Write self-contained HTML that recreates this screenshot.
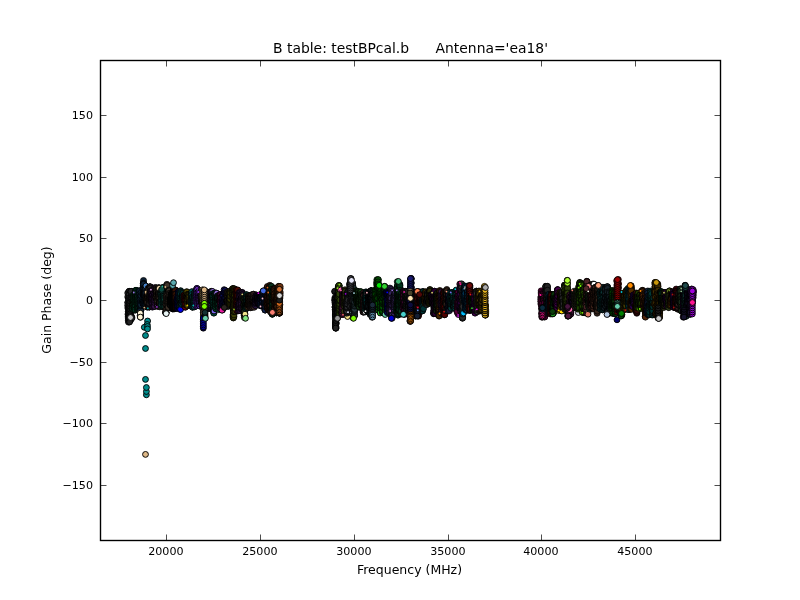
<!DOCTYPE html>
<html><head><meta charset="utf-8"><title>B table: testBPcal.b</title>
<style>
html,body{margin:0;padding:0;background:#fff;}
body{width:800px;height:600px;overflow:hidden;position:relative;font-family:"DejaVu Sans","Liberation Sans",sans-serif;color:#000;}
svg{position:absolute;left:0;top:0;display:block}
text{font-family:"DejaVu Sans","Liberation Sans",sans-serif;fill:#000}
.tk{font-size:11.1px}
.lb{font-size:12.5px}
.tt{font-size:13.9px;white-space:pre}
.m circle{stroke:#000;stroke-width:.95px}
.m .c circle{stroke-width:.7px}
.m .s circle{stroke:none}
</style></head><body>
<svg width="800" height="600" viewBox="0 0 800 600">
<rect x="0" y="0" width="800" height="600" fill="#fff"/>
<g class="m" id="markers">
<g class="c" fill="#262629"><circle cx="127.8" cy="293.0" r="3.05"/><circle cx="127.8" cy="296.9" r="3.05"/><circle cx="127.9" cy="302.7" r="3.05"/><circle cx="127.9" cy="302.4" r="3.05"/><circle cx="128.0" cy="306.0" r="3.05"/><circle cx="128.0" cy="305.3" r="3.05"/><circle cx="128.0" cy="307.5" r="3.05"/><circle cx="128.1" cy="308.6" r="3.05"/><circle cx="128.1" cy="304.7" r="3.05"/><circle cx="128.2" cy="314.2" r="3.05"/><circle cx="128.2" cy="314.8" r="3.05"/><circle cx="128.3" cy="316.6" r="3.05"/><circle cx="128.3" cy="311.6" r="3.05"/><circle cx="128.3" cy="313.2" r="3.05"/><circle cx="128.4" cy="317.5" r="3.05"/><circle cx="128.4" cy="320.6" r="3.05"/><circle cx="128.5" cy="322.1" r="3.05"/><circle cx="128.5" cy="318.6" r="3.05"/><circle cx="128.5" cy="318.6" r="3.05"/><circle cx="128.6" cy="313.2" r="3.05"/><circle cx="128.6" cy="314.4" r="3.05"/><circle cx="128.7" cy="312.9" r="3.05"/><circle cx="128.7" cy="307.9" r="3.05"/><circle cx="128.7" cy="313.5" r="3.05"/><circle cx="128.8" cy="308.2" r="3.05"/><circle cx="128.8" cy="308.4" r="3.05"/><circle cx="128.9" cy="301.1" r="3.05"/><circle cx="128.9" cy="299.0" r="3.05"/><circle cx="128.9" cy="298.5" r="3.05"/><circle cx="129.0" cy="297.4" r="3.05"/><circle cx="129.0" cy="298.0" r="3.05"/><circle cx="129.1" cy="295.0" r="3.05"/><circle cx="129.1" cy="291.4" r="3.05"/><circle cx="129.2" cy="291.4" r="3.05"/><circle cx="129.2" cy="292.2" r="3.05"/><circle cx="129.2" cy="299.3" r="3.05"/><circle cx="129.3" cy="294.8" r="3.05"/><circle cx="129.3" cy="299.7" r="3.05"/><circle cx="129.4" cy="302.0" r="3.05"/><circle cx="129.4" cy="297.9" r="3.05"/></g>
<g class="c" fill="#262629"><circle cx="130.2" cy="309.4" r="3.05"/><circle cx="130.2" cy="309.5" r="3.05"/><circle cx="130.2" cy="307.2" r="3.05"/><circle cx="130.3" cy="315.4" r="3.05"/><circle cx="130.3" cy="316.7" r="3.05"/><circle cx="130.4" cy="319.2" r="3.05"/><circle cx="130.4" cy="320.1" r="3.05"/><circle cx="130.4" cy="320.1" r="3.05"/><circle cx="130.5" cy="319.1" r="3.05"/><circle cx="130.5" cy="313.3" r="3.05"/><circle cx="130.6" cy="317.1" r="3.05"/><circle cx="130.6" cy="311.9" r="3.05"/><circle cx="130.6" cy="310.7" r="3.05"/><circle cx="130.7" cy="306.7" r="3.05"/><circle cx="130.7" cy="305.8" r="3.05"/><circle cx="130.8" cy="305.4" r="3.05"/><circle cx="130.8" cy="308.9" r="3.05"/><circle cx="130.9" cy="297.7" r="3.05"/><circle cx="130.9" cy="297.7" r="3.05"/><circle cx="130.9" cy="300.8" r="3.05"/><circle cx="131.0" cy="302.6" r="3.05"/><circle cx="131.0" cy="298.4" r="3.05"/><circle cx="131.1" cy="291.5" r="3.05"/><circle cx="131.1" cy="291.5" r="3.05"/><circle cx="131.1" cy="292.7" r="3.05"/><circle cx="131.2" cy="291.5" r="3.05"/><circle cx="131.2" cy="291.5" r="3.05"/><circle cx="131.3" cy="299.2" r="3.05"/><circle cx="131.3" cy="301.2" r="3.05"/><circle cx="131.3" cy="300.2" r="3.05"/><circle cx="131.4" cy="302.1" r="3.05"/><circle cx="131.4" cy="304.4" r="3.05"/><circle cx="131.5" cy="309.4" r="3.05"/><circle cx="131.5" cy="308.3" r="3.05"/><circle cx="131.5" cy="309.7" r="3.05"/><circle cx="131.6" cy="311.5" r="3.05"/><circle cx="131.6" cy="307.1" r="3.05"/><circle cx="131.7" cy="316.9" r="3.05"/><circle cx="131.7" cy="317.7" r="3.05"/><circle cx="131.8" cy="318.2" r="3.05"/></g>
<g fill="#242424"><circle cx="129.6" cy="303.0" r="2.92"/><circle cx="129.6" cy="304.6" r="2.92"/><circle cx="129.6" cy="306.2" r="2.92"/><circle cx="129.6" cy="307.8" r="2.92"/><circle cx="129.6" cy="309.3" r="2.92"/><circle cx="129.6" cy="310.9" r="2.92"/><circle cx="129.6" cy="312.5" r="2.92"/><circle cx="129.6" cy="314.1" r="2.92"/><circle cx="129.6" cy="315.7" r="2.92"/><circle cx="129.6" cy="317.2" r="2.92"/><circle cx="129.6" cy="318.8" r="2.92"/><circle cx="129.6" cy="320.4" r="2.92"/><circle cx="129.6" cy="322.0" r="2.92"/></g>
<g fill="#9370db"><circle cx="136.6" cy="293.0" r="2.92"/></g>
<g class="c" fill="#004625"><circle cx="132.5" cy="304.8" r="3.05"/><circle cx="132.6" cy="308.9" r="3.05"/><circle cx="132.6" cy="308.7" r="3.05"/><circle cx="132.6" cy="308.3" r="3.05"/><circle cx="132.7" cy="308.9" r="3.05"/><circle cx="132.7" cy="308.9" r="3.05"/><circle cx="132.8" cy="307.6" r="3.05"/><circle cx="132.8" cy="308.4" r="3.05"/><circle cx="132.8" cy="305.3" r="3.05"/><circle cx="132.9" cy="305.0" r="3.05"/><circle cx="132.9" cy="306.3" r="3.05"/><circle cx="133.0" cy="304.3" r="3.05"/><circle cx="133.0" cy="302.4" r="3.05"/><circle cx="133.0" cy="304.3" r="3.05"/><circle cx="133.1" cy="304.4" r="3.05"/><circle cx="133.1" cy="301.1" r="3.05"/><circle cx="133.2" cy="299.2" r="3.05"/><circle cx="133.2" cy="300.2" r="3.05"/><circle cx="133.2" cy="299.6" r="3.05"/><circle cx="133.3" cy="298.7" r="3.05"/><circle cx="133.3" cy="300.4" r="3.05"/><circle cx="133.4" cy="296.4" r="3.05"/><circle cx="133.4" cy="299.0" r="3.05"/><circle cx="133.5" cy="295.2" r="3.05"/><circle cx="133.5" cy="295.2" r="3.05"/><circle cx="133.5" cy="296.2" r="3.05"/><circle cx="133.6" cy="297.2" r="3.05"/><circle cx="133.6" cy="297.5" r="3.05"/><circle cx="133.7" cy="297.4" r="3.05"/><circle cx="133.7" cy="297.7" r="3.05"/><circle cx="133.7" cy="298.4" r="3.05"/><circle cx="133.8" cy="299.6" r="3.05"/><circle cx="133.8" cy="299.2" r="3.05"/><circle cx="133.9" cy="300.5" r="3.05"/><circle cx="133.9" cy="301.5" r="3.05"/><circle cx="133.9" cy="301.4" r="3.05"/><circle cx="134.0" cy="303.1" r="3.05"/><circle cx="134.0" cy="303.4" r="3.05"/><circle cx="134.1" cy="306.1" r="3.05"/><circle cx="134.1" cy="304.4" r="3.05"/></g>
<g class="c" fill="#004127"><circle cx="134.9" cy="303.3" r="3.05"/><circle cx="134.9" cy="305.6" r="3.05"/><circle cx="134.9" cy="309.3" r="3.05"/><circle cx="135.0" cy="301.6" r="3.05"/><circle cx="135.0" cy="305.3" r="3.05"/><circle cx="135.1" cy="308.9" r="3.05"/><circle cx="135.1" cy="309.9" r="3.05"/><circle cx="135.2" cy="309.9" r="3.05"/><circle cx="135.2" cy="307.9" r="3.05"/><circle cx="135.2" cy="309.1" r="3.05"/><circle cx="135.3" cy="307.5" r="3.05"/><circle cx="135.3" cy="305.1" r="3.05"/><circle cx="135.4" cy="309.9" r="3.05"/><circle cx="135.4" cy="305.0" r="3.05"/><circle cx="135.4" cy="302.3" r="3.05"/><circle cx="135.5" cy="302.3" r="3.05"/><circle cx="135.5" cy="301.2" r="3.05"/><circle cx="135.6" cy="300.6" r="3.05"/><circle cx="135.6" cy="294.5" r="3.05"/><circle cx="135.6" cy="298.0" r="3.05"/><circle cx="135.7" cy="300.0" r="3.05"/><circle cx="135.7" cy="294.9" r="3.05"/><circle cx="135.8" cy="296.2" r="3.05"/><circle cx="135.8" cy="297.3" r="3.05"/><circle cx="135.8" cy="296.2" r="3.05"/><circle cx="135.9" cy="296.5" r="3.05"/><circle cx="135.9" cy="290.4" r="3.05"/><circle cx="136.0" cy="291.2" r="3.05"/><circle cx="136.0" cy="290.4" r="3.05"/><circle cx="136.1" cy="291.9" r="3.05"/><circle cx="136.1" cy="293.7" r="3.05"/><circle cx="136.1" cy="290.4" r="3.05"/><circle cx="136.2" cy="295.5" r="3.05"/><circle cx="136.2" cy="291.5" r="3.05"/><circle cx="136.3" cy="296.5" r="3.05"/><circle cx="136.3" cy="293.1" r="3.05"/><circle cx="136.3" cy="297.3" r="3.05"/><circle cx="136.4" cy="300.2" r="3.05"/><circle cx="136.4" cy="298.4" r="3.05"/><circle cx="136.5" cy="300.0" r="3.05"/></g>
<g class="c" fill="#004127"><circle cx="137.2" cy="309.7" r="3.05"/><circle cx="137.3" cy="306.9" r="3.05"/><circle cx="137.3" cy="309.7" r="3.05"/><circle cx="137.3" cy="307.6" r="3.05"/><circle cx="137.4" cy="307.1" r="3.05"/><circle cx="137.4" cy="307.0" r="3.05"/><circle cx="137.5" cy="305.0" r="3.05"/><circle cx="137.5" cy="304.6" r="3.05"/><circle cx="137.5" cy="299.5" r="3.05"/><circle cx="137.6" cy="298.4" r="3.05"/><circle cx="137.6" cy="301.0" r="3.05"/><circle cx="137.7" cy="297.1" r="3.05"/><circle cx="137.7" cy="295.8" r="3.05"/><circle cx="137.8" cy="293.8" r="3.05"/><circle cx="137.8" cy="297.5" r="3.05"/><circle cx="137.8" cy="295.4" r="3.05"/><circle cx="137.9" cy="295.6" r="3.05"/><circle cx="137.9" cy="291.9" r="3.05"/><circle cx="138.0" cy="293.2" r="3.05"/><circle cx="138.0" cy="292.3" r="3.05"/><circle cx="138.0" cy="296.9" r="3.05"/><circle cx="138.1" cy="299.5" r="3.05"/><circle cx="138.1" cy="296.3" r="3.05"/><circle cx="138.2" cy="301.8" r="3.05"/><circle cx="138.2" cy="301.9" r="3.05"/><circle cx="138.2" cy="301.0" r="3.05"/><circle cx="138.3" cy="299.0" r="3.05"/><circle cx="138.3" cy="306.2" r="3.05"/><circle cx="138.4" cy="304.7" r="3.05"/><circle cx="138.4" cy="304.9" r="3.05"/><circle cx="138.5" cy="307.9" r="3.05"/><circle cx="138.5" cy="309.0" r="3.05"/><circle cx="138.5" cy="309.7" r="3.05"/><circle cx="138.6" cy="306.9" r="3.05"/><circle cx="138.6" cy="309.6" r="3.05"/><circle cx="138.7" cy="309.0" r="3.05"/><circle cx="138.7" cy="307.8" r="3.05"/><circle cx="138.7" cy="303.8" r="3.05"/><circle cx="138.8" cy="301.6" r="3.05"/><circle cx="138.8" cy="303.6" r="3.05"/></g>
<g class="c" fill="#0e2135"><circle cx="139.5" cy="294.5" r="3.05"/><circle cx="139.6" cy="290.6" r="3.05"/><circle cx="139.6" cy="293.5" r="3.05"/><circle cx="139.7" cy="292.2" r="3.05"/><circle cx="139.7" cy="291.1" r="3.05"/><circle cx="139.8" cy="294.2" r="3.05"/><circle cx="139.8" cy="297.8" r="3.05"/><circle cx="139.8" cy="297.2" r="3.05"/><circle cx="139.9" cy="302.0" r="3.05"/><circle cx="139.9" cy="299.7" r="3.05"/><circle cx="140.0" cy="304.0" r="3.05"/><circle cx="140.0" cy="306.6" r="3.05"/><circle cx="140.0" cy="308.4" r="3.05"/><circle cx="140.1" cy="303.7" r="3.05"/><circle cx="140.1" cy="309.3" r="3.05"/><circle cx="140.2" cy="303.4" r="3.05"/><circle cx="140.2" cy="306.9" r="3.05"/><circle cx="140.2" cy="306.0" r="3.05"/><circle cx="140.3" cy="315.4" r="3.05"/><circle cx="140.3" cy="310.7" r="3.05"/><circle cx="140.4" cy="315.4" r="3.05"/><circle cx="140.4" cy="316.3" r="3.05"/><circle cx="140.5" cy="316.1" r="3.05"/><circle cx="140.5" cy="313.1" r="3.05"/><circle cx="140.5" cy="313.9" r="3.05"/><circle cx="140.6" cy="317.2" r="3.05"/><circle cx="140.6" cy="310.6" r="3.05"/><circle cx="140.7" cy="310.5" r="3.05"/><circle cx="140.7" cy="310.3" r="3.05"/><circle cx="140.7" cy="305.7" r="3.05"/><circle cx="140.8" cy="301.4" r="3.05"/><circle cx="140.8" cy="301.9" r="3.05"/><circle cx="140.9" cy="304.8" r="3.05"/><circle cx="140.9" cy="296.2" r="3.05"/><circle cx="140.9" cy="297.5" r="3.05"/><circle cx="141.0" cy="300.4" r="3.05"/><circle cx="141.0" cy="298.4" r="3.05"/><circle cx="141.1" cy="294.9" r="3.05"/><circle cx="141.1" cy="295.6" r="3.05"/><circle cx="141.2" cy="292.5" r="3.05"/></g>
<g class="c" fill="#0e2135"><circle cx="142.8" cy="300.3" r="3.05"/><circle cx="142.8" cy="302.2" r="3.05"/><circle cx="142.9" cy="301.2" r="3.05"/><circle cx="142.9" cy="303.1" r="3.05"/><circle cx="143.0" cy="298.8" r="3.05"/><circle cx="143.0" cy="301.1" r="3.05"/><circle cx="143.0" cy="292.7" r="3.05"/><circle cx="143.1" cy="297.8" r="3.05"/><circle cx="143.1" cy="293.8" r="3.05"/><circle cx="143.2" cy="289.0" r="3.05"/><circle cx="143.2" cy="294.0" r="3.05"/><circle cx="143.3" cy="289.9" r="3.05"/><circle cx="143.3" cy="283.5" r="3.05"/><circle cx="143.3" cy="285.3" r="3.05"/><circle cx="143.4" cy="286.6" r="3.05"/><circle cx="143.4" cy="283.1" r="3.05"/><circle cx="143.5" cy="284.6" r="3.05"/><circle cx="143.5" cy="280.5" r="3.05"/><circle cx="143.5" cy="283.2" r="3.05"/><circle cx="143.6" cy="283.9" r="3.05"/><circle cx="143.6" cy="288.0" r="3.05"/><circle cx="143.7" cy="288.0" r="3.05"/><circle cx="143.7" cy="289.0" r="3.05"/><circle cx="143.7" cy="284.3" r="3.05"/><circle cx="143.8" cy="293.3" r="3.05"/><circle cx="143.8" cy="296.0" r="3.05"/><circle cx="143.9" cy="293.6" r="3.05"/><circle cx="143.9" cy="294.7" r="3.05"/><circle cx="143.9" cy="302.3" r="3.05"/><circle cx="144.0" cy="294.7" r="3.05"/><circle cx="144.0" cy="301.8" r="3.05"/><circle cx="144.1" cy="305.3" r="3.05"/><circle cx="144.1" cy="301.6" r="3.05"/><circle cx="144.2" cy="305.3" r="3.05"/><circle cx="144.2" cy="305.3" r="3.05"/><circle cx="144.2" cy="301.7" r="3.05"/><circle cx="144.3" cy="301.8" r="3.05"/><circle cx="144.3" cy="301.1" r="3.05"/><circle cx="144.4" cy="295.0" r="3.05"/><circle cx="144.4" cy="295.4" r="3.05"/></g>
<g fill="#deb887"><circle cx="146.0" cy="306.5" r="2.92"/></g>
<g class="c" fill="#0e2135"><circle cx="144.3" cy="305.3" r="3.05"/><circle cx="144.3" cy="304.9" r="3.05"/><circle cx="144.4" cy="304.1" r="3.05"/><circle cx="144.4" cy="303.5" r="3.05"/><circle cx="144.4" cy="305.9" r="3.05"/><circle cx="144.5" cy="305.2" r="3.05"/><circle cx="144.5" cy="303.3" r="3.05"/><circle cx="144.6" cy="296.3" r="3.05"/><circle cx="144.6" cy="301.2" r="3.05"/><circle cx="144.7" cy="300.0" r="3.05"/><circle cx="144.7" cy="301.2" r="3.05"/><circle cx="144.7" cy="297.9" r="3.05"/><circle cx="144.8" cy="296.0" r="3.05"/><circle cx="144.8" cy="296.1" r="3.05"/><circle cx="144.9" cy="290.5" r="3.05"/><circle cx="144.9" cy="295.0" r="3.05"/><circle cx="144.9" cy="292.7" r="3.05"/><circle cx="145.0" cy="289.8" r="3.05"/><circle cx="145.0" cy="292.6" r="3.05"/><circle cx="145.1" cy="292.5" r="3.05"/><circle cx="145.1" cy="287.5" r="3.05"/><circle cx="145.1" cy="287.5" r="3.05"/><circle cx="145.2" cy="289.3" r="3.05"/><circle cx="145.2" cy="290.1" r="3.05"/><circle cx="145.3" cy="290.0" r="3.05"/><circle cx="145.3" cy="290.0" r="3.05"/><circle cx="145.4" cy="296.6" r="3.05"/><circle cx="145.4" cy="295.6" r="3.05"/><circle cx="145.4" cy="292.5" r="3.05"/><circle cx="145.5" cy="293.3" r="3.05"/><circle cx="145.5" cy="299.9" r="3.05"/><circle cx="145.6" cy="299.5" r="3.05"/><circle cx="145.6" cy="302.1" r="3.05"/><circle cx="145.6" cy="301.2" r="3.05"/><circle cx="145.7" cy="299.1" r="3.05"/><circle cx="145.7" cy="302.2" r="3.05"/><circle cx="145.8" cy="298.7" r="3.05"/><circle cx="145.8" cy="302.3" r="3.05"/><circle cx="145.8" cy="304.6" r="3.05"/><circle cx="145.9" cy="305.9" r="3.05"/></g>
<g fill="#4682c8"><circle cx="145.9" cy="285.9" r="2.92"/></g>
<g class="c" fill="#332821"><circle cx="146.6" cy="295.2" r="3.05"/><circle cx="146.7" cy="298.0" r="3.05"/><circle cx="146.7" cy="297.4" r="3.05"/><circle cx="146.8" cy="296.5" r="3.05"/><circle cx="146.8" cy="297.6" r="3.05"/><circle cx="146.8" cy="299.5" r="3.05"/><circle cx="146.9" cy="300.1" r="3.05"/><circle cx="146.9" cy="301.3" r="3.05"/><circle cx="147.0" cy="301.7" r="3.05"/><circle cx="147.0" cy="302.8" r="3.05"/><circle cx="147.1" cy="303.0" r="3.05"/><circle cx="147.1" cy="301.6" r="3.05"/><circle cx="147.1" cy="305.5" r="3.05"/><circle cx="147.2" cy="306.9" r="3.05"/><circle cx="147.2" cy="306.9" r="3.05"/><circle cx="147.3" cy="306.5" r="3.05"/><circle cx="147.3" cy="306.9" r="3.05"/><circle cx="147.3" cy="303.6" r="3.05"/><circle cx="147.4" cy="301.1" r="3.05"/><circle cx="147.4" cy="304.0" r="3.05"/><circle cx="147.5" cy="301.4" r="3.05"/><circle cx="147.5" cy="303.8" r="3.05"/><circle cx="147.5" cy="299.7" r="3.05"/><circle cx="147.6" cy="296.0" r="3.05"/><circle cx="147.6" cy="298.3" r="3.05"/><circle cx="147.7" cy="302.4" r="3.05"/><circle cx="147.7" cy="298.0" r="3.05"/><circle cx="147.7" cy="295.4" r="3.05"/><circle cx="147.8" cy="295.8" r="3.05"/><circle cx="147.8" cy="297.4" r="3.05"/><circle cx="147.9" cy="296.7" r="3.05"/><circle cx="147.9" cy="295.3" r="3.05"/><circle cx="148.0" cy="297.0" r="3.05"/><circle cx="148.0" cy="294.8" r="3.05"/><circle cx="148.0" cy="292.7" r="3.05"/><circle cx="148.1" cy="293.1" r="3.05"/><circle cx="148.1" cy="294.4" r="3.05"/><circle cx="148.2" cy="292.3" r="3.05"/><circle cx="148.2" cy="291.7" r="3.05"/><circle cx="148.2" cy="288.3" r="3.05"/></g>
<g fill="#deb887"><circle cx="147.6" cy="292.5" r="2.92"/></g>
<g fill="#00aaaa"><circle cx="149.5" cy="307.0" r="2.92"/></g>
<g class="c" fill="#251e21"><circle cx="149.0" cy="306.2" r="3.05"/><circle cx="149.0" cy="305.1" r="3.05"/><circle cx="149.1" cy="306.9" r="3.05"/><circle cx="149.1" cy="306.9" r="3.05"/><circle cx="149.2" cy="305.2" r="3.05"/><circle cx="149.2" cy="304.9" r="3.05"/><circle cx="149.2" cy="306.9" r="3.05"/><circle cx="149.3" cy="302.4" r="3.05"/><circle cx="149.3" cy="303.9" r="3.05"/><circle cx="149.4" cy="303.3" r="3.05"/><circle cx="149.4" cy="300.5" r="3.05"/><circle cx="149.4" cy="297.3" r="3.05"/><circle cx="149.5" cy="299.1" r="3.05"/><circle cx="149.5" cy="298.6" r="3.05"/><circle cx="149.6" cy="299.3" r="3.05"/><circle cx="149.6" cy="297.7" r="3.05"/><circle cx="149.7" cy="295.4" r="3.05"/><circle cx="149.7" cy="296.2" r="3.05"/><circle cx="149.7" cy="294.7" r="3.05"/><circle cx="149.8" cy="293.2" r="3.05"/><circle cx="149.8" cy="292.0" r="3.05"/><circle cx="149.9" cy="290.6" r="3.05"/><circle cx="149.9" cy="291.6" r="3.05"/><circle cx="149.9" cy="287.2" r="3.05"/><circle cx="150.0" cy="287.2" r="3.05"/><circle cx="150.0" cy="287.6" r="3.05"/><circle cx="150.1" cy="286.9" r="3.05"/><circle cx="150.1" cy="287.0" r="3.05"/><circle cx="150.1" cy="286.9" r="3.05"/><circle cx="150.2" cy="288.3" r="3.05"/><circle cx="150.2" cy="291.6" r="3.05"/><circle cx="150.3" cy="292.5" r="3.05"/><circle cx="150.3" cy="292.1" r="3.05"/><circle cx="150.3" cy="292.6" r="3.05"/><circle cx="150.4" cy="291.1" r="3.05"/><circle cx="150.4" cy="298.4" r="3.05"/><circle cx="150.5" cy="296.6" r="3.05"/><circle cx="150.5" cy="298.7" r="3.05"/><circle cx="150.6" cy="295.6" r="3.05"/><circle cx="150.6" cy="297.8" r="3.05"/></g>
<g fill="#dda0dd"><circle cx="152.6" cy="290.5" r="2.92"/></g>
<g class="c" fill="#351546"><circle cx="151.3" cy="297.3" r="3.05"/><circle cx="151.4" cy="292.6" r="3.05"/><circle cx="151.4" cy="291.6" r="3.05"/><circle cx="151.5" cy="292.0" r="3.05"/><circle cx="151.5" cy="291.9" r="3.05"/><circle cx="151.6" cy="291.0" r="3.05"/><circle cx="151.6" cy="291.2" r="3.05"/><circle cx="151.6" cy="292.0" r="3.05"/><circle cx="151.7" cy="293.5" r="3.05"/><circle cx="151.7" cy="294.4" r="3.05"/><circle cx="151.8" cy="296.6" r="3.05"/><circle cx="151.8" cy="296.9" r="3.05"/><circle cx="151.8" cy="293.7" r="3.05"/><circle cx="151.9" cy="295.9" r="3.05"/><circle cx="151.9" cy="295.8" r="3.05"/><circle cx="152.0" cy="296.6" r="3.05"/><circle cx="152.0" cy="299.1" r="3.05"/><circle cx="152.0" cy="300.1" r="3.05"/><circle cx="152.1" cy="301.7" r="3.05"/><circle cx="152.1" cy="299.2" r="3.05"/><circle cx="152.2" cy="300.6" r="3.05"/><circle cx="152.2" cy="303.5" r="3.05"/><circle cx="152.3" cy="304.0" r="3.05"/><circle cx="152.3" cy="304.7" r="3.05"/><circle cx="152.3" cy="305.9" r="3.05"/><circle cx="152.4" cy="305.7" r="3.05"/><circle cx="152.4" cy="307.1" r="3.05"/><circle cx="152.5" cy="306.2" r="3.05"/><circle cx="152.5" cy="304.6" r="3.05"/><circle cx="152.5" cy="302.8" r="3.05"/><circle cx="152.6" cy="302.8" r="3.05"/><circle cx="152.6" cy="297.8" r="3.05"/><circle cx="152.7" cy="299.8" r="3.05"/><circle cx="152.7" cy="300.6" r="3.05"/><circle cx="152.7" cy="297.2" r="3.05"/><circle cx="152.8" cy="299.1" r="3.05"/><circle cx="152.8" cy="298.2" r="3.05"/><circle cx="152.9" cy="294.9" r="3.05"/><circle cx="152.9" cy="295.8" r="3.05"/><circle cx="152.9" cy="294.9" r="3.05"/></g>
<g class="c" fill="#351546"><circle cx="153.7" cy="289.1" r="3.05"/><circle cx="153.7" cy="290.4" r="3.05"/><circle cx="153.8" cy="290.6" r="3.05"/><circle cx="153.8" cy="289.7" r="3.05"/><circle cx="153.9" cy="289.5" r="3.05"/><circle cx="153.9" cy="292.4" r="3.05"/><circle cx="154.0" cy="292.8" r="3.05"/><circle cx="154.0" cy="293.1" r="3.05"/><circle cx="154.0" cy="296.0" r="3.05"/><circle cx="154.1" cy="296.3" r="3.05"/><circle cx="154.1" cy="298.5" r="3.05"/><circle cx="154.2" cy="300.3" r="3.05"/><circle cx="154.2" cy="299.6" r="3.05"/><circle cx="154.2" cy="305.8" r="3.05"/><circle cx="154.3" cy="301.8" r="3.05"/><circle cx="154.3" cy="305.5" r="3.05"/><circle cx="154.4" cy="304.7" r="3.05"/><circle cx="154.4" cy="306.4" r="3.05"/><circle cx="154.4" cy="301.8" r="3.05"/><circle cx="154.5" cy="303.9" r="3.05"/><circle cx="154.5" cy="304.7" r="3.05"/><circle cx="154.6" cy="304.4" r="3.05"/><circle cx="154.6" cy="306.4" r="3.05"/><circle cx="154.6" cy="301.8" r="3.05"/><circle cx="154.7" cy="302.5" r="3.05"/><circle cx="154.7" cy="300.5" r="3.05"/><circle cx="154.8" cy="299.9" r="3.05"/><circle cx="154.8" cy="298.0" r="3.05"/><circle cx="154.9" cy="295.7" r="3.05"/><circle cx="154.9" cy="295.9" r="3.05"/><circle cx="154.9" cy="291.9" r="3.05"/><circle cx="155.0" cy="295.1" r="3.05"/><circle cx="155.0" cy="290.0" r="3.05"/><circle cx="155.1" cy="291.3" r="3.05"/><circle cx="155.1" cy="293.8" r="3.05"/><circle cx="155.1" cy="288.4" r="3.05"/><circle cx="155.2" cy="287.5" r="3.05"/><circle cx="155.2" cy="290.5" r="3.05"/><circle cx="155.3" cy="289.3" r="3.05"/><circle cx="155.3" cy="288.8" r="3.05"/></g>
<g class="c" fill="#382e25"><circle cx="156.1" cy="298.4" r="3.05"/><circle cx="156.1" cy="296.9" r="3.05"/><circle cx="156.1" cy="294.9" r="3.05"/><circle cx="156.2" cy="297.6" r="3.05"/><circle cx="156.2" cy="293.0" r="3.05"/><circle cx="156.3" cy="294.8" r="3.05"/><circle cx="156.3" cy="292.0" r="3.05"/><circle cx="156.3" cy="290.9" r="3.05"/><circle cx="156.4" cy="292.8" r="3.05"/><circle cx="156.4" cy="293.2" r="3.05"/><circle cx="156.5" cy="290.0" r="3.05"/><circle cx="156.5" cy="288.1" r="3.05"/><circle cx="156.6" cy="290.1" r="3.05"/><circle cx="156.6" cy="288.0" r="3.05"/><circle cx="156.6" cy="289.3" r="3.05"/><circle cx="156.7" cy="292.2" r="3.05"/><circle cx="156.7" cy="292.2" r="3.05"/><circle cx="156.8" cy="289.9" r="3.05"/><circle cx="156.8" cy="295.7" r="3.05"/><circle cx="156.8" cy="292.2" r="3.05"/><circle cx="156.9" cy="294.4" r="3.05"/><circle cx="156.9" cy="292.5" r="3.05"/><circle cx="157.0" cy="294.3" r="3.05"/><circle cx="157.0" cy="291.9" r="3.05"/><circle cx="157.0" cy="299.0" r="3.05"/><circle cx="157.1" cy="298.9" r="3.05"/><circle cx="157.1" cy="294.9" r="3.05"/><circle cx="157.2" cy="295.1" r="3.05"/><circle cx="157.2" cy="295.6" r="3.05"/><circle cx="157.2" cy="301.4" r="3.05"/><circle cx="157.3" cy="299.1" r="3.05"/><circle cx="157.3" cy="300.6" r="3.05"/><circle cx="157.4" cy="300.8" r="3.05"/><circle cx="157.4" cy="301.9" r="3.05"/><circle cx="157.5" cy="300.8" r="3.05"/><circle cx="157.5" cy="303.5" r="3.05"/><circle cx="157.5" cy="301.6" r="3.05"/><circle cx="157.6" cy="304.8" r="3.05"/><circle cx="157.6" cy="306.1" r="3.05"/><circle cx="157.7" cy="306.2" r="3.05"/></g>
<g fill="#9932cc"><circle cx="158.0" cy="305.5" r="2.92"/></g>
<g class="c" fill="#382e25"><circle cx="158.4" cy="299.2" r="3.05"/><circle cx="158.5" cy="296.6" r="3.05"/><circle cx="158.5" cy="295.1" r="3.05"/><circle cx="158.5" cy="293.8" r="3.05"/><circle cx="158.6" cy="292.4" r="3.05"/><circle cx="158.6" cy="292.7" r="3.05"/><circle cx="158.7" cy="293.0" r="3.05"/><circle cx="158.7" cy="292.5" r="3.05"/><circle cx="158.7" cy="291.7" r="3.05"/><circle cx="158.8" cy="293.7" r="3.05"/><circle cx="158.8" cy="287.9" r="3.05"/><circle cx="158.9" cy="288.0" r="3.05"/><circle cx="158.9" cy="293.9" r="3.05"/><circle cx="158.9" cy="287.9" r="3.05"/><circle cx="159.0" cy="289.4" r="3.05"/><circle cx="159.0" cy="291.6" r="3.05"/><circle cx="159.1" cy="292.5" r="3.05"/><circle cx="159.1" cy="293.8" r="3.05"/><circle cx="159.2" cy="293.5" r="3.05"/><circle cx="159.2" cy="295.5" r="3.05"/><circle cx="159.2" cy="295.8" r="3.05"/><circle cx="159.3" cy="298.1" r="3.05"/><circle cx="159.3" cy="293.9" r="3.05"/><circle cx="159.4" cy="296.7" r="3.05"/><circle cx="159.4" cy="299.3" r="3.05"/><circle cx="159.4" cy="298.2" r="3.05"/><circle cx="159.5" cy="299.1" r="3.05"/><circle cx="159.5" cy="303.1" r="3.05"/><circle cx="159.6" cy="301.6" r="3.05"/><circle cx="159.6" cy="304.9" r="3.05"/><circle cx="159.6" cy="306.0" r="3.05"/><circle cx="159.7" cy="306.0" r="3.05"/><circle cx="159.7" cy="306.8" r="3.05"/><circle cx="159.8" cy="306.1" r="3.05"/><circle cx="159.8" cy="302.8" r="3.05"/><circle cx="159.9" cy="304.5" r="3.05"/><circle cx="159.9" cy="304.5" r="3.05"/><circle cx="159.9" cy="301.8" r="3.05"/><circle cx="160.0" cy="301.7" r="3.05"/><circle cx="160.0" cy="302.4" r="3.05"/></g>
<g class="c" fill="#0b4f43"><circle cx="160.8" cy="289.8" r="3.05"/><circle cx="160.8" cy="292.6" r="3.05"/><circle cx="160.9" cy="291.5" r="3.05"/><circle cx="160.9" cy="293.7" r="3.05"/><circle cx="160.9" cy="292.0" r="3.05"/><circle cx="161.0" cy="294.3" r="3.05"/><circle cx="161.0" cy="295.4" r="3.05"/><circle cx="161.1" cy="293.4" r="3.05"/><circle cx="161.1" cy="300.3" r="3.05"/><circle cx="161.1" cy="300.4" r="3.05"/><circle cx="161.2" cy="296.8" r="3.05"/><circle cx="161.2" cy="302.4" r="3.05"/><circle cx="161.3" cy="302.0" r="3.05"/><circle cx="161.3" cy="304.1" r="3.05"/><circle cx="161.3" cy="305.1" r="3.05"/><circle cx="161.4" cy="302.9" r="3.05"/><circle cx="161.4" cy="304.5" r="3.05"/><circle cx="161.5" cy="305.8" r="3.05"/><circle cx="161.5" cy="301.6" r="3.05"/><circle cx="161.5" cy="299.6" r="3.05"/><circle cx="161.6" cy="297.9" r="3.05"/><circle cx="161.6" cy="297.0" r="3.05"/><circle cx="161.7" cy="298.7" r="3.05"/><circle cx="161.7" cy="300.0" r="3.05"/><circle cx="161.8" cy="296.6" r="3.05"/><circle cx="161.8" cy="295.1" r="3.05"/><circle cx="161.8" cy="297.6" r="3.05"/><circle cx="161.9" cy="291.5" r="3.05"/><circle cx="161.9" cy="290.1" r="3.05"/><circle cx="162.0" cy="291.1" r="3.05"/><circle cx="162.0" cy="290.0" r="3.05"/><circle cx="162.0" cy="287.9" r="3.05"/><circle cx="162.1" cy="287.9" r="3.05"/><circle cx="162.1" cy="290.7" r="3.05"/><circle cx="162.2" cy="291.7" r="3.05"/><circle cx="162.2" cy="290.1" r="3.05"/><circle cx="162.2" cy="293.2" r="3.05"/><circle cx="162.3" cy="293.7" r="3.05"/><circle cx="162.3" cy="296.6" r="3.05"/><circle cx="162.4" cy="296.7" r="3.05"/></g>
<g fill="#20b090"><circle cx="164.0" cy="287.0" r="2.92"/></g>
<g class="c" fill="#0b4f43"><circle cx="163.1" cy="306.6" r="3.05"/><circle cx="163.2" cy="306.4" r="3.05"/><circle cx="163.2" cy="306.5" r="3.05"/><circle cx="163.2" cy="306.6" r="3.05"/><circle cx="163.3" cy="302.1" r="3.05"/><circle cx="163.3" cy="301.5" r="3.05"/><circle cx="163.4" cy="300.8" r="3.05"/><circle cx="163.4" cy="296.5" r="3.05"/><circle cx="163.5" cy="298.1" r="3.05"/><circle cx="163.5" cy="295.7" r="3.05"/><circle cx="163.5" cy="296.4" r="3.05"/><circle cx="163.6" cy="292.5" r="3.05"/><circle cx="163.6" cy="289.7" r="3.05"/><circle cx="163.7" cy="292.3" r="3.05"/><circle cx="163.7" cy="291.5" r="3.05"/><circle cx="163.7" cy="288.9" r="3.05"/><circle cx="163.8" cy="290.4" r="3.05"/><circle cx="163.8" cy="288.1" r="3.05"/><circle cx="163.9" cy="288.6" r="3.05"/><circle cx="163.9" cy="291.8" r="3.05"/><circle cx="163.9" cy="289.2" r="3.05"/><circle cx="164.0" cy="292.0" r="3.05"/><circle cx="164.0" cy="294.4" r="3.05"/><circle cx="164.1" cy="297.2" r="3.05"/><circle cx="164.1" cy="296.5" r="3.05"/><circle cx="164.2" cy="298.5" r="3.05"/><circle cx="164.2" cy="297.9" r="3.05"/><circle cx="164.2" cy="300.9" r="3.05"/><circle cx="164.3" cy="304.6" r="3.05"/><circle cx="164.3" cy="301.4" r="3.05"/><circle cx="164.4" cy="306.6" r="3.05"/><circle cx="164.4" cy="303.8" r="3.05"/><circle cx="164.4" cy="306.2" r="3.05"/><circle cx="164.5" cy="306.1" r="3.05"/><circle cx="164.5" cy="306.5" r="3.05"/><circle cx="164.6" cy="301.1" r="3.05"/><circle cx="164.6" cy="298.4" r="3.05"/><circle cx="164.6" cy="302.2" r="3.05"/><circle cx="164.7" cy="301.4" r="3.05"/><circle cx="164.7" cy="299.9" r="3.05"/></g>
<g fill="#deb887"><circle cx="166.6" cy="287.6" r="2.92"/></g>
<g class="c" fill="#3e332a"><circle cx="165.7" cy="312.7" r="3.05"/><circle cx="165.7" cy="312.5" r="3.05"/><circle cx="165.8" cy="305.4" r="3.05"/><circle cx="165.8" cy="309.0" r="3.05"/><circle cx="165.9" cy="301.5" r="3.05"/><circle cx="165.9" cy="312.7" r="3.05"/><circle cx="165.9" cy="310.9" r="3.05"/><circle cx="166.0" cy="312.7" r="3.05"/><circle cx="166.0" cy="312.7" r="3.05"/><circle cx="166.1" cy="308.5" r="3.05"/><circle cx="166.1" cy="306.7" r="3.05"/><circle cx="166.2" cy="304.8" r="3.05"/><circle cx="166.2" cy="302.7" r="3.05"/><circle cx="166.2" cy="302.2" r="3.05"/><circle cx="166.3" cy="304.6" r="3.05"/><circle cx="166.3" cy="301.8" r="3.05"/><circle cx="166.4" cy="300.7" r="3.05"/><circle cx="166.4" cy="298.9" r="3.05"/><circle cx="166.4" cy="300.9" r="3.05"/><circle cx="166.5" cy="298.5" r="3.05"/><circle cx="166.5" cy="295.6" r="3.05"/><circle cx="166.6" cy="296.8" r="3.05"/><circle cx="166.6" cy="293.3" r="3.05"/><circle cx="166.6" cy="289.3" r="3.05"/><circle cx="166.7" cy="295.6" r="3.05"/><circle cx="166.7" cy="291.6" r="3.05"/><circle cx="166.8" cy="286.5" r="3.05"/><circle cx="166.8" cy="291.1" r="3.05"/><circle cx="166.8" cy="287.9" r="3.05"/><circle cx="166.9" cy="284.4" r="3.05"/><circle cx="166.9" cy="289.2" r="3.05"/><circle cx="167.0" cy="286.2" r="3.05"/><circle cx="167.0" cy="289.0" r="3.05"/><circle cx="167.1" cy="288.1" r="3.05"/><circle cx="167.1" cy="288.3" r="3.05"/><circle cx="167.1" cy="285.5" r="3.05"/><circle cx="167.2" cy="293.7" r="3.05"/><circle cx="167.2" cy="292.2" r="3.05"/><circle cx="167.3" cy="292.4" r="3.05"/><circle cx="167.3" cy="295.4" r="3.05"/></g>
<g class="c" fill="#3e332a"><circle cx="167.8" cy="299.1" r="3.05"/><circle cx="167.9" cy="303.0" r="3.05"/><circle cx="167.9" cy="300.8" r="3.05"/><circle cx="168.0" cy="302.1" r="3.05"/><circle cx="168.0" cy="305.9" r="3.05"/><circle cx="168.0" cy="303.4" r="3.05"/><circle cx="168.1" cy="306.1" r="3.05"/><circle cx="168.1" cy="307.8" r="3.05"/><circle cx="168.2" cy="306.6" r="3.05"/><circle cx="168.2" cy="307.8" r="3.05"/><circle cx="168.2" cy="306.1" r="3.05"/><circle cx="168.3" cy="306.9" r="3.05"/><circle cx="168.3" cy="305.5" r="3.05"/><circle cx="168.4" cy="305.0" r="3.05"/><circle cx="168.4" cy="306.0" r="3.05"/><circle cx="168.5" cy="307.3" r="3.05"/><circle cx="168.5" cy="301.1" r="3.05"/><circle cx="168.5" cy="300.4" r="3.05"/><circle cx="168.6" cy="301.4" r="3.05"/><circle cx="168.6" cy="297.9" r="3.05"/><circle cx="168.7" cy="299.8" r="3.05"/><circle cx="168.7" cy="299.0" r="3.05"/><circle cx="168.7" cy="296.7" r="3.05"/><circle cx="168.8" cy="297.3" r="3.05"/><circle cx="168.8" cy="292.8" r="3.05"/><circle cx="168.9" cy="296.0" r="3.05"/><circle cx="168.9" cy="291.1" r="3.05"/><circle cx="168.9" cy="291.7" r="3.05"/><circle cx="169.0" cy="291.1" r="3.05"/><circle cx="169.0" cy="290.1" r="3.05"/><circle cx="169.1" cy="291.9" r="3.05"/><circle cx="169.1" cy="290.9" r="3.05"/><circle cx="169.1" cy="290.9" r="3.05"/><circle cx="169.2" cy="293.4" r="3.05"/><circle cx="169.2" cy="296.1" r="3.05"/><circle cx="169.3" cy="294.1" r="3.05"/><circle cx="169.3" cy="295.6" r="3.05"/><circle cx="169.4" cy="298.0" r="3.05"/><circle cx="169.4" cy="297.1" r="3.05"/><circle cx="169.4" cy="295.2" r="3.05"/></g>
<g class="c" fill="#090909"><circle cx="170.2" cy="303.3" r="3.05"/><circle cx="170.2" cy="304.8" r="3.05"/><circle cx="170.3" cy="303.5" r="3.05"/><circle cx="170.3" cy="304.3" r="3.05"/><circle cx="170.4" cy="305.5" r="3.05"/><circle cx="170.4" cy="302.1" r="3.05"/><circle cx="170.4" cy="301.7" r="3.05"/><circle cx="170.5" cy="302.3" r="3.05"/><circle cx="170.5" cy="299.8" r="3.05"/><circle cx="170.6" cy="301.2" r="3.05"/><circle cx="170.6" cy="300.5" r="3.05"/><circle cx="170.6" cy="301.0" r="3.05"/><circle cx="170.7" cy="299.3" r="3.05"/><circle cx="170.7" cy="298.7" r="3.05"/><circle cx="170.8" cy="298.8" r="3.05"/><circle cx="170.8" cy="298.7" r="3.05"/><circle cx="170.8" cy="297.6" r="3.05"/><circle cx="170.9" cy="297.8" r="3.05"/><circle cx="170.9" cy="298.2" r="3.05"/><circle cx="171.0" cy="298.2" r="3.05"/><circle cx="171.0" cy="298.3" r="3.05"/><circle cx="171.1" cy="295.2" r="3.05"/><circle cx="171.1" cy="295.1" r="3.05"/><circle cx="171.1" cy="294.5" r="3.05"/><circle cx="171.2" cy="296.7" r="3.05"/><circle cx="171.2" cy="294.5" r="3.05"/><circle cx="171.3" cy="295.2" r="3.05"/><circle cx="171.3" cy="296.3" r="3.05"/><circle cx="171.3" cy="294.7" r="3.05"/><circle cx="171.4" cy="297.1" r="3.05"/><circle cx="171.4" cy="297.0" r="3.05"/><circle cx="171.5" cy="295.5" r="3.05"/><circle cx="171.5" cy="298.3" r="3.05"/><circle cx="171.5" cy="299.7" r="3.05"/><circle cx="171.6" cy="296.8" r="3.05"/><circle cx="171.6" cy="300.2" r="3.05"/><circle cx="171.7" cy="300.0" r="3.05"/><circle cx="171.7" cy="300.7" r="3.05"/><circle cx="171.7" cy="301.2" r="3.05"/><circle cx="171.8" cy="302.6" r="3.05"/></g>
<g class="c" fill="#040404"><circle cx="172.5" cy="306.7" r="3.05"/><circle cx="172.6" cy="308.8" r="3.05"/><circle cx="172.6" cy="308.8" r="3.05"/><circle cx="172.7" cy="306.9" r="3.05"/><circle cx="172.7" cy="303.9" r="3.05"/><circle cx="172.8" cy="303.4" r="3.05"/><circle cx="172.8" cy="304.1" r="3.05"/><circle cx="172.8" cy="304.3" r="3.05"/><circle cx="172.9" cy="302.2" r="3.05"/><circle cx="172.9" cy="301.2" r="3.05"/><circle cx="173.0" cy="299.0" r="3.05"/><circle cx="173.0" cy="300.4" r="3.05"/><circle cx="173.0" cy="296.1" r="3.05"/><circle cx="173.1" cy="294.6" r="3.05"/><circle cx="173.1" cy="296.1" r="3.05"/><circle cx="173.2" cy="293.5" r="3.05"/><circle cx="173.2" cy="291.7" r="3.05"/><circle cx="173.2" cy="290.4" r="3.05"/><circle cx="173.3" cy="290.5" r="3.05"/><circle cx="173.3" cy="293.3" r="3.05"/><circle cx="173.4" cy="293.9" r="3.05"/><circle cx="173.4" cy="292.2" r="3.05"/><circle cx="173.4" cy="296.4" r="3.05"/><circle cx="173.5" cy="297.1" r="3.05"/><circle cx="173.5" cy="296.1" r="3.05"/><circle cx="173.6" cy="300.5" r="3.05"/><circle cx="173.6" cy="299.7" r="3.05"/><circle cx="173.7" cy="300.8" r="3.05"/><circle cx="173.7" cy="304.0" r="3.05"/><circle cx="173.7" cy="306.1" r="3.05"/><circle cx="173.8" cy="303.6" r="3.05"/><circle cx="173.8" cy="306.8" r="3.05"/><circle cx="173.9" cy="305.5" r="3.05"/><circle cx="173.9" cy="308.8" r="3.05"/><circle cx="173.9" cy="307.2" r="3.05"/><circle cx="174.0" cy="308.8" r="3.05"/><circle cx="174.0" cy="304.6" r="3.05"/><circle cx="174.1" cy="306.2" r="3.05"/><circle cx="174.1" cy="307.6" r="3.05"/><circle cx="174.1" cy="297.7" r="3.05"/></g>
<g class="c" fill="#331204"><circle cx="174.9" cy="294.5" r="3.05"/><circle cx="174.9" cy="290.0" r="3.05"/><circle cx="175.0" cy="293.7" r="3.05"/><circle cx="175.0" cy="290.0" r="3.05"/><circle cx="175.1" cy="292.9" r="3.05"/><circle cx="175.1" cy="290.0" r="3.05"/><circle cx="175.1" cy="290.9" r="3.05"/><circle cx="175.2" cy="293.6" r="3.05"/><circle cx="175.2" cy="292.3" r="3.05"/><circle cx="175.3" cy="290.2" r="3.05"/><circle cx="175.3" cy="290.4" r="3.05"/><circle cx="175.4" cy="296.3" r="3.05"/><circle cx="175.4" cy="296.2" r="3.05"/><circle cx="175.4" cy="294.1" r="3.05"/><circle cx="175.5" cy="297.8" r="3.05"/><circle cx="175.5" cy="297.8" r="3.05"/><circle cx="175.6" cy="298.8" r="3.05"/><circle cx="175.6" cy="294.2" r="3.05"/><circle cx="175.6" cy="298.5" r="3.05"/><circle cx="175.7" cy="301.4" r="3.05"/><circle cx="175.7" cy="301.8" r="3.05"/><circle cx="175.8" cy="302.8" r="3.05"/><circle cx="175.8" cy="297.4" r="3.05"/><circle cx="175.8" cy="302.9" r="3.05"/><circle cx="175.9" cy="304.1" r="3.05"/><circle cx="175.9" cy="308.1" r="3.05"/><circle cx="176.0" cy="302.9" r="3.05"/><circle cx="176.0" cy="304.8" r="3.05"/><circle cx="176.0" cy="306.1" r="3.05"/><circle cx="176.1" cy="308.1" r="3.05"/><circle cx="176.1" cy="306.7" r="3.05"/><circle cx="176.2" cy="308.1" r="3.05"/><circle cx="176.2" cy="306.0" r="3.05"/><circle cx="176.3" cy="307.2" r="3.05"/><circle cx="176.3" cy="305.1" r="3.05"/><circle cx="176.3" cy="305.6" r="3.05"/><circle cx="176.4" cy="303.4" r="3.05"/><circle cx="176.4" cy="301.0" r="3.05"/><circle cx="176.5" cy="305.2" r="3.05"/><circle cx="176.5" cy="303.1" r="3.05"/></g>
<g class="c" fill="#00004f"><circle cx="177.3" cy="301.7" r="3.05"/><circle cx="177.3" cy="300.2" r="3.05"/><circle cx="177.3" cy="297.9" r="3.05"/><circle cx="177.4" cy="304.2" r="3.05"/><circle cx="177.4" cy="303.4" r="3.05"/><circle cx="177.5" cy="303.6" r="3.05"/><circle cx="177.5" cy="303.8" r="3.05"/><circle cx="177.5" cy="305.4" r="3.05"/><circle cx="177.6" cy="304.9" r="3.05"/><circle cx="177.6" cy="304.6" r="3.05"/><circle cx="177.7" cy="305.8" r="3.05"/><circle cx="177.7" cy="306.8" r="3.05"/><circle cx="177.7" cy="307.4" r="3.05"/><circle cx="177.8" cy="305.9" r="3.05"/><circle cx="177.8" cy="308.5" r="3.05"/><circle cx="177.9" cy="304.2" r="3.05"/><circle cx="177.9" cy="306.8" r="3.05"/><circle cx="178.0" cy="303.3" r="3.05"/><circle cx="178.0" cy="304.9" r="3.05"/><circle cx="178.0" cy="305.9" r="3.05"/><circle cx="178.1" cy="303.3" r="3.05"/><circle cx="178.1" cy="301.0" r="3.05"/><circle cx="178.2" cy="301.6" r="3.05"/><circle cx="178.2" cy="301.1" r="3.05"/><circle cx="178.2" cy="297.2" r="3.05"/><circle cx="178.3" cy="298.4" r="3.05"/><circle cx="178.3" cy="299.0" r="3.05"/><circle cx="178.4" cy="297.2" r="3.05"/><circle cx="178.4" cy="297.4" r="3.05"/><circle cx="178.4" cy="297.8" r="3.05"/><circle cx="178.5" cy="297.2" r="3.05"/><circle cx="178.5" cy="296.7" r="3.05"/><circle cx="178.6" cy="295.5" r="3.05"/><circle cx="178.6" cy="293.3" r="3.05"/><circle cx="178.6" cy="293.1" r="3.05"/><circle cx="178.7" cy="291.9" r="3.05"/><circle cx="178.7" cy="291.8" r="3.05"/><circle cx="178.8" cy="292.2" r="3.05"/><circle cx="178.8" cy="291.8" r="3.05"/><circle cx="178.9" cy="293.4" r="3.05"/></g>
<g class="c" fill="#004848"><circle cx="179.6" cy="295.7" r="3.05"/><circle cx="179.7" cy="300.8" r="3.05"/><circle cx="179.7" cy="293.3" r="3.05"/><circle cx="179.7" cy="299.0" r="3.05"/><circle cx="179.8" cy="297.2" r="3.05"/><circle cx="179.8" cy="303.6" r="3.05"/><circle cx="179.9" cy="307.9" r="3.05"/><circle cx="179.9" cy="299.6" r="3.05"/><circle cx="179.9" cy="305.6" r="3.05"/><circle cx="180.0" cy="307.6" r="3.05"/><circle cx="180.0" cy="307.3" r="3.05"/><circle cx="180.1" cy="309.2" r="3.05"/><circle cx="180.1" cy="304.0" r="3.05"/><circle cx="180.1" cy="308.5" r="3.05"/><circle cx="180.2" cy="306.4" r="3.05"/><circle cx="180.2" cy="304.6" r="3.05"/><circle cx="180.3" cy="302.3" r="3.05"/><circle cx="180.3" cy="303.3" r="3.05"/><circle cx="180.3" cy="300.0" r="3.05"/><circle cx="180.4" cy="300.1" r="3.05"/><circle cx="180.4" cy="297.6" r="3.05"/><circle cx="180.5" cy="293.1" r="3.05"/><circle cx="180.5" cy="296.0" r="3.05"/><circle cx="180.6" cy="295.3" r="3.05"/><circle cx="180.6" cy="295.1" r="3.05"/><circle cx="180.6" cy="290.7" r="3.05"/><circle cx="180.7" cy="291.2" r="3.05"/><circle cx="180.7" cy="292.5" r="3.05"/><circle cx="180.8" cy="292.8" r="3.05"/><circle cx="180.8" cy="296.1" r="3.05"/><circle cx="180.8" cy="298.7" r="3.05"/><circle cx="180.9" cy="294.5" r="3.05"/><circle cx="180.9" cy="293.8" r="3.05"/><circle cx="181.0" cy="300.2" r="3.05"/><circle cx="181.0" cy="302.6" r="3.05"/><circle cx="181.0" cy="302.7" r="3.05"/><circle cx="181.1" cy="303.7" r="3.05"/><circle cx="181.1" cy="302.3" r="3.05"/><circle cx="181.2" cy="303.3" r="3.05"/><circle cx="181.2" cy="307.5" r="3.05"/></g>
<g fill="#0000e6"><circle cx="180.5" cy="309.5" r="2.92"/></g>
<g class="c" fill="#004848"><circle cx="182.0" cy="301.0" r="3.05"/><circle cx="182.0" cy="302.9" r="3.05"/><circle cx="182.0" cy="302.5" r="3.05"/><circle cx="182.1" cy="304.4" r="3.05"/><circle cx="182.1" cy="304.1" r="3.05"/><circle cx="182.2" cy="302.4" r="3.05"/><circle cx="182.2" cy="304.4" r="3.05"/><circle cx="182.3" cy="301.7" r="3.05"/><circle cx="182.3" cy="302.0" r="3.05"/><circle cx="182.3" cy="301.1" r="3.05"/><circle cx="182.4" cy="300.2" r="3.05"/><circle cx="182.4" cy="300.3" r="3.05"/><circle cx="182.5" cy="298.6" r="3.05"/><circle cx="182.5" cy="296.7" r="3.05"/><circle cx="182.5" cy="295.7" r="3.05"/><circle cx="182.6" cy="296.1" r="3.05"/><circle cx="182.6" cy="296.0" r="3.05"/><circle cx="182.7" cy="296.2" r="3.05"/><circle cx="182.7" cy="295.7" r="3.05"/><circle cx="182.7" cy="295.6" r="3.05"/><circle cx="182.8" cy="294.5" r="3.05"/><circle cx="182.8" cy="293.4" r="3.05"/><circle cx="182.9" cy="293.4" r="3.05"/><circle cx="182.9" cy="293.4" r="3.05"/><circle cx="182.9" cy="294.8" r="3.05"/><circle cx="183.0" cy="296.1" r="3.05"/><circle cx="183.0" cy="296.8" r="3.05"/><circle cx="183.1" cy="296.7" r="3.05"/><circle cx="183.1" cy="297.2" r="3.05"/><circle cx="183.2" cy="299.0" r="3.05"/><circle cx="183.2" cy="298.7" r="3.05"/><circle cx="183.2" cy="300.1" r="3.05"/><circle cx="183.3" cy="300.5" r="3.05"/><circle cx="183.3" cy="300.7" r="3.05"/><circle cx="183.4" cy="302.5" r="3.05"/><circle cx="183.4" cy="301.1" r="3.05"/><circle cx="183.4" cy="301.9" r="3.05"/><circle cx="183.5" cy="302.1" r="3.05"/><circle cx="183.5" cy="302.7" r="3.05"/><circle cx="183.6" cy="304.4" r="3.05"/></g>
<g class="c" fill="#5d0707"><circle cx="184.3" cy="301.0" r="3.05"/><circle cx="184.4" cy="298.8" r="3.05"/><circle cx="184.4" cy="299.3" r="3.05"/><circle cx="184.4" cy="299.7" r="3.05"/><circle cx="184.5" cy="297.4" r="3.05"/><circle cx="184.5" cy="295.5" r="3.05"/><circle cx="184.6" cy="295.3" r="3.05"/><circle cx="184.6" cy="295.0" r="3.05"/><circle cx="184.6" cy="295.0" r="3.05"/><circle cx="184.7" cy="298.4" r="3.05"/><circle cx="184.7" cy="296.6" r="3.05"/><circle cx="184.8" cy="298.2" r="3.05"/><circle cx="184.8" cy="301.5" r="3.05"/><circle cx="184.9" cy="301.1" r="3.05"/><circle cx="184.9" cy="300.8" r="3.05"/><circle cx="184.9" cy="300.4" r="3.05"/><circle cx="185.0" cy="302.4" r="3.05"/><circle cx="185.0" cy="304.6" r="3.05"/><circle cx="185.1" cy="304.2" r="3.05"/><circle cx="185.1" cy="305.7" r="3.05"/><circle cx="185.1" cy="305.1" r="3.05"/><circle cx="185.2" cy="306.3" r="3.05"/><circle cx="185.2" cy="306.2" r="3.05"/><circle cx="185.3" cy="307.1" r="3.05"/><circle cx="185.3" cy="307.1" r="3.05"/><circle cx="185.3" cy="303.7" r="3.05"/><circle cx="185.4" cy="304.5" r="3.05"/><circle cx="185.4" cy="304.2" r="3.05"/><circle cx="185.5" cy="302.4" r="3.05"/><circle cx="185.5" cy="302.0" r="3.05"/><circle cx="185.6" cy="302.5" r="3.05"/><circle cx="185.6" cy="303.2" r="3.05"/><circle cx="185.6" cy="300.8" r="3.05"/><circle cx="185.7" cy="299.7" r="3.05"/><circle cx="185.7" cy="296.7" r="3.05"/><circle cx="185.8" cy="300.1" r="3.05"/><circle cx="185.8" cy="297.1" r="3.05"/><circle cx="185.8" cy="296.2" r="3.05"/><circle cx="185.9" cy="295.0" r="3.05"/><circle cx="185.9" cy="295.2" r="3.05"/></g>
<g fill="#e6c800"><circle cx="187.8" cy="305.5" r="2.92"/></g>
<g class="c" fill="#4f4600"><circle cx="186.7" cy="291.7" r="3.05"/><circle cx="186.7" cy="295.4" r="3.05"/><circle cx="186.8" cy="293.1" r="3.05"/><circle cx="186.8" cy="292.1" r="3.05"/><circle cx="186.8" cy="295.0" r="3.05"/><circle cx="186.9" cy="294.8" r="3.05"/><circle cx="186.9" cy="295.1" r="3.05"/><circle cx="187.0" cy="296.6" r="3.05"/><circle cx="187.0" cy="298.1" r="3.05"/><circle cx="187.0" cy="296.7" r="3.05"/><circle cx="187.1" cy="298.8" r="3.05"/><circle cx="187.1" cy="301.5" r="3.05"/><circle cx="187.2" cy="301.1" r="3.05"/><circle cx="187.2" cy="300.6" r="3.05"/><circle cx="187.2" cy="301.6" r="3.05"/><circle cx="187.3" cy="301.9" r="3.05"/><circle cx="187.3" cy="302.6" r="3.05"/><circle cx="187.4" cy="304.3" r="3.05"/><circle cx="187.4" cy="303.8" r="3.05"/><circle cx="187.5" cy="301.2" r="3.05"/><circle cx="187.5" cy="305.1" r="3.05"/><circle cx="187.5" cy="303.9" r="3.05"/><circle cx="187.6" cy="305.4" r="3.05"/><circle cx="187.6" cy="303.1" r="3.05"/><circle cx="187.7" cy="303.5" r="3.05"/><circle cx="187.7" cy="305.5" r="3.05"/><circle cx="187.7" cy="300.6" r="3.05"/><circle cx="187.8" cy="299.9" r="3.05"/><circle cx="187.8" cy="298.9" r="3.05"/><circle cx="187.9" cy="296.9" r="3.05"/><circle cx="187.9" cy="297.0" r="3.05"/><circle cx="187.9" cy="299.5" r="3.05"/><circle cx="188.0" cy="297.5" r="3.05"/><circle cx="188.0" cy="295.1" r="3.05"/><circle cx="188.1" cy="295.1" r="3.05"/><circle cx="188.1" cy="297.3" r="3.05"/><circle cx="188.2" cy="294.8" r="3.05"/><circle cx="188.2" cy="294.7" r="3.05"/><circle cx="188.2" cy="295.1" r="3.05"/><circle cx="188.3" cy="295.9" r="3.05"/></g>
<g class="c" fill="#4f4600"><circle cx="189.0" cy="296.5" r="3.05"/><circle cx="189.1" cy="296.9" r="3.05"/><circle cx="189.1" cy="296.3" r="3.05"/><circle cx="189.2" cy="295.6" r="3.05"/><circle cx="189.2" cy="295.4" r="3.05"/><circle cx="189.2" cy="295.4" r="3.05"/><circle cx="189.3" cy="295.9" r="3.05"/><circle cx="189.3" cy="295.4" r="3.05"/><circle cx="189.4" cy="298.6" r="3.05"/><circle cx="189.4" cy="298.3" r="3.05"/><circle cx="189.4" cy="296.9" r="3.05"/><circle cx="189.5" cy="300.0" r="3.05"/><circle cx="189.5" cy="299.9" r="3.05"/><circle cx="189.6" cy="297.5" r="3.05"/><circle cx="189.6" cy="301.7" r="3.05"/><circle cx="189.6" cy="301.1" r="3.05"/><circle cx="189.7" cy="302.8" r="3.05"/><circle cx="189.7" cy="299.9" r="3.05"/><circle cx="189.8" cy="302.1" r="3.05"/><circle cx="189.8" cy="302.4" r="3.05"/><circle cx="189.9" cy="302.6" r="3.05"/><circle cx="189.9" cy="303.0" r="3.05"/><circle cx="189.9" cy="304.3" r="3.05"/><circle cx="190.0" cy="302.1" r="3.05"/><circle cx="190.0" cy="302.8" r="3.05"/><circle cx="190.1" cy="303.1" r="3.05"/><circle cx="190.1" cy="304.3" r="3.05"/><circle cx="190.1" cy="304.7" r="3.05"/><circle cx="190.2" cy="305.6" r="3.05"/><circle cx="190.2" cy="305.2" r="3.05"/><circle cx="190.3" cy="304.5" r="3.05"/><circle cx="190.3" cy="303.4" r="3.05"/><circle cx="190.3" cy="303.2" r="3.05"/><circle cx="190.4" cy="304.2" r="3.05"/><circle cx="190.4" cy="303.6" r="3.05"/><circle cx="190.5" cy="302.5" r="3.05"/><circle cx="190.5" cy="301.7" r="3.05"/><circle cx="190.5" cy="303.1" r="3.05"/><circle cx="190.6" cy="300.5" r="3.05"/><circle cx="190.6" cy="301.4" r="3.05"/></g>
<g class="c" fill="#004f4f"><circle cx="191.4" cy="305.0" r="3.05"/><circle cx="191.4" cy="302.8" r="3.05"/><circle cx="191.5" cy="299.1" r="3.05"/><circle cx="191.5" cy="301.6" r="3.05"/><circle cx="191.5" cy="298.2" r="3.05"/><circle cx="191.6" cy="300.6" r="3.05"/><circle cx="191.6" cy="296.6" r="3.05"/><circle cx="191.7" cy="296.5" r="3.05"/><circle cx="191.7" cy="296.2" r="3.05"/><circle cx="191.8" cy="294.3" r="3.05"/><circle cx="191.8" cy="294.2" r="3.05"/><circle cx="191.8" cy="292.0" r="3.05"/><circle cx="191.9" cy="292.9" r="3.05"/><circle cx="191.9" cy="292.5" r="3.05"/><circle cx="192.0" cy="293.7" r="3.05"/><circle cx="192.0" cy="291.7" r="3.05"/><circle cx="192.0" cy="297.1" r="3.05"/><circle cx="192.1" cy="296.3" r="3.05"/><circle cx="192.1" cy="294.5" r="3.05"/><circle cx="192.2" cy="298.4" r="3.05"/><circle cx="192.2" cy="299.9" r="3.05"/><circle cx="192.2" cy="301.8" r="3.05"/><circle cx="192.3" cy="299.4" r="3.05"/><circle cx="192.3" cy="304.5" r="3.05"/><circle cx="192.4" cy="302.8" r="3.05"/><circle cx="192.4" cy="307.1" r="3.05"/><circle cx="192.5" cy="304.7" r="3.05"/><circle cx="192.5" cy="307.0" r="3.05"/><circle cx="192.5" cy="306.3" r="3.05"/><circle cx="192.6" cy="304.6" r="3.05"/><circle cx="192.6" cy="307.1" r="3.05"/><circle cx="192.7" cy="305.8" r="3.05"/><circle cx="192.7" cy="305.8" r="3.05"/><circle cx="192.7" cy="303.8" r="3.05"/><circle cx="192.8" cy="300.7" r="3.05"/><circle cx="192.8" cy="298.0" r="3.05"/><circle cx="192.9" cy="298.6" r="3.05"/><circle cx="192.9" cy="297.6" r="3.05"/><circle cx="192.9" cy="296.4" r="3.05"/><circle cx="193.0" cy="297.6" r="3.05"/></g>
<g class="c" fill="#004f4f"><circle cx="193.7" cy="301.2" r="3.05"/><circle cx="193.8" cy="299.4" r="3.05"/><circle cx="193.8" cy="298.8" r="3.05"/><circle cx="193.9" cy="303.8" r="3.05"/><circle cx="193.9" cy="302.5" r="3.05"/><circle cx="193.9" cy="304.6" r="3.05"/><circle cx="194.0" cy="301.2" r="3.05"/><circle cx="194.0" cy="303.8" r="3.05"/><circle cx="194.1" cy="305.0" r="3.05"/><circle cx="194.1" cy="303.5" r="3.05"/><circle cx="194.2" cy="305.5" r="3.05"/><circle cx="194.2" cy="306.7" r="3.05"/><circle cx="194.2" cy="306.7" r="3.05"/><circle cx="194.3" cy="306.7" r="3.05"/><circle cx="194.3" cy="303.3" r="3.05"/><circle cx="194.4" cy="301.8" r="3.05"/><circle cx="194.4" cy="304.0" r="3.05"/><circle cx="194.4" cy="304.0" r="3.05"/><circle cx="194.5" cy="302.2" r="3.05"/><circle cx="194.5" cy="299.4" r="3.05"/><circle cx="194.6" cy="301.8" r="3.05"/><circle cx="194.6" cy="301.2" r="3.05"/><circle cx="194.6" cy="300.2" r="3.05"/><circle cx="194.7" cy="298.0" r="3.05"/><circle cx="194.7" cy="298.5" r="3.05"/><circle cx="194.8" cy="298.6" r="3.05"/><circle cx="194.8" cy="295.9" r="3.05"/><circle cx="194.8" cy="293.4" r="3.05"/><circle cx="194.9" cy="295.9" r="3.05"/><circle cx="194.9" cy="295.5" r="3.05"/><circle cx="195.0" cy="294.2" r="3.05"/><circle cx="195.0" cy="294.8" r="3.05"/><circle cx="195.1" cy="292.0" r="3.05"/><circle cx="195.1" cy="292.1" r="3.05"/><circle cx="195.1" cy="292.0" r="3.05"/><circle cx="195.2" cy="294.0" r="3.05"/><circle cx="195.2" cy="296.1" r="3.05"/><circle cx="195.3" cy="294.1" r="3.05"/><circle cx="195.3" cy="298.1" r="3.05"/><circle cx="195.3" cy="298.0" r="3.05"/></g>
<g fill="#8a2be2"><circle cx="197.2" cy="288.8" r="2.92"/></g>
<g class="c" fill="#5d23b0"><circle cx="196.1" cy="304.7" r="3.05"/><circle cx="196.1" cy="305.5" r="3.05"/><circle cx="196.2" cy="305.9" r="3.05"/><circle cx="196.2" cy="305.9" r="3.05"/><circle cx="196.3" cy="304.8" r="3.05"/><circle cx="196.3" cy="302.7" r="3.05"/><circle cx="196.3" cy="302.3" r="3.05"/><circle cx="196.4" cy="298.5" r="3.05"/><circle cx="196.4" cy="301.8" r="3.05"/><circle cx="196.5" cy="298.2" r="3.05"/><circle cx="196.5" cy="296.0" r="3.05"/><circle cx="196.5" cy="295.6" r="3.05"/><circle cx="196.6" cy="294.5" r="3.05"/><circle cx="196.6" cy="296.3" r="3.05"/><circle cx="196.7" cy="295.7" r="3.05"/><circle cx="196.7" cy="290.5" r="3.05"/><circle cx="196.8" cy="293.4" r="3.05"/><circle cx="196.8" cy="292.3" r="3.05"/><circle cx="196.8" cy="288.7" r="3.05"/><circle cx="196.9" cy="288.6" r="3.05"/><circle cx="196.9" cy="288.6" r="3.05"/><circle cx="197.0" cy="289.4" r="3.05"/><circle cx="197.0" cy="292.2" r="3.05"/><circle cx="197.0" cy="292.0" r="3.05"/><circle cx="197.1" cy="290.1" r="3.05"/><circle cx="197.1" cy="295.0" r="3.05"/><circle cx="197.2" cy="293.0" r="3.05"/><circle cx="197.2" cy="298.2" r="3.05"/><circle cx="197.2" cy="295.6" r="3.05"/><circle cx="197.3" cy="297.5" r="3.05"/><circle cx="197.3" cy="298.3" r="3.05"/><circle cx="197.4" cy="299.8" r="3.05"/><circle cx="197.4" cy="304.0" r="3.05"/><circle cx="197.4" cy="304.3" r="3.05"/><circle cx="197.5" cy="304.9" r="3.05"/><circle cx="197.5" cy="305.4" r="3.05"/><circle cx="197.6" cy="303.2" r="3.05"/><circle cx="197.6" cy="304.0" r="3.05"/><circle cx="197.7" cy="302.9" r="3.05"/><circle cx="197.7" cy="301.2" r="3.05"/></g>
<g class="c" fill="#5d23b0"><circle cx="198.4" cy="300.2" r="3.05"/><circle cx="198.5" cy="300.9" r="3.05"/><circle cx="198.5" cy="298.5" r="3.05"/><circle cx="198.6" cy="295.2" r="3.05"/><circle cx="198.6" cy="298.9" r="3.05"/><circle cx="198.7" cy="299.9" r="3.05"/><circle cx="198.7" cy="297.8" r="3.05"/><circle cx="198.7" cy="298.1" r="3.05"/><circle cx="198.8" cy="298.3" r="3.05"/><circle cx="198.8" cy="297.1" r="3.05"/><circle cx="198.9" cy="294.1" r="3.05"/><circle cx="198.9" cy="295.7" r="3.05"/><circle cx="198.9" cy="294.6" r="3.05"/><circle cx="199.0" cy="290.9" r="3.05"/><circle cx="199.0" cy="291.5" r="3.05"/><circle cx="199.1" cy="290.9" r="3.05"/><circle cx="199.1" cy="290.9" r="3.05"/><circle cx="199.1" cy="292.5" r="3.05"/><circle cx="199.2" cy="290.9" r="3.05"/><circle cx="199.2" cy="290.9" r="3.05"/><circle cx="199.3" cy="295.6" r="3.05"/><circle cx="199.3" cy="294.8" r="3.05"/><circle cx="199.4" cy="297.2" r="3.05"/><circle cx="199.4" cy="293.6" r="3.05"/><circle cx="199.4" cy="297.9" r="3.05"/><circle cx="199.5" cy="300.0" r="3.05"/><circle cx="199.5" cy="300.6" r="3.05"/><circle cx="199.6" cy="297.9" r="3.05"/><circle cx="199.6" cy="299.3" r="3.05"/><circle cx="199.6" cy="299.3" r="3.05"/><circle cx="199.7" cy="301.7" r="3.05"/><circle cx="199.7" cy="302.4" r="3.05"/><circle cx="199.8" cy="301.7" r="3.05"/><circle cx="199.8" cy="300.1" r="3.05"/><circle cx="199.8" cy="304.0" r="3.05"/><circle cx="199.9" cy="302.8" r="3.05"/><circle cx="199.9" cy="305.1" r="3.05"/><circle cx="200.0" cy="305.2" r="3.05"/><circle cx="200.0" cy="306.0" r="3.05"/><circle cx="200.0" cy="306.0" r="3.05"/></g>
<g class="c" fill="#383127"><circle cx="200.8" cy="300.6" r="3.05"/><circle cx="200.8" cy="298.0" r="3.05"/><circle cx="200.9" cy="294.4" r="3.05"/><circle cx="200.9" cy="293.8" r="3.05"/><circle cx="201.0" cy="295.6" r="3.05"/><circle cx="201.0" cy="295.1" r="3.05"/><circle cx="201.1" cy="297.9" r="3.05"/><circle cx="201.1" cy="291.8" r="3.05"/><circle cx="201.1" cy="294.3" r="3.05"/><circle cx="201.2" cy="293.0" r="3.05"/><circle cx="201.2" cy="290.8" r="3.05"/><circle cx="201.3" cy="290.8" r="3.05"/><circle cx="201.3" cy="291.9" r="3.05"/><circle cx="201.3" cy="291.6" r="3.05"/><circle cx="201.4" cy="292.8" r="3.05"/><circle cx="201.4" cy="294.4" r="3.05"/><circle cx="201.5" cy="293.1" r="3.05"/><circle cx="201.5" cy="295.8" r="3.05"/><circle cx="201.5" cy="294.7" r="3.05"/><circle cx="201.6" cy="295.5" r="3.05"/><circle cx="201.6" cy="297.9" r="3.05"/><circle cx="201.7" cy="296.8" r="3.05"/><circle cx="201.7" cy="298.8" r="3.05"/><circle cx="201.7" cy="301.5" r="3.05"/><circle cx="201.8" cy="299.7" r="3.05"/><circle cx="201.8" cy="300.1" r="3.05"/><circle cx="201.9" cy="302.2" r="3.05"/><circle cx="201.9" cy="301.1" r="3.05"/><circle cx="202.0" cy="304.1" r="3.05"/><circle cx="202.0" cy="301.0" r="3.05"/><circle cx="202.0" cy="304.7" r="3.05"/><circle cx="202.1" cy="303.5" r="3.05"/><circle cx="202.1" cy="303.7" r="3.05"/><circle cx="202.2" cy="306.6" r="3.05"/><circle cx="202.2" cy="305.0" r="3.05"/><circle cx="202.2" cy="306.6" r="3.05"/><circle cx="202.3" cy="306.5" r="3.05"/><circle cx="202.3" cy="306.6" r="3.05"/><circle cx="202.4" cy="302.6" r="3.05"/><circle cx="202.4" cy="305.4" r="3.05"/></g>
<g class="c" fill="#a98d63"><circle cx="202.5" cy="296.6" r="3.05"/><circle cx="202.5" cy="290.3" r="3.05"/><circle cx="202.6" cy="289.9" r="3.05"/><circle cx="202.6" cy="291.7" r="3.05"/><circle cx="202.7" cy="292.4" r="3.05"/><circle cx="202.7" cy="293.1" r="3.05"/><circle cx="202.7" cy="298.4" r="3.05"/><circle cx="202.8" cy="293.8" r="3.05"/><circle cx="202.8" cy="297.1" r="3.05"/><circle cx="202.9" cy="300.9" r="3.05"/><circle cx="202.9" cy="295.2" r="3.05"/><circle cx="203.0" cy="301.9" r="3.05"/><circle cx="203.0" cy="305.2" r="3.05"/><circle cx="203.0" cy="297.4" r="3.05"/><circle cx="203.1" cy="299.2" r="3.05"/><circle cx="203.1" cy="300.5" r="3.05"/><circle cx="203.2" cy="299.3" r="3.05"/><circle cx="203.2" cy="306.7" r="3.05"/><circle cx="203.2" cy="301.4" r="3.05"/><circle cx="203.3" cy="309.0" r="3.05"/><circle cx="203.3" cy="312.7" r="3.05"/><circle cx="203.4" cy="305.3" r="3.05"/><circle cx="203.4" cy="310.0" r="3.05"/><circle cx="203.4" cy="306.6" r="3.05"/><circle cx="203.5" cy="315.2" r="3.05"/><circle cx="203.5" cy="312.0" r="3.05"/><circle cx="203.6" cy="314.4" r="3.05"/><circle cx="203.6" cy="316.4" r="3.05"/><circle cx="203.6" cy="317.6" r="3.05"/><circle cx="203.7" cy="315.9" r="3.05"/><circle cx="203.7" cy="315.8" r="3.05"/><circle cx="203.8" cy="313.2" r="3.05"/><circle cx="203.8" cy="313.9" r="3.05"/><circle cx="203.9" cy="309.3" r="3.05"/><circle cx="203.9" cy="311.6" r="3.05"/><circle cx="203.9" cy="305.0" r="3.05"/><circle cx="204.0" cy="307.9" r="3.05"/><circle cx="204.0" cy="313.5" r="3.05"/><circle cx="204.1" cy="307.4" r="3.05"/><circle cx="204.1" cy="302.6" r="3.05"/></g>
<g class="c" fill="#15152a"><circle cx="205.5" cy="292.0" r="3.05"/><circle cx="205.6" cy="293.9" r="3.05"/><circle cx="205.6" cy="294.6" r="3.05"/><circle cx="205.6" cy="299.3" r="3.05"/><circle cx="205.7" cy="298.6" r="3.05"/><circle cx="205.7" cy="297.8" r="3.05"/><circle cx="205.8" cy="297.0" r="3.05"/><circle cx="205.8" cy="299.2" r="3.05"/><circle cx="205.8" cy="306.0" r="3.05"/><circle cx="205.9" cy="301.5" r="3.05"/><circle cx="205.9" cy="304.1" r="3.05"/><circle cx="206.0" cy="305.5" r="3.05"/><circle cx="206.0" cy="306.0" r="3.05"/><circle cx="206.0" cy="306.7" r="3.05"/><circle cx="206.1" cy="304.0" r="3.05"/><circle cx="206.1" cy="303.5" r="3.05"/><circle cx="206.2" cy="307.1" r="3.05"/><circle cx="206.2" cy="302.0" r="3.05"/><circle cx="206.3" cy="303.4" r="3.05"/><circle cx="206.3" cy="298.6" r="3.05"/><circle cx="206.3" cy="299.7" r="3.05"/><circle cx="206.4" cy="299.5" r="3.05"/><circle cx="206.4" cy="299.7" r="3.05"/><circle cx="206.5" cy="295.5" r="3.05"/><circle cx="206.5" cy="297.1" r="3.05"/><circle cx="206.5" cy="295.8" r="3.05"/><circle cx="206.6" cy="293.1" r="3.05"/><circle cx="206.6" cy="293.9" r="3.05"/><circle cx="206.7" cy="292.0" r="3.05"/><circle cx="206.7" cy="292.0" r="3.05"/><circle cx="206.7" cy="293.7" r="3.05"/><circle cx="206.8" cy="292.0" r="3.05"/><circle cx="206.8" cy="295.6" r="3.05"/><circle cx="206.9" cy="295.2" r="3.05"/><circle cx="206.9" cy="295.5" r="3.05"/><circle cx="207.0" cy="298.1" r="3.05"/><circle cx="207.0" cy="300.9" r="3.05"/><circle cx="207.0" cy="300.1" r="3.05"/><circle cx="207.1" cy="303.6" r="3.05"/><circle cx="207.1" cy="301.0" r="3.05"/></g>
<g class="c" fill="#15152a"><circle cx="207.9" cy="308.4" r="3.05"/><circle cx="207.9" cy="306.7" r="3.05"/><circle cx="208.0" cy="306.4" r="3.05"/><circle cx="208.0" cy="304.5" r="3.05"/><circle cx="208.0" cy="305.3" r="3.05"/><circle cx="208.1" cy="301.7" r="3.05"/><circle cx="208.1" cy="300.3" r="3.05"/><circle cx="208.2" cy="298.6" r="3.05"/><circle cx="208.2" cy="301.6" r="3.05"/><circle cx="208.2" cy="297.9" r="3.05"/><circle cx="208.3" cy="296.5" r="3.05"/><circle cx="208.3" cy="295.7" r="3.05"/><circle cx="208.4" cy="295.5" r="3.05"/><circle cx="208.4" cy="294.0" r="3.05"/><circle cx="208.4" cy="294.0" r="3.05"/><circle cx="208.5" cy="294.0" r="3.05"/><circle cx="208.5" cy="294.7" r="3.05"/><circle cx="208.6" cy="295.1" r="3.05"/><circle cx="208.6" cy="297.4" r="3.05"/><circle cx="208.6" cy="297.6" r="3.05"/><circle cx="208.7" cy="299.4" r="3.05"/><circle cx="208.7" cy="300.5" r="3.05"/><circle cx="208.8" cy="301.6" r="3.05"/><circle cx="208.8" cy="298.8" r="3.05"/><circle cx="208.9" cy="302.2" r="3.05"/><circle cx="208.9" cy="302.7" r="3.05"/><circle cx="208.9" cy="305.9" r="3.05"/><circle cx="209.0" cy="303.4" r="3.05"/><circle cx="209.0" cy="305.6" r="3.05"/><circle cx="209.1" cy="307.2" r="3.05"/><circle cx="209.1" cy="308.0" r="3.05"/><circle cx="209.1" cy="308.6" r="3.05"/><circle cx="209.2" cy="306.2" r="3.05"/><circle cx="209.2" cy="307.3" r="3.05"/><circle cx="209.3" cy="302.8" r="3.05"/><circle cx="209.3" cy="301.4" r="3.05"/><circle cx="209.3" cy="304.9" r="3.05"/><circle cx="209.4" cy="302.8" r="3.05"/><circle cx="209.4" cy="302.0" r="3.05"/><circle cx="209.5" cy="300.5" r="3.05"/></g>
<g class="c" fill="#251c46"><circle cx="210.2" cy="302.2" r="3.05"/><circle cx="210.3" cy="301.6" r="3.05"/><circle cx="210.3" cy="303.3" r="3.05"/><circle cx="210.3" cy="307.9" r="3.05"/><circle cx="210.4" cy="306.5" r="3.05"/><circle cx="210.4" cy="306.7" r="3.05"/><circle cx="210.5" cy="307.9" r="3.05"/><circle cx="210.5" cy="306.4" r="3.05"/><circle cx="210.6" cy="305.6" r="3.05"/><circle cx="210.6" cy="306.0" r="3.05"/><circle cx="210.6" cy="305.4" r="3.05"/><circle cx="210.7" cy="307.1" r="3.05"/><circle cx="210.7" cy="304.0" r="3.05"/><circle cx="210.8" cy="306.4" r="3.05"/><circle cx="210.8" cy="305.6" r="3.05"/><circle cx="210.8" cy="304.8" r="3.05"/><circle cx="210.9" cy="303.1" r="3.05"/><circle cx="210.9" cy="301.0" r="3.05"/><circle cx="211.0" cy="300.3" r="3.05"/><circle cx="211.0" cy="299.2" r="3.05"/><circle cx="211.0" cy="297.6" r="3.05"/><circle cx="211.1" cy="298.1" r="3.05"/><circle cx="211.1" cy="296.5" r="3.05"/><circle cx="211.2" cy="299.6" r="3.05"/><circle cx="211.2" cy="297.2" r="3.05"/><circle cx="211.3" cy="294.9" r="3.05"/><circle cx="211.3" cy="291.9" r="3.05"/><circle cx="211.3" cy="294.3" r="3.05"/><circle cx="211.4" cy="293.1" r="3.05"/><circle cx="211.4" cy="291.5" r="3.05"/><circle cx="211.5" cy="291.5" r="3.05"/><circle cx="211.5" cy="291.5" r="3.05"/><circle cx="211.5" cy="292.7" r="3.05"/><circle cx="211.6" cy="292.3" r="3.05"/><circle cx="211.6" cy="297.3" r="3.05"/><circle cx="211.7" cy="293.6" r="3.05"/><circle cx="211.7" cy="294.1" r="3.05"/><circle cx="211.7" cy="297.3" r="3.05"/><circle cx="211.8" cy="295.8" r="3.05"/><circle cx="211.8" cy="296.5" r="3.05"/></g>
<g fill="#9370db"><circle cx="212.5" cy="291.5" r="2.92"/></g>
<g class="c" fill="#004638"><circle cx="212.6" cy="298.5" r="3.05"/><circle cx="212.7" cy="298.4" r="3.05"/><circle cx="212.7" cy="295.9" r="3.05"/><circle cx="212.8" cy="298.6" r="3.05"/><circle cx="212.8" cy="293.9" r="3.05"/><circle cx="212.9" cy="296.2" r="3.05"/><circle cx="212.9" cy="296.4" r="3.05"/><circle cx="212.9" cy="297.1" r="3.05"/><circle cx="213.0" cy="293.9" r="3.05"/><circle cx="213.0" cy="298.1" r="3.05"/><circle cx="213.1" cy="295.5" r="3.05"/><circle cx="213.1" cy="296.2" r="3.05"/><circle cx="213.1" cy="296.0" r="3.05"/><circle cx="213.2" cy="301.5" r="3.05"/><circle cx="213.2" cy="303.3" r="3.05"/><circle cx="213.3" cy="299.8" r="3.05"/><circle cx="213.3" cy="300.3" r="3.05"/><circle cx="213.3" cy="302.0" r="3.05"/><circle cx="213.4" cy="308.2" r="3.05"/><circle cx="213.4" cy="306.2" r="3.05"/><circle cx="213.5" cy="304.0" r="3.05"/><circle cx="213.5" cy="302.5" r="3.05"/><circle cx="213.6" cy="305.4" r="3.05"/><circle cx="213.6" cy="309.8" r="3.05"/><circle cx="213.6" cy="311.9" r="3.05"/><circle cx="213.7" cy="308.7" r="3.05"/><circle cx="213.7" cy="308.7" r="3.05"/><circle cx="213.8" cy="309.9" r="3.05"/><circle cx="213.8" cy="308.1" r="3.05"/><circle cx="213.8" cy="313.0" r="3.05"/><circle cx="213.9" cy="310.6" r="3.05"/><circle cx="213.9" cy="313.0" r="3.05"/><circle cx="214.0" cy="307.8" r="3.05"/><circle cx="214.0" cy="307.8" r="3.05"/><circle cx="214.0" cy="309.9" r="3.05"/><circle cx="214.1" cy="307.1" r="3.05"/><circle cx="214.1" cy="309.2" r="3.05"/><circle cx="214.2" cy="306.9" r="3.05"/><circle cx="214.2" cy="303.9" r="3.05"/><circle cx="214.2" cy="306.5" r="3.05"/></g>
<g fill="#7b68ee"><circle cx="214.0" cy="311.0" r="2.92"/></g>
<g class="c" fill="#094631"><circle cx="214.9" cy="294.3" r="3.05"/><circle cx="215.0" cy="295.2" r="3.05"/><circle cx="215.0" cy="294.9" r="3.05"/><circle cx="215.1" cy="296.1" r="3.05"/><circle cx="215.1" cy="293.2" r="3.05"/><circle cx="215.1" cy="293.2" r="3.05"/><circle cx="215.2" cy="293.2" r="3.05"/><circle cx="215.2" cy="295.4" r="3.05"/><circle cx="215.3" cy="297.2" r="3.05"/><circle cx="215.3" cy="295.0" r="3.05"/><circle cx="215.3" cy="297.7" r="3.05"/><circle cx="215.4" cy="300.3" r="3.05"/><circle cx="215.4" cy="302.9" r="3.05"/><circle cx="215.5" cy="302.4" r="3.05"/><circle cx="215.5" cy="301.9" r="3.05"/><circle cx="215.6" cy="301.5" r="3.05"/><circle cx="215.6" cy="302.8" r="3.05"/><circle cx="215.6" cy="304.2" r="3.05"/><circle cx="215.7" cy="306.4" r="3.05"/><circle cx="215.7" cy="307.0" r="3.05"/><circle cx="215.8" cy="308.6" r="3.05"/><circle cx="215.8" cy="308.6" r="3.05"/><circle cx="215.8" cy="305.7" r="3.05"/><circle cx="215.9" cy="308.6" r="3.05"/><circle cx="215.9" cy="306.9" r="3.05"/><circle cx="216.0" cy="304.7" r="3.05"/><circle cx="216.0" cy="302.4" r="3.05"/><circle cx="216.0" cy="299.7" r="3.05"/><circle cx="216.1" cy="300.1" r="3.05"/><circle cx="216.1" cy="302.1" r="3.05"/><circle cx="216.2" cy="298.5" r="3.05"/><circle cx="216.2" cy="296.8" r="3.05"/><circle cx="216.2" cy="298.2" r="3.05"/><circle cx="216.3" cy="297.3" r="3.05"/><circle cx="216.3" cy="296.9" r="3.05"/><circle cx="216.4" cy="296.0" r="3.05"/><circle cx="216.4" cy="296.3" r="3.05"/><circle cx="216.5" cy="293.2" r="3.05"/><circle cx="216.5" cy="295.7" r="3.05"/><circle cx="216.5" cy="293.6" r="3.05"/></g>
<g fill="#9370db"><circle cx="216.7" cy="293.2" r="2.92"/></g>
<g class="c" fill="#094631"><circle cx="217.3" cy="306.3" r="3.05"/><circle cx="217.3" cy="305.5" r="3.05"/><circle cx="217.4" cy="304.0" r="3.05"/><circle cx="217.4" cy="303.2" r="3.05"/><circle cx="217.5" cy="302.9" r="3.05"/><circle cx="217.5" cy="302.8" r="3.05"/><circle cx="217.5" cy="302.4" r="3.05"/><circle cx="217.6" cy="306.0" r="3.05"/><circle cx="217.6" cy="302.2" r="3.05"/><circle cx="217.7" cy="301.8" r="3.05"/><circle cx="217.7" cy="299.0" r="3.05"/><circle cx="217.7" cy="298.6" r="3.05"/><circle cx="217.8" cy="298.6" r="3.05"/><circle cx="217.8" cy="298.7" r="3.05"/><circle cx="217.9" cy="296.4" r="3.05"/><circle cx="217.9" cy="299.5" r="3.05"/><circle cx="217.9" cy="295.9" r="3.05"/><circle cx="218.0" cy="297.6" r="3.05"/><circle cx="218.0" cy="295.7" r="3.05"/><circle cx="218.1" cy="296.4" r="3.05"/><circle cx="218.1" cy="297.4" r="3.05"/><circle cx="218.2" cy="297.9" r="3.05"/><circle cx="218.2" cy="299.0" r="3.05"/><circle cx="218.2" cy="299.2" r="3.05"/><circle cx="218.3" cy="299.6" r="3.05"/><circle cx="218.3" cy="297.3" r="3.05"/><circle cx="218.4" cy="299.5" r="3.05"/><circle cx="218.4" cy="297.8" r="3.05"/><circle cx="218.4" cy="302.5" r="3.05"/><circle cx="218.5" cy="302.7" r="3.05"/><circle cx="218.5" cy="302.5" r="3.05"/><circle cx="218.6" cy="302.2" r="3.05"/><circle cx="218.6" cy="303.1" r="3.05"/><circle cx="218.6" cy="307.1" r="3.05"/><circle cx="218.7" cy="307.5" r="3.05"/><circle cx="218.7" cy="305.6" r="3.05"/><circle cx="218.8" cy="309.6" r="3.05"/><circle cx="218.8" cy="304.6" r="3.05"/><circle cx="218.8" cy="304.7" r="3.05"/><circle cx="218.9" cy="307.3" r="3.05"/></g>
<g class="c" fill="#4f093f"><circle cx="219.6" cy="294.7" r="3.05"/><circle cx="219.7" cy="295.5" r="3.05"/><circle cx="219.7" cy="296.0" r="3.05"/><circle cx="219.8" cy="298.3" r="3.05"/><circle cx="219.8" cy="300.4" r="3.05"/><circle cx="219.9" cy="297.1" r="3.05"/><circle cx="219.9" cy="300.0" r="3.05"/><circle cx="219.9" cy="300.3" r="3.05"/><circle cx="220.0" cy="302.1" r="3.05"/><circle cx="220.0" cy="300.4" r="3.05"/><circle cx="220.1" cy="301.0" r="3.05"/><circle cx="220.1" cy="301.1" r="3.05"/><circle cx="220.1" cy="306.1" r="3.05"/><circle cx="220.2" cy="306.6" r="3.05"/><circle cx="220.2" cy="307.3" r="3.05"/><circle cx="220.3" cy="304.8" r="3.05"/><circle cx="220.3" cy="308.6" r="3.05"/><circle cx="220.3" cy="306.1" r="3.05"/><circle cx="220.4" cy="304.2" r="3.05"/><circle cx="220.4" cy="304.0" r="3.05"/><circle cx="220.5" cy="305.4" r="3.05"/><circle cx="220.5" cy="304.2" r="3.05"/><circle cx="220.5" cy="302.5" r="3.05"/><circle cx="220.6" cy="302.3" r="3.05"/><circle cx="220.6" cy="299.8" r="3.05"/><circle cx="220.7" cy="299.8" r="3.05"/><circle cx="220.7" cy="298.8" r="3.05"/><circle cx="220.8" cy="298.6" r="3.05"/><circle cx="220.8" cy="296.8" r="3.05"/><circle cx="220.8" cy="295.8" r="3.05"/><circle cx="220.9" cy="294.9" r="3.05"/><circle cx="220.9" cy="294.4" r="3.05"/><circle cx="221.0" cy="298.8" r="3.05"/><circle cx="221.0" cy="297.3" r="3.05"/><circle cx="221.0" cy="298.1" r="3.05"/><circle cx="221.1" cy="301.7" r="3.05"/><circle cx="221.1" cy="301.3" r="3.05"/><circle cx="221.2" cy="298.1" r="3.05"/><circle cx="221.2" cy="302.2" r="3.05"/><circle cx="221.2" cy="303.3" r="3.05"/></g>
<g class="c" fill="#15156a"><circle cx="222.0" cy="307.0" r="3.05"/><circle cx="222.0" cy="306.5" r="3.05"/><circle cx="222.1" cy="304.9" r="3.05"/><circle cx="222.1" cy="306.7" r="3.05"/><circle cx="222.2" cy="307.5" r="3.05"/><circle cx="222.2" cy="309.0" r="3.05"/><circle cx="222.2" cy="309.9" r="3.05"/><circle cx="222.3" cy="308.9" r="3.05"/><circle cx="222.3" cy="306.6" r="3.05"/><circle cx="222.4" cy="309.6" r="3.05"/><circle cx="222.4" cy="309.4" r="3.05"/><circle cx="222.5" cy="305.9" r="3.05"/><circle cx="222.5" cy="306.9" r="3.05"/><circle cx="222.5" cy="305.2" r="3.05"/><circle cx="222.6" cy="304.7" r="3.05"/><circle cx="222.6" cy="303.7" r="3.05"/><circle cx="222.7" cy="300.9" r="3.05"/><circle cx="222.7" cy="302.2" r="3.05"/><circle cx="222.7" cy="302.1" r="3.05"/><circle cx="222.8" cy="298.3" r="3.05"/><circle cx="222.8" cy="302.0" r="3.05"/><circle cx="222.9" cy="301.4" r="3.05"/><circle cx="222.9" cy="300.2" r="3.05"/><circle cx="222.9" cy="299.6" r="3.05"/><circle cx="223.0" cy="296.9" r="3.05"/><circle cx="223.0" cy="294.4" r="3.05"/><circle cx="223.1" cy="294.3" r="3.05"/><circle cx="223.1" cy="294.3" r="3.05"/><circle cx="223.1" cy="296.2" r="3.05"/><circle cx="223.2" cy="296.8" r="3.05"/><circle cx="223.2" cy="298.7" r="3.05"/><circle cx="223.3" cy="295.3" r="3.05"/><circle cx="223.3" cy="302.9" r="3.05"/><circle cx="223.4" cy="303.6" r="3.05"/><circle cx="223.4" cy="300.8" r="3.05"/><circle cx="223.4" cy="302.7" r="3.05"/><circle cx="223.5" cy="303.2" r="3.05"/><circle cx="223.5" cy="303.7" r="3.05"/><circle cx="223.6" cy="303.7" r="3.05"/><circle cx="223.6" cy="304.7" r="3.05"/></g>
<g fill="#1e1e96"><circle cx="224.1" cy="289.7" r="2.92"/></g>
<g class="c" fill="#15156a"><circle cx="224.4" cy="300.6" r="3.05"/><circle cx="224.4" cy="301.5" r="3.05"/><circle cx="224.4" cy="303.2" r="3.05"/><circle cx="224.5" cy="301.7" r="3.05"/><circle cx="224.5" cy="304.7" r="3.05"/><circle cx="224.6" cy="305.2" r="3.05"/><circle cx="224.6" cy="305.2" r="3.05"/><circle cx="224.6" cy="303.0" r="3.05"/><circle cx="224.7" cy="302.0" r="3.05"/><circle cx="224.7" cy="301.5" r="3.05"/><circle cx="224.8" cy="302.0" r="3.05"/><circle cx="224.8" cy="302.3" r="3.05"/><circle cx="224.8" cy="298.9" r="3.05"/><circle cx="224.9" cy="297.3" r="3.05"/><circle cx="224.9" cy="297.9" r="3.05"/><circle cx="225.0" cy="296.8" r="3.05"/><circle cx="225.0" cy="294.3" r="3.05"/><circle cx="225.1" cy="293.6" r="3.05"/><circle cx="225.1" cy="293.7" r="3.05"/><circle cx="225.1" cy="293.9" r="3.05"/><circle cx="225.2" cy="290.7" r="3.05"/><circle cx="225.2" cy="290.7" r="3.05"/><circle cx="225.3" cy="291.8" r="3.05"/><circle cx="225.3" cy="290.7" r="3.05"/><circle cx="225.3" cy="293.0" r="3.05"/><circle cx="225.4" cy="294.3" r="3.05"/><circle cx="225.4" cy="294.5" r="3.05"/><circle cx="225.5" cy="294.1" r="3.05"/><circle cx="225.5" cy="296.3" r="3.05"/><circle cx="225.5" cy="296.8" r="3.05"/><circle cx="225.6" cy="298.7" r="3.05"/><circle cx="225.6" cy="297.9" r="3.05"/><circle cx="225.7" cy="301.5" r="3.05"/><circle cx="225.7" cy="298.4" r="3.05"/><circle cx="225.7" cy="301.5" r="3.05"/><circle cx="225.8" cy="302.6" r="3.05"/><circle cx="225.8" cy="304.9" r="3.05"/><circle cx="225.9" cy="303.5" r="3.05"/><circle cx="225.9" cy="305.2" r="3.05"/><circle cx="226.0" cy="303.3" r="3.05"/></g>
<g fill="#1e1e96"><circle cx="226.5" cy="292.2" r="2.92"/></g>
<g class="c" fill="#332a23"><circle cx="226.7" cy="306.2" r="3.05"/><circle cx="226.8" cy="304.7" r="3.05"/><circle cx="226.8" cy="302.3" r="3.05"/><circle cx="226.8" cy="300.0" r="3.05"/><circle cx="226.9" cy="301.5" r="3.05"/><circle cx="226.9" cy="301.8" r="3.05"/><circle cx="227.0" cy="301.0" r="3.05"/><circle cx="227.0" cy="300.0" r="3.05"/><circle cx="227.0" cy="295.5" r="3.05"/><circle cx="227.1" cy="296.4" r="3.05"/><circle cx="227.1" cy="298.7" r="3.05"/><circle cx="227.2" cy="294.2" r="3.05"/><circle cx="227.2" cy="296.9" r="3.05"/><circle cx="227.2" cy="297.3" r="3.05"/><circle cx="227.3" cy="295.0" r="3.05"/><circle cx="227.3" cy="294.8" r="3.05"/><circle cx="227.4" cy="292.1" r="3.05"/><circle cx="227.4" cy="292.1" r="3.05"/><circle cx="227.4" cy="293.0" r="3.05"/><circle cx="227.5" cy="293.5" r="3.05"/><circle cx="227.5" cy="294.4" r="3.05"/><circle cx="227.6" cy="296.2" r="3.05"/><circle cx="227.6" cy="295.7" r="3.05"/><circle cx="227.7" cy="296.9" r="3.05"/><circle cx="227.7" cy="297.9" r="3.05"/><circle cx="227.7" cy="298.0" r="3.05"/><circle cx="227.8" cy="301.3" r="3.05"/><circle cx="227.8" cy="300.0" r="3.05"/><circle cx="227.9" cy="300.2" r="3.05"/><circle cx="227.9" cy="300.5" r="3.05"/><circle cx="227.9" cy="300.6" r="3.05"/><circle cx="228.0" cy="304.1" r="3.05"/><circle cx="228.0" cy="303.1" r="3.05"/><circle cx="228.1" cy="302.1" r="3.05"/><circle cx="228.1" cy="303.5" r="3.05"/><circle cx="228.1" cy="304.8" r="3.05"/><circle cx="228.2" cy="305.1" r="3.05"/><circle cx="228.2" cy="306.4" r="3.05"/><circle cx="228.3" cy="304.0" r="3.05"/><circle cx="228.3" cy="305.7" r="3.05"/></g>
<g class="c" fill="#353500"><circle cx="229.1" cy="294.8" r="3.05"/><circle cx="229.1" cy="293.1" r="3.05"/><circle cx="229.1" cy="294.6" r="3.05"/><circle cx="229.2" cy="297.8" r="3.05"/><circle cx="229.2" cy="298.9" r="3.05"/><circle cx="229.3" cy="298.1" r="3.05"/><circle cx="229.3" cy="298.0" r="3.05"/><circle cx="229.4" cy="301.0" r="3.05"/><circle cx="229.4" cy="297.3" r="3.05"/><circle cx="229.4" cy="299.8" r="3.05"/><circle cx="229.5" cy="302.4" r="3.05"/><circle cx="229.5" cy="303.1" r="3.05"/><circle cx="229.6" cy="301.5" r="3.05"/><circle cx="229.6" cy="301.0" r="3.05"/><circle cx="229.6" cy="304.6" r="3.05"/><circle cx="229.7" cy="304.5" r="3.05"/><circle cx="229.7" cy="302.4" r="3.05"/><circle cx="229.8" cy="303.0" r="3.05"/><circle cx="229.8" cy="303.5" r="3.05"/><circle cx="229.8" cy="298.1" r="3.05"/><circle cx="229.9" cy="302.4" r="3.05"/><circle cx="229.9" cy="301.2" r="3.05"/><circle cx="230.0" cy="296.7" r="3.05"/><circle cx="230.0" cy="299.9" r="3.05"/><circle cx="230.0" cy="295.8" r="3.05"/><circle cx="230.1" cy="299.1" r="3.05"/><circle cx="230.1" cy="297.4" r="3.05"/><circle cx="230.2" cy="299.2" r="3.05"/><circle cx="230.2" cy="294.6" r="3.05"/><circle cx="230.3" cy="294.8" r="3.05"/><circle cx="230.3" cy="295.5" r="3.05"/><circle cx="230.3" cy="292.5" r="3.05"/><circle cx="230.4" cy="291.8" r="3.05"/><circle cx="230.4" cy="291.5" r="3.05"/><circle cx="230.5" cy="291.3" r="3.05"/><circle cx="230.5" cy="291.0" r="3.05"/><circle cx="230.5" cy="292.6" r="3.05"/><circle cx="230.6" cy="293.4" r="3.05"/><circle cx="230.6" cy="293.4" r="3.05"/><circle cx="230.7" cy="296.3" r="3.05"/></g>
<g class="c" fill="#353500"><circle cx="232.5" cy="294.6" r="3.05"/><circle cx="232.5" cy="294.3" r="3.05"/><circle cx="232.6" cy="291.5" r="3.05"/><circle cx="232.6" cy="288.8" r="3.05"/><circle cx="232.7" cy="288.8" r="3.05"/><circle cx="232.7" cy="290.0" r="3.05"/><circle cx="232.7" cy="290.7" r="3.05"/><circle cx="232.8" cy="288.8" r="3.05"/><circle cx="232.8" cy="294.6" r="3.05"/><circle cx="232.9" cy="296.5" r="3.05"/><circle cx="232.9" cy="298.4" r="3.05"/><circle cx="233.0" cy="298.6" r="3.05"/><circle cx="233.0" cy="303.1" r="3.05"/><circle cx="233.0" cy="307.5" r="3.05"/><circle cx="233.1" cy="306.3" r="3.05"/><circle cx="233.1" cy="307.4" r="3.05"/><circle cx="233.2" cy="314.6" r="3.05"/><circle cx="233.2" cy="315.2" r="3.05"/><circle cx="233.2" cy="316.9" r="3.05"/><circle cx="233.3" cy="317.9" r="3.05"/><circle cx="233.3" cy="316.8" r="3.05"/><circle cx="233.4" cy="315.9" r="3.05"/><circle cx="233.4" cy="317.7" r="3.05"/><circle cx="233.4" cy="311.1" r="3.05"/><circle cx="233.5" cy="310.6" r="3.05"/><circle cx="233.5" cy="310.2" r="3.05"/><circle cx="233.6" cy="308.4" r="3.05"/><circle cx="233.6" cy="304.8" r="3.05"/><circle cx="233.6" cy="306.7" r="3.05"/><circle cx="233.7" cy="301.5" r="3.05"/><circle cx="233.7" cy="302.3" r="3.05"/><circle cx="233.8" cy="301.6" r="3.05"/><circle cx="233.8" cy="298.6" r="3.05"/><circle cx="233.9" cy="297.0" r="3.05"/><circle cx="233.9" cy="289.7" r="3.05"/><circle cx="233.9" cy="288.8" r="3.05"/><circle cx="234.0" cy="288.8" r="3.05"/><circle cx="234.0" cy="291.2" r="3.05"/><circle cx="234.1" cy="296.0" r="3.05"/><circle cx="234.1" cy="289.9" r="3.05"/></g>
<g fill="#8cb41e"><circle cx="234.0" cy="311.0" r="2.92"/></g>
<g class="c" fill="#3e4107"><circle cx="233.8" cy="313.9" r="3.05"/><circle cx="233.8" cy="312.0" r="3.05"/><circle cx="233.9" cy="316.6" r="3.05"/><circle cx="233.9" cy="314.8" r="3.05"/><circle cx="233.9" cy="311.3" r="3.05"/><circle cx="234.0" cy="311.2" r="3.05"/><circle cx="234.0" cy="307.1" r="3.05"/><circle cx="234.1" cy="304.4" r="3.05"/><circle cx="234.1" cy="305.1" r="3.05"/><circle cx="234.1" cy="303.2" r="3.05"/><circle cx="234.2" cy="311.6" r="3.05"/><circle cx="234.2" cy="301.2" r="3.05"/><circle cx="234.3" cy="305.8" r="3.05"/><circle cx="234.3" cy="300.7" r="3.05"/><circle cx="234.3" cy="299.7" r="3.05"/><circle cx="234.4" cy="299.7" r="3.05"/><circle cx="234.4" cy="294.3" r="3.05"/><circle cx="234.5" cy="297.7" r="3.05"/><circle cx="234.5" cy="295.0" r="3.05"/><circle cx="234.6" cy="289.4" r="3.05"/><circle cx="234.6" cy="293.2" r="3.05"/><circle cx="234.6" cy="291.9" r="3.05"/><circle cx="234.7" cy="290.8" r="3.05"/><circle cx="234.7" cy="295.1" r="3.05"/><circle cx="234.8" cy="290.9" r="3.05"/><circle cx="234.8" cy="294.7" r="3.05"/><circle cx="234.8" cy="296.5" r="3.05"/><circle cx="234.9" cy="293.3" r="3.05"/><circle cx="234.9" cy="300.2" r="3.05"/><circle cx="235.0" cy="294.2" r="3.05"/><circle cx="235.0" cy="295.8" r="3.05"/><circle cx="235.0" cy="302.0" r="3.05"/><circle cx="235.1" cy="298.8" r="3.05"/><circle cx="235.1" cy="302.7" r="3.05"/><circle cx="235.2" cy="299.7" r="3.05"/><circle cx="235.2" cy="305.6" r="3.05"/><circle cx="235.3" cy="303.6" r="3.05"/><circle cx="235.3" cy="308.8" r="3.05"/><circle cx="235.3" cy="304.9" r="3.05"/><circle cx="235.4" cy="311.5" r="3.05"/></g>
<g class="c" fill="#4f0b00"><circle cx="236.1" cy="291.5" r="3.05"/><circle cx="236.2" cy="290.1" r="3.05"/><circle cx="236.2" cy="290.1" r="3.05"/><circle cx="236.3" cy="292.7" r="3.05"/><circle cx="236.3" cy="290.1" r="3.05"/><circle cx="236.3" cy="292.4" r="3.05"/><circle cx="236.4" cy="293.8" r="3.05"/><circle cx="236.4" cy="293.9" r="3.05"/><circle cx="236.5" cy="297.8" r="3.05"/><circle cx="236.5" cy="297.9" r="3.05"/><circle cx="236.5" cy="297.6" r="3.05"/><circle cx="236.6" cy="298.4" r="3.05"/><circle cx="236.6" cy="303.1" r="3.05"/><circle cx="236.7" cy="301.2" r="3.05"/><circle cx="236.7" cy="304.8" r="3.05"/><circle cx="236.7" cy="305.6" r="3.05"/><circle cx="236.8" cy="301.9" r="3.05"/><circle cx="236.8" cy="304.6" r="3.05"/><circle cx="236.9" cy="307.9" r="3.05"/><circle cx="236.9" cy="309.6" r="3.05"/><circle cx="237.0" cy="310.5" r="3.05"/><circle cx="237.0" cy="310.5" r="3.05"/><circle cx="237.0" cy="310.5" r="3.05"/><circle cx="237.1" cy="307.0" r="3.05"/><circle cx="237.1" cy="306.3" r="3.05"/><circle cx="237.2" cy="307.2" r="3.05"/><circle cx="237.2" cy="303.7" r="3.05"/><circle cx="237.2" cy="305.7" r="3.05"/><circle cx="237.3" cy="299.2" r="3.05"/><circle cx="237.3" cy="302.7" r="3.05"/><circle cx="237.4" cy="299.9" r="3.05"/><circle cx="237.4" cy="295.2" r="3.05"/><circle cx="237.4" cy="300.1" r="3.05"/><circle cx="237.5" cy="297.7" r="3.05"/><circle cx="237.5" cy="296.1" r="3.05"/><circle cx="237.6" cy="292.7" r="3.05"/><circle cx="237.6" cy="292.9" r="3.05"/><circle cx="237.6" cy="295.9" r="3.05"/><circle cx="237.7" cy="290.1" r="3.05"/><circle cx="237.7" cy="290.1" r="3.05"/></g>
<g class="c" fill="#311541"><circle cx="238.5" cy="305.0" r="3.05"/><circle cx="238.5" cy="306.1" r="3.05"/><circle cx="238.6" cy="310.6" r="3.05"/><circle cx="238.6" cy="307.1" r="3.05"/><circle cx="238.6" cy="310.6" r="3.05"/><circle cx="238.7" cy="308.4" r="3.05"/><circle cx="238.7" cy="306.3" r="3.05"/><circle cx="238.8" cy="308.7" r="3.05"/><circle cx="238.8" cy="307.2" r="3.05"/><circle cx="238.9" cy="303.3" r="3.05"/><circle cx="238.9" cy="305.5" r="3.05"/><circle cx="238.9" cy="299.7" r="3.05"/><circle cx="239.0" cy="300.3" r="3.05"/><circle cx="239.0" cy="303.0" r="3.05"/><circle cx="239.1" cy="299.4" r="3.05"/><circle cx="239.1" cy="296.5" r="3.05"/><circle cx="239.1" cy="298.7" r="3.05"/><circle cx="239.2" cy="298.4" r="3.05"/><circle cx="239.2" cy="295.6" r="3.05"/><circle cx="239.3" cy="292.4" r="3.05"/><circle cx="239.3" cy="293.0" r="3.05"/><circle cx="239.3" cy="293.3" r="3.05"/><circle cx="239.4" cy="294.7" r="3.05"/><circle cx="239.4" cy="297.7" r="3.05"/><circle cx="239.5" cy="295.0" r="3.05"/><circle cx="239.5" cy="295.6" r="3.05"/><circle cx="239.6" cy="297.5" r="3.05"/><circle cx="239.6" cy="300.8" r="3.05"/><circle cx="239.6" cy="297.9" r="3.05"/><circle cx="239.7" cy="303.1" r="3.05"/><circle cx="239.7" cy="296.7" r="3.05"/><circle cx="239.8" cy="304.2" r="3.05"/><circle cx="239.8" cy="302.6" r="3.05"/><circle cx="239.8" cy="305.7" r="3.05"/><circle cx="239.9" cy="307.2" r="3.05"/><circle cx="239.9" cy="304.8" r="3.05"/><circle cx="240.0" cy="307.9" r="3.05"/><circle cx="240.0" cy="309.5" r="3.05"/><circle cx="240.0" cy="310.6" r="3.05"/><circle cx="240.1" cy="308.3" r="3.05"/></g>
<g fill="#d2c878"><circle cx="243.0" cy="295.0" r="2.92"/></g>
<g class="c" fill="#311541"><circle cx="240.8" cy="292.4" r="3.05"/><circle cx="240.9" cy="296.3" r="3.05"/><circle cx="240.9" cy="294.8" r="3.05"/><circle cx="241.0" cy="299.0" r="3.05"/><circle cx="241.0" cy="299.0" r="3.05"/><circle cx="241.0" cy="298.6" r="3.05"/><circle cx="241.1" cy="300.7" r="3.05"/><circle cx="241.1" cy="298.6" r="3.05"/><circle cx="241.2" cy="300.8" r="3.05"/><circle cx="241.2" cy="301.3" r="3.05"/><circle cx="241.3" cy="301.1" r="3.05"/><circle cx="241.3" cy="304.2" r="3.05"/><circle cx="241.3" cy="304.9" r="3.05"/><circle cx="241.4" cy="309.1" r="3.05"/><circle cx="241.4" cy="301.4" r="3.05"/><circle cx="241.5" cy="306.8" r="3.05"/><circle cx="241.5" cy="307.4" r="3.05"/><circle cx="241.5" cy="307.6" r="3.05"/><circle cx="241.6" cy="308.1" r="3.05"/><circle cx="241.6" cy="307.2" r="3.05"/><circle cx="241.7" cy="305.6" r="3.05"/><circle cx="241.7" cy="303.8" r="3.05"/><circle cx="241.7" cy="304.5" r="3.05"/><circle cx="241.8" cy="303.3" r="3.05"/><circle cx="241.8" cy="298.7" r="3.05"/><circle cx="241.9" cy="300.4" r="3.05"/><circle cx="241.9" cy="297.6" r="3.05"/><circle cx="241.9" cy="297.0" r="3.05"/><circle cx="242.0" cy="298.3" r="3.05"/><circle cx="242.0" cy="297.2" r="3.05"/><circle cx="242.1" cy="296.3" r="3.05"/><circle cx="242.1" cy="293.7" r="3.05"/><circle cx="242.2" cy="293.9" r="3.05"/><circle cx="242.2" cy="292.4" r="3.05"/><circle cx="242.2" cy="293.1" r="3.05"/><circle cx="242.3" cy="294.5" r="3.05"/><circle cx="242.3" cy="297.3" r="3.05"/><circle cx="242.4" cy="297.4" r="3.05"/><circle cx="242.4" cy="294.9" r="3.05"/><circle cx="242.4" cy="296.4" r="3.05"/></g>
<g class="c" fill="#27331e"><circle cx="243.6" cy="298.8" r="3.05"/><circle cx="243.6" cy="296.5" r="3.05"/><circle cx="243.7" cy="298.2" r="3.05"/><circle cx="243.7" cy="298.3" r="3.05"/><circle cx="243.8" cy="300.0" r="3.05"/><circle cx="243.8" cy="304.3" r="3.05"/><circle cx="243.8" cy="300.0" r="3.05"/><circle cx="243.9" cy="301.1" r="3.05"/><circle cx="243.9" cy="308.2" r="3.05"/><circle cx="244.0" cy="305.9" r="3.05"/><circle cx="244.0" cy="304.7" r="3.05"/><circle cx="244.1" cy="303.2" r="3.05"/><circle cx="244.1" cy="305.5" r="3.05"/><circle cx="244.1" cy="304.7" r="3.05"/><circle cx="244.2" cy="311.2" r="3.05"/><circle cx="244.2" cy="312.3" r="3.05"/><circle cx="244.3" cy="315.4" r="3.05"/><circle cx="244.3" cy="314.2" r="3.05"/><circle cx="244.3" cy="314.2" r="3.05"/><circle cx="244.4" cy="315.2" r="3.05"/><circle cx="244.4" cy="317.6" r="3.05"/><circle cx="244.5" cy="312.4" r="3.05"/><circle cx="244.5" cy="315.3" r="3.05"/><circle cx="244.5" cy="313.8" r="3.05"/><circle cx="244.6" cy="313.9" r="3.05"/><circle cx="244.6" cy="310.6" r="3.05"/><circle cx="244.7" cy="311.3" r="3.05"/><circle cx="244.7" cy="310.8" r="3.05"/><circle cx="244.7" cy="307.7" r="3.05"/><circle cx="244.8" cy="305.8" r="3.05"/><circle cx="244.8" cy="305.3" r="3.05"/><circle cx="244.9" cy="302.4" r="3.05"/><circle cx="244.9" cy="302.9" r="3.05"/><circle cx="245.0" cy="301.5" r="3.05"/><circle cx="245.0" cy="301.5" r="3.05"/><circle cx="245.0" cy="302.7" r="3.05"/><circle cx="245.1" cy="301.5" r="3.05"/><circle cx="245.1" cy="296.6" r="3.05"/><circle cx="245.2" cy="297.9" r="3.05"/><circle cx="245.2" cy="298.4" r="3.05"/></g>
<g class="c" fill="#0b3831"><circle cx="245.5" cy="305.5" r="3.05"/><circle cx="245.6" cy="306.9" r="3.05"/><circle cx="245.6" cy="306.8" r="3.05"/><circle cx="245.7" cy="307.3" r="3.05"/><circle cx="245.7" cy="307.9" r="3.05"/><circle cx="245.8" cy="307.7" r="3.05"/><circle cx="245.8" cy="305.9" r="3.05"/><circle cx="245.8" cy="308.8" r="3.05"/><circle cx="245.9" cy="307.1" r="3.05"/><circle cx="245.9" cy="305.2" r="3.05"/><circle cx="246.0" cy="303.8" r="3.05"/><circle cx="246.0" cy="306.2" r="3.05"/><circle cx="246.0" cy="301.0" r="3.05"/><circle cx="246.1" cy="305.2" r="3.05"/><circle cx="246.1" cy="302.9" r="3.05"/><circle cx="246.2" cy="304.5" r="3.05"/><circle cx="246.2" cy="299.3" r="3.05"/><circle cx="246.2" cy="299.5" r="3.05"/><circle cx="246.3" cy="298.0" r="3.05"/><circle cx="246.3" cy="298.2" r="3.05"/><circle cx="246.4" cy="296.8" r="3.05"/><circle cx="246.4" cy="295.3" r="3.05"/><circle cx="246.5" cy="297.0" r="3.05"/><circle cx="246.5" cy="294.7" r="3.05"/><circle cx="246.5" cy="294.8" r="3.05"/><circle cx="246.6" cy="297.1" r="3.05"/><circle cx="246.6" cy="296.3" r="3.05"/><circle cx="246.7" cy="297.3" r="3.05"/><circle cx="246.7" cy="299.2" r="3.05"/><circle cx="246.7" cy="299.0" r="3.05"/><circle cx="246.8" cy="298.6" r="3.05"/><circle cx="246.8" cy="301.0" r="3.05"/><circle cx="246.9" cy="301.6" r="3.05"/><circle cx="246.9" cy="305.1" r="3.05"/><circle cx="246.9" cy="302.0" r="3.05"/><circle cx="247.0" cy="305.7" r="3.05"/><circle cx="247.0" cy="304.0" r="3.05"/><circle cx="247.1" cy="305.4" r="3.05"/><circle cx="247.1" cy="306.3" r="3.05"/><circle cx="247.1" cy="307.9" r="3.05"/></g>
<g class="c" fill="#332015"><circle cx="247.9" cy="305.1" r="3.05"/><circle cx="247.9" cy="307.3" r="3.05"/><circle cx="248.0" cy="304.9" r="3.05"/><circle cx="248.0" cy="304.9" r="3.05"/><circle cx="248.1" cy="303.8" r="3.05"/><circle cx="248.1" cy="304.4" r="3.05"/><circle cx="248.2" cy="304.4" r="3.05"/><circle cx="248.2" cy="304.0" r="3.05"/><circle cx="248.2" cy="302.1" r="3.05"/><circle cx="248.3" cy="302.9" r="3.05"/><circle cx="248.3" cy="303.0" r="3.05"/><circle cx="248.4" cy="299.9" r="3.05"/><circle cx="248.4" cy="302.1" r="3.05"/><circle cx="248.4" cy="298.6" r="3.05"/><circle cx="248.5" cy="300.2" r="3.05"/><circle cx="248.5" cy="299.8" r="3.05"/><circle cx="248.6" cy="300.3" r="3.05"/><circle cx="248.6" cy="298.5" r="3.05"/><circle cx="248.6" cy="297.2" r="3.05"/><circle cx="248.7" cy="296.4" r="3.05"/><circle cx="248.7" cy="296.3" r="3.05"/><circle cx="248.8" cy="297.2" r="3.05"/><circle cx="248.8" cy="296.5" r="3.05"/><circle cx="248.8" cy="296.4" r="3.05"/><circle cx="248.9" cy="298.2" r="3.05"/><circle cx="248.9" cy="297.3" r="3.05"/><circle cx="249.0" cy="298.1" r="3.05"/><circle cx="249.0" cy="298.5" r="3.05"/><circle cx="249.1" cy="301.3" r="3.05"/><circle cx="249.1" cy="301.5" r="3.05"/><circle cx="249.1" cy="300.2" r="3.05"/><circle cx="249.2" cy="299.1" r="3.05"/><circle cx="249.2" cy="301.6" r="3.05"/><circle cx="249.3" cy="301.8" r="3.05"/><circle cx="249.3" cy="302.6" r="3.05"/><circle cx="249.3" cy="303.3" r="3.05"/><circle cx="249.4" cy="302.8" r="3.05"/><circle cx="249.4" cy="304.6" r="3.05"/><circle cx="249.5" cy="304.9" r="3.05"/><circle cx="249.5" cy="304.7" r="3.05"/></g>
<g class="c" fill="#3e2a27"><circle cx="250.3" cy="300.8" r="3.05"/><circle cx="250.3" cy="300.4" r="3.05"/><circle cx="250.3" cy="303.6" r="3.05"/><circle cx="250.4" cy="303.6" r="3.05"/><circle cx="250.4" cy="304.4" r="3.05"/><circle cx="250.5" cy="306.2" r="3.05"/><circle cx="250.5" cy="304.0" r="3.05"/><circle cx="250.5" cy="306.5" r="3.05"/><circle cx="250.6" cy="307.6" r="3.05"/><circle cx="250.6" cy="307.6" r="3.05"/><circle cx="250.7" cy="305.0" r="3.05"/><circle cx="250.7" cy="306.5" r="3.05"/><circle cx="250.8" cy="305.2" r="3.05"/><circle cx="250.8" cy="305.9" r="3.05"/><circle cx="250.8" cy="304.9" r="3.05"/><circle cx="250.9" cy="303.4" r="3.05"/><circle cx="250.9" cy="304.7" r="3.05"/><circle cx="251.0" cy="301.2" r="3.05"/><circle cx="251.0" cy="299.9" r="3.05"/><circle cx="251.0" cy="299.3" r="3.05"/><circle cx="251.1" cy="297.8" r="3.05"/><circle cx="251.1" cy="298.2" r="3.05"/><circle cx="251.2" cy="295.1" r="3.05"/><circle cx="251.2" cy="296.6" r="3.05"/><circle cx="251.2" cy="296.6" r="3.05"/><circle cx="251.3" cy="296.5" r="3.05"/><circle cx="251.3" cy="295.0" r="3.05"/><circle cx="251.4" cy="297.9" r="3.05"/><circle cx="251.4" cy="296.1" r="3.05"/><circle cx="251.4" cy="297.5" r="3.05"/><circle cx="251.5" cy="296.0" r="3.05"/><circle cx="251.5" cy="298.2" r="3.05"/><circle cx="251.6" cy="298.9" r="3.05"/><circle cx="251.6" cy="302.4" r="3.05"/><circle cx="251.7" cy="302.0" r="3.05"/><circle cx="251.7" cy="300.7" r="3.05"/><circle cx="251.7" cy="303.5" r="3.05"/><circle cx="251.8" cy="304.2" r="3.05"/><circle cx="251.8" cy="304.0" r="3.05"/><circle cx="251.9" cy="305.1" r="3.05"/></g>
<g class="c" fill="#3e2a27"><circle cx="252.6" cy="307.2" r="3.05"/><circle cx="252.7" cy="305.0" r="3.05"/><circle cx="252.7" cy="303.8" r="3.05"/><circle cx="252.7" cy="303.9" r="3.05"/><circle cx="252.8" cy="304.7" r="3.05"/><circle cx="252.8" cy="303.4" r="3.05"/><circle cx="252.9" cy="301.7" r="3.05"/><circle cx="252.9" cy="302.3" r="3.05"/><circle cx="252.9" cy="300.9" r="3.05"/><circle cx="253.0" cy="301.3" r="3.05"/><circle cx="253.0" cy="299.5" r="3.05"/><circle cx="253.1" cy="297.6" r="3.05"/><circle cx="253.1" cy="298.9" r="3.05"/><circle cx="253.1" cy="299.2" r="3.05"/><circle cx="253.2" cy="296.2" r="3.05"/><circle cx="253.2" cy="296.9" r="3.05"/><circle cx="253.3" cy="297.6" r="3.05"/><circle cx="253.3" cy="295.4" r="3.05"/><circle cx="253.4" cy="294.4" r="3.05"/><circle cx="253.4" cy="297.2" r="3.05"/><circle cx="253.4" cy="295.4" r="3.05"/><circle cx="253.5" cy="296.2" r="3.05"/><circle cx="253.5" cy="294.2" r="3.05"/><circle cx="253.6" cy="298.2" r="3.05"/><circle cx="253.6" cy="294.6" r="3.05"/><circle cx="253.6" cy="296.6" r="3.05"/><circle cx="253.7" cy="298.8" r="3.05"/><circle cx="253.7" cy="300.2" r="3.05"/><circle cx="253.8" cy="297.9" r="3.05"/><circle cx="253.8" cy="298.8" r="3.05"/><circle cx="253.8" cy="300.5" r="3.05"/><circle cx="253.9" cy="298.4" r="3.05"/><circle cx="253.9" cy="302.3" r="3.05"/><circle cx="254.0" cy="302.7" r="3.05"/><circle cx="254.0" cy="302.1" r="3.05"/><circle cx="254.1" cy="303.9" r="3.05"/><circle cx="254.1" cy="304.8" r="3.05"/><circle cx="254.1" cy="304.8" r="3.05"/><circle cx="254.2" cy="305.7" r="3.05"/><circle cx="254.2" cy="307.2" r="3.05"/></g>
<g class="c" fill="#2a153f"><circle cx="255.0" cy="298.8" r="3.05"/><circle cx="255.0" cy="299.3" r="3.05"/><circle cx="255.1" cy="299.7" r="3.05"/><circle cx="255.1" cy="301.9" r="3.05"/><circle cx="255.1" cy="300.6" r="3.05"/><circle cx="255.2" cy="302.6" r="3.05"/><circle cx="255.2" cy="302.5" r="3.05"/><circle cx="255.3" cy="303.5" r="3.05"/><circle cx="255.3" cy="302.5" r="3.05"/><circle cx="255.3" cy="304.2" r="3.05"/><circle cx="255.4" cy="304.5" r="3.05"/><circle cx="255.4" cy="303.6" r="3.05"/><circle cx="255.5" cy="305.0" r="3.05"/><circle cx="255.5" cy="305.1" r="3.05"/><circle cx="255.5" cy="305.4" r="3.05"/><circle cx="255.6" cy="305.6" r="3.05"/><circle cx="255.6" cy="303.7" r="3.05"/><circle cx="255.7" cy="302.2" r="3.05"/><circle cx="255.7" cy="301.6" r="3.05"/><circle cx="255.7" cy="302.4" r="3.05"/><circle cx="255.8" cy="301.7" r="3.05"/><circle cx="255.8" cy="301.8" r="3.05"/><circle cx="255.9" cy="301.9" r="3.05"/><circle cx="255.9" cy="302.6" r="3.05"/><circle cx="256.0" cy="300.6" r="3.05"/><circle cx="256.0" cy="300.2" r="3.05"/><circle cx="256.0" cy="298.5" r="3.05"/><circle cx="256.1" cy="299.3" r="3.05"/><circle cx="256.1" cy="299.6" r="3.05"/><circle cx="256.2" cy="299.1" r="3.05"/><circle cx="256.2" cy="295.2" r="3.05"/><circle cx="256.2" cy="297.6" r="3.05"/><circle cx="256.3" cy="297.8" r="3.05"/><circle cx="256.3" cy="296.5" r="3.05"/><circle cx="256.4" cy="295.1" r="3.05"/><circle cx="256.4" cy="295.2" r="3.05"/><circle cx="256.4" cy="296.6" r="3.05"/><circle cx="256.5" cy="297.0" r="3.05"/><circle cx="256.5" cy="296.2" r="3.05"/><circle cx="256.6" cy="296.7" r="3.05"/></g>
<g class="c" fill="#251238"><circle cx="257.3" cy="302.8" r="3.05"/><circle cx="257.4" cy="301.8" r="3.05"/><circle cx="257.4" cy="299.8" r="3.05"/><circle cx="257.4" cy="302.0" r="3.05"/><circle cx="257.5" cy="299.0" r="3.05"/><circle cx="257.5" cy="298.7" r="3.05"/><circle cx="257.6" cy="299.2" r="3.05"/><circle cx="257.6" cy="299.1" r="3.05"/><circle cx="257.7" cy="298.9" r="3.05"/><circle cx="257.7" cy="297.6" r="3.05"/><circle cx="257.7" cy="297.3" r="3.05"/><circle cx="257.8" cy="296.9" r="3.05"/><circle cx="257.8" cy="296.2" r="3.05"/><circle cx="257.9" cy="296.0" r="3.05"/><circle cx="257.9" cy="296.8" r="3.05"/><circle cx="257.9" cy="296.7" r="3.05"/><circle cx="258.0" cy="297.1" r="3.05"/><circle cx="258.0" cy="296.9" r="3.05"/><circle cx="258.1" cy="298.0" r="3.05"/><circle cx="258.1" cy="298.2" r="3.05"/><circle cx="258.1" cy="298.6" r="3.05"/><circle cx="258.2" cy="299.9" r="3.05"/><circle cx="258.2" cy="298.2" r="3.05"/><circle cx="258.3" cy="300.1" r="3.05"/><circle cx="258.3" cy="299.5" r="3.05"/><circle cx="258.4" cy="300.5" r="3.05"/><circle cx="258.4" cy="302.3" r="3.05"/><circle cx="258.4" cy="300.8" r="3.05"/><circle cx="258.5" cy="301.9" r="3.05"/><circle cx="258.5" cy="302.0" r="3.05"/><circle cx="258.6" cy="303.5" r="3.05"/><circle cx="258.6" cy="302.5" r="3.05"/><circle cx="258.6" cy="302.4" r="3.05"/><circle cx="258.7" cy="303.7" r="3.05"/><circle cx="258.7" cy="302.6" r="3.05"/><circle cx="258.8" cy="302.2" r="3.05"/><circle cx="258.8" cy="302.8" r="3.05"/><circle cx="258.8" cy="300.9" r="3.05"/><circle cx="258.9" cy="300.9" r="3.05"/><circle cx="258.9" cy="300.9" r="3.05"/></g>
<g fill="#ffc0cb"><circle cx="260.8" cy="305.8" r="2.92"/></g>
<g class="c" fill="#0e1c41"><circle cx="259.7" cy="298.8" r="3.05"/><circle cx="259.7" cy="295.0" r="3.05"/><circle cx="259.8" cy="296.9" r="3.05"/><circle cx="259.8" cy="295.0" r="3.05"/><circle cx="259.8" cy="296.0" r="3.05"/><circle cx="259.9" cy="296.2" r="3.05"/><circle cx="259.9" cy="296.6" r="3.05"/><circle cx="260.0" cy="296.6" r="3.05"/><circle cx="260.0" cy="298.2" r="3.05"/><circle cx="260.0" cy="300.6" r="3.05"/><circle cx="260.1" cy="301.2" r="3.05"/><circle cx="260.1" cy="300.4" r="3.05"/><circle cx="260.2" cy="300.9" r="3.05"/><circle cx="260.2" cy="301.4" r="3.05"/><circle cx="260.3" cy="301.6" r="3.05"/><circle cx="260.3" cy="305.4" r="3.05"/><circle cx="260.3" cy="304.9" r="3.05"/><circle cx="260.4" cy="305.0" r="3.05"/><circle cx="260.4" cy="305.1" r="3.05"/><circle cx="260.5" cy="303.8" r="3.05"/><circle cx="260.5" cy="305.6" r="3.05"/><circle cx="260.5" cy="304.3" r="3.05"/><circle cx="260.6" cy="301.8" r="3.05"/><circle cx="260.6" cy="303.1" r="3.05"/><circle cx="260.7" cy="300.2" r="3.05"/><circle cx="260.7" cy="301.3" r="3.05"/><circle cx="260.7" cy="299.0" r="3.05"/><circle cx="260.8" cy="298.8" r="3.05"/><circle cx="260.8" cy="299.1" r="3.05"/><circle cx="260.9" cy="298.3" r="3.05"/><circle cx="260.9" cy="298.2" r="3.05"/><circle cx="261.0" cy="295.6" r="3.05"/><circle cx="261.0" cy="297.4" r="3.05"/><circle cx="261.0" cy="296.4" r="3.05"/><circle cx="261.1" cy="295.5" r="3.05"/><circle cx="261.1" cy="296.7" r="3.05"/><circle cx="261.2" cy="296.2" r="3.05"/><circle cx="261.2" cy="297.5" r="3.05"/><circle cx="261.2" cy="297.0" r="3.05"/><circle cx="261.3" cy="299.2" r="3.05"/></g>
<g fill="#ffc0cb"><circle cx="263.3" cy="299.0" r="2.92"/></g>
<g class="c" fill="#102554"><circle cx="262.0" cy="295.3" r="3.05"/><circle cx="262.1" cy="293.8" r="3.05"/><circle cx="262.1" cy="295.3" r="3.05"/><circle cx="262.2" cy="293.2" r="3.05"/><circle cx="262.2" cy="297.6" r="3.05"/><circle cx="262.2" cy="295.2" r="3.05"/><circle cx="262.3" cy="297.4" r="3.05"/><circle cx="262.3" cy="298.9" r="3.05"/><circle cx="262.4" cy="299.0" r="3.05"/><circle cx="262.4" cy="302.7" r="3.05"/><circle cx="262.4" cy="301.1" r="3.05"/><circle cx="262.5" cy="304.1" r="3.05"/><circle cx="262.5" cy="304.4" r="3.05"/><circle cx="262.6" cy="302.9" r="3.05"/><circle cx="262.6" cy="304.9" r="3.05"/><circle cx="262.7" cy="305.3" r="3.05"/><circle cx="262.7" cy="304.3" r="3.05"/><circle cx="262.7" cy="304.1" r="3.05"/><circle cx="262.8" cy="302.4" r="3.05"/><circle cx="262.8" cy="302.5" r="3.05"/><circle cx="262.9" cy="301.1" r="3.05"/><circle cx="262.9" cy="301.0" r="3.05"/><circle cx="262.9" cy="301.4" r="3.05"/><circle cx="263.0" cy="301.2" r="3.05"/><circle cx="263.0" cy="298.7" r="3.05"/><circle cx="263.1" cy="298.0" r="3.05"/><circle cx="263.1" cy="298.1" r="3.05"/><circle cx="263.1" cy="295.8" r="3.05"/><circle cx="263.2" cy="294.0" r="3.05"/><circle cx="263.2" cy="296.1" r="3.05"/><circle cx="263.3" cy="292.6" r="3.05"/><circle cx="263.3" cy="294.3" r="3.05"/><circle cx="263.3" cy="291.2" r="3.05"/><circle cx="263.4" cy="294.0" r="3.05"/><circle cx="263.4" cy="291.2" r="3.05"/><circle cx="263.5" cy="293.6" r="3.05"/><circle cx="263.5" cy="295.2" r="3.05"/><circle cx="263.6" cy="292.7" r="3.05"/><circle cx="263.6" cy="296.8" r="3.05"/><circle cx="263.6" cy="294.4" r="3.05"/></g>
<g class="c" fill="#102554"><circle cx="264.4" cy="295.9" r="3.05"/><circle cx="264.4" cy="294.7" r="3.05"/><circle cx="264.5" cy="294.4" r="3.05"/><circle cx="264.5" cy="295.1" r="3.05"/><circle cx="264.6" cy="294.4" r="3.05"/><circle cx="264.6" cy="296.6" r="3.05"/><circle cx="264.6" cy="301.0" r="3.05"/><circle cx="264.7" cy="301.5" r="3.05"/><circle cx="264.7" cy="299.6" r="3.05"/><circle cx="264.8" cy="300.0" r="3.05"/><circle cx="264.8" cy="302.6" r="3.05"/><circle cx="264.8" cy="304.5" r="3.05"/><circle cx="264.9" cy="304.9" r="3.05"/><circle cx="264.9" cy="303.0" r="3.05"/><circle cx="265.0" cy="305.9" r="3.05"/><circle cx="265.0" cy="306.8" r="3.05"/><circle cx="265.0" cy="309.6" r="3.05"/><circle cx="265.1" cy="309.9" r="3.05"/><circle cx="265.1" cy="309.9" r="3.05"/><circle cx="265.2" cy="309.9" r="3.05"/><circle cx="265.2" cy="308.1" r="3.05"/><circle cx="265.3" cy="309.9" r="3.05"/><circle cx="265.3" cy="306.2" r="3.05"/><circle cx="265.3" cy="306.5" r="3.05"/><circle cx="265.4" cy="306.3" r="3.05"/><circle cx="265.4" cy="302.7" r="3.05"/><circle cx="265.5" cy="302.1" r="3.05"/><circle cx="265.5" cy="299.6" r="3.05"/><circle cx="265.5" cy="301.5" r="3.05"/><circle cx="265.6" cy="300.3" r="3.05"/><circle cx="265.6" cy="299.0" r="3.05"/><circle cx="265.7" cy="299.3" r="3.05"/><circle cx="265.7" cy="294.5" r="3.05"/><circle cx="265.7" cy="296.7" r="3.05"/><circle cx="265.8" cy="295.9" r="3.05"/><circle cx="265.8" cy="294.5" r="3.05"/><circle cx="265.9" cy="296.1" r="3.05"/><circle cx="265.9" cy="298.4" r="3.05"/><circle cx="265.9" cy="296.0" r="3.05"/><circle cx="266.0" cy="296.2" r="3.05"/></g>
<g fill="#d2691e"><circle cx="269.0" cy="288.0" r="2.92"/><circle cx="269.0" cy="293.0" r="2.92"/></g>
<g class="c" fill="#3e1c0c"><circle cx="266.7" cy="306.5" r="3.05"/><circle cx="266.8" cy="304.1" r="3.05"/><circle cx="266.8" cy="302.7" r="3.05"/><circle cx="266.9" cy="305.0" r="3.05"/><circle cx="266.9" cy="298.1" r="3.05"/><circle cx="267.0" cy="296.9" r="3.05"/><circle cx="267.0" cy="296.9" r="3.05"/><circle cx="267.0" cy="296.3" r="3.05"/><circle cx="267.1" cy="289.9" r="3.05"/><circle cx="267.1" cy="292.0" r="3.05"/><circle cx="267.2" cy="288.3" r="3.05"/><circle cx="267.2" cy="289.9" r="3.05"/><circle cx="267.2" cy="290.1" r="3.05"/><circle cx="267.3" cy="287.6" r="3.05"/><circle cx="267.3" cy="288.7" r="3.05"/><circle cx="267.4" cy="290.8" r="3.05"/><circle cx="267.4" cy="286.5" r="3.05"/><circle cx="267.4" cy="295.1" r="3.05"/><circle cx="267.5" cy="296.1" r="3.05"/><circle cx="267.5" cy="296.6" r="3.05"/><circle cx="267.6" cy="296.9" r="3.05"/><circle cx="267.6" cy="297.6" r="3.05"/><circle cx="267.6" cy="300.3" r="3.05"/><circle cx="267.7" cy="304.9" r="3.05"/><circle cx="267.7" cy="303.4" r="3.05"/><circle cx="267.8" cy="308.1" r="3.05"/><circle cx="267.8" cy="300.8" r="3.05"/><circle cx="267.9" cy="307.0" r="3.05"/><circle cx="267.9" cy="309.8" r="3.05"/><circle cx="267.9" cy="308.5" r="3.05"/><circle cx="268.0" cy="303.4" r="3.05"/><circle cx="268.0" cy="304.2" r="3.05"/><circle cx="268.1" cy="307.0" r="3.05"/><circle cx="268.1" cy="299.8" r="3.05"/><circle cx="268.1" cy="299.0" r="3.05"/><circle cx="268.2" cy="297.3" r="3.05"/><circle cx="268.2" cy="297.1" r="3.05"/><circle cx="268.3" cy="298.3" r="3.05"/><circle cx="268.3" cy="296.7" r="3.05"/><circle cx="268.3" cy="289.4" r="3.05"/></g>
<g class="c" fill="#33190b"><circle cx="269.1" cy="310.0" r="3.05"/><circle cx="269.1" cy="308.3" r="3.05"/><circle cx="269.2" cy="306.5" r="3.05"/><circle cx="269.2" cy="304.2" r="3.05"/><circle cx="269.3" cy="304.4" r="3.05"/><circle cx="269.3" cy="305.9" r="3.05"/><circle cx="269.3" cy="303.0" r="3.05"/><circle cx="269.4" cy="297.0" r="3.05"/><circle cx="269.4" cy="306.0" r="3.05"/><circle cx="269.5" cy="294.8" r="3.05"/><circle cx="269.5" cy="296.0" r="3.05"/><circle cx="269.6" cy="294.2" r="3.05"/><circle cx="269.6" cy="294.5" r="3.05"/><circle cx="269.6" cy="290.2" r="3.05"/><circle cx="269.7" cy="290.6" r="3.05"/><circle cx="269.7" cy="293.2" r="3.05"/><circle cx="269.8" cy="286.5" r="3.05"/><circle cx="269.8" cy="285.4" r="3.05"/><circle cx="269.8" cy="288.5" r="3.05"/><circle cx="269.9" cy="287.2" r="3.05"/><circle cx="269.9" cy="289.9" r="3.05"/><circle cx="270.0" cy="292.9" r="3.05"/><circle cx="270.0" cy="294.8" r="3.05"/><circle cx="270.0" cy="294.8" r="3.05"/><circle cx="270.1" cy="299.3" r="3.05"/><circle cx="270.1" cy="298.2" r="3.05"/><circle cx="270.2" cy="297.0" r="3.05"/><circle cx="270.2" cy="304.1" r="3.05"/><circle cx="270.2" cy="302.5" r="3.05"/><circle cx="270.3" cy="308.1" r="3.05"/><circle cx="270.3" cy="304.9" r="3.05"/><circle cx="270.4" cy="309.7" r="3.05"/><circle cx="270.4" cy="310.6" r="3.05"/><circle cx="270.5" cy="304.5" r="3.05"/><circle cx="270.5" cy="307.3" r="3.05"/><circle cx="270.5" cy="306.6" r="3.05"/><circle cx="270.6" cy="312.0" r="3.05"/><circle cx="270.6" cy="301.5" r="3.05"/><circle cx="270.7" cy="307.1" r="3.05"/><circle cx="270.7" cy="306.0" r="3.05"/></g>
<g class="c" fill="#0b331c"><circle cx="271.5" cy="286.3" r="3.05"/><circle cx="271.5" cy="290.7" r="3.05"/><circle cx="271.5" cy="289.6" r="3.05"/><circle cx="271.6" cy="289.5" r="3.05"/><circle cx="271.6" cy="291.2" r="3.05"/><circle cx="271.7" cy="295.0" r="3.05"/><circle cx="271.7" cy="290.8" r="3.05"/><circle cx="271.7" cy="293.1" r="3.05"/><circle cx="271.8" cy="296.7" r="3.05"/><circle cx="271.8" cy="297.5" r="3.05"/><circle cx="271.9" cy="299.6" r="3.05"/><circle cx="271.9" cy="294.5" r="3.05"/><circle cx="271.9" cy="301.9" r="3.05"/><circle cx="272.0" cy="303.4" r="3.05"/><circle cx="272.0" cy="307.5" r="3.05"/><circle cx="272.1" cy="301.4" r="3.05"/><circle cx="272.1" cy="307.1" r="3.05"/><circle cx="272.2" cy="310.5" r="3.05"/><circle cx="272.2" cy="311.8" r="3.05"/><circle cx="272.2" cy="314.1" r="3.05"/><circle cx="272.3" cy="314.1" r="3.05"/><circle cx="272.3" cy="311.1" r="3.05"/><circle cx="272.4" cy="314.1" r="3.05"/><circle cx="272.4" cy="310.5" r="3.05"/><circle cx="272.4" cy="308.0" r="3.05"/><circle cx="272.5" cy="312.9" r="3.05"/><circle cx="272.5" cy="305.9" r="3.05"/><circle cx="272.6" cy="304.0" r="3.05"/><circle cx="272.6" cy="303.9" r="3.05"/><circle cx="272.6" cy="301.5" r="3.05"/><circle cx="272.7" cy="305.2" r="3.05"/><circle cx="272.7" cy="302.2" r="3.05"/><circle cx="272.8" cy="303.7" r="3.05"/><circle cx="272.8" cy="299.8" r="3.05"/><circle cx="272.8" cy="295.8" r="3.05"/><circle cx="272.9" cy="298.9" r="3.05"/><circle cx="272.9" cy="293.1" r="3.05"/><circle cx="273.0" cy="292.4" r="3.05"/><circle cx="273.0" cy="291.9" r="3.05"/><circle cx="273.1" cy="291.1" r="3.05"/></g>
<g class="c" fill="#41200e"><circle cx="273.8" cy="301.1" r="3.05"/><circle cx="273.9" cy="301.2" r="3.05"/><circle cx="273.9" cy="299.7" r="3.05"/><circle cx="273.9" cy="298.8" r="3.05"/><circle cx="274.0" cy="296.5" r="3.05"/><circle cx="274.0" cy="294.1" r="3.05"/><circle cx="274.1" cy="294.7" r="3.05"/><circle cx="274.1" cy="290.2" r="3.05"/><circle cx="274.1" cy="288.7" r="3.05"/><circle cx="274.2" cy="289.1" r="3.05"/><circle cx="274.2" cy="288.7" r="3.05"/><circle cx="274.3" cy="289.0" r="3.05"/><circle cx="274.3" cy="289.8" r="3.05"/><circle cx="274.3" cy="291.5" r="3.05"/><circle cx="274.4" cy="294.0" r="3.05"/><circle cx="274.4" cy="293.6" r="3.05"/><circle cx="274.5" cy="295.7" r="3.05"/><circle cx="274.5" cy="294.1" r="3.05"/><circle cx="274.5" cy="299.6" r="3.05"/><circle cx="274.6" cy="298.6" r="3.05"/><circle cx="274.6" cy="302.8" r="3.05"/><circle cx="274.7" cy="296.8" r="3.05"/><circle cx="274.7" cy="302.7" r="3.05"/><circle cx="274.8" cy="306.4" r="3.05"/><circle cx="274.8" cy="301.6" r="3.05"/><circle cx="274.8" cy="307.6" r="3.05"/><circle cx="274.9" cy="310.0" r="3.05"/><circle cx="274.9" cy="312.1" r="3.05"/><circle cx="275.0" cy="308.5" r="3.05"/><circle cx="275.0" cy="311.1" r="3.05"/><circle cx="275.0" cy="309.6" r="3.05"/><circle cx="275.1" cy="305.8" r="3.05"/><circle cx="275.1" cy="308.3" r="3.05"/><circle cx="275.2" cy="305.2" r="3.05"/><circle cx="275.2" cy="304.1" r="3.05"/><circle cx="275.2" cy="301.7" r="3.05"/><circle cx="275.3" cy="302.7" r="3.05"/><circle cx="275.3" cy="300.3" r="3.05"/><circle cx="275.4" cy="301.4" r="3.05"/><circle cx="275.4" cy="298.5" r="3.05"/></g>
<g class="c" fill="#41200e"><circle cx="276.2" cy="296.1" r="3.05"/><circle cx="276.2" cy="292.0" r="3.05"/><circle cx="276.2" cy="299.0" r="3.05"/><circle cx="276.3" cy="300.2" r="3.05"/><circle cx="276.3" cy="301.1" r="3.05"/><circle cx="276.4" cy="300.0" r="3.05"/><circle cx="276.4" cy="305.9" r="3.05"/><circle cx="276.5" cy="303.7" r="3.05"/><circle cx="276.5" cy="303.6" r="3.05"/><circle cx="276.5" cy="304.4" r="3.05"/><circle cx="276.6" cy="308.1" r="3.05"/><circle cx="276.6" cy="305.6" r="3.05"/><circle cx="276.7" cy="306.9" r="3.05"/><circle cx="276.7" cy="312.7" r="3.05"/><circle cx="276.7" cy="312.7" r="3.05"/><circle cx="276.8" cy="312.7" r="3.05"/><circle cx="276.8" cy="312.7" r="3.05"/><circle cx="276.9" cy="312.1" r="3.05"/><circle cx="276.9" cy="305.5" r="3.05"/><circle cx="276.9" cy="311.4" r="3.05"/><circle cx="277.0" cy="310.5" r="3.05"/><circle cx="277.0" cy="307.6" r="3.05"/><circle cx="277.1" cy="300.6" r="3.05"/><circle cx="277.1" cy="307.3" r="3.05"/><circle cx="277.1" cy="306.5" r="3.05"/><circle cx="277.2" cy="300.9" r="3.05"/><circle cx="277.2" cy="301.4" r="3.05"/><circle cx="277.3" cy="301.9" r="3.05"/><circle cx="277.3" cy="298.7" r="3.05"/><circle cx="277.4" cy="300.5" r="3.05"/><circle cx="277.4" cy="297.0" r="3.05"/><circle cx="277.4" cy="297.4" r="3.05"/><circle cx="277.5" cy="294.8" r="3.05"/><circle cx="277.5" cy="287.6" r="3.05"/><circle cx="277.6" cy="290.1" r="3.05"/><circle cx="277.6" cy="299.1" r="3.05"/><circle cx="277.6" cy="291.0" r="3.05"/><circle cx="277.7" cy="292.5" r="3.05"/><circle cx="277.7" cy="291.0" r="3.05"/><circle cx="277.8" cy="292.3" r="3.05"/></g>
<g class="c" fill="#6b3312"><circle cx="278.5" cy="295.4" r="3.05"/><circle cx="278.6" cy="296.6" r="3.05"/><circle cx="278.6" cy="287.2" r="3.05"/><circle cx="278.6" cy="291.7" r="3.05"/><circle cx="278.7" cy="291.7" r="3.05"/><circle cx="278.7" cy="291.4" r="3.05"/><circle cx="278.8" cy="286.5" r="3.05"/><circle cx="278.8" cy="286.5" r="3.05"/><circle cx="278.8" cy="286.5" r="3.05"/><circle cx="278.9" cy="288.7" r="3.05"/><circle cx="278.9" cy="294.3" r="3.05"/><circle cx="279.0" cy="299.8" r="3.05"/><circle cx="279.0" cy="293.1" r="3.05"/><circle cx="279.1" cy="301.2" r="3.05"/><circle cx="279.1" cy="300.3" r="3.05"/><circle cx="279.1" cy="299.6" r="3.05"/><circle cx="279.2" cy="308.0" r="3.05"/><circle cx="279.2" cy="297.5" r="3.05"/><circle cx="279.3" cy="305.4" r="3.05"/><circle cx="279.3" cy="307.7" r="3.05"/><circle cx="279.3" cy="313.0" r="3.05"/><circle cx="279.4" cy="313.0" r="3.05"/><circle cx="279.4" cy="313.0" r="3.05"/><circle cx="279.5" cy="312.9" r="3.05"/><circle cx="279.5" cy="313.0" r="3.05"/><circle cx="279.5" cy="312.9" r="3.05"/><circle cx="279.6" cy="309.1" r="3.05"/><circle cx="279.6" cy="307.1" r="3.05"/><circle cx="279.7" cy="304.2" r="3.05"/><circle cx="279.7" cy="302.0" r="3.05"/><circle cx="279.8" cy="298.3" r="3.05"/><circle cx="279.8" cy="304.9" r="3.05"/><circle cx="279.8" cy="297.1" r="3.05"/><circle cx="279.9" cy="291.4" r="3.05"/><circle cx="279.9" cy="295.8" r="3.05"/><circle cx="280.0" cy="293.5" r="3.05"/><circle cx="280.0" cy="292.4" r="3.05"/><circle cx="280.0" cy="295.1" r="3.05"/><circle cx="280.1" cy="288.5" r="3.05"/><circle cx="280.1" cy="286.5" r="3.05"/></g>
<g fill="#c8c8c8"><circle cx="130.5" cy="317.5" r="2.92"/></g>
<g fill="#fff5d7"><circle cx="140.3" cy="313.2" r="2.92"/><circle cx="140.3" cy="317.1" r="2.92"/></g>
<g fill="#008b8b"><circle cx="147.6" cy="321.0" r="2.92"/></g>
<g fill="#008b8b"><circle cx="147.2" cy="324.5" r="2.92"/></g>
<g fill="#008b8b"><circle cx="144.3" cy="327.3" r="2.92"/></g>
<g fill="#008b8b"><circle cx="147.5" cy="326.5" r="2.92"/><circle cx="147.5" cy="328.9" r="2.92"/></g>
<g fill="#008b8b"><circle cx="145.5" cy="335.5" r="2.92"/></g>
<g fill="#008b8b"><circle cx="145.5" cy="348.5" r="2.92"/></g>
<g fill="#008b8b"><circle cx="145.5" cy="379.4" r="2.92"/></g>
<g fill="#008b8b"><circle cx="146.4" cy="394.8" r="2.92"/><circle cx="146.4" cy="391.5" r="2.92"/><circle cx="146.4" cy="387.5" r="2.92"/></g>
<g fill="#deb887"><circle cx="145.5" cy="454.4" r="2.92"/></g>
<g fill="#f5deb3"><circle cx="159.3" cy="288.3" r="2.92"/></g>
<g fill="#0c4a40"><circle cx="161.6" cy="290.8" r="2.92"/><circle cx="161.6" cy="289.4" r="2.92"/></g>
<g fill="#5aaaaf"><circle cx="172.6" cy="285.5" r="2.92"/></g>
<g fill="#5aaaaf"><circle cx="173.5" cy="282.7" r="2.92"/></g>
<g fill="#e8f4f4"><circle cx="166.2" cy="313.6" r="2.92"/></g>
<g fill="#deb887"><circle cx="204.3" cy="309.0" r="2.92"/><circle cx="204.3" cy="307.1" r="2.92"/><circle cx="204.3" cy="305.2" r="2.92"/><circle cx="204.3" cy="303.3" r="2.92"/><circle cx="204.3" cy="301.4" r="2.92"/><circle cx="204.3" cy="299.4" r="2.92"/><circle cx="204.3" cy="297.5" r="2.92"/><circle cx="204.3" cy="295.6" r="2.92"/><circle cx="204.3" cy="293.7" r="2.92"/><circle cx="204.3" cy="291.8" r="2.92"/><circle cx="204.3" cy="289.9" r="2.92"/></g>
<g fill="#7cfc00"><circle cx="204.4" cy="303.3" r="2.92"/><circle cx="204.4" cy="306.4" r="2.92"/></g>
<g fill="#000046"><circle cx="203.3" cy="328.2" r="2.92"/></g>
<g fill="#0000cd"><circle cx="203.3" cy="326.6" r="2.92"/><circle cx="203.3" cy="324.9" r="2.92"/><circle cx="203.3" cy="323.2" r="2.92"/><circle cx="203.3" cy="321.4" r="2.92"/><circle cx="203.3" cy="319.7" r="2.92"/><circle cx="203.3" cy="318.0" r="2.92"/></g>
<g fill="#143232"><circle cx="205.0" cy="318.0" r="2.92"/><circle cx="205.0" cy="316.6" r="2.92"/><circle cx="205.0" cy="315.2" r="2.92"/><circle cx="205.0" cy="313.9" r="2.92"/><circle cx="205.0" cy="312.5" r="2.92"/></g>
<g fill="#66cdaa"><circle cx="205.4" cy="318.3" r="2.92"/></g>
<g fill="#e61ea0"><circle cx="222.0" cy="310.2" r="2.92"/></g>
<g fill="#2a241e"><circle cx="224.3" cy="307.5" r="2.92"/></g>
<g fill="#f0e68c"><circle cx="245.0" cy="314.2" r="2.92"/></g>
<g fill="#80e680"><circle cx="245.5" cy="318.3" r="2.92"/></g>
<g fill="#4169e1"><circle cx="263.3" cy="290.8" r="2.92"/></g>
<g fill="#fa8072"><circle cx="272.4" cy="312.4" r="2.92"/></g>
<g fill="#46200a"><circle cx="279.3" cy="313.0" r="2.92"/></g>
<g fill="#d2691e"><circle cx="279.3" cy="311.5" r="2.92"/><circle cx="279.3" cy="309.9" r="2.92"/><circle cx="279.3" cy="308.3" r="2.92"/><circle cx="279.3" cy="306.7" r="2.92"/><circle cx="279.3" cy="305.1" r="2.92"/><circle cx="279.3" cy="303.5" r="2.92"/></g>
<g fill="#1e1e1e"><circle cx="279.5" cy="300.2" r="2.92"/></g>
<g fill="#d3d3d3"><circle cx="279.5" cy="295.6" r="2.92"/></g>
<g fill="#cd6e32"><circle cx="279.4" cy="289.3" r="2.92"/></g>
<g class="s"><circle cx="133.8" cy="292.5" r=".9" fill="#9370db"/><circle cx="145.7" cy="291.8" r=".9" fill="#deb887"/><circle cx="150.9" cy="289.7" r=".9" fill="#dda0dd"/><circle cx="162.3" cy="286.5" r=".9" fill="#20b090"/><circle cx="165.3" cy="287.0" r=".9" fill="#deb887"/><circle cx="144.3" cy="307.6" r=".9" fill="#deb887"/><circle cx="147.8" cy="308.3" r=".9" fill="#00aaaa"/><circle cx="156.9" cy="306.9" r=".9" fill="#9932cc"/><circle cx="187.3" cy="305.5" r=".9" fill="#e6c800"/><circle cx="193.3" cy="305.5" r=".9" fill="#00b4b4"/><circle cx="242.3" cy="294.3" r=".9" fill="#d2c878"/><circle cx="258.4" cy="293.2" r=".9" fill="#e000e0"/><circle cx="262.5" cy="298.5" r=".9" fill="#ffc0cb"/><circle cx="260.5" cy="306.5" r=".9" fill="#ffc0cb"/><circle cx="267.5" cy="287.6" r=".9" fill="#d2691e"/><circle cx="268.2" cy="292.5" r=".9" fill="#d2691e"/><circle cx="234.0" cy="309.4" r=".9" fill="#8cb41e"/><circle cx="197.0" cy="287.8" r=".9" fill="#8a2be2"/><circle cx="198.3" cy="292.0" r=".9" fill="#8a2be2"/></g>
<g class="c" fill="#171717"><circle cx="334.8" cy="291.8" r="3.05"/><circle cx="334.8" cy="291.2" r="3.05"/><circle cx="334.9" cy="300.3" r="3.05"/><circle cx="334.9" cy="297.9" r="3.05"/><circle cx="335.0" cy="299.2" r="3.05"/><circle cx="335.0" cy="300.3" r="3.05"/><circle cx="335.0" cy="302.1" r="3.05"/><circle cx="335.1" cy="303.0" r="3.05"/><circle cx="335.1" cy="307.1" r="3.05"/><circle cx="335.2" cy="307.1" r="3.05"/><circle cx="335.2" cy="309.7" r="3.05"/><circle cx="335.3" cy="304.5" r="3.05"/><circle cx="335.3" cy="307.8" r="3.05"/><circle cx="335.3" cy="306.6" r="3.05"/><circle cx="335.4" cy="314.1" r="3.05"/><circle cx="335.4" cy="315.1" r="3.05"/><circle cx="335.5" cy="311.9" r="3.05"/><circle cx="335.5" cy="317.1" r="3.05"/><circle cx="335.5" cy="325.9" r="3.05"/><circle cx="335.6" cy="322.3" r="3.05"/><circle cx="335.6" cy="315.3" r="3.05"/><circle cx="335.7" cy="320.4" r="3.05"/><circle cx="335.7" cy="324.5" r="3.05"/><circle cx="335.7" cy="323.5" r="3.05"/><circle cx="335.8" cy="326.5" r="3.05"/><circle cx="335.8" cy="328.1" r="3.05"/><circle cx="335.9" cy="328.1" r="3.05"/><circle cx="335.9" cy="322.9" r="3.05"/><circle cx="335.9" cy="327.9" r="3.05"/><circle cx="336.0" cy="323.6" r="3.05"/><circle cx="336.0" cy="322.9" r="3.05"/><circle cx="336.1" cy="319.0" r="3.05"/><circle cx="336.1" cy="314.6" r="3.05"/><circle cx="336.2" cy="313.7" r="3.05"/><circle cx="336.2" cy="315.4" r="3.05"/><circle cx="336.2" cy="311.4" r="3.05"/><circle cx="336.3" cy="304.1" r="3.05"/><circle cx="336.3" cy="316.5" r="3.05"/><circle cx="336.4" cy="306.8" r="3.05"/><circle cx="336.4" cy="306.9" r="3.05"/></g>
<g fill="#232323"><circle cx="335.7" cy="305.0" r="2.92"/><circle cx="335.7" cy="306.6" r="2.92"/><circle cx="335.7" cy="308.3" r="2.92"/><circle cx="335.7" cy="309.9" r="2.92"/><circle cx="335.7" cy="311.6" r="2.92"/><circle cx="335.7" cy="313.2" r="2.92"/><circle cx="335.7" cy="314.9" r="2.92"/><circle cx="335.7" cy="316.5" r="2.92"/><circle cx="335.7" cy="318.1" r="2.92"/><circle cx="335.7" cy="319.8" r="2.92"/><circle cx="335.7" cy="321.4" r="2.92"/><circle cx="335.7" cy="323.1" r="2.92"/><circle cx="335.7" cy="324.7" r="2.92"/><circle cx="335.7" cy="326.4" r="2.92"/><circle cx="335.7" cy="328.0" r="2.92"/></g>
<g class="c" fill="#171717"><circle cx="337.2" cy="299.5" r="3.05"/><circle cx="337.2" cy="297.3" r="3.05"/><circle cx="337.2" cy="298.5" r="3.05"/><circle cx="337.3" cy="294.6" r="3.05"/><circle cx="337.3" cy="297.2" r="3.05"/><circle cx="337.4" cy="303.1" r="3.05"/><circle cx="337.4" cy="309.0" r="3.05"/><circle cx="337.4" cy="304.7" r="3.05"/><circle cx="337.5" cy="309.5" r="3.05"/><circle cx="337.5" cy="309.9" r="3.05"/><circle cx="337.6" cy="312.4" r="3.05"/><circle cx="337.6" cy="315.5" r="3.05"/><circle cx="337.6" cy="309.5" r="3.05"/><circle cx="337.7" cy="316.4" r="3.05"/><circle cx="337.7" cy="317.6" r="3.05"/><circle cx="337.8" cy="315.5" r="3.05"/><circle cx="337.8" cy="312.3" r="3.05"/><circle cx="337.9" cy="311.0" r="3.05"/><circle cx="337.9" cy="308.7" r="3.05"/><circle cx="337.9" cy="306.9" r="3.05"/><circle cx="338.0" cy="316.3" r="3.05"/><circle cx="338.0" cy="312.3" r="3.05"/><circle cx="338.1" cy="305.6" r="3.05"/><circle cx="338.1" cy="306.3" r="3.05"/><circle cx="338.1" cy="299.5" r="3.05"/><circle cx="338.2" cy="292.5" r="3.05"/><circle cx="338.2" cy="293.9" r="3.05"/><circle cx="338.3" cy="298.3" r="3.05"/><circle cx="338.3" cy="300.6" r="3.05"/><circle cx="338.3" cy="294.6" r="3.05"/><circle cx="338.4" cy="290.2" r="3.05"/><circle cx="338.4" cy="290.9" r="3.05"/><circle cx="338.5" cy="287.1" r="3.05"/><circle cx="338.5" cy="286.6" r="3.05"/><circle cx="338.5" cy="286.6" r="3.05"/><circle cx="338.6" cy="286.6" r="3.05"/><circle cx="338.6" cy="286.8" r="3.05"/><circle cx="338.7" cy="288.2" r="3.05"/><circle cx="338.7" cy="289.6" r="3.05"/><circle cx="338.8" cy="294.6" r="3.05"/></g>
<g fill="#8cdc14"><circle cx="339.3" cy="285.7" r="2.92"/></g>
<g class="c" fill="#2e4609"><circle cx="338.4" cy="305.7" r="3.05"/><circle cx="338.4" cy="297.0" r="3.05"/><circle cx="338.5" cy="298.3" r="3.05"/><circle cx="338.5" cy="297.5" r="3.05"/><circle cx="338.6" cy="297.3" r="3.05"/><circle cx="338.6" cy="297.4" r="3.05"/><circle cx="338.6" cy="291.2" r="3.05"/><circle cx="338.7" cy="287.7" r="3.05"/><circle cx="338.7" cy="289.2" r="3.05"/><circle cx="338.8" cy="289.1" r="3.05"/><circle cx="338.8" cy="285.6" r="3.05"/><circle cx="338.9" cy="288.5" r="3.05"/><circle cx="338.9" cy="292.2" r="3.05"/><circle cx="338.9" cy="285.6" r="3.05"/><circle cx="339.0" cy="291.5" r="3.05"/><circle cx="339.0" cy="294.9" r="3.05"/><circle cx="339.1" cy="288.1" r="3.05"/><circle cx="339.1" cy="295.6" r="3.05"/><circle cx="339.1" cy="295.9" r="3.05"/><circle cx="339.2" cy="294.0" r="3.05"/><circle cx="339.2" cy="303.2" r="3.05"/><circle cx="339.3" cy="301.6" r="3.05"/><circle cx="339.3" cy="301.2" r="3.05"/><circle cx="339.3" cy="305.3" r="3.05"/><circle cx="339.4" cy="307.3" r="3.05"/><circle cx="339.4" cy="309.2" r="3.05"/><circle cx="339.5" cy="310.2" r="3.05"/><circle cx="339.5" cy="311.2" r="3.05"/><circle cx="339.5" cy="308.2" r="3.05"/><circle cx="339.6" cy="311.8" r="3.05"/><circle cx="339.6" cy="314.6" r="3.05"/><circle cx="339.7" cy="305.3" r="3.05"/><circle cx="339.7" cy="314.6" r="3.05"/><circle cx="339.8" cy="309.1" r="3.05"/><circle cx="339.8" cy="305.7" r="3.05"/><circle cx="339.8" cy="302.0" r="3.05"/><circle cx="339.9" cy="306.4" r="3.05"/><circle cx="339.9" cy="304.2" r="3.05"/><circle cx="340.0" cy="301.0" r="3.05"/><circle cx="340.0" cy="300.0" r="3.05"/></g>
<g fill="#ff69b4"><circle cx="340.7" cy="290.0" r="2.92"/></g>
<g fill="#f06464"><circle cx="343.5" cy="314.5" r="2.92"/></g>
<g class="c" fill="#461235"><circle cx="341.9" cy="306.9" r="3.05"/><circle cx="341.9" cy="308.6" r="3.05"/><circle cx="341.9" cy="310.4" r="3.05"/><circle cx="342.0" cy="313.5" r="3.05"/><circle cx="342.0" cy="313.1" r="3.05"/><circle cx="342.1" cy="313.4" r="3.05"/><circle cx="342.1" cy="314.6" r="3.05"/><circle cx="342.2" cy="312.3" r="3.05"/><circle cx="342.2" cy="312.2" r="3.05"/><circle cx="342.2" cy="313.4" r="3.05"/><circle cx="342.3" cy="311.2" r="3.05"/><circle cx="342.3" cy="308.7" r="3.05"/><circle cx="342.4" cy="305.4" r="3.05"/><circle cx="342.4" cy="303.8" r="3.05"/><circle cx="342.4" cy="306.9" r="3.05"/><circle cx="342.5" cy="307.3" r="3.05"/><circle cx="342.5" cy="304.7" r="3.05"/><circle cx="342.6" cy="299.6" r="3.05"/><circle cx="342.6" cy="301.1" r="3.05"/><circle cx="342.6" cy="301.0" r="3.05"/><circle cx="342.7" cy="297.3" r="3.05"/><circle cx="342.7" cy="299.0" r="3.05"/><circle cx="342.8" cy="296.6" r="3.05"/><circle cx="342.8" cy="294.1" r="3.05"/><circle cx="342.8" cy="292.0" r="3.05"/><circle cx="342.9" cy="295.5" r="3.05"/><circle cx="342.9" cy="293.4" r="3.05"/><circle cx="343.0" cy="291.4" r="3.05"/><circle cx="343.0" cy="291.4" r="3.05"/><circle cx="343.1" cy="295.7" r="3.05"/><circle cx="343.1" cy="296.2" r="3.05"/><circle cx="343.1" cy="295.3" r="3.05"/><circle cx="343.2" cy="300.7" r="3.05"/><circle cx="343.2" cy="297.6" r="3.05"/><circle cx="343.3" cy="297.0" r="3.05"/><circle cx="343.3" cy="303.0" r="3.05"/><circle cx="343.3" cy="301.2" r="3.05"/><circle cx="343.4" cy="303.6" r="3.05"/><circle cx="343.4" cy="304.0" r="3.05"/><circle cx="343.5" cy="302.8" r="3.05"/></g>
<g fill="#9400d3"><circle cx="346.8" cy="294.5" r="2.92"/></g>
<g class="c" fill="#353512"><circle cx="344.2" cy="311.4" r="3.05"/><circle cx="344.3" cy="304.2" r="3.05"/><circle cx="344.3" cy="306.2" r="3.05"/><circle cx="344.3" cy="306.0" r="3.05"/><circle cx="344.4" cy="302.1" r="3.05"/><circle cx="344.4" cy="298.7" r="3.05"/><circle cx="344.5" cy="303.0" r="3.05"/><circle cx="344.5" cy="299.1" r="3.05"/><circle cx="344.5" cy="301.5" r="3.05"/><circle cx="344.6" cy="295.7" r="3.05"/><circle cx="344.6" cy="298.6" r="3.05"/><circle cx="344.7" cy="296.4" r="3.05"/><circle cx="344.7" cy="294.1" r="3.05"/><circle cx="344.8" cy="295.9" r="3.05"/><circle cx="344.8" cy="295.9" r="3.05"/><circle cx="344.8" cy="293.5" r="3.05"/><circle cx="344.9" cy="291.4" r="3.05"/><circle cx="344.9" cy="293.4" r="3.05"/><circle cx="345.0" cy="289.8" r="3.05"/><circle cx="345.0" cy="292.4" r="3.05"/><circle cx="345.0" cy="291.5" r="3.05"/><circle cx="345.1" cy="293.5" r="3.05"/><circle cx="345.1" cy="292.7" r="3.05"/><circle cx="345.2" cy="292.4" r="3.05"/><circle cx="345.2" cy="293.1" r="3.05"/><circle cx="345.2" cy="293.4" r="3.05"/><circle cx="345.3" cy="291.4" r="3.05"/><circle cx="345.3" cy="298.1" r="3.05"/><circle cx="345.4" cy="297.0" r="3.05"/><circle cx="345.4" cy="296.1" r="3.05"/><circle cx="345.5" cy="295.2" r="3.05"/><circle cx="345.5" cy="301.5" r="3.05"/><circle cx="345.5" cy="300.4" r="3.05"/><circle cx="345.6" cy="297.6" r="3.05"/><circle cx="345.6" cy="302.4" r="3.05"/><circle cx="345.7" cy="305.8" r="3.05"/><circle cx="345.7" cy="302.6" r="3.05"/><circle cx="345.7" cy="304.3" r="3.05"/><circle cx="345.8" cy="303.5" r="3.05"/><circle cx="345.8" cy="303.9" r="3.05"/></g>
<g fill="#e6e6fa"><circle cx="348.0" cy="312.5" r="2.92"/></g>
<g fill="#f0dc82"><circle cx="347.6" cy="316.5" r="2.92"/></g>
<g class="c" fill="#2a2a2e"><circle cx="346.6" cy="302.3" r="3.05"/><circle cx="346.6" cy="305.5" r="3.05"/><circle cx="346.7" cy="306.7" r="3.05"/><circle cx="346.7" cy="303.8" r="3.05"/><circle cx="346.7" cy="304.7" r="3.05"/><circle cx="346.8" cy="307.7" r="3.05"/><circle cx="346.8" cy="310.6" r="3.05"/><circle cx="346.9" cy="310.4" r="3.05"/><circle cx="346.9" cy="313.1" r="3.05"/><circle cx="346.9" cy="309.0" r="3.05"/><circle cx="347.0" cy="313.1" r="3.05"/><circle cx="347.0" cy="311.1" r="3.05"/><circle cx="347.1" cy="311.6" r="3.05"/><circle cx="347.1" cy="311.1" r="3.05"/><circle cx="347.1" cy="307.4" r="3.05"/><circle cx="347.2" cy="308.0" r="3.05"/><circle cx="347.2" cy="305.1" r="3.05"/><circle cx="347.3" cy="307.0" r="3.05"/><circle cx="347.3" cy="303.7" r="3.05"/><circle cx="347.4" cy="303.5" r="3.05"/><circle cx="347.4" cy="304.0" r="3.05"/><circle cx="347.4" cy="301.2" r="3.05"/><circle cx="347.5" cy="303.9" r="3.05"/><circle cx="347.5" cy="299.3" r="3.05"/><circle cx="347.6" cy="301.3" r="3.05"/><circle cx="347.6" cy="299.2" r="3.05"/><circle cx="347.6" cy="295.5" r="3.05"/><circle cx="347.7" cy="296.2" r="3.05"/><circle cx="347.7" cy="293.9" r="3.05"/><circle cx="347.8" cy="293.9" r="3.05"/><circle cx="347.8" cy="293.1" r="3.05"/><circle cx="347.8" cy="296.5" r="3.05"/><circle cx="347.9" cy="291.8" r="3.05"/><circle cx="347.9" cy="296.1" r="3.05"/><circle cx="348.0" cy="294.7" r="3.05"/><circle cx="348.0" cy="292.1" r="3.05"/><circle cx="348.1" cy="291.8" r="3.05"/><circle cx="348.1" cy="298.2" r="3.05"/><circle cx="348.1" cy="293.6" r="3.05"/><circle cx="348.2" cy="300.2" r="3.05"/></g>
<g class="c" fill="#313135"><circle cx="349.7" cy="284.6" r="3.05"/><circle cx="349.7" cy="283.7" r="3.05"/><circle cx="349.8" cy="286.3" r="3.05"/><circle cx="349.8" cy="293.3" r="3.05"/><circle cx="349.9" cy="289.7" r="3.05"/><circle cx="349.9" cy="294.9" r="3.05"/><circle cx="349.9" cy="292.1" r="3.05"/><circle cx="350.0" cy="295.6" r="3.05"/><circle cx="350.0" cy="295.5" r="3.05"/><circle cx="350.1" cy="301.4" r="3.05"/><circle cx="350.1" cy="306.3" r="3.05"/><circle cx="350.2" cy="307.1" r="3.05"/><circle cx="350.2" cy="306.6" r="3.05"/><circle cx="350.2" cy="311.6" r="3.05"/><circle cx="350.3" cy="309.7" r="3.05"/><circle cx="350.3" cy="310.0" r="3.05"/><circle cx="350.4" cy="307.6" r="3.05"/><circle cx="350.4" cy="306.4" r="3.05"/><circle cx="350.4" cy="294.6" r="3.05"/><circle cx="350.5" cy="296.3" r="3.05"/><circle cx="350.5" cy="300.9" r="3.05"/><circle cx="350.6" cy="296.0" r="3.05"/><circle cx="350.6" cy="301.4" r="3.05"/><circle cx="350.6" cy="291.4" r="3.05"/><circle cx="350.7" cy="288.4" r="3.05"/><circle cx="350.7" cy="292.8" r="3.05"/><circle cx="350.8" cy="287.8" r="3.05"/><circle cx="350.8" cy="290.0" r="3.05"/><circle cx="350.8" cy="283.5" r="3.05"/><circle cx="350.9" cy="279.1" r="3.05"/><circle cx="350.9" cy="281.8" r="3.05"/><circle cx="351.0" cy="278.6" r="3.05"/><circle cx="351.0" cy="282.2" r="3.05"/><circle cx="351.1" cy="284.0" r="3.05"/><circle cx="351.1" cy="287.1" r="3.05"/><circle cx="351.1" cy="292.4" r="3.05"/><circle cx="351.2" cy="290.4" r="3.05"/><circle cx="351.2" cy="295.0" r="3.05"/><circle cx="351.3" cy="294.5" r="3.05"/><circle cx="351.3" cy="301.0" r="3.05"/></g>
<g class="c" fill="#313135"><circle cx="351.8" cy="308.8" r="3.05"/><circle cx="351.8" cy="310.7" r="3.05"/><circle cx="351.9" cy="307.9" r="3.05"/><circle cx="351.9" cy="305.1" r="3.05"/><circle cx="352.0" cy="300.8" r="3.05"/><circle cx="352.0" cy="295.9" r="3.05"/><circle cx="352.0" cy="297.1" r="3.05"/><circle cx="352.1" cy="294.6" r="3.05"/><circle cx="352.1" cy="295.3" r="3.05"/><circle cx="352.2" cy="291.1" r="3.05"/><circle cx="352.2" cy="301.3" r="3.05"/><circle cx="352.3" cy="283.9" r="3.05"/><circle cx="352.3" cy="291.5" r="3.05"/><circle cx="352.3" cy="284.3" r="3.05"/><circle cx="352.4" cy="283.3" r="3.05"/><circle cx="352.4" cy="286.9" r="3.05"/><circle cx="352.5" cy="285.5" r="3.05"/><circle cx="352.5" cy="283.1" r="3.05"/><circle cx="352.5" cy="290.3" r="3.05"/><circle cx="352.6" cy="290.0" r="3.05"/><circle cx="352.6" cy="285.4" r="3.05"/><circle cx="352.7" cy="294.7" r="3.05"/><circle cx="352.7" cy="292.2" r="3.05"/><circle cx="352.7" cy="295.0" r="3.05"/><circle cx="352.8" cy="300.8" r="3.05"/><circle cx="352.8" cy="301.9" r="3.05"/><circle cx="352.9" cy="301.6" r="3.05"/><circle cx="352.9" cy="311.6" r="3.05"/><circle cx="352.9" cy="307.4" r="3.05"/><circle cx="353.0" cy="305.7" r="3.05"/><circle cx="353.0" cy="310.2" r="3.05"/><circle cx="353.1" cy="310.7" r="3.05"/><circle cx="353.1" cy="305.5" r="3.05"/><circle cx="353.2" cy="309.3" r="3.05"/><circle cx="353.2" cy="311.6" r="3.05"/><circle cx="353.2" cy="317.9" r="3.05"/><circle cx="353.3" cy="315.5" r="3.05"/><circle cx="353.3" cy="313.5" r="3.05"/><circle cx="353.4" cy="310.8" r="3.05"/><circle cx="353.4" cy="314.3" r="3.05"/></g>
<g fill="#afeeee"><circle cx="353.0" cy="312.5" r="2.92"/></g>
<g fill="#add8e6"><circle cx="355.0" cy="294.0" r="2.92"/></g>
<g class="c" fill="#25383c"><circle cx="353.6" cy="291.1" r="3.05"/><circle cx="353.7" cy="293.0" r="3.05"/><circle cx="353.7" cy="288.5" r="3.05"/><circle cx="353.8" cy="294.5" r="3.05"/><circle cx="353.8" cy="294.8" r="3.05"/><circle cx="353.8" cy="296.8" r="3.05"/><circle cx="353.9" cy="303.0" r="3.05"/><circle cx="353.9" cy="301.7" r="3.05"/><circle cx="354.0" cy="305.5" r="3.05"/><circle cx="354.0" cy="305.8" r="3.05"/><circle cx="354.1" cy="307.2" r="3.05"/><circle cx="354.1" cy="308.7" r="3.05"/><circle cx="354.1" cy="305.8" r="3.05"/><circle cx="354.2" cy="310.7" r="3.05"/><circle cx="354.2" cy="309.1" r="3.05"/><circle cx="354.3" cy="309.8" r="3.05"/><circle cx="354.3" cy="315.4" r="3.05"/><circle cx="354.3" cy="315.4" r="3.05"/><circle cx="354.4" cy="312.4" r="3.05"/><circle cx="354.4" cy="315.4" r="3.05"/><circle cx="354.5" cy="315.4" r="3.05"/><circle cx="354.5" cy="309.9" r="3.05"/><circle cx="354.5" cy="311.6" r="3.05"/><circle cx="354.6" cy="310.5" r="3.05"/><circle cx="354.6" cy="309.3" r="3.05"/><circle cx="354.7" cy="306.1" r="3.05"/><circle cx="354.7" cy="302.4" r="3.05"/><circle cx="354.7" cy="304.6" r="3.05"/><circle cx="354.8" cy="305.5" r="3.05"/><circle cx="354.8" cy="304.0" r="3.05"/><circle cx="354.9" cy="302.4" r="3.05"/><circle cx="354.9" cy="302.3" r="3.05"/><circle cx="355.0" cy="295.6" r="3.05"/><circle cx="355.0" cy="296.8" r="3.05"/><circle cx="355.0" cy="296.6" r="3.05"/><circle cx="355.1" cy="297.0" r="3.05"/><circle cx="355.1" cy="293.5" r="3.05"/><circle cx="355.2" cy="293.2" r="3.05"/><circle cx="355.2" cy="291.0" r="3.05"/><circle cx="355.2" cy="294.8" r="3.05"/></g>
<g class="c" fill="#123512"><circle cx="356.0" cy="296.3" r="3.05"/><circle cx="356.0" cy="293.9" r="3.05"/><circle cx="356.1" cy="294.1" r="3.05"/><circle cx="356.1" cy="294.6" r="3.05"/><circle cx="356.2" cy="295.8" r="3.05"/><circle cx="356.2" cy="293.5" r="3.05"/><circle cx="356.2" cy="293.1" r="3.05"/><circle cx="356.3" cy="292.9" r="3.05"/><circle cx="356.3" cy="291.2" r="3.05"/><circle cx="356.4" cy="290.9" r="3.05"/><circle cx="356.4" cy="292.1" r="3.05"/><circle cx="356.4" cy="293.4" r="3.05"/><circle cx="356.5" cy="293.3" r="3.05"/><circle cx="356.5" cy="293.5" r="3.05"/><circle cx="356.6" cy="294.5" r="3.05"/><circle cx="356.6" cy="293.8" r="3.05"/><circle cx="356.7" cy="295.1" r="3.05"/><circle cx="356.7" cy="296.9" r="3.05"/><circle cx="356.7" cy="297.3" r="3.05"/><circle cx="356.8" cy="298.4" r="3.05"/><circle cx="356.8" cy="300.8" r="3.05"/><circle cx="356.9" cy="300.1" r="3.05"/><circle cx="356.9" cy="300.4" r="3.05"/><circle cx="356.9" cy="299.6" r="3.05"/><circle cx="357.0" cy="300.4" r="3.05"/><circle cx="357.0" cy="303.0" r="3.05"/><circle cx="357.1" cy="302.1" r="3.05"/><circle cx="357.1" cy="303.9" r="3.05"/><circle cx="357.1" cy="302.0" r="3.05"/><circle cx="357.2" cy="302.8" r="3.05"/><circle cx="357.2" cy="301.9" r="3.05"/><circle cx="357.3" cy="302.6" r="3.05"/><circle cx="357.3" cy="300.1" r="3.05"/><circle cx="357.3" cy="299.5" r="3.05"/><circle cx="357.4" cy="299.6" r="3.05"/><circle cx="357.4" cy="298.7" r="3.05"/><circle cx="357.5" cy="300.0" r="3.05"/><circle cx="357.5" cy="296.9" r="3.05"/><circle cx="357.6" cy="295.9" r="3.05"/><circle cx="357.6" cy="295.5" r="3.05"/></g>
<g class="c" fill="#123512"><circle cx="358.4" cy="295.2" r="3.05"/><circle cx="358.4" cy="291.8" r="3.05"/><circle cx="358.4" cy="291.8" r="3.05"/><circle cx="358.5" cy="293.5" r="3.05"/><circle cx="358.5" cy="294.6" r="3.05"/><circle cx="358.6" cy="291.8" r="3.05"/><circle cx="358.6" cy="295.4" r="3.05"/><circle cx="358.6" cy="294.0" r="3.05"/><circle cx="358.7" cy="297.6" r="3.05"/><circle cx="358.7" cy="299.7" r="3.05"/><circle cx="358.8" cy="299.9" r="3.05"/><circle cx="358.8" cy="296.9" r="3.05"/><circle cx="358.8" cy="301.9" r="3.05"/><circle cx="358.9" cy="301.9" r="3.05"/><circle cx="358.9" cy="300.8" r="3.05"/><circle cx="359.0" cy="302.8" r="3.05"/><circle cx="359.0" cy="305.0" r="3.05"/><circle cx="359.0" cy="303.0" r="3.05"/><circle cx="359.1" cy="304.2" r="3.05"/><circle cx="359.1" cy="304.1" r="3.05"/><circle cx="359.2" cy="307.1" r="3.05"/><circle cx="359.2" cy="303.2" r="3.05"/><circle cx="359.3" cy="307.1" r="3.05"/><circle cx="359.3" cy="304.9" r="3.05"/><circle cx="359.3" cy="306.9" r="3.05"/><circle cx="359.4" cy="302.4" r="3.05"/><circle cx="359.4" cy="302.7" r="3.05"/><circle cx="359.5" cy="302.5" r="3.05"/><circle cx="359.5" cy="303.9" r="3.05"/><circle cx="359.5" cy="299.5" r="3.05"/><circle cx="359.6" cy="302.1" r="3.05"/><circle cx="359.6" cy="299.5" r="3.05"/><circle cx="359.7" cy="301.5" r="3.05"/><circle cx="359.7" cy="298.5" r="3.05"/><circle cx="359.7" cy="299.0" r="3.05"/><circle cx="359.8" cy="297.3" r="3.05"/><circle cx="359.8" cy="299.4" r="3.05"/><circle cx="359.9" cy="295.5" r="3.05"/><circle cx="359.9" cy="295.3" r="3.05"/><circle cx="360.0" cy="297.5" r="3.05"/></g>
<g class="c" fill="#174117"><circle cx="360.7" cy="295.7" r="3.05"/><circle cx="360.7" cy="292.9" r="3.05"/><circle cx="360.8" cy="291.9" r="3.05"/><circle cx="360.8" cy="291.9" r="3.05"/><circle cx="360.9" cy="293.9" r="3.05"/><circle cx="360.9" cy="293.7" r="3.05"/><circle cx="361.0" cy="291.9" r="3.05"/><circle cx="361.0" cy="297.3" r="3.05"/><circle cx="361.0" cy="294.4" r="3.05"/><circle cx="361.1" cy="295.7" r="3.05"/><circle cx="361.1" cy="297.4" r="3.05"/><circle cx="361.2" cy="296.2" r="3.05"/><circle cx="361.2" cy="296.3" r="3.05"/><circle cx="361.2" cy="298.3" r="3.05"/><circle cx="361.3" cy="301.9" r="3.05"/><circle cx="361.3" cy="302.4" r="3.05"/><circle cx="361.4" cy="299.5" r="3.05"/><circle cx="361.4" cy="304.3" r="3.05"/><circle cx="361.4" cy="303.4" r="3.05"/><circle cx="361.5" cy="304.9" r="3.05"/><circle cx="361.5" cy="305.0" r="3.05"/><circle cx="361.6" cy="307.0" r="3.05"/><circle cx="361.6" cy="305.1" r="3.05"/><circle cx="361.6" cy="305.4" r="3.05"/><circle cx="361.7" cy="304.9" r="3.05"/><circle cx="361.7" cy="304.6" r="3.05"/><circle cx="361.8" cy="305.2" r="3.05"/><circle cx="361.8" cy="301.8" r="3.05"/><circle cx="361.9" cy="305.0" r="3.05"/><circle cx="361.9" cy="301.0" r="3.05"/><circle cx="361.9" cy="300.3" r="3.05"/><circle cx="362.0" cy="301.4" r="3.05"/><circle cx="362.0" cy="300.2" r="3.05"/><circle cx="362.1" cy="298.3" r="3.05"/><circle cx="362.1" cy="296.4" r="3.05"/><circle cx="362.1" cy="295.7" r="3.05"/><circle cx="362.2" cy="294.1" r="3.05"/><circle cx="362.2" cy="297.3" r="3.05"/><circle cx="362.3" cy="296.4" r="3.05"/><circle cx="362.3" cy="296.8" r="3.05"/></g>
<g class="c" fill="#3f2525"><circle cx="363.1" cy="307.4" r="3.05"/><circle cx="363.1" cy="312.0" r="3.05"/><circle cx="363.1" cy="306.1" r="3.05"/><circle cx="363.2" cy="307.9" r="3.05"/><circle cx="363.2" cy="310.0" r="3.05"/><circle cx="363.3" cy="312.0" r="3.05"/><circle cx="363.3" cy="311.9" r="3.05"/><circle cx="363.3" cy="307.9" r="3.05"/><circle cx="363.4" cy="308.5" r="3.05"/><circle cx="363.4" cy="305.9" r="3.05"/><circle cx="363.5" cy="305.3" r="3.05"/><circle cx="363.5" cy="302.5" r="3.05"/><circle cx="363.6" cy="302.2" r="3.05"/><circle cx="363.6" cy="300.9" r="3.05"/><circle cx="363.6" cy="301.8" r="3.05"/><circle cx="363.7" cy="302.6" r="3.05"/><circle cx="363.7" cy="292.8" r="3.05"/><circle cx="363.8" cy="296.9" r="3.05"/><circle cx="363.8" cy="294.7" r="3.05"/><circle cx="363.8" cy="295.2" r="3.05"/><circle cx="363.9" cy="295.4" r="3.05"/><circle cx="363.9" cy="296.2" r="3.05"/><circle cx="364.0" cy="297.5" r="3.05"/><circle cx="364.0" cy="295.5" r="3.05"/><circle cx="364.0" cy="295.3" r="3.05"/><circle cx="364.1" cy="302.8" r="3.05"/><circle cx="364.1" cy="303.2" r="3.05"/><circle cx="364.2" cy="300.5" r="3.05"/><circle cx="364.2" cy="305.9" r="3.05"/><circle cx="364.2" cy="306.0" r="3.05"/><circle cx="364.3" cy="301.5" r="3.05"/><circle cx="364.3" cy="308.9" r="3.05"/><circle cx="364.4" cy="306.7" r="3.05"/><circle cx="364.4" cy="312.0" r="3.05"/><circle cx="364.5" cy="309.8" r="3.05"/><circle cx="364.5" cy="310.3" r="3.05"/><circle cx="364.5" cy="307.6" r="3.05"/><circle cx="364.6" cy="308.8" r="3.05"/><circle cx="364.6" cy="309.8" r="3.05"/><circle cx="364.7" cy="305.4" r="3.05"/></g>
<g fill="#f5f5f5"><circle cx="365.2" cy="311.8" r="2.92"/></g>
<g class="c" fill="#003131"><circle cx="365.4" cy="309.3" r="3.05"/><circle cx="365.5" cy="303.6" r="3.05"/><circle cx="365.5" cy="306.2" r="3.05"/><circle cx="365.5" cy="306.5" r="3.05"/><circle cx="365.6" cy="301.5" r="3.05"/><circle cx="365.6" cy="302.3" r="3.05"/><circle cx="365.7" cy="300.8" r="3.05"/><circle cx="365.7" cy="299.8" r="3.05"/><circle cx="365.7" cy="300.1" r="3.05"/><circle cx="365.8" cy="301.8" r="3.05"/><circle cx="365.8" cy="296.2" r="3.05"/><circle cx="365.9" cy="297.7" r="3.05"/><circle cx="365.9" cy="297.1" r="3.05"/><circle cx="365.9" cy="293.8" r="3.05"/><circle cx="366.0" cy="293.0" r="3.05"/><circle cx="366.0" cy="291.9" r="3.05"/><circle cx="366.1" cy="294.4" r="3.05"/><circle cx="366.1" cy="292.7" r="3.05"/><circle cx="366.2" cy="293.5" r="3.05"/><circle cx="366.2" cy="295.7" r="3.05"/><circle cx="366.2" cy="295.2" r="3.05"/><circle cx="366.3" cy="295.9" r="3.05"/><circle cx="366.3" cy="298.1" r="3.05"/><circle cx="366.4" cy="302.1" r="3.05"/><circle cx="366.4" cy="300.3" r="3.05"/><circle cx="366.4" cy="302.5" r="3.05"/><circle cx="366.5" cy="300.2" r="3.05"/><circle cx="366.5" cy="300.4" r="3.05"/><circle cx="366.6" cy="307.7" r="3.05"/><circle cx="366.6" cy="305.0" r="3.05"/><circle cx="366.6" cy="304.1" r="3.05"/><circle cx="366.7" cy="307.5" r="3.05"/><circle cx="366.7" cy="309.3" r="3.05"/><circle cx="366.8" cy="306.1" r="3.05"/><circle cx="366.8" cy="306.5" r="3.05"/><circle cx="366.9" cy="307.4" r="3.05"/><circle cx="366.9" cy="304.4" r="3.05"/><circle cx="366.9" cy="306.3" r="3.05"/><circle cx="367.0" cy="305.5" r="3.05"/><circle cx="367.0" cy="303.7" r="3.05"/></g>
<g fill="#ffb6c1"><circle cx="367.5" cy="293.5" r="2.92"/></g>
<g class="c" fill="#0e1519"><circle cx="367.8" cy="306.3" r="3.05"/><circle cx="367.8" cy="311.9" r="3.05"/><circle cx="367.9" cy="308.2" r="3.05"/><circle cx="367.9" cy="310.8" r="3.05"/><circle cx="367.9" cy="311.9" r="3.05"/><circle cx="368.0" cy="311.9" r="3.05"/><circle cx="368.0" cy="310.6" r="3.05"/><circle cx="368.1" cy="309.2" r="3.05"/><circle cx="368.1" cy="311.1" r="3.05"/><circle cx="368.1" cy="309.5" r="3.05"/><circle cx="368.2" cy="308.4" r="3.05"/><circle cx="368.2" cy="305.0" r="3.05"/><circle cx="368.3" cy="306.8" r="3.05"/><circle cx="368.3" cy="306.2" r="3.05"/><circle cx="368.3" cy="303.5" r="3.05"/><circle cx="368.4" cy="304.1" r="3.05"/><circle cx="368.4" cy="306.0" r="3.05"/><circle cx="368.5" cy="297.6" r="3.05"/><circle cx="368.5" cy="301.3" r="3.05"/><circle cx="368.5" cy="297.1" r="3.05"/><circle cx="368.6" cy="295.9" r="3.05"/><circle cx="368.6" cy="297.1" r="3.05"/><circle cx="368.7" cy="297.6" r="3.05"/><circle cx="368.7" cy="295.8" r="3.05"/><circle cx="368.8" cy="292.7" r="3.05"/><circle cx="368.8" cy="292.7" r="3.05"/><circle cx="368.8" cy="292.7" r="3.05"/><circle cx="368.9" cy="293.3" r="3.05"/><circle cx="368.9" cy="292.7" r="3.05"/><circle cx="369.0" cy="292.7" r="3.05"/><circle cx="369.0" cy="299.3" r="3.05"/><circle cx="369.0" cy="295.3" r="3.05"/><circle cx="369.1" cy="297.5" r="3.05"/><circle cx="369.1" cy="297.7" r="3.05"/><circle cx="369.2" cy="298.5" r="3.05"/><circle cx="369.2" cy="300.6" r="3.05"/><circle cx="369.2" cy="300.8" r="3.05"/><circle cx="369.3" cy="303.5" r="3.05"/><circle cx="369.3" cy="301.0" r="3.05"/><circle cx="369.4" cy="301.3" r="3.05"/></g>
<g class="c" fill="#0e1519"><circle cx="370.1" cy="314.4" r="3.05"/><circle cx="370.2" cy="307.6" r="3.05"/><circle cx="370.2" cy="306.6" r="3.05"/><circle cx="370.2" cy="311.5" r="3.05"/><circle cx="370.3" cy="309.8" r="3.05"/><circle cx="370.3" cy="308.6" r="3.05"/><circle cx="370.4" cy="302.6" r="3.05"/><circle cx="370.4" cy="300.6" r="3.05"/><circle cx="370.5" cy="302.1" r="3.05"/><circle cx="370.5" cy="300.9" r="3.05"/><circle cx="370.5" cy="303.0" r="3.05"/><circle cx="370.6" cy="299.3" r="3.05"/><circle cx="370.6" cy="304.3" r="3.05"/><circle cx="370.7" cy="298.3" r="3.05"/><circle cx="370.7" cy="297.5" r="3.05"/><circle cx="370.7" cy="299.8" r="3.05"/><circle cx="370.8" cy="297.7" r="3.05"/><circle cx="370.8" cy="293.9" r="3.05"/><circle cx="370.9" cy="296.9" r="3.05"/><circle cx="370.9" cy="298.4" r="3.05"/><circle cx="370.9" cy="290.9" r="3.05"/><circle cx="371.0" cy="291.6" r="3.05"/><circle cx="371.0" cy="290.9" r="3.05"/><circle cx="371.1" cy="290.9" r="3.05"/><circle cx="371.1" cy="293.9" r="3.05"/><circle cx="371.2" cy="295.0" r="3.05"/><circle cx="371.2" cy="296.6" r="3.05"/><circle cx="371.2" cy="296.3" r="3.05"/><circle cx="371.3" cy="291.7" r="3.05"/><circle cx="371.3" cy="297.2" r="3.05"/><circle cx="371.4" cy="296.7" r="3.05"/><circle cx="371.4" cy="296.4" r="3.05"/><circle cx="371.4" cy="297.6" r="3.05"/><circle cx="371.5" cy="302.8" r="3.05"/><circle cx="371.5" cy="301.3" r="3.05"/><circle cx="371.6" cy="307.4" r="3.05"/><circle cx="371.6" cy="304.9" r="3.05"/><circle cx="371.6" cy="300.5" r="3.05"/><circle cx="371.7" cy="307.8" r="3.05"/><circle cx="371.7" cy="309.6" r="3.05"/></g>
<g class="c" fill="#12171c"><circle cx="371.3" cy="296.0" r="3.05"/><circle cx="371.4" cy="290.9" r="3.05"/><circle cx="371.4" cy="290.9" r="3.05"/><circle cx="371.5" cy="290.9" r="3.05"/><circle cx="371.5" cy="295.1" r="3.05"/><circle cx="371.6" cy="297.0" r="3.05"/><circle cx="371.6" cy="294.6" r="3.05"/><circle cx="371.6" cy="293.9" r="3.05"/><circle cx="371.7" cy="298.8" r="3.05"/><circle cx="371.7" cy="301.6" r="3.05"/><circle cx="371.8" cy="298.5" r="3.05"/><circle cx="371.8" cy="301.1" r="3.05"/><circle cx="371.8" cy="305.5" r="3.05"/><circle cx="371.9" cy="309.2" r="3.05"/><circle cx="371.9" cy="309.3" r="3.05"/><circle cx="372.0" cy="311.9" r="3.05"/><circle cx="372.0" cy="309.2" r="3.05"/><circle cx="372.0" cy="307.7" r="3.05"/><circle cx="372.1" cy="317.2" r="3.05"/><circle cx="372.1" cy="314.6" r="3.05"/><circle cx="372.2" cy="314.9" r="3.05"/><circle cx="372.2" cy="312.6" r="3.05"/><circle cx="372.3" cy="313.1" r="3.05"/><circle cx="372.3" cy="308.2" r="3.05"/><circle cx="372.3" cy="312.3" r="3.05"/><circle cx="372.4" cy="307.0" r="3.05"/><circle cx="372.4" cy="306.6" r="3.05"/><circle cx="372.5" cy="305.1" r="3.05"/><circle cx="372.5" cy="304.5" r="3.05"/><circle cx="372.5" cy="301.2" r="3.05"/><circle cx="372.6" cy="294.0" r="3.05"/><circle cx="372.6" cy="295.2" r="3.05"/><circle cx="372.7" cy="299.9" r="3.05"/><circle cx="372.7" cy="294.7" r="3.05"/><circle cx="372.7" cy="293.2" r="3.05"/><circle cx="372.8" cy="292.9" r="3.05"/><circle cx="372.8" cy="291.7" r="3.05"/><circle cx="372.9" cy="293.3" r="3.05"/><circle cx="372.9" cy="295.1" r="3.05"/><circle cx="372.9" cy="301.4" r="3.05"/></g>
<g class="c" fill="#004f00"><circle cx="374.8" cy="307.3" r="3.05"/><circle cx="374.9" cy="305.5" r="3.05"/><circle cx="374.9" cy="305.9" r="3.05"/><circle cx="375.0" cy="303.1" r="3.05"/><circle cx="375.0" cy="301.1" r="3.05"/><circle cx="375.0" cy="300.8" r="3.05"/><circle cx="375.1" cy="297.5" r="3.05"/><circle cx="375.1" cy="296.3" r="3.05"/><circle cx="375.2" cy="295.8" r="3.05"/><circle cx="375.2" cy="295.3" r="3.05"/><circle cx="375.2" cy="292.8" r="3.05"/><circle cx="375.3" cy="293.9" r="3.05"/><circle cx="375.3" cy="293.5" r="3.05"/><circle cx="375.4" cy="295.4" r="3.05"/><circle cx="375.4" cy="294.0" r="3.05"/><circle cx="375.5" cy="289.6" r="3.05"/><circle cx="375.5" cy="292.1" r="3.05"/><circle cx="375.5" cy="291.2" r="3.05"/><circle cx="375.6" cy="293.4" r="3.05"/><circle cx="375.6" cy="293.7" r="3.05"/><circle cx="375.7" cy="293.9" r="3.05"/><circle cx="375.7" cy="296.1" r="3.05"/><circle cx="375.7" cy="294.5" r="3.05"/><circle cx="375.8" cy="298.9" r="3.05"/><circle cx="375.8" cy="298.7" r="3.05"/><circle cx="375.9" cy="298.4" r="3.05"/><circle cx="375.9" cy="300.8" r="3.05"/><circle cx="375.9" cy="303.4" r="3.05"/><circle cx="376.0" cy="302.4" r="3.05"/><circle cx="376.0" cy="305.5" r="3.05"/><circle cx="376.1" cy="306.7" r="3.05"/><circle cx="376.1" cy="307.3" r="3.05"/><circle cx="376.1" cy="304.8" r="3.05"/><circle cx="376.2" cy="305.4" r="3.05"/><circle cx="376.2" cy="305.4" r="3.05"/><circle cx="376.3" cy="306.0" r="3.05"/><circle cx="376.3" cy="302.8" r="3.05"/><circle cx="376.4" cy="302.6" r="3.05"/><circle cx="376.4" cy="297.6" r="3.05"/><circle cx="376.4" cy="298.1" r="3.05"/></g>
<g class="c" fill="#004f00"><circle cx="376.8" cy="283.7" r="3.05"/><circle cx="376.9" cy="279.7" r="3.05"/><circle cx="376.9" cy="282.5" r="3.05"/><circle cx="377.0" cy="281.6" r="3.05"/><circle cx="377.0" cy="288.7" r="3.05"/><circle cx="377.1" cy="285.2" r="3.05"/><circle cx="377.1" cy="285.9" r="3.05"/><circle cx="377.1" cy="284.5" r="3.05"/><circle cx="377.2" cy="290.4" r="3.05"/><circle cx="377.2" cy="295.4" r="3.05"/><circle cx="377.3" cy="296.8" r="3.05"/><circle cx="377.3" cy="300.2" r="3.05"/><circle cx="377.3" cy="301.1" r="3.05"/><circle cx="377.4" cy="300.3" r="3.05"/><circle cx="377.4" cy="304.2" r="3.05"/><circle cx="377.5" cy="304.9" r="3.05"/><circle cx="377.5" cy="302.4" r="3.05"/><circle cx="377.5" cy="309.9" r="3.05"/><circle cx="377.6" cy="309.9" r="3.05"/><circle cx="377.6" cy="304.4" r="3.05"/><circle cx="377.7" cy="306.7" r="3.05"/><circle cx="377.7" cy="304.4" r="3.05"/><circle cx="377.8" cy="304.6" r="3.05"/><circle cx="377.8" cy="304.0" r="3.05"/><circle cx="377.8" cy="288.6" r="3.05"/><circle cx="377.9" cy="297.4" r="3.05"/><circle cx="377.9" cy="298.3" r="3.05"/><circle cx="378.0" cy="288.9" r="3.05"/><circle cx="378.0" cy="284.2" r="3.05"/><circle cx="378.0" cy="288.7" r="3.05"/><circle cx="378.1" cy="286.9" r="3.05"/><circle cx="378.1" cy="284.9" r="3.05"/><circle cx="378.2" cy="279.7" r="3.05"/><circle cx="378.2" cy="279.7" r="3.05"/><circle cx="378.2" cy="282.0" r="3.05"/><circle cx="378.3" cy="285.6" r="3.05"/><circle cx="378.3" cy="291.9" r="3.05"/><circle cx="378.4" cy="288.2" r="3.05"/><circle cx="378.4" cy="287.5" r="3.05"/><circle cx="378.4" cy="284.2" r="3.05"/></g>
<g class="c" fill="#005800"><circle cx="379.5" cy="295.0" r="3.05"/><circle cx="379.6" cy="294.1" r="3.05"/><circle cx="379.6" cy="292.9" r="3.05"/><circle cx="379.7" cy="291.9" r="3.05"/><circle cx="379.7" cy="292.7" r="3.05"/><circle cx="379.8" cy="288.4" r="3.05"/><circle cx="379.8" cy="289.7" r="3.05"/><circle cx="379.8" cy="292.7" r="3.05"/><circle cx="379.9" cy="288.8" r="3.05"/><circle cx="379.9" cy="292.8" r="3.05"/><circle cx="380.0" cy="294.9" r="3.05"/><circle cx="380.0" cy="298.1" r="3.05"/><circle cx="380.0" cy="295.7" r="3.05"/><circle cx="380.1" cy="300.5" r="3.05"/><circle cx="380.1" cy="300.9" r="3.05"/><circle cx="380.2" cy="298.2" r="3.05"/><circle cx="380.2" cy="299.5" r="3.05"/><circle cx="380.2" cy="301.0" r="3.05"/><circle cx="380.3" cy="305.6" r="3.05"/><circle cx="380.3" cy="307.1" r="3.05"/><circle cx="380.4" cy="309.5" r="3.05"/><circle cx="380.4" cy="309.9" r="3.05"/><circle cx="380.4" cy="308.0" r="3.05"/><circle cx="380.5" cy="309.9" r="3.05"/><circle cx="380.5" cy="308.3" r="3.05"/><circle cx="380.6" cy="306.3" r="3.05"/><circle cx="380.6" cy="304.9" r="3.05"/><circle cx="380.7" cy="299.9" r="3.05"/><circle cx="380.7" cy="302.1" r="3.05"/><circle cx="380.7" cy="297.8" r="3.05"/><circle cx="380.8" cy="296.1" r="3.05"/><circle cx="380.8" cy="296.6" r="3.05"/><circle cx="380.9" cy="296.3" r="3.05"/><circle cx="380.9" cy="294.6" r="3.05"/><circle cx="380.9" cy="292.7" r="3.05"/><circle cx="381.0" cy="289.9" r="3.05"/><circle cx="381.0" cy="291.1" r="3.05"/><circle cx="381.1" cy="288.4" r="3.05"/><circle cx="381.1" cy="288.4" r="3.05"/><circle cx="381.1" cy="290.2" r="3.05"/></g>
<g fill="#1eb41e"><circle cx="380.2" cy="313.0" r="2.92"/></g>
<g class="c" fill="#005800"><circle cx="381.9" cy="289.6" r="3.05"/><circle cx="381.9" cy="293.8" r="3.05"/><circle cx="382.0" cy="301.5" r="3.05"/><circle cx="382.0" cy="296.2" r="3.05"/><circle cx="382.1" cy="299.5" r="3.05"/><circle cx="382.1" cy="299.5" r="3.05"/><circle cx="382.1" cy="295.6" r="3.05"/><circle cx="382.2" cy="298.5" r="3.05"/><circle cx="382.2" cy="299.5" r="3.05"/><circle cx="382.3" cy="304.6" r="3.05"/><circle cx="382.3" cy="305.2" r="3.05"/><circle cx="382.4" cy="310.4" r="3.05"/><circle cx="382.4" cy="306.9" r="3.05"/><circle cx="382.4" cy="309.5" r="3.05"/><circle cx="382.5" cy="310.3" r="3.05"/><circle cx="382.5" cy="311.7" r="3.05"/><circle cx="382.6" cy="312.4" r="3.05"/><circle cx="382.6" cy="311.5" r="3.05"/><circle cx="382.6" cy="312.4" r="3.05"/><circle cx="382.7" cy="311.3" r="3.05"/><circle cx="382.7" cy="305.6" r="3.05"/><circle cx="382.8" cy="307.3" r="3.05"/><circle cx="382.8" cy="303.5" r="3.05"/><circle cx="382.8" cy="303.4" r="3.05"/><circle cx="382.9" cy="302.2" r="3.05"/><circle cx="382.9" cy="300.6" r="3.05"/><circle cx="383.0" cy="298.2" r="3.05"/><circle cx="383.0" cy="301.6" r="3.05"/><circle cx="383.0" cy="296.1" r="3.05"/><circle cx="383.1" cy="297.0" r="3.05"/><circle cx="383.1" cy="298.0" r="3.05"/><circle cx="383.2" cy="294.3" r="3.05"/><circle cx="383.2" cy="293.9" r="3.05"/><circle cx="383.3" cy="293.5" r="3.05"/><circle cx="383.3" cy="291.8" r="3.05"/><circle cx="383.3" cy="294.6" r="3.05"/><circle cx="383.4" cy="289.1" r="3.05"/><circle cx="383.4" cy="297.7" r="3.05"/><circle cx="383.5" cy="294.5" r="3.05"/><circle cx="383.5" cy="291.7" r="3.05"/></g>
<g class="c" fill="#094109"><circle cx="384.3" cy="295.4" r="3.05"/><circle cx="384.3" cy="296.4" r="3.05"/><circle cx="384.3" cy="294.5" r="3.05"/><circle cx="384.4" cy="290.5" r="3.05"/><circle cx="384.4" cy="290.6" r="3.05"/><circle cx="384.5" cy="289.5" r="3.05"/><circle cx="384.5" cy="288.4" r="3.05"/><circle cx="384.5" cy="286.8" r="3.05"/><circle cx="384.6" cy="286.9" r="3.05"/><circle cx="384.6" cy="291.3" r="3.05"/><circle cx="384.7" cy="286.4" r="3.05"/><circle cx="384.7" cy="290.6" r="3.05"/><circle cx="384.7" cy="293.7" r="3.05"/><circle cx="384.8" cy="293.8" r="3.05"/><circle cx="384.8" cy="294.8" r="3.05"/><circle cx="384.9" cy="296.6" r="3.05"/><circle cx="384.9" cy="299.8" r="3.05"/><circle cx="385.0" cy="304.0" r="3.05"/><circle cx="385.0" cy="301.7" r="3.05"/><circle cx="385.0" cy="302.9" r="3.05"/><circle cx="385.1" cy="306.1" r="3.05"/><circle cx="385.1" cy="305.9" r="3.05"/><circle cx="385.2" cy="302.9" r="3.05"/><circle cx="385.2" cy="310.2" r="3.05"/><circle cx="385.2" cy="310.0" r="3.05"/><circle cx="385.3" cy="310.9" r="3.05"/><circle cx="385.3" cy="313.0" r="3.05"/><circle cx="385.4" cy="310.7" r="3.05"/><circle cx="385.4" cy="307.6" r="3.05"/><circle cx="385.4" cy="301.9" r="3.05"/><circle cx="385.5" cy="301.6" r="3.05"/><circle cx="385.5" cy="304.8" r="3.05"/><circle cx="385.6" cy="302.9" r="3.05"/><circle cx="385.6" cy="302.9" r="3.05"/><circle cx="385.6" cy="300.9" r="3.05"/><circle cx="385.7" cy="297.6" r="3.05"/><circle cx="385.7" cy="294.0" r="3.05"/><circle cx="385.8" cy="293.0" r="3.05"/><circle cx="385.8" cy="294.1" r="3.05"/><circle cx="385.9" cy="289.9" r="3.05"/></g>
<g fill="#66cdaa"><circle cx="385.2" cy="314.5" r="2.92"/></g>
<g fill="#0000ff"><circle cx="388.5" cy="293.0" r="2.92"/></g>
<g class="c" fill="#00005d"><circle cx="386.6" cy="292.9" r="3.05"/><circle cx="386.7" cy="295.4" r="3.05"/><circle cx="386.7" cy="293.5" r="3.05"/><circle cx="386.7" cy="290.7" r="3.05"/><circle cx="386.8" cy="289.5" r="3.05"/><circle cx="386.8" cy="289.5" r="3.05"/><circle cx="386.9" cy="292.9" r="3.05"/><circle cx="386.9" cy="294.7" r="3.05"/><circle cx="386.9" cy="298.8" r="3.05"/><circle cx="387.0" cy="292.0" r="3.05"/><circle cx="387.0" cy="298.1" r="3.05"/><circle cx="387.1" cy="298.2" r="3.05"/><circle cx="387.1" cy="301.7" r="3.05"/><circle cx="387.1" cy="300.1" r="3.05"/><circle cx="387.2" cy="304.4" r="3.05"/><circle cx="387.2" cy="306.2" r="3.05"/><circle cx="387.3" cy="307.1" r="3.05"/><circle cx="387.3" cy="310.5" r="3.05"/><circle cx="387.3" cy="308.2" r="3.05"/><circle cx="387.4" cy="312.5" r="3.05"/><circle cx="387.4" cy="309.9" r="3.05"/><circle cx="387.5" cy="312.5" r="3.05"/><circle cx="387.5" cy="304.2" r="3.05"/><circle cx="387.6" cy="309.1" r="3.05"/><circle cx="387.6" cy="305.7" r="3.05"/><circle cx="387.6" cy="306.1" r="3.05"/><circle cx="387.7" cy="307.0" r="3.05"/><circle cx="387.7" cy="304.8" r="3.05"/><circle cx="387.8" cy="301.9" r="3.05"/><circle cx="387.8" cy="304.1" r="3.05"/><circle cx="387.8" cy="295.3" r="3.05"/><circle cx="387.9" cy="295.4" r="3.05"/><circle cx="387.9" cy="299.2" r="3.05"/><circle cx="388.0" cy="295.0" r="3.05"/><circle cx="388.0" cy="289.5" r="3.05"/><circle cx="388.0" cy="292.1" r="3.05"/><circle cx="388.1" cy="289.5" r="3.05"/><circle cx="388.1" cy="294.1" r="3.05"/><circle cx="388.2" cy="294.8" r="3.05"/><circle cx="388.2" cy="292.4" r="3.05"/></g>
<g fill="#da70d6"><circle cx="389.5" cy="311.0" r="2.92"/></g>
<g class="c" fill="#271c46"><circle cx="389.0" cy="292.5" r="3.05"/><circle cx="389.0" cy="296.9" r="3.05"/><circle cx="389.0" cy="293.6" r="3.05"/><circle cx="389.1" cy="299.4" r="3.05"/><circle cx="389.1" cy="297.9" r="3.05"/><circle cx="389.2" cy="307.0" r="3.05"/><circle cx="389.2" cy="303.3" r="3.05"/><circle cx="389.3" cy="301.3" r="3.05"/><circle cx="389.3" cy="310.3" r="3.05"/><circle cx="389.3" cy="311.3" r="3.05"/><circle cx="389.4" cy="310.8" r="3.05"/><circle cx="389.4" cy="312.6" r="3.05"/><circle cx="389.5" cy="311.7" r="3.05"/><circle cx="389.5" cy="308.4" r="3.05"/><circle cx="389.5" cy="305.1" r="3.05"/><circle cx="389.6" cy="297.8" r="3.05"/><circle cx="389.6" cy="304.6" r="3.05"/><circle cx="389.7" cy="304.2" r="3.05"/><circle cx="389.7" cy="298.8" r="3.05"/><circle cx="389.7" cy="295.1" r="3.05"/><circle cx="389.8" cy="296.9" r="3.05"/><circle cx="389.8" cy="291.3" r="3.05"/><circle cx="389.9" cy="293.8" r="3.05"/><circle cx="389.9" cy="294.1" r="3.05"/><circle cx="389.9" cy="294.3" r="3.05"/><circle cx="390.0" cy="289.6" r="3.05"/><circle cx="390.0" cy="288.1" r="3.05"/><circle cx="390.1" cy="292.3" r="3.05"/><circle cx="390.1" cy="295.5" r="3.05"/><circle cx="390.2" cy="292.9" r="3.05"/><circle cx="390.2" cy="292.3" r="3.05"/><circle cx="390.2" cy="294.9" r="3.05"/><circle cx="390.3" cy="295.4" r="3.05"/><circle cx="390.3" cy="297.9" r="3.05"/><circle cx="390.4" cy="301.4" r="3.05"/><circle cx="390.4" cy="304.1" r="3.05"/><circle cx="390.4" cy="305.3" r="3.05"/><circle cx="390.5" cy="306.7" r="3.05"/><circle cx="390.5" cy="307.3" r="3.05"/><circle cx="390.6" cy="310.8" r="3.05"/></g>
<g fill="#9370db"><circle cx="393.2" cy="291.0" r="2.92"/></g>
<g class="c" fill="#352558"><circle cx="390.6" cy="305.1" r="3.05"/><circle cx="390.6" cy="302.2" r="3.05"/><circle cx="390.7" cy="301.5" r="3.05"/><circle cx="390.7" cy="298.0" r="3.05"/><circle cx="390.8" cy="300.4" r="3.05"/><circle cx="390.8" cy="295.2" r="3.05"/><circle cx="390.8" cy="292.2" r="3.05"/><circle cx="390.9" cy="293.5" r="3.05"/><circle cx="390.9" cy="291.1" r="3.05"/><circle cx="391.0" cy="293.5" r="3.05"/><circle cx="391.0" cy="289.8" r="3.05"/><circle cx="391.1" cy="291.5" r="3.05"/><circle cx="391.1" cy="291.8" r="3.05"/><circle cx="391.1" cy="294.7" r="3.05"/><circle cx="391.2" cy="293.3" r="3.05"/><circle cx="391.2" cy="299.5" r="3.05"/><circle cx="391.3" cy="293.6" r="3.05"/><circle cx="391.3" cy="297.9" r="3.05"/><circle cx="391.3" cy="298.3" r="3.05"/><circle cx="391.4" cy="303.5" r="3.05"/><circle cx="391.4" cy="303.1" r="3.05"/><circle cx="391.5" cy="305.7" r="3.05"/><circle cx="391.5" cy="304.7" r="3.05"/><circle cx="391.5" cy="304.9" r="3.05"/><circle cx="391.6" cy="305.0" r="3.05"/><circle cx="391.6" cy="308.6" r="3.05"/><circle cx="391.7" cy="309.3" r="3.05"/><circle cx="391.7" cy="313.0" r="3.05"/><circle cx="391.7" cy="314.5" r="3.05"/><circle cx="391.8" cy="317.6" r="3.05"/><circle cx="391.8" cy="315.8" r="3.05"/><circle cx="391.9" cy="315.3" r="3.05"/><circle cx="391.9" cy="314.8" r="3.05"/><circle cx="392.0" cy="316.7" r="3.05"/><circle cx="392.0" cy="316.2" r="3.05"/><circle cx="392.0" cy="318.3" r="3.05"/><circle cx="392.1" cy="313.1" r="3.05"/><circle cx="392.1" cy="316.3" r="3.05"/><circle cx="392.2" cy="315.3" r="3.05"/><circle cx="392.2" cy="305.6" r="3.05"/></g>
<g class="c" fill="#352558"><circle cx="393.7" cy="298.6" r="3.05"/><circle cx="393.7" cy="296.8" r="3.05"/><circle cx="393.8" cy="302.0" r="3.05"/><circle cx="393.8" cy="298.7" r="3.05"/><circle cx="393.8" cy="302.6" r="3.05"/><circle cx="393.9" cy="301.7" r="3.05"/><circle cx="393.9" cy="301.2" r="3.05"/><circle cx="394.0" cy="304.6" r="3.05"/><circle cx="394.0" cy="306.8" r="3.05"/><circle cx="394.0" cy="304.8" r="3.05"/><circle cx="394.1" cy="309.1" r="3.05"/><circle cx="394.1" cy="307.3" r="3.05"/><circle cx="394.2" cy="308.1" r="3.05"/><circle cx="394.2" cy="311.8" r="3.05"/><circle cx="394.2" cy="313.3" r="3.05"/><circle cx="394.3" cy="310.6" r="3.05"/><circle cx="394.3" cy="307.9" r="3.05"/><circle cx="394.4" cy="310.4" r="3.05"/><circle cx="394.4" cy="309.7" r="3.05"/><circle cx="394.5" cy="306.9" r="3.05"/><circle cx="394.5" cy="307.1" r="3.05"/><circle cx="394.5" cy="302.0" r="3.05"/><circle cx="394.6" cy="305.2" r="3.05"/><circle cx="394.6" cy="304.0" r="3.05"/><circle cx="394.7" cy="302.5" r="3.05"/><circle cx="394.7" cy="299.2" r="3.05"/><circle cx="394.7" cy="299.6" r="3.05"/><circle cx="394.8" cy="298.5" r="3.05"/><circle cx="394.8" cy="299.4" r="3.05"/><circle cx="394.9" cy="296.4" r="3.05"/><circle cx="394.9" cy="295.1" r="3.05"/><circle cx="394.9" cy="291.7" r="3.05"/><circle cx="395.0" cy="294.1" r="3.05"/><circle cx="395.0" cy="293.6" r="3.05"/><circle cx="395.1" cy="290.4" r="3.05"/><circle cx="395.1" cy="293.8" r="3.05"/><circle cx="395.2" cy="294.3" r="3.05"/><circle cx="395.2" cy="294.7" r="3.05"/><circle cx="395.2" cy="293.1" r="3.05"/><circle cx="395.3" cy="301.3" r="3.05"/></g>
<g fill="#9370db"><circle cx="397.8" cy="291.0" r="2.92"/></g>
<g class="c" fill="#00311a"><circle cx="396.7" cy="307.2" r="3.05"/><circle cx="396.7" cy="311.3" r="3.05"/><circle cx="396.8" cy="311.1" r="3.05"/><circle cx="396.8" cy="308.4" r="3.05"/><circle cx="396.9" cy="303.0" r="3.05"/><circle cx="396.9" cy="304.8" r="3.05"/><circle cx="396.9" cy="301.7" r="3.05"/><circle cx="397.0" cy="301.5" r="3.05"/><circle cx="397.0" cy="294.4" r="3.05"/><circle cx="397.1" cy="293.8" r="3.05"/><circle cx="397.1" cy="290.4" r="3.05"/><circle cx="397.2" cy="286.8" r="3.05"/><circle cx="397.2" cy="288.3" r="3.05"/><circle cx="397.2" cy="286.6" r="3.05"/><circle cx="397.3" cy="287.8" r="3.05"/><circle cx="397.3" cy="281.8" r="3.05"/><circle cx="397.4" cy="286.1" r="3.05"/><circle cx="397.4" cy="290.8" r="3.05"/><circle cx="397.4" cy="288.8" r="3.05"/><circle cx="397.5" cy="291.5" r="3.05"/><circle cx="397.5" cy="293.9" r="3.05"/><circle cx="397.6" cy="293.3" r="3.05"/><circle cx="397.6" cy="294.5" r="3.05"/><circle cx="397.6" cy="303.6" r="3.05"/><circle cx="397.7" cy="302.7" r="3.05"/><circle cx="397.7" cy="304.0" r="3.05"/><circle cx="397.8" cy="302.3" r="3.05"/><circle cx="397.8" cy="309.0" r="3.05"/><circle cx="397.8" cy="314.6" r="3.05"/><circle cx="397.9" cy="309.1" r="3.05"/><circle cx="397.9" cy="312.0" r="3.05"/><circle cx="398.0" cy="315.0" r="3.05"/><circle cx="398.0" cy="315.0" r="3.05"/><circle cx="398.1" cy="313.6" r="3.05"/><circle cx="398.1" cy="304.5" r="3.05"/><circle cx="398.1" cy="306.1" r="3.05"/><circle cx="398.2" cy="299.5" r="3.05"/><circle cx="398.2" cy="301.5" r="3.05"/><circle cx="398.3" cy="296.4" r="3.05"/><circle cx="398.3" cy="296.1" r="3.05"/></g>
<g class="c" fill="#00311a"><circle cx="398.4" cy="291.9" r="3.05"/><circle cx="398.4" cy="295.9" r="3.05"/><circle cx="398.5" cy="300.2" r="3.05"/><circle cx="398.5" cy="291.1" r="3.05"/><circle cx="398.5" cy="295.1" r="3.05"/><circle cx="398.6" cy="296.5" r="3.05"/><circle cx="398.6" cy="304.2" r="3.05"/><circle cx="398.7" cy="310.2" r="3.05"/><circle cx="398.7" cy="305.2" r="3.05"/><circle cx="398.8" cy="306.4" r="3.05"/><circle cx="398.8" cy="310.9" r="3.05"/><circle cx="398.8" cy="301.9" r="3.05"/><circle cx="398.9" cy="310.1" r="3.05"/><circle cx="398.9" cy="303.0" r="3.05"/><circle cx="399.0" cy="313.8" r="3.05"/><circle cx="399.0" cy="311.0" r="3.05"/><circle cx="399.0" cy="309.6" r="3.05"/><circle cx="399.1" cy="310.5" r="3.05"/><circle cx="399.1" cy="306.3" r="3.05"/><circle cx="399.2" cy="309.8" r="3.05"/><circle cx="399.2" cy="305.0" r="3.05"/><circle cx="399.2" cy="304.6" r="3.05"/><circle cx="399.3" cy="309.5" r="3.05"/><circle cx="399.3" cy="299.2" r="3.05"/><circle cx="399.4" cy="301.7" r="3.05"/><circle cx="399.4" cy="295.1" r="3.05"/><circle cx="399.5" cy="299.7" r="3.05"/><circle cx="399.5" cy="297.4" r="3.05"/><circle cx="399.5" cy="293.4" r="3.05"/><circle cx="399.6" cy="294.4" r="3.05"/><circle cx="399.6" cy="294.7" r="3.05"/><circle cx="399.7" cy="292.6" r="3.05"/><circle cx="399.7" cy="287.1" r="3.05"/><circle cx="399.7" cy="285.4" r="3.05"/><circle cx="399.8" cy="287.9" r="3.05"/><circle cx="399.8" cy="284.3" r="3.05"/><circle cx="399.9" cy="285.9" r="3.05"/><circle cx="399.9" cy="290.5" r="3.05"/><circle cx="399.9" cy="292.3" r="3.05"/><circle cx="400.0" cy="297.5" r="3.05"/></g>
<g class="c" fill="#094123"><circle cx="400.7" cy="296.4" r="3.05"/><circle cx="400.8" cy="296.9" r="3.05"/><circle cx="400.8" cy="299.3" r="3.05"/><circle cx="400.9" cy="297.5" r="3.05"/><circle cx="400.9" cy="299.6" r="3.05"/><circle cx="400.9" cy="298.4" r="3.05"/><circle cx="401.0" cy="305.7" r="3.05"/><circle cx="401.0" cy="302.5" r="3.05"/><circle cx="401.1" cy="302.5" r="3.05"/><circle cx="401.1" cy="308.9" r="3.05"/><circle cx="401.2" cy="308.2" r="3.05"/><circle cx="401.2" cy="311.9" r="3.05"/><circle cx="401.2" cy="310.5" r="3.05"/><circle cx="401.3" cy="313.8" r="3.05"/><circle cx="401.3" cy="313.8" r="3.05"/><circle cx="401.4" cy="312.8" r="3.05"/><circle cx="401.4" cy="311.4" r="3.05"/><circle cx="401.4" cy="309.4" r="3.05"/><circle cx="401.5" cy="310.2" r="3.05"/><circle cx="401.5" cy="311.3" r="3.05"/><circle cx="401.6" cy="305.0" r="3.05"/><circle cx="401.6" cy="302.3" r="3.05"/><circle cx="401.6" cy="304.5" r="3.05"/><circle cx="401.7" cy="304.1" r="3.05"/><circle cx="401.7" cy="297.6" r="3.05"/><circle cx="401.8" cy="297.9" r="3.05"/><circle cx="401.8" cy="296.0" r="3.05"/><circle cx="401.8" cy="297.8" r="3.05"/><circle cx="401.9" cy="296.4" r="3.05"/><circle cx="401.9" cy="293.1" r="3.05"/><circle cx="402.0" cy="293.1" r="3.05"/><circle cx="402.0" cy="296.2" r="3.05"/><circle cx="402.1" cy="293.1" r="3.05"/><circle cx="402.1" cy="298.7" r="3.05"/><circle cx="402.1" cy="298.4" r="3.05"/><circle cx="402.2" cy="304.0" r="3.05"/><circle cx="402.2" cy="303.4" r="3.05"/><circle cx="402.3" cy="301.5" r="3.05"/><circle cx="402.3" cy="303.4" r="3.05"/><circle cx="402.3" cy="304.7" r="3.05"/></g>
<g class="c" fill="#410931"><circle cx="403.1" cy="304.5" r="3.05"/><circle cx="403.1" cy="308.3" r="3.05"/><circle cx="403.2" cy="305.4" r="3.05"/><circle cx="403.2" cy="300.7" r="3.05"/><circle cx="403.3" cy="299.5" r="3.05"/><circle cx="403.3" cy="298.1" r="3.05"/><circle cx="403.3" cy="295.2" r="3.05"/><circle cx="403.4" cy="300.2" r="3.05"/><circle cx="403.4" cy="296.6" r="3.05"/><circle cx="403.5" cy="293.6" r="3.05"/><circle cx="403.5" cy="291.4" r="3.05"/><circle cx="403.5" cy="291.9" r="3.05"/><circle cx="403.6" cy="291.4" r="3.05"/><circle cx="403.6" cy="296.4" r="3.05"/><circle cx="403.7" cy="292.7" r="3.05"/><circle cx="403.7" cy="295.2" r="3.05"/><circle cx="403.8" cy="298.5" r="3.05"/><circle cx="403.8" cy="298.9" r="3.05"/><circle cx="403.8" cy="298.2" r="3.05"/><circle cx="403.9" cy="294.9" r="3.05"/><circle cx="403.9" cy="304.2" r="3.05"/><circle cx="404.0" cy="303.6" r="3.05"/><circle cx="404.0" cy="302.5" r="3.05"/><circle cx="404.0" cy="304.5" r="3.05"/><circle cx="404.1" cy="303.7" r="3.05"/><circle cx="404.1" cy="305.1" r="3.05"/><circle cx="404.2" cy="305.0" r="3.05"/><circle cx="404.2" cy="310.7" r="3.05"/><circle cx="404.2" cy="311.9" r="3.05"/><circle cx="404.3" cy="312.4" r="3.05"/><circle cx="404.3" cy="314.3" r="3.05"/><circle cx="404.4" cy="314.3" r="3.05"/><circle cx="404.4" cy="313.2" r="3.05"/><circle cx="404.4" cy="309.8" r="3.05"/><circle cx="404.5" cy="311.9" r="3.05"/><circle cx="404.5" cy="312.0" r="3.05"/><circle cx="404.6" cy="309.5" r="3.05"/><circle cx="404.6" cy="309.7" r="3.05"/><circle cx="404.7" cy="304.6" r="3.05"/><circle cx="404.7" cy="302.2" r="3.05"/></g>
<g fill="#e61ea0"><circle cx="405.0" cy="293.0" r="2.92"/></g>
<g class="c" fill="#252523"><circle cx="405.5" cy="291.6" r="3.05"/><circle cx="405.5" cy="292.1" r="3.05"/><circle cx="405.5" cy="291.4" r="3.05"/><circle cx="405.6" cy="299.4" r="3.05"/><circle cx="405.6" cy="296.9" r="3.05"/><circle cx="405.7" cy="293.6" r="3.05"/><circle cx="405.7" cy="296.8" r="3.05"/><circle cx="405.7" cy="297.5" r="3.05"/><circle cx="405.8" cy="299.4" r="3.05"/><circle cx="405.8" cy="296.7" r="3.05"/><circle cx="405.9" cy="304.3" r="3.05"/><circle cx="405.9" cy="307.6" r="3.05"/><circle cx="405.9" cy="304.8" r="3.05"/><circle cx="406.0" cy="307.9" r="3.05"/><circle cx="406.0" cy="308.7" r="3.05"/><circle cx="406.1" cy="306.0" r="3.05"/><circle cx="406.1" cy="312.2" r="3.05"/><circle cx="406.1" cy="307.3" r="3.05"/><circle cx="406.2" cy="310.7" r="3.05"/><circle cx="406.2" cy="311.2" r="3.05"/><circle cx="406.3" cy="312.5" r="3.05"/><circle cx="406.3" cy="310.0" r="3.05"/><circle cx="406.4" cy="308.4" r="3.05"/><circle cx="406.4" cy="305.9" r="3.05"/><circle cx="406.4" cy="306.7" r="3.05"/><circle cx="406.5" cy="305.5" r="3.05"/><circle cx="406.5" cy="305.8" r="3.05"/><circle cx="406.6" cy="306.1" r="3.05"/><circle cx="406.6" cy="303.6" r="3.05"/><circle cx="406.6" cy="301.0" r="3.05"/><circle cx="406.7" cy="299.6" r="3.05"/><circle cx="406.7" cy="302.1" r="3.05"/><circle cx="406.8" cy="298.1" r="3.05"/><circle cx="406.8" cy="296.6" r="3.05"/><circle cx="406.8" cy="299.2" r="3.05"/><circle cx="406.9" cy="297.6" r="3.05"/><circle cx="406.9" cy="294.5" r="3.05"/><circle cx="407.0" cy="292.0" r="3.05"/><circle cx="407.0" cy="291.4" r="3.05"/><circle cx="407.1" cy="295.0" r="3.05"/></g>
<g class="c" fill="#252523"><circle cx="407.8" cy="296.2" r="3.05"/><circle cx="407.8" cy="297.3" r="3.05"/><circle cx="407.9" cy="292.2" r="3.05"/><circle cx="407.9" cy="295.9" r="3.05"/><circle cx="408.0" cy="298.7" r="3.05"/><circle cx="408.0" cy="303.5" r="3.05"/><circle cx="408.1" cy="300.4" r="3.05"/><circle cx="408.1" cy="299.6" r="3.05"/><circle cx="408.1" cy="301.0" r="3.05"/><circle cx="408.2" cy="303.2" r="3.05"/><circle cx="408.2" cy="306.4" r="3.05"/><circle cx="408.3" cy="303.7" r="3.05"/><circle cx="408.3" cy="306.8" r="3.05"/><circle cx="408.3" cy="306.8" r="3.05"/><circle cx="408.4" cy="306.6" r="3.05"/><circle cx="408.4" cy="306.2" r="3.05"/><circle cx="408.5" cy="308.6" r="3.05"/><circle cx="408.5" cy="308.3" r="3.05"/><circle cx="408.5" cy="311.7" r="3.05"/><circle cx="408.6" cy="307.9" r="3.05"/><circle cx="408.6" cy="312.9" r="3.05"/><circle cx="408.7" cy="312.9" r="3.05"/><circle cx="408.7" cy="312.9" r="3.05"/><circle cx="408.7" cy="312.9" r="3.05"/><circle cx="408.8" cy="311.5" r="3.05"/><circle cx="408.8" cy="306.0" r="3.05"/><circle cx="408.9" cy="308.7" r="3.05"/><circle cx="408.9" cy="308.7" r="3.05"/><circle cx="409.0" cy="305.6" r="3.05"/><circle cx="409.0" cy="303.8" r="3.05"/><circle cx="409.0" cy="306.2" r="3.05"/><circle cx="409.1" cy="305.5" r="3.05"/><circle cx="409.1" cy="302.8" r="3.05"/><circle cx="409.2" cy="302.3" r="3.05"/><circle cx="409.2" cy="301.0" r="3.05"/><circle cx="409.2" cy="300.0" r="3.05"/><circle cx="409.3" cy="300.2" r="3.05"/><circle cx="409.3" cy="301.7" r="3.05"/><circle cx="409.4" cy="295.4" r="3.05"/><circle cx="409.4" cy="297.2" r="3.05"/></g>
<g fill="#0c0c3c"><circle cx="410.5" cy="302.0" r="2.92"/><circle cx="410.5" cy="304.0" r="2.92"/><circle cx="410.5" cy="306.0" r="2.92"/><circle cx="410.5" cy="308.0" r="2.92"/><circle cx="410.5" cy="310.0" r="2.92"/><circle cx="410.5" cy="312.0" r="2.92"/></g>
<g class="c" fill="#13135d"><circle cx="409.7" cy="299.3" r="3.05"/><circle cx="409.8" cy="300.3" r="3.05"/><circle cx="409.8" cy="300.3" r="3.05"/><circle cx="409.9" cy="303.1" r="3.05"/><circle cx="409.9" cy="312.1" r="3.05"/><circle cx="410.0" cy="316.5" r="3.05"/><circle cx="410.0" cy="313.2" r="3.05"/><circle cx="410.0" cy="314.0" r="3.05"/><circle cx="410.1" cy="320.4" r="3.05"/><circle cx="410.1" cy="321.3" r="3.05"/><circle cx="410.2" cy="321.1" r="3.05"/><circle cx="410.2" cy="310.2" r="3.05"/><circle cx="410.2" cy="314.0" r="3.05"/><circle cx="410.3" cy="303.8" r="3.05"/><circle cx="410.3" cy="313.5" r="3.05"/><circle cx="410.4" cy="307.0" r="3.05"/><circle cx="410.4" cy="305.9" r="3.05"/><circle cx="410.4" cy="313.0" r="3.05"/><circle cx="410.5" cy="310.3" r="3.05"/><circle cx="410.5" cy="304.9" r="3.05"/><circle cx="410.6" cy="302.1" r="3.05"/><circle cx="410.6" cy="299.8" r="3.05"/><circle cx="410.7" cy="294.7" r="3.05"/><circle cx="410.7" cy="295.1" r="3.05"/><circle cx="410.7" cy="301.3" r="3.05"/><circle cx="410.8" cy="287.8" r="3.05"/><circle cx="410.8" cy="286.8" r="3.05"/><circle cx="410.9" cy="288.3" r="3.05"/><circle cx="410.9" cy="289.4" r="3.05"/><circle cx="410.9" cy="287.3" r="3.05"/><circle cx="411.0" cy="278.6" r="3.05"/><circle cx="411.0" cy="279.5" r="3.05"/><circle cx="411.1" cy="278.6" r="3.05"/><circle cx="411.1" cy="278.6" r="3.05"/><circle cx="411.1" cy="283.2" r="3.05"/><circle cx="411.2" cy="282.8" r="3.05"/><circle cx="411.2" cy="290.6" r="3.05"/><circle cx="411.3" cy="290.4" r="3.05"/><circle cx="411.3" cy="287.3" r="3.05"/><circle cx="411.3" cy="292.8" r="3.05"/></g>
<g class="c" fill="#12192a"><circle cx="412.5" cy="301.0" r="3.05"/><circle cx="412.6" cy="303.2" r="3.05"/><circle cx="412.6" cy="304.8" r="3.05"/><circle cx="412.6" cy="296.4" r="3.05"/><circle cx="412.7" cy="296.6" r="3.05"/><circle cx="412.7" cy="295.3" r="3.05"/><circle cx="412.8" cy="292.3" r="3.05"/><circle cx="412.8" cy="294.3" r="3.05"/><circle cx="412.8" cy="292.4" r="3.05"/><circle cx="412.9" cy="294.4" r="3.05"/><circle cx="412.9" cy="300.1" r="3.05"/><circle cx="413.0" cy="295.9" r="3.05"/><circle cx="413.0" cy="299.6" r="3.05"/><circle cx="413.0" cy="301.0" r="3.05"/><circle cx="413.1" cy="299.1" r="3.05"/><circle cx="413.1" cy="300.5" r="3.05"/><circle cx="413.2" cy="306.6" r="3.05"/><circle cx="413.2" cy="306.1" r="3.05"/><circle cx="413.3" cy="306.1" r="3.05"/><circle cx="413.3" cy="304.7" r="3.05"/><circle cx="413.3" cy="310.5" r="3.05"/><circle cx="413.4" cy="311.0" r="3.05"/><circle cx="413.4" cy="315.1" r="3.05"/><circle cx="413.5" cy="315.1" r="3.05"/><circle cx="413.5" cy="315.1" r="3.05"/><circle cx="413.5" cy="315.1" r="3.05"/><circle cx="413.6" cy="313.8" r="3.05"/><circle cx="413.6" cy="311.1" r="3.05"/><circle cx="413.7" cy="311.6" r="3.05"/><circle cx="413.7" cy="310.2" r="3.05"/><circle cx="413.7" cy="309.7" r="3.05"/><circle cx="413.8" cy="309.4" r="3.05"/><circle cx="413.8" cy="306.3" r="3.05"/><circle cx="413.9" cy="303.1" r="3.05"/><circle cx="413.9" cy="304.7" r="3.05"/><circle cx="414.0" cy="305.1" r="3.05"/><circle cx="414.0" cy="298.4" r="3.05"/><circle cx="414.0" cy="299.9" r="3.05"/><circle cx="414.1" cy="298.8" r="3.05"/><circle cx="414.1" cy="297.5" r="3.05"/></g>
<g class="c" fill="#12192a"><circle cx="414.9" cy="292.5" r="3.05"/><circle cx="414.9" cy="296.5" r="3.05"/><circle cx="415.0" cy="292.5" r="3.05"/><circle cx="415.0" cy="292.5" r="3.05"/><circle cx="415.0" cy="292.5" r="3.05"/><circle cx="415.1" cy="296.3" r="3.05"/><circle cx="415.1" cy="296.8" r="3.05"/><circle cx="415.2" cy="297.2" r="3.05"/><circle cx="415.2" cy="302.0" r="3.05"/><circle cx="415.2" cy="306.9" r="3.05"/><circle cx="415.3" cy="306.3" r="3.05"/><circle cx="415.3" cy="307.1" r="3.05"/><circle cx="415.4" cy="304.9" r="3.05"/><circle cx="415.4" cy="308.9" r="3.05"/><circle cx="415.4" cy="308.8" r="3.05"/><circle cx="415.5" cy="313.0" r="3.05"/><circle cx="415.5" cy="313.1" r="3.05"/><circle cx="415.6" cy="313.2" r="3.05"/><circle cx="415.6" cy="315.9" r="3.05"/><circle cx="415.6" cy="313.8" r="3.05"/><circle cx="415.7" cy="315.8" r="3.05"/><circle cx="415.7" cy="315.9" r="3.05"/><circle cx="415.8" cy="310.2" r="3.05"/><circle cx="415.8" cy="310.8" r="3.05"/><circle cx="415.9" cy="304.3" r="3.05"/><circle cx="415.9" cy="308.7" r="3.05"/><circle cx="415.9" cy="307.1" r="3.05"/><circle cx="416.0" cy="301.3" r="3.05"/><circle cx="416.0" cy="306.1" r="3.05"/><circle cx="416.1" cy="300.9" r="3.05"/><circle cx="416.1" cy="295.2" r="3.05"/><circle cx="416.1" cy="294.6" r="3.05"/><circle cx="416.2" cy="298.2" r="3.05"/><circle cx="416.2" cy="294.1" r="3.05"/><circle cx="416.3" cy="295.7" r="3.05"/><circle cx="416.3" cy="292.5" r="3.05"/><circle cx="416.3" cy="294.6" r="3.05"/><circle cx="416.4" cy="298.5" r="3.05"/><circle cx="416.4" cy="296.3" r="3.05"/><circle cx="416.5" cy="300.8" r="3.05"/></g>
<g fill="#dc143c"><circle cx="418.5" cy="307.0" r="2.92"/><circle cx="418.5" cy="310.5" r="2.92"/></g>
<g fill="#6495ed"><circle cx="418.5" cy="310.5" r="2.92"/></g>
<g class="c" fill="#580909"><circle cx="417.2" cy="293.1" r="3.05"/><circle cx="417.3" cy="296.8" r="3.05"/><circle cx="417.3" cy="296.9" r="3.05"/><circle cx="417.3" cy="291.6" r="3.05"/><circle cx="417.4" cy="291.8" r="3.05"/><circle cx="417.4" cy="298.1" r="3.05"/><circle cx="417.5" cy="296.2" r="3.05"/><circle cx="417.5" cy="291.6" r="3.05"/><circle cx="417.6" cy="295.4" r="3.05"/><circle cx="417.6" cy="293.0" r="3.05"/><circle cx="417.6" cy="298.9" r="3.05"/><circle cx="417.7" cy="297.5" r="3.05"/><circle cx="417.7" cy="299.0" r="3.05"/><circle cx="417.8" cy="299.4" r="3.05"/><circle cx="417.8" cy="303.2" r="3.05"/><circle cx="417.8" cy="302.5" r="3.05"/><circle cx="417.9" cy="302.6" r="3.05"/><circle cx="417.9" cy="305.3" r="3.05"/><circle cx="418.0" cy="307.9" r="3.05"/><circle cx="418.0" cy="306.0" r="3.05"/><circle cx="418.0" cy="311.7" r="3.05"/><circle cx="418.1" cy="306.2" r="3.05"/><circle cx="418.1" cy="312.2" r="3.05"/><circle cx="418.2" cy="311.4" r="3.05"/><circle cx="418.2" cy="316.0" r="3.05"/><circle cx="418.3" cy="313.0" r="3.05"/><circle cx="418.3" cy="314.1" r="3.05"/><circle cx="418.3" cy="312.1" r="3.05"/><circle cx="418.4" cy="316.0" r="3.05"/><circle cx="418.4" cy="314.5" r="3.05"/><circle cx="418.5" cy="309.4" r="3.05"/><circle cx="418.5" cy="310.1" r="3.05"/><circle cx="418.5" cy="307.5" r="3.05"/><circle cx="418.6" cy="312.3" r="3.05"/><circle cx="418.6" cy="308.6" r="3.05"/><circle cx="418.7" cy="301.7" r="3.05"/><circle cx="418.7" cy="305.9" r="3.05"/><circle cx="418.7" cy="306.5" r="3.05"/><circle cx="418.8" cy="303.2" r="3.05"/><circle cx="418.8" cy="303.2" r="3.05"/></g>
<g class="c" fill="#460707"><circle cx="419.6" cy="294.4" r="3.05"/><circle cx="419.6" cy="293.9" r="3.05"/><circle cx="419.7" cy="294.1" r="3.05"/><circle cx="419.7" cy="297.1" r="3.05"/><circle cx="419.7" cy="298.9" r="3.05"/><circle cx="419.8" cy="291.9" r="3.05"/><circle cx="419.8" cy="298.0" r="3.05"/><circle cx="419.9" cy="302.1" r="3.05"/><circle cx="419.9" cy="302.1" r="3.05"/><circle cx="419.9" cy="299.9" r="3.05"/><circle cx="420.0" cy="304.4" r="3.05"/><circle cx="420.0" cy="300.9" r="3.05"/><circle cx="420.1" cy="302.0" r="3.05"/><circle cx="420.1" cy="307.7" r="3.05"/><circle cx="420.2" cy="304.2" r="3.05"/><circle cx="420.2" cy="305.3" r="3.05"/><circle cx="420.2" cy="303.5" r="3.05"/><circle cx="420.3" cy="305.4" r="3.05"/><circle cx="420.3" cy="305.8" r="3.05"/><circle cx="420.4" cy="308.5" r="3.05"/><circle cx="420.4" cy="306.1" r="3.05"/><circle cx="420.4" cy="310.5" r="3.05"/><circle cx="420.5" cy="309.4" r="3.05"/><circle cx="420.5" cy="308.2" r="3.05"/><circle cx="420.6" cy="307.4" r="3.05"/><circle cx="420.6" cy="309.1" r="3.05"/><circle cx="420.6" cy="309.8" r="3.05"/><circle cx="420.7" cy="305.5" r="3.05"/><circle cx="420.7" cy="308.4" r="3.05"/><circle cx="420.8" cy="307.7" r="3.05"/><circle cx="420.8" cy="306.4" r="3.05"/><circle cx="420.9" cy="303.8" r="3.05"/><circle cx="420.9" cy="299.8" r="3.05"/><circle cx="420.9" cy="303.0" r="3.05"/><circle cx="421.0" cy="300.3" r="3.05"/><circle cx="421.0" cy="300.6" r="3.05"/><circle cx="421.1" cy="296.1" r="3.05"/><circle cx="421.1" cy="298.2" r="3.05"/><circle cx="421.1" cy="298.4" r="3.05"/><circle cx="421.2" cy="295.5" r="3.05"/></g>
<g class="c" fill="#003333"><circle cx="421.9" cy="304.5" r="3.05"/><circle cx="422.0" cy="297.2" r="3.05"/><circle cx="422.0" cy="300.7" r="3.05"/><circle cx="422.1" cy="304.3" r="3.05"/><circle cx="422.1" cy="303.6" r="3.05"/><circle cx="422.1" cy="301.6" r="3.05"/><circle cx="422.2" cy="307.5" r="3.05"/><circle cx="422.2" cy="309.8" r="3.05"/><circle cx="422.3" cy="307.9" r="3.05"/><circle cx="422.3" cy="310.8" r="3.05"/><circle cx="422.3" cy="310.8" r="3.05"/><circle cx="422.4" cy="310.8" r="3.05"/><circle cx="422.4" cy="304.7" r="3.05"/><circle cx="422.5" cy="306.4" r="3.05"/><circle cx="422.5" cy="308.2" r="3.05"/><circle cx="422.6" cy="307.8" r="3.05"/><circle cx="422.6" cy="305.3" r="3.05"/><circle cx="422.6" cy="301.7" r="3.05"/><circle cx="422.7" cy="300.9" r="3.05"/><circle cx="422.7" cy="298.2" r="3.05"/><circle cx="422.8" cy="300.2" r="3.05"/><circle cx="422.8" cy="295.7" r="3.05"/><circle cx="422.8" cy="296.1" r="3.05"/><circle cx="422.9" cy="291.7" r="3.05"/><circle cx="422.9" cy="291.7" r="3.05"/><circle cx="423.0" cy="295.7" r="3.05"/><circle cx="423.0" cy="292.3" r="3.05"/><circle cx="423.0" cy="293.8" r="3.05"/><circle cx="423.1" cy="291.7" r="3.05"/><circle cx="423.1" cy="295.6" r="3.05"/><circle cx="423.2" cy="300.7" r="3.05"/><circle cx="423.2" cy="295.2" r="3.05"/><circle cx="423.2" cy="294.8" r="3.05"/><circle cx="423.3" cy="300.1" r="3.05"/><circle cx="423.3" cy="300.5" r="3.05"/><circle cx="423.4" cy="302.3" r="3.05"/><circle cx="423.4" cy="301.5" r="3.05"/><circle cx="423.5" cy="302.5" r="3.05"/><circle cx="423.5" cy="303.9" r="3.05"/><circle cx="423.5" cy="308.6" r="3.05"/></g>
<g class="c" fill="#4f3500"><circle cx="424.3" cy="295.0" r="3.05"/><circle cx="424.3" cy="294.5" r="3.05"/><circle cx="424.4" cy="294.7" r="3.05"/><circle cx="424.4" cy="293.8" r="3.05"/><circle cx="424.5" cy="296.4" r="3.05"/><circle cx="424.5" cy="297.8" r="3.05"/><circle cx="424.5" cy="296.8" r="3.05"/><circle cx="424.6" cy="298.0" r="3.05"/><circle cx="424.6" cy="296.7" r="3.05"/><circle cx="424.7" cy="297.8" r="3.05"/><circle cx="424.7" cy="300.3" r="3.05"/><circle cx="424.7" cy="301.9" r="3.05"/><circle cx="424.8" cy="300.7" r="3.05"/><circle cx="424.8" cy="299.8" r="3.05"/><circle cx="424.9" cy="301.8" r="3.05"/><circle cx="424.9" cy="301.1" r="3.05"/><circle cx="424.9" cy="302.9" r="3.05"/><circle cx="425.0" cy="303.3" r="3.05"/><circle cx="425.0" cy="302.3" r="3.05"/><circle cx="425.1" cy="301.2" r="3.05"/><circle cx="425.1" cy="302.0" r="3.05"/><circle cx="425.2" cy="299.8" r="3.05"/><circle cx="425.2" cy="300.0" r="3.05"/><circle cx="425.2" cy="299.2" r="3.05"/><circle cx="425.3" cy="298.9" r="3.05"/><circle cx="425.3" cy="296.2" r="3.05"/><circle cx="425.4" cy="298.0" r="3.05"/><circle cx="425.4" cy="297.6" r="3.05"/><circle cx="425.4" cy="293.5" r="3.05"/><circle cx="425.5" cy="292.4" r="3.05"/><circle cx="425.5" cy="293.8" r="3.05"/><circle cx="425.6" cy="295.9" r="3.05"/><circle cx="425.6" cy="293.7" r="3.05"/><circle cx="425.6" cy="293.8" r="3.05"/><circle cx="425.7" cy="293.1" r="3.05"/><circle cx="425.7" cy="292.9" r="3.05"/><circle cx="425.8" cy="291.8" r="3.05"/><circle cx="425.8" cy="292.2" r="3.05"/><circle cx="425.8" cy="293.9" r="3.05"/><circle cx="425.9" cy="294.8" r="3.05"/></g>
<g class="c" fill="#2c2c2c"><circle cx="426.6" cy="304.4" r="3.05"/><circle cx="426.7" cy="301.5" r="3.05"/><circle cx="426.7" cy="304.5" r="3.05"/><circle cx="426.8" cy="300.6" r="3.05"/><circle cx="426.8" cy="303.2" r="3.05"/><circle cx="426.9" cy="301.7" r="3.05"/><circle cx="426.9" cy="302.0" r="3.05"/><circle cx="426.9" cy="300.8" r="3.05"/><circle cx="427.0" cy="300.5" r="3.05"/><circle cx="427.0" cy="300.6" r="3.05"/><circle cx="427.1" cy="300.3" r="3.05"/><circle cx="427.1" cy="298.4" r="3.05"/><circle cx="427.1" cy="295.9" r="3.05"/><circle cx="427.2" cy="297.4" r="3.05"/><circle cx="427.2" cy="298.4" r="3.05"/><circle cx="427.3" cy="296.3" r="3.05"/><circle cx="427.3" cy="297.3" r="3.05"/><circle cx="427.3" cy="295.8" r="3.05"/><circle cx="427.4" cy="294.7" r="3.05"/><circle cx="427.4" cy="296.6" r="3.05"/><circle cx="427.5" cy="296.7" r="3.05"/><circle cx="427.5" cy="294.1" r="3.05"/><circle cx="427.5" cy="293.7" r="3.05"/><circle cx="427.6" cy="294.3" r="3.05"/><circle cx="427.6" cy="292.8" r="3.05"/><circle cx="427.7" cy="292.8" r="3.05"/><circle cx="427.7" cy="295.2" r="3.05"/><circle cx="427.8" cy="295.4" r="3.05"/><circle cx="427.8" cy="294.3" r="3.05"/><circle cx="427.8" cy="294.5" r="3.05"/><circle cx="427.9" cy="296.3" r="3.05"/><circle cx="427.9" cy="294.8" r="3.05"/><circle cx="428.0" cy="296.4" r="3.05"/><circle cx="428.0" cy="297.2" r="3.05"/><circle cx="428.0" cy="295.1" r="3.05"/><circle cx="428.1" cy="299.2" r="3.05"/><circle cx="428.1" cy="299.9" r="3.05"/><circle cx="428.2" cy="300.7" r="3.05"/><circle cx="428.2" cy="298.3" r="3.05"/><circle cx="428.2" cy="299.0" r="3.05"/></g>
<g class="c" fill="#2e2e09"><circle cx="429.0" cy="300.9" r="3.05"/><circle cx="429.0" cy="302.0" r="3.05"/><circle cx="429.1" cy="303.3" r="3.05"/><circle cx="429.1" cy="301.4" r="3.05"/><circle cx="429.2" cy="303.3" r="3.05"/><circle cx="429.2" cy="302.5" r="3.05"/><circle cx="429.2" cy="299.9" r="3.05"/><circle cx="429.3" cy="301.0" r="3.05"/><circle cx="429.3" cy="298.1" r="3.05"/><circle cx="429.4" cy="301.5" r="3.05"/><circle cx="429.4" cy="297.6" r="3.05"/><circle cx="429.5" cy="299.2" r="3.05"/><circle cx="429.5" cy="298.9" r="3.05"/><circle cx="429.5" cy="295.5" r="3.05"/><circle cx="429.6" cy="294.4" r="3.05"/><circle cx="429.6" cy="295.1" r="3.05"/><circle cx="429.7" cy="292.7" r="3.05"/><circle cx="429.7" cy="294.6" r="3.05"/><circle cx="429.7" cy="292.9" r="3.05"/><circle cx="429.8" cy="290.9" r="3.05"/><circle cx="429.8" cy="290.3" r="3.05"/><circle cx="429.9" cy="291.4" r="3.05"/><circle cx="429.9" cy="289.6" r="3.05"/><circle cx="429.9" cy="292.5" r="3.05"/><circle cx="430.0" cy="289.9" r="3.05"/><circle cx="430.0" cy="291.4" r="3.05"/><circle cx="430.1" cy="291.2" r="3.05"/><circle cx="430.1" cy="295.4" r="3.05"/><circle cx="430.1" cy="295.0" r="3.05"/><circle cx="430.2" cy="296.4" r="3.05"/><circle cx="430.2" cy="296.3" r="3.05"/><circle cx="430.3" cy="296.3" r="3.05"/><circle cx="430.3" cy="299.2" r="3.05"/><circle cx="430.4" cy="298.5" r="3.05"/><circle cx="430.4" cy="299.0" r="3.05"/><circle cx="430.4" cy="299.9" r="3.05"/><circle cx="430.5" cy="300.8" r="3.05"/><circle cx="430.5" cy="301.0" r="3.05"/><circle cx="430.6" cy="301.1" r="3.05"/><circle cx="430.6" cy="299.9" r="3.05"/></g>
<g fill="#dcd26e"><circle cx="433.0" cy="293.0" r="2.92"/></g>
<g class="c" fill="#270031"><circle cx="431.4" cy="295.9" r="3.05"/><circle cx="431.4" cy="296.3" r="3.05"/><circle cx="431.4" cy="295.8" r="3.05"/><circle cx="431.5" cy="295.3" r="3.05"/><circle cx="431.5" cy="295.3" r="3.05"/><circle cx="431.6" cy="295.9" r="3.05"/><circle cx="431.6" cy="296.8" r="3.05"/><circle cx="431.6" cy="295.4" r="3.05"/><circle cx="431.7" cy="295.3" r="3.05"/><circle cx="431.7" cy="295.7" r="3.05"/><circle cx="431.8" cy="297.4" r="3.05"/><circle cx="431.8" cy="297.5" r="3.05"/><circle cx="431.8" cy="297.9" r="3.05"/><circle cx="431.9" cy="298.2" r="3.05"/><circle cx="431.9" cy="298.1" r="3.05"/><circle cx="432.0" cy="297.7" r="3.05"/><circle cx="432.0" cy="299.3" r="3.05"/><circle cx="432.1" cy="299.5" r="3.05"/><circle cx="432.1" cy="300.0" r="3.05"/><circle cx="432.1" cy="300.8" r="3.05"/><circle cx="432.2" cy="299.3" r="3.05"/><circle cx="432.2" cy="298.8" r="3.05"/><circle cx="432.3" cy="299.5" r="3.05"/><circle cx="432.3" cy="302.6" r="3.05"/><circle cx="432.3" cy="300.7" r="3.05"/><circle cx="432.4" cy="301.9" r="3.05"/><circle cx="432.4" cy="301.9" r="3.05"/><circle cx="432.5" cy="302.6" r="3.05"/><circle cx="432.5" cy="302.6" r="3.05"/><circle cx="432.5" cy="301.9" r="3.05"/><circle cx="432.6" cy="301.9" r="3.05"/><circle cx="432.6" cy="301.2" r="3.05"/><circle cx="432.7" cy="301.6" r="3.05"/><circle cx="432.7" cy="301.5" r="3.05"/><circle cx="432.7" cy="300.1" r="3.05"/><circle cx="432.8" cy="301.4" r="3.05"/><circle cx="432.8" cy="301.0" r="3.05"/><circle cx="432.9" cy="300.2" r="3.05"/><circle cx="432.9" cy="299.5" r="3.05"/><circle cx="433.0" cy="299.1" r="3.05"/></g>
<g class="c" fill="#270031"><circle cx="433.7" cy="313.6" r="3.05"/><circle cx="433.8" cy="310.6" r="3.05"/><circle cx="433.8" cy="312.2" r="3.05"/><circle cx="433.8" cy="313.6" r="3.05"/><circle cx="433.9" cy="313.6" r="3.05"/><circle cx="433.9" cy="308.1" r="3.05"/><circle cx="434.0" cy="310.9" r="3.05"/><circle cx="434.0" cy="305.8" r="3.05"/><circle cx="434.0" cy="306.9" r="3.05"/><circle cx="434.1" cy="305.9" r="3.05"/><circle cx="434.1" cy="301.1" r="3.05"/><circle cx="434.2" cy="304.7" r="3.05"/><circle cx="434.2" cy="305.2" r="3.05"/><circle cx="434.2" cy="300.1" r="3.05"/><circle cx="434.3" cy="299.3" r="3.05"/><circle cx="434.3" cy="294.9" r="3.05"/><circle cx="434.4" cy="300.3" r="3.05"/><circle cx="434.4" cy="295.2" r="3.05"/><circle cx="434.4" cy="291.4" r="3.05"/><circle cx="434.5" cy="294.4" r="3.05"/><circle cx="434.5" cy="291.4" r="3.05"/><circle cx="434.6" cy="291.4" r="3.05"/><circle cx="434.6" cy="291.4" r="3.05"/><circle cx="434.7" cy="298.0" r="3.05"/><circle cx="434.7" cy="301.1" r="3.05"/><circle cx="434.7" cy="296.0" r="3.05"/><circle cx="434.8" cy="297.2" r="3.05"/><circle cx="434.8" cy="298.6" r="3.05"/><circle cx="434.9" cy="299.8" r="3.05"/><circle cx="434.9" cy="303.5" r="3.05"/><circle cx="434.9" cy="306.7" r="3.05"/><circle cx="435.0" cy="302.5" r="3.05"/><circle cx="435.0" cy="306.9" r="3.05"/><circle cx="435.1" cy="303.1" r="3.05"/><circle cx="435.1" cy="311.7" r="3.05"/><circle cx="435.1" cy="309.4" r="3.05"/><circle cx="435.2" cy="309.2" r="3.05"/><circle cx="435.2" cy="313.6" r="3.05"/><circle cx="435.3" cy="313.0" r="3.05"/><circle cx="435.3" cy="313.6" r="3.05"/></g>
<g class="c" fill="#122512"><circle cx="436.1" cy="299.1" r="3.05"/><circle cx="436.1" cy="296.3" r="3.05"/><circle cx="436.1" cy="300.4" r="3.05"/><circle cx="436.2" cy="302.2" r="3.05"/><circle cx="436.2" cy="297.5" r="3.05"/><circle cx="436.3" cy="300.4" r="3.05"/><circle cx="436.3" cy="301.6" r="3.05"/><circle cx="436.4" cy="303.4" r="3.05"/><circle cx="436.4" cy="306.2" r="3.05"/><circle cx="436.4" cy="306.3" r="3.05"/><circle cx="436.5" cy="307.9" r="3.05"/><circle cx="436.5" cy="308.1" r="3.05"/><circle cx="436.6" cy="309.9" r="3.05"/><circle cx="436.6" cy="311.1" r="3.05"/><circle cx="436.6" cy="311.1" r="3.05"/><circle cx="436.7" cy="307.4" r="3.05"/><circle cx="436.7" cy="307.4" r="3.05"/><circle cx="436.8" cy="305.1" r="3.05"/><circle cx="436.8" cy="305.0" r="3.05"/><circle cx="436.8" cy="301.7" r="3.05"/><circle cx="436.9" cy="304.7" r="3.05"/><circle cx="436.9" cy="303.1" r="3.05"/><circle cx="437.0" cy="300.6" r="3.05"/><circle cx="437.0" cy="298.4" r="3.05"/><circle cx="437.0" cy="297.7" r="3.05"/><circle cx="437.1" cy="296.2" r="3.05"/><circle cx="437.1" cy="293.5" r="3.05"/><circle cx="437.2" cy="298.0" r="3.05"/><circle cx="437.2" cy="299.8" r="3.05"/><circle cx="437.3" cy="293.4" r="3.05"/><circle cx="437.3" cy="293.4" r="3.05"/><circle cx="437.3" cy="297.4" r="3.05"/><circle cx="437.4" cy="298.6" r="3.05"/><circle cx="437.4" cy="295.9" r="3.05"/><circle cx="437.5" cy="296.4" r="3.05"/><circle cx="437.5" cy="301.9" r="3.05"/><circle cx="437.5" cy="298.5" r="3.05"/><circle cx="437.6" cy="305.7" r="3.05"/><circle cx="437.6" cy="303.5" r="3.05"/><circle cx="437.7" cy="305.6" r="3.05"/></g>
<g fill="#ff8c00"><circle cx="440.3" cy="313.5" r="2.92"/></g>
<g class="c" fill="#412300"><circle cx="438.4" cy="296.4" r="3.05"/><circle cx="438.5" cy="294.5" r="3.05"/><circle cx="438.5" cy="296.1" r="3.05"/><circle cx="438.5" cy="296.3" r="3.05"/><circle cx="438.6" cy="297.5" r="3.05"/><circle cx="438.6" cy="298.7" r="3.05"/><circle cx="438.7" cy="302.1" r="3.05"/><circle cx="438.7" cy="308.2" r="3.05"/><circle cx="438.7" cy="307.8" r="3.05"/><circle cx="438.8" cy="307.1" r="3.05"/><circle cx="438.8" cy="312.2" r="3.05"/><circle cx="438.9" cy="312.0" r="3.05"/><circle cx="438.9" cy="311.4" r="3.05"/><circle cx="439.0" cy="311.9" r="3.05"/><circle cx="439.0" cy="311.0" r="3.05"/><circle cx="439.0" cy="316.0" r="3.05"/><circle cx="439.1" cy="314.5" r="3.05"/><circle cx="439.1" cy="309.7" r="3.05"/><circle cx="439.2" cy="309.0" r="3.05"/><circle cx="439.2" cy="315.8" r="3.05"/><circle cx="439.2" cy="309.9" r="3.05"/><circle cx="439.3" cy="309.2" r="3.05"/><circle cx="439.3" cy="307.0" r="3.05"/><circle cx="439.4" cy="303.8" r="3.05"/><circle cx="439.4" cy="304.7" r="3.05"/><circle cx="439.4" cy="304.8" r="3.05"/><circle cx="439.5" cy="299.8" r="3.05"/><circle cx="439.5" cy="300.4" r="3.05"/><circle cx="439.6" cy="300.2" r="3.05"/><circle cx="439.6" cy="294.9" r="3.05"/><circle cx="439.7" cy="295.1" r="3.05"/><circle cx="439.7" cy="291.3" r="3.05"/><circle cx="439.7" cy="293.3" r="3.05"/><circle cx="439.8" cy="290.5" r="3.05"/><circle cx="439.8" cy="295.1" r="3.05"/><circle cx="439.9" cy="291.7" r="3.05"/><circle cx="439.9" cy="299.4" r="3.05"/><circle cx="439.9" cy="295.8" r="3.05"/><circle cx="440.0" cy="295.9" r="3.05"/><circle cx="440.0" cy="297.2" r="3.05"/></g>
<g class="c" fill="#351746"><circle cx="440.8" cy="305.4" r="3.05"/><circle cx="440.8" cy="302.6" r="3.05"/><circle cx="440.9" cy="298.9" r="3.05"/><circle cx="440.9" cy="302.4" r="3.05"/><circle cx="440.9" cy="304.9" r="3.05"/><circle cx="441.0" cy="297.7" r="3.05"/><circle cx="441.0" cy="299.3" r="3.05"/><circle cx="441.1" cy="299.0" r="3.05"/><circle cx="441.1" cy="292.8" r="3.05"/><circle cx="441.1" cy="292.9" r="3.05"/><circle cx="441.2" cy="292.9" r="3.05"/><circle cx="441.2" cy="293.6" r="3.05"/><circle cx="441.3" cy="291.8" r="3.05"/><circle cx="441.3" cy="295.7" r="3.05"/><circle cx="441.3" cy="296.3" r="3.05"/><circle cx="441.4" cy="299.9" r="3.05"/><circle cx="441.4" cy="295.7" r="3.05"/><circle cx="441.5" cy="299.3" r="3.05"/><circle cx="441.5" cy="300.7" r="3.05"/><circle cx="441.6" cy="302.4" r="3.05"/><circle cx="441.6" cy="306.0" r="3.05"/><circle cx="441.6" cy="304.4" r="3.05"/><circle cx="441.7" cy="313.0" r="3.05"/><circle cx="441.7" cy="306.9" r="3.05"/><circle cx="441.8" cy="311.5" r="3.05"/><circle cx="441.8" cy="313.2" r="3.05"/><circle cx="441.8" cy="313.3" r="3.05"/><circle cx="441.9" cy="312.5" r="3.05"/><circle cx="441.9" cy="309.9" r="3.05"/><circle cx="442.0" cy="309.8" r="3.05"/><circle cx="442.0" cy="310.5" r="3.05"/><circle cx="442.0" cy="308.0" r="3.05"/><circle cx="442.1" cy="307.6" r="3.05"/><circle cx="442.1" cy="306.3" r="3.05"/><circle cx="442.2" cy="301.8" r="3.05"/><circle cx="442.2" cy="300.4" r="3.05"/><circle cx="442.3" cy="304.2" r="3.05"/><circle cx="442.3" cy="298.7" r="3.05"/><circle cx="442.3" cy="295.0" r="3.05"/><circle cx="442.4" cy="301.2" r="3.05"/></g>
<g fill="#dc1414"><circle cx="444.8" cy="312.0" r="2.92"/></g>
<g class="c" fill="#4f0000"><circle cx="443.1" cy="307.8" r="3.05"/><circle cx="443.2" cy="306.9" r="3.05"/><circle cx="443.2" cy="313.3" r="3.05"/><circle cx="443.3" cy="306.8" r="3.05"/><circle cx="443.3" cy="311.5" r="3.05"/><circle cx="443.3" cy="304.7" r="3.05"/><circle cx="443.4" cy="303.4" r="3.05"/><circle cx="443.4" cy="300.8" r="3.05"/><circle cx="443.5" cy="300.6" r="3.05"/><circle cx="443.5" cy="298.9" r="3.05"/><circle cx="443.5" cy="298.9" r="3.05"/><circle cx="443.6" cy="299.6" r="3.05"/><circle cx="443.6" cy="293.9" r="3.05"/><circle cx="443.7" cy="293.6" r="3.05"/><circle cx="443.7" cy="292.1" r="3.05"/><circle cx="443.7" cy="296.8" r="3.05"/><circle cx="443.8" cy="292.2" r="3.05"/><circle cx="443.8" cy="292.9" r="3.05"/><circle cx="443.9" cy="293.9" r="3.05"/><circle cx="443.9" cy="297.4" r="3.05"/><circle cx="444.0" cy="296.9" r="3.05"/><circle cx="444.0" cy="299.2" r="3.05"/><circle cx="444.0" cy="298.0" r="3.05"/><circle cx="444.1" cy="299.2" r="3.05"/><circle cx="444.1" cy="300.4" r="3.05"/><circle cx="444.2" cy="297.5" r="3.05"/><circle cx="444.2" cy="305.2" r="3.05"/><circle cx="444.2" cy="300.3" r="3.05"/><circle cx="444.3" cy="302.7" r="3.05"/><circle cx="444.3" cy="307.5" r="3.05"/><circle cx="444.4" cy="307.3" r="3.05"/><circle cx="444.4" cy="310.1" r="3.05"/><circle cx="444.4" cy="313.2" r="3.05"/><circle cx="444.5" cy="314.6" r="3.05"/><circle cx="444.5" cy="314.6" r="3.05"/><circle cx="444.6" cy="312.1" r="3.05"/><circle cx="444.6" cy="314.6" r="3.05"/><circle cx="444.6" cy="312.4" r="3.05"/><circle cx="444.7" cy="313.1" r="3.05"/><circle cx="444.7" cy="314.5" r="3.05"/></g>
<g fill="#ffa07a"><circle cx="447.0" cy="292.0" r="2.92"/></g>
<g class="c" fill="#35251c"><circle cx="445.5" cy="293.0" r="3.05"/><circle cx="445.5" cy="292.2" r="3.05"/><circle cx="445.6" cy="291.2" r="3.05"/><circle cx="445.6" cy="293.8" r="3.05"/><circle cx="445.6" cy="291.9" r="3.05"/><circle cx="445.7" cy="297.5" r="3.05"/><circle cx="445.7" cy="302.9" r="3.05"/><circle cx="445.8" cy="295.9" r="3.05"/><circle cx="445.8" cy="302.0" r="3.05"/><circle cx="445.9" cy="300.3" r="3.05"/><circle cx="445.9" cy="301.0" r="3.05"/><circle cx="445.9" cy="302.0" r="3.05"/><circle cx="446.0" cy="303.9" r="3.05"/><circle cx="446.0" cy="303.0" r="3.05"/><circle cx="446.1" cy="304.0" r="3.05"/><circle cx="446.1" cy="310.5" r="3.05"/><circle cx="446.1" cy="309.4" r="3.05"/><circle cx="446.2" cy="310.5" r="3.05"/><circle cx="446.2" cy="309.5" r="3.05"/><circle cx="446.3" cy="308.6" r="3.05"/><circle cx="446.3" cy="303.1" r="3.05"/><circle cx="446.3" cy="303.0" r="3.05"/><circle cx="446.4" cy="305.0" r="3.05"/><circle cx="446.4" cy="304.5" r="3.05"/><circle cx="446.5" cy="298.7" r="3.05"/><circle cx="446.5" cy="298.6" r="3.05"/><circle cx="446.6" cy="296.2" r="3.05"/><circle cx="446.6" cy="298.6" r="3.05"/><circle cx="446.6" cy="296.6" r="3.05"/><circle cx="446.7" cy="294.7" r="3.05"/><circle cx="446.7" cy="291.9" r="3.05"/><circle cx="446.8" cy="292.7" r="3.05"/><circle cx="446.8" cy="290.8" r="3.05"/><circle cx="446.8" cy="289.5" r="3.05"/><circle cx="446.9" cy="291.6" r="3.05"/><circle cx="446.9" cy="290.8" r="3.05"/><circle cx="447.0" cy="295.5" r="3.05"/><circle cx="447.0" cy="296.1" r="3.05"/><circle cx="447.0" cy="294.6" r="3.05"/><circle cx="447.1" cy="298.6" r="3.05"/></g>
<g class="c" fill="#191935"><circle cx="447.8" cy="309.4" r="3.05"/><circle cx="447.9" cy="310.8" r="3.05"/><circle cx="447.9" cy="307.7" r="3.05"/><circle cx="448.0" cy="308.2" r="3.05"/><circle cx="448.0" cy="307.6" r="3.05"/><circle cx="448.0" cy="307.5" r="3.05"/><circle cx="448.1" cy="306.0" r="3.05"/><circle cx="448.1" cy="306.4" r="3.05"/><circle cx="448.2" cy="304.7" r="3.05"/><circle cx="448.2" cy="301.0" r="3.05"/><circle cx="448.3" cy="302.2" r="3.05"/><circle cx="448.3" cy="296.4" r="3.05"/><circle cx="448.3" cy="299.3" r="3.05"/><circle cx="448.4" cy="298.8" r="3.05"/><circle cx="448.4" cy="298.8" r="3.05"/><circle cx="448.5" cy="296.3" r="3.05"/><circle cx="448.5" cy="297.5" r="3.05"/><circle cx="448.5" cy="297.4" r="3.05"/><circle cx="448.6" cy="292.8" r="3.05"/><circle cx="448.6" cy="292.8" r="3.05"/><circle cx="448.7" cy="293.8" r="3.05"/><circle cx="448.7" cy="295.2" r="3.05"/><circle cx="448.7" cy="295.5" r="3.05"/><circle cx="448.8" cy="297.6" r="3.05"/><circle cx="448.8" cy="294.9" r="3.05"/><circle cx="448.9" cy="299.4" r="3.05"/><circle cx="448.9" cy="301.0" r="3.05"/><circle cx="448.9" cy="301.8" r="3.05"/><circle cx="449.0" cy="301.5" r="3.05"/><circle cx="449.0" cy="301.2" r="3.05"/><circle cx="449.1" cy="303.3" r="3.05"/><circle cx="449.1" cy="303.4" r="3.05"/><circle cx="449.2" cy="301.6" r="3.05"/><circle cx="449.2" cy="304.3" r="3.05"/><circle cx="449.2" cy="306.2" r="3.05"/><circle cx="449.3" cy="306.3" r="3.05"/><circle cx="449.3" cy="306.4" r="3.05"/><circle cx="449.4" cy="308.6" r="3.05"/><circle cx="449.4" cy="309.3" r="3.05"/><circle cx="449.4" cy="310.8" r="3.05"/></g>
<g fill="#7b68ee"><circle cx="451.5" cy="293.0" r="2.92"/></g>
<g class="c" fill="#004141"><circle cx="450.2" cy="293.5" r="3.05"/><circle cx="450.2" cy="292.7" r="3.05"/><circle cx="450.3" cy="296.2" r="3.05"/><circle cx="450.3" cy="298.5" r="3.05"/><circle cx="450.4" cy="297.6" r="3.05"/><circle cx="450.4" cy="297.9" r="3.05"/><circle cx="450.4" cy="297.6" r="3.05"/><circle cx="450.5" cy="301.6" r="3.05"/><circle cx="450.5" cy="300.1" r="3.05"/><circle cx="450.6" cy="302.0" r="3.05"/><circle cx="450.6" cy="304.0" r="3.05"/><circle cx="450.6" cy="303.8" r="3.05"/><circle cx="450.7" cy="307.1" r="3.05"/><circle cx="450.7" cy="304.1" r="3.05"/><circle cx="450.8" cy="306.5" r="3.05"/><circle cx="450.8" cy="306.8" r="3.05"/><circle cx="450.9" cy="305.4" r="3.05"/><circle cx="450.9" cy="307.1" r="3.05"/><circle cx="450.9" cy="306.9" r="3.05"/><circle cx="451.0" cy="306.4" r="3.05"/><circle cx="451.0" cy="307.8" r="3.05"/><circle cx="451.1" cy="305.5" r="3.05"/><circle cx="451.1" cy="308.2" r="3.05"/><circle cx="451.1" cy="304.1" r="3.05"/><circle cx="451.2" cy="303.8" r="3.05"/><circle cx="451.2" cy="304.1" r="3.05"/><circle cx="451.3" cy="302.4" r="3.05"/><circle cx="451.3" cy="302.6" r="3.05"/><circle cx="451.3" cy="300.9" r="3.05"/><circle cx="451.4" cy="299.0" r="3.05"/><circle cx="451.4" cy="296.8" r="3.05"/><circle cx="451.5" cy="297.8" r="3.05"/><circle cx="451.5" cy="301.5" r="3.05"/><circle cx="451.5" cy="299.1" r="3.05"/><circle cx="451.6" cy="298.0" r="3.05"/><circle cx="451.6" cy="296.4" r="3.05"/><circle cx="451.7" cy="296.2" r="3.05"/><circle cx="451.7" cy="296.2" r="3.05"/><circle cx="451.8" cy="292.9" r="3.05"/><circle cx="451.8" cy="293.1" r="3.05"/></g>
<g class="c" fill="#004141"><circle cx="452.6" cy="301.0" r="3.05"/><circle cx="452.6" cy="305.2" r="3.05"/><circle cx="452.6" cy="300.0" r="3.05"/><circle cx="452.7" cy="299.4" r="3.05"/><circle cx="452.7" cy="300.7" r="3.05"/><circle cx="452.8" cy="299.2" r="3.05"/><circle cx="452.8" cy="298.6" r="3.05"/><circle cx="452.8" cy="294.7" r="3.05"/><circle cx="452.9" cy="297.4" r="3.05"/><circle cx="452.9" cy="297.4" r="3.05"/><circle cx="453.0" cy="293.9" r="3.05"/><circle cx="453.0" cy="292.7" r="3.05"/><circle cx="453.0" cy="292.7" r="3.05"/><circle cx="453.1" cy="295.2" r="3.05"/><circle cx="453.1" cy="294.8" r="3.05"/><circle cx="453.2" cy="295.2" r="3.05"/><circle cx="453.2" cy="294.0" r="3.05"/><circle cx="453.2" cy="299.2" r="3.05"/><circle cx="453.3" cy="298.8" r="3.05"/><circle cx="453.3" cy="298.2" r="3.05"/><circle cx="453.4" cy="301.3" r="3.05"/><circle cx="453.4" cy="298.2" r="3.05"/><circle cx="453.5" cy="301.8" r="3.05"/><circle cx="453.5" cy="299.7" r="3.05"/><circle cx="453.5" cy="304.2" r="3.05"/><circle cx="453.6" cy="302.3" r="3.05"/><circle cx="453.6" cy="305.4" r="3.05"/><circle cx="453.7" cy="303.6" r="3.05"/><circle cx="453.7" cy="305.7" r="3.05"/><circle cx="453.7" cy="307.6" r="3.05"/><circle cx="453.8" cy="305.2" r="3.05"/><circle cx="453.8" cy="307.5" r="3.05"/><circle cx="453.9" cy="306.8" r="3.05"/><circle cx="453.9" cy="308.3" r="3.05"/><circle cx="453.9" cy="306.1" r="3.05"/><circle cx="454.0" cy="305.6" r="3.05"/><circle cx="454.0" cy="305.2" r="3.05"/><circle cx="454.1" cy="306.5" r="3.05"/><circle cx="454.1" cy="302.3" r="3.05"/><circle cx="454.2" cy="303.1" r="3.05"/></g>
<g fill="#00dce6"><circle cx="456.2" cy="290.0" r="2.92"/></g>
<g class="c" fill="#004646"><circle cx="454.9" cy="301.1" r="3.05"/><circle cx="454.9" cy="299.0" r="3.05"/><circle cx="455.0" cy="302.9" r="3.05"/><circle cx="455.0" cy="301.4" r="3.05"/><circle cx="455.1" cy="304.4" r="3.05"/><circle cx="455.1" cy="308.3" r="3.05"/><circle cx="455.2" cy="304.5" r="3.05"/><circle cx="455.2" cy="306.9" r="3.05"/><circle cx="455.2" cy="307.5" r="3.05"/><circle cx="455.3" cy="308.3" r="3.05"/><circle cx="455.3" cy="306.0" r="3.05"/><circle cx="455.4" cy="302.9" r="3.05"/><circle cx="455.4" cy="302.3" r="3.05"/><circle cx="455.4" cy="304.4" r="3.05"/><circle cx="455.5" cy="303.7" r="3.05"/><circle cx="455.5" cy="304.1" r="3.05"/><circle cx="455.6" cy="300.5" r="3.05"/><circle cx="455.6" cy="301.6" r="3.05"/><circle cx="455.6" cy="297.8" r="3.05"/><circle cx="455.7" cy="300.9" r="3.05"/><circle cx="455.7" cy="297.7" r="3.05"/><circle cx="455.8" cy="295.8" r="3.05"/><circle cx="455.8" cy="296.3" r="3.05"/><circle cx="455.8" cy="298.0" r="3.05"/><circle cx="455.9" cy="292.8" r="3.05"/><circle cx="455.9" cy="291.4" r="3.05"/><circle cx="456.0" cy="291.4" r="3.05"/><circle cx="456.0" cy="291.4" r="3.05"/><circle cx="456.1" cy="292.1" r="3.05"/><circle cx="456.1" cy="293.7" r="3.05"/><circle cx="456.1" cy="293.7" r="3.05"/><circle cx="456.2" cy="295.3" r="3.05"/><circle cx="456.2" cy="297.8" r="3.05"/><circle cx="456.3" cy="296.2" r="3.05"/><circle cx="456.3" cy="295.5" r="3.05"/><circle cx="456.3" cy="294.7" r="3.05"/><circle cx="456.4" cy="299.9" r="3.05"/><circle cx="456.4" cy="299.2" r="3.05"/><circle cx="456.5" cy="300.8" r="3.05"/><circle cx="456.5" cy="302.9" r="3.05"/></g>
<g fill="#c81edc"><circle cx="458.3" cy="314.5" r="2.92"/></g>
<g class="c" fill="#580038"><circle cx="457.3" cy="311.0" r="3.05"/><circle cx="457.3" cy="307.6" r="3.05"/><circle cx="457.3" cy="312.6" r="3.05"/><circle cx="457.4" cy="306.6" r="3.05"/><circle cx="457.4" cy="307.0" r="3.05"/><circle cx="457.5" cy="309.0" r="3.05"/><circle cx="457.5" cy="304.8" r="3.05"/><circle cx="457.5" cy="311.6" r="3.05"/><circle cx="457.6" cy="305.6" r="3.05"/><circle cx="457.6" cy="305.2" r="3.05"/><circle cx="457.7" cy="302.1" r="3.05"/><circle cx="457.7" cy="306.9" r="3.05"/><circle cx="457.8" cy="302.2" r="3.05"/><circle cx="457.8" cy="298.4" r="3.05"/><circle cx="457.8" cy="301.7" r="3.05"/><circle cx="457.9" cy="294.2" r="3.05"/><circle cx="457.9" cy="295.7" r="3.05"/><circle cx="458.0" cy="296.6" r="3.05"/><circle cx="458.0" cy="295.2" r="3.05"/><circle cx="458.0" cy="291.8" r="3.05"/><circle cx="458.1" cy="296.4" r="3.05"/><circle cx="458.1" cy="295.1" r="3.05"/><circle cx="458.2" cy="290.6" r="3.05"/><circle cx="458.2" cy="292.2" r="3.05"/><circle cx="458.2" cy="290.9" r="3.05"/><circle cx="458.3" cy="292.4" r="3.05"/><circle cx="458.3" cy="296.6" r="3.05"/><circle cx="458.4" cy="295.7" r="3.05"/><circle cx="458.4" cy="296.2" r="3.05"/><circle cx="458.4" cy="297.7" r="3.05"/><circle cx="458.5" cy="295.9" r="3.05"/><circle cx="458.5" cy="302.2" r="3.05"/><circle cx="458.6" cy="298.8" r="3.05"/><circle cx="458.6" cy="304.4" r="3.05"/><circle cx="458.7" cy="301.5" r="3.05"/><circle cx="458.7" cy="302.5" r="3.05"/><circle cx="458.7" cy="307.8" r="3.05"/><circle cx="458.8" cy="306.0" r="3.05"/><circle cx="458.8" cy="305.2" r="3.05"/><circle cx="458.9" cy="306.4" r="3.05"/></g>
<g fill="#ff1493"><circle cx="459.8" cy="284.0" r="2.92"/></g>
<g class="c" fill="#38004d"><circle cx="459.6" cy="307.8" r="3.05"/><circle cx="459.7" cy="307.3" r="3.05"/><circle cx="459.7" cy="303.4" r="3.05"/><circle cx="459.7" cy="307.1" r="3.05"/><circle cx="459.8" cy="299.6" r="3.05"/><circle cx="459.8" cy="298.7" r="3.05"/><circle cx="459.9" cy="300.5" r="3.05"/><circle cx="459.9" cy="299.0" r="3.05"/><circle cx="459.9" cy="295.1" r="3.05"/><circle cx="460.0" cy="297.3" r="3.05"/><circle cx="460.0" cy="289.4" r="3.05"/><circle cx="460.1" cy="296.2" r="3.05"/><circle cx="460.1" cy="296.2" r="3.05"/><circle cx="460.1" cy="294.0" r="3.05"/><circle cx="460.2" cy="287.6" r="3.05"/><circle cx="460.2" cy="291.1" r="3.05"/><circle cx="460.3" cy="285.1" r="3.05"/><circle cx="460.3" cy="290.9" r="3.05"/><circle cx="460.4" cy="288.3" r="3.05"/><circle cx="460.4" cy="290.8" r="3.05"/><circle cx="460.4" cy="293.2" r="3.05"/><circle cx="460.5" cy="288.6" r="3.05"/><circle cx="460.5" cy="294.2" r="3.05"/><circle cx="460.6" cy="301.0" r="3.05"/><circle cx="460.6" cy="289.9" r="3.05"/><circle cx="460.6" cy="300.3" r="3.05"/><circle cx="460.7" cy="303.3" r="3.05"/><circle cx="460.7" cy="303.1" r="3.05"/><circle cx="460.8" cy="304.3" r="3.05"/><circle cx="460.8" cy="309.0" r="3.05"/><circle cx="460.8" cy="307.6" r="3.05"/><circle cx="460.9" cy="303.1" r="3.05"/><circle cx="460.9" cy="307.2" r="3.05"/><circle cx="461.0" cy="310.4" r="3.05"/><circle cx="461.0" cy="312.2" r="3.05"/><circle cx="461.1" cy="309.0" r="3.05"/><circle cx="461.1" cy="308.4" r="3.05"/><circle cx="461.1" cy="311.7" r="3.05"/><circle cx="461.2" cy="297.8" r="3.05"/><circle cx="461.2" cy="307.3" r="3.05"/></g>
<g class="c" fill="#2c2c2c"><circle cx="461.6" cy="285.3" r="3.05"/><circle cx="461.6" cy="286.4" r="3.05"/><circle cx="461.6" cy="283.9" r="3.05"/><circle cx="461.7" cy="291.3" r="3.05"/><circle cx="461.7" cy="287.3" r="3.05"/><circle cx="461.8" cy="291.5" r="3.05"/><circle cx="461.8" cy="291.9" r="3.05"/><circle cx="461.8" cy="290.8" r="3.05"/><circle cx="461.9" cy="298.3" r="3.05"/><circle cx="461.9" cy="297.5" r="3.05"/><circle cx="462.0" cy="295.3" r="3.05"/><circle cx="462.0" cy="300.5" r="3.05"/><circle cx="462.0" cy="297.6" r="3.05"/><circle cx="462.1" cy="308.7" r="3.05"/><circle cx="462.1" cy="307.1" r="3.05"/><circle cx="462.2" cy="313.6" r="3.05"/><circle cx="462.2" cy="306.4" r="3.05"/><circle cx="462.2" cy="312.3" r="3.05"/><circle cx="462.3" cy="308.1" r="3.05"/><circle cx="462.3" cy="310.0" r="3.05"/><circle cx="462.4" cy="314.1" r="3.05"/><circle cx="462.4" cy="317.4" r="3.05"/><circle cx="462.5" cy="318.1" r="3.05"/><circle cx="462.5" cy="316.3" r="3.05"/><circle cx="462.5" cy="318.1" r="3.05"/><circle cx="462.6" cy="317.4" r="3.05"/><circle cx="462.6" cy="309.6" r="3.05"/><circle cx="462.7" cy="310.5" r="3.05"/><circle cx="462.7" cy="306.5" r="3.05"/><circle cx="462.7" cy="313.9" r="3.05"/><circle cx="462.8" cy="304.7" r="3.05"/><circle cx="462.8" cy="308.0" r="3.05"/><circle cx="462.9" cy="306.6" r="3.05"/><circle cx="462.9" cy="301.1" r="3.05"/><circle cx="462.9" cy="298.8" r="3.05"/><circle cx="463.0" cy="300.1" r="3.05"/><circle cx="463.0" cy="294.8" r="3.05"/><circle cx="463.1" cy="291.6" r="3.05"/><circle cx="463.1" cy="291.1" r="3.05"/><circle cx="463.2" cy="294.0" r="3.05"/></g>
<g fill="#00bfff"><circle cx="463.5" cy="313.0" r="2.92"/></g>
<g fill="#a0a0a0"><circle cx="464.2" cy="287.3" r="2.92"/></g>
<g class="c" fill="#00314f"><circle cx="464.3" cy="300.6" r="3.05"/><circle cx="464.4" cy="298.0" r="3.05"/><circle cx="464.4" cy="300.1" r="3.05"/><circle cx="464.4" cy="294.4" r="3.05"/><circle cx="464.5" cy="292.9" r="3.05"/><circle cx="464.5" cy="290.4" r="3.05"/><circle cx="464.6" cy="290.2" r="3.05"/><circle cx="464.6" cy="290.9" r="3.05"/><circle cx="464.7" cy="291.0" r="3.05"/><circle cx="464.7" cy="291.3" r="3.05"/><circle cx="464.7" cy="286.3" r="3.05"/><circle cx="464.8" cy="286.0" r="3.05"/><circle cx="464.8" cy="286.5" r="3.05"/><circle cx="464.9" cy="287.5" r="3.05"/><circle cx="464.9" cy="288.6" r="3.05"/><circle cx="464.9" cy="289.9" r="3.05"/><circle cx="465.0" cy="290.0" r="3.05"/><circle cx="465.0" cy="293.1" r="3.05"/><circle cx="465.1" cy="293.2" r="3.05"/><circle cx="465.1" cy="295.2" r="3.05"/><circle cx="465.1" cy="293.5" r="3.05"/><circle cx="465.2" cy="298.4" r="3.05"/><circle cx="465.2" cy="300.6" r="3.05"/><circle cx="465.3" cy="302.0" r="3.05"/><circle cx="465.3" cy="300.3" r="3.05"/><circle cx="465.4" cy="300.1" r="3.05"/><circle cx="465.4" cy="300.9" r="3.05"/><circle cx="465.4" cy="302.4" r="3.05"/><circle cx="465.5" cy="304.8" r="3.05"/><circle cx="465.5" cy="306.8" r="3.05"/><circle cx="465.6" cy="304.5" r="3.05"/><circle cx="465.6" cy="310.3" r="3.05"/><circle cx="465.6" cy="305.7" r="3.05"/><circle cx="465.7" cy="306.5" r="3.05"/><circle cx="465.7" cy="305.3" r="3.05"/><circle cx="465.8" cy="307.8" r="3.05"/><circle cx="465.8" cy="309.1" r="3.05"/><circle cx="465.8" cy="302.6" r="3.05"/><circle cx="465.9" cy="301.6" r="3.05"/><circle cx="465.9" cy="300.1" r="3.05"/></g>
<g class="c" fill="#00314f"><circle cx="466.7" cy="298.5" r="3.05"/><circle cx="466.7" cy="301.2" r="3.05"/><circle cx="466.8" cy="300.5" r="3.05"/><circle cx="466.8" cy="304.5" r="3.05"/><circle cx="466.8" cy="302.0" r="3.05"/><circle cx="466.9" cy="310.1" r="3.05"/><circle cx="466.9" cy="307.9" r="3.05"/><circle cx="467.0" cy="304.6" r="3.05"/><circle cx="467.0" cy="310.1" r="3.05"/><circle cx="467.0" cy="307.4" r="3.05"/><circle cx="467.1" cy="304.3" r="3.05"/><circle cx="467.1" cy="306.7" r="3.05"/><circle cx="467.2" cy="303.0" r="3.05"/><circle cx="467.2" cy="304.6" r="3.05"/><circle cx="467.3" cy="300.1" r="3.05"/><circle cx="467.3" cy="302.1" r="3.05"/><circle cx="467.3" cy="298.9" r="3.05"/><circle cx="467.4" cy="298.0" r="3.05"/><circle cx="467.4" cy="296.1" r="3.05"/><circle cx="467.5" cy="293.4" r="3.05"/><circle cx="467.5" cy="292.0" r="3.05"/><circle cx="467.5" cy="292.5" r="3.05"/><circle cx="467.6" cy="291.7" r="3.05"/><circle cx="467.6" cy="287.6" r="3.05"/><circle cx="467.7" cy="292.5" r="3.05"/><circle cx="467.7" cy="290.3" r="3.05"/><circle cx="467.7" cy="286.0" r="3.05"/><circle cx="467.8" cy="291.7" r="3.05"/><circle cx="467.8" cy="290.3" r="3.05"/><circle cx="467.9" cy="292.5" r="3.05"/><circle cx="467.9" cy="291.5" r="3.05"/><circle cx="468.0" cy="298.7" r="3.05"/><circle cx="468.0" cy="294.2" r="3.05"/><circle cx="468.0" cy="297.4" r="3.05"/><circle cx="468.1" cy="297.3" r="3.05"/><circle cx="468.1" cy="305.1" r="3.05"/><circle cx="468.2" cy="304.9" r="3.05"/><circle cx="468.2" cy="300.2" r="3.05"/><circle cx="468.2" cy="303.7" r="3.05"/><circle cx="468.3" cy="307.0" r="3.05"/></g>
<g class="c" fill="#4f0b0b"><circle cx="469.0" cy="306.9" r="3.05"/><circle cx="469.1" cy="310.1" r="3.05"/><circle cx="469.1" cy="310.1" r="3.05"/><circle cx="469.2" cy="307.0" r="3.05"/><circle cx="469.2" cy="310.1" r="3.05"/><circle cx="469.2" cy="305.7" r="3.05"/><circle cx="469.3" cy="301.7" r="3.05"/><circle cx="469.3" cy="301.0" r="3.05"/><circle cx="469.4" cy="298.1" r="3.05"/><circle cx="469.4" cy="299.2" r="3.05"/><circle cx="469.4" cy="299.1" r="3.05"/><circle cx="469.5" cy="298.2" r="3.05"/><circle cx="469.5" cy="293.8" r="3.05"/><circle cx="469.6" cy="290.1" r="3.05"/><circle cx="469.6" cy="291.3" r="3.05"/><circle cx="469.7" cy="294.0" r="3.05"/><circle cx="469.7" cy="289.2" r="3.05"/><circle cx="469.7" cy="286.9" r="3.05"/><circle cx="469.8" cy="285.6" r="3.05"/><circle cx="469.8" cy="286.1" r="3.05"/><circle cx="469.9" cy="290.0" r="3.05"/><circle cx="469.9" cy="287.9" r="3.05"/><circle cx="469.9" cy="294.9" r="3.05"/><circle cx="470.0" cy="291.7" r="3.05"/><circle cx="470.0" cy="292.5" r="3.05"/><circle cx="470.1" cy="294.7" r="3.05"/><circle cx="470.1" cy="297.3" r="3.05"/><circle cx="470.1" cy="301.5" r="3.05"/><circle cx="470.2" cy="299.2" r="3.05"/><circle cx="470.2" cy="297.7" r="3.05"/><circle cx="470.3" cy="303.3" r="3.05"/><circle cx="470.3" cy="306.3" r="3.05"/><circle cx="470.3" cy="310.1" r="3.05"/><circle cx="470.4" cy="305.3" r="3.05"/><circle cx="470.4" cy="310.1" r="3.05"/><circle cx="470.5" cy="310.1" r="3.05"/><circle cx="470.5" cy="308.9" r="3.05"/><circle cx="470.6" cy="304.4" r="3.05"/><circle cx="470.6" cy="302.7" r="3.05"/><circle cx="470.6" cy="301.0" r="3.05"/></g>
<g fill="#32cd32"><circle cx="472.5" cy="308.5" r="2.92"/></g>
<g class="c" fill="#093309"><circle cx="471.4" cy="300.5" r="3.05"/><circle cx="471.4" cy="303.0" r="3.05"/><circle cx="471.5" cy="297.3" r="3.05"/><circle cx="471.5" cy="298.0" r="3.05"/><circle cx="471.6" cy="297.5" r="3.05"/><circle cx="471.6" cy="296.9" r="3.05"/><circle cx="471.6" cy="297.1" r="3.05"/><circle cx="471.7" cy="295.0" r="3.05"/><circle cx="471.7" cy="297.5" r="3.05"/><circle cx="471.8" cy="294.1" r="3.05"/><circle cx="471.8" cy="294.1" r="3.05"/><circle cx="471.8" cy="294.1" r="3.05"/><circle cx="471.9" cy="294.1" r="3.05"/><circle cx="471.9" cy="296.6" r="3.05"/><circle cx="472.0" cy="297.3" r="3.05"/><circle cx="472.0" cy="296.6" r="3.05"/><circle cx="472.0" cy="298.9" r="3.05"/><circle cx="472.1" cy="299.1" r="3.05"/><circle cx="472.1" cy="297.9" r="3.05"/><circle cx="472.2" cy="299.3" r="3.05"/><circle cx="472.2" cy="300.6" r="3.05"/><circle cx="472.3" cy="303.8" r="3.05"/><circle cx="472.3" cy="300.5" r="3.05"/><circle cx="472.3" cy="302.4" r="3.05"/><circle cx="472.4" cy="303.3" r="3.05"/><circle cx="472.4" cy="305.0" r="3.05"/><circle cx="472.5" cy="304.4" r="3.05"/><circle cx="472.5" cy="306.0" r="3.05"/><circle cx="472.5" cy="303.3" r="3.05"/><circle cx="472.6" cy="305.1" r="3.05"/><circle cx="472.6" cy="303.1" r="3.05"/><circle cx="472.7" cy="306.7" r="3.05"/><circle cx="472.7" cy="310.1" r="3.05"/><circle cx="472.7" cy="308.4" r="3.05"/><circle cx="472.8" cy="308.8" r="3.05"/><circle cx="472.8" cy="309.7" r="3.05"/><circle cx="472.9" cy="310.1" r="3.05"/><circle cx="472.9" cy="307.7" r="3.05"/><circle cx="472.9" cy="308.0" r="3.05"/><circle cx="473.0" cy="308.2" r="3.05"/></g>
<g class="c" fill="#3f004d"><circle cx="473.7" cy="305.1" r="3.05"/><circle cx="473.8" cy="304.1" r="3.05"/><circle cx="473.8" cy="306.3" r="3.05"/><circle cx="473.9" cy="306.2" r="3.05"/><circle cx="473.9" cy="303.5" r="3.05"/><circle cx="474.0" cy="300.8" r="3.05"/><circle cx="474.0" cy="299.0" r="3.05"/><circle cx="474.0" cy="295.8" r="3.05"/><circle cx="474.1" cy="296.8" r="3.05"/><circle cx="474.1" cy="299.9" r="3.05"/><circle cx="474.2" cy="298.0" r="3.05"/><circle cx="474.2" cy="295.0" r="3.05"/><circle cx="474.2" cy="292.9" r="3.05"/><circle cx="474.3" cy="292.4" r="3.05"/><circle cx="474.3" cy="294.5" r="3.05"/><circle cx="474.4" cy="294.8" r="3.05"/><circle cx="474.4" cy="296.8" r="3.05"/><circle cx="474.4" cy="295.5" r="3.05"/><circle cx="474.5" cy="298.2" r="3.05"/><circle cx="474.5" cy="298.6" r="3.05"/><circle cx="474.6" cy="302.6" r="3.05"/><circle cx="474.6" cy="299.0" r="3.05"/><circle cx="474.6" cy="305.3" r="3.05"/><circle cx="474.7" cy="303.6" r="3.05"/><circle cx="474.7" cy="303.9" r="3.05"/><circle cx="474.8" cy="306.0" r="3.05"/><circle cx="474.8" cy="307.4" r="3.05"/><circle cx="474.9" cy="307.8" r="3.05"/><circle cx="474.9" cy="310.2" r="3.05"/><circle cx="474.9" cy="309.3" r="3.05"/><circle cx="475.0" cy="308.2" r="3.05"/><circle cx="475.0" cy="313.0" r="3.05"/><circle cx="475.1" cy="312.0" r="3.05"/><circle cx="475.1" cy="313.0" r="3.05"/><circle cx="475.1" cy="310.6" r="3.05"/><circle cx="475.2" cy="304.6" r="3.05"/><circle cx="475.2" cy="310.1" r="3.05"/><circle cx="475.3" cy="305.0" r="3.05"/><circle cx="475.3" cy="306.4" r="3.05"/><circle cx="475.3" cy="308.7" r="3.05"/></g>
<g fill="#ff00ff"><circle cx="477.2" cy="309.5" r="2.92"/></g>
<g class="c" fill="#353535"><circle cx="476.1" cy="301.8" r="3.05"/><circle cx="476.1" cy="297.6" r="3.05"/><circle cx="476.2" cy="299.5" r="3.05"/><circle cx="476.2" cy="299.4" r="3.05"/><circle cx="476.3" cy="298.1" r="3.05"/><circle cx="476.3" cy="294.1" r="3.05"/><circle cx="476.3" cy="293.0" r="3.05"/><circle cx="476.4" cy="291.2" r="3.05"/><circle cx="476.4" cy="291.2" r="3.05"/><circle cx="476.5" cy="292.0" r="3.05"/><circle cx="476.5" cy="292.2" r="3.05"/><circle cx="476.6" cy="295.8" r="3.05"/><circle cx="476.6" cy="294.7" r="3.05"/><circle cx="476.6" cy="294.6" r="3.05"/><circle cx="476.7" cy="293.4" r="3.05"/><circle cx="476.7" cy="300.4" r="3.05"/><circle cx="476.8" cy="298.7" r="3.05"/><circle cx="476.8" cy="299.3" r="3.05"/><circle cx="476.8" cy="298.4" r="3.05"/><circle cx="476.9" cy="299.4" r="3.05"/><circle cx="476.9" cy="303.7" r="3.05"/><circle cx="477.0" cy="301.6" r="3.05"/><circle cx="477.0" cy="305.7" r="3.05"/><circle cx="477.0" cy="306.8" r="3.05"/><circle cx="477.1" cy="305.9" r="3.05"/><circle cx="477.1" cy="304.5" r="3.05"/><circle cx="477.2" cy="309.5" r="3.05"/><circle cx="477.2" cy="311.6" r="3.05"/><circle cx="477.2" cy="309.1" r="3.05"/><circle cx="477.3" cy="308.9" r="3.05"/><circle cx="477.3" cy="311.6" r="3.05"/><circle cx="477.4" cy="309.6" r="3.05"/><circle cx="477.4" cy="307.0" r="3.05"/><circle cx="477.5" cy="309.7" r="3.05"/><circle cx="477.5" cy="305.7" r="3.05"/><circle cx="477.5" cy="306.1" r="3.05"/><circle cx="477.6" cy="303.3" r="3.05"/><circle cx="477.6" cy="301.6" r="3.05"/><circle cx="477.7" cy="302.5" r="3.05"/><circle cx="477.7" cy="299.3" r="3.05"/></g>
<g class="c" fill="#463500"><circle cx="478.5" cy="305.9" r="3.05"/><circle cx="478.5" cy="302.8" r="3.05"/><circle cx="478.5" cy="303.2" r="3.05"/><circle cx="478.6" cy="299.8" r="3.05"/><circle cx="478.6" cy="297.6" r="3.05"/><circle cx="478.7" cy="298.6" r="3.05"/><circle cx="478.7" cy="295.0" r="3.05"/><circle cx="478.7" cy="297.4" r="3.05"/><circle cx="478.8" cy="294.3" r="3.05"/><circle cx="478.8" cy="294.9" r="3.05"/><circle cx="478.9" cy="291.9" r="3.05"/><circle cx="478.9" cy="292.5" r="3.05"/><circle cx="478.9" cy="293.8" r="3.05"/><circle cx="479.0" cy="291.2" r="3.05"/><circle cx="479.0" cy="291.2" r="3.05"/><circle cx="479.1" cy="293.5" r="3.05"/><circle cx="479.1" cy="295.4" r="3.05"/><circle cx="479.2" cy="294.2" r="3.05"/><circle cx="479.2" cy="293.1" r="3.05"/><circle cx="479.2" cy="293.3" r="3.05"/><circle cx="479.3" cy="294.4" r="3.05"/><circle cx="479.3" cy="299.9" r="3.05"/><circle cx="479.4" cy="298.5" r="3.05"/><circle cx="479.4" cy="300.4" r="3.05"/><circle cx="479.4" cy="302.4" r="3.05"/><circle cx="479.5" cy="301.7" r="3.05"/><circle cx="479.5" cy="302.8" r="3.05"/><circle cx="479.6" cy="301.8" r="3.05"/><circle cx="479.6" cy="300.5" r="3.05"/><circle cx="479.6" cy="305.6" r="3.05"/><circle cx="479.7" cy="305.0" r="3.05"/><circle cx="479.7" cy="307.1" r="3.05"/><circle cx="479.8" cy="304.8" r="3.05"/><circle cx="479.8" cy="307.4" r="3.05"/><circle cx="479.8" cy="310.8" r="3.05"/><circle cx="479.9" cy="307.7" r="3.05"/><circle cx="479.9" cy="310.3" r="3.05"/><circle cx="480.0" cy="310.8" r="3.05"/><circle cx="480.0" cy="309.4" r="3.05"/><circle cx="480.1" cy="309.3" r="3.05"/></g>
<g class="c" fill="#413100"><circle cx="480.8" cy="297.2" r="3.05"/><circle cx="480.9" cy="297.6" r="3.05"/><circle cx="480.9" cy="297.5" r="3.05"/><circle cx="480.9" cy="298.0" r="3.05"/><circle cx="481.0" cy="302.5" r="3.05"/><circle cx="481.0" cy="302.5" r="3.05"/><circle cx="481.1" cy="302.1" r="3.05"/><circle cx="481.1" cy="304.2" r="3.05"/><circle cx="481.1" cy="305.3" r="3.05"/><circle cx="481.2" cy="305.9" r="3.05"/><circle cx="481.2" cy="306.0" r="3.05"/><circle cx="481.3" cy="307.0" r="3.05"/><circle cx="481.3" cy="308.6" r="3.05"/><circle cx="481.3" cy="309.8" r="3.05"/><circle cx="481.4" cy="310.8" r="3.05"/><circle cx="481.4" cy="309.8" r="3.05"/><circle cx="481.5" cy="309.6" r="3.05"/><circle cx="481.5" cy="309.5" r="3.05"/><circle cx="481.5" cy="306.2" r="3.05"/><circle cx="481.6" cy="306.7" r="3.05"/><circle cx="481.6" cy="307.0" r="3.05"/><circle cx="481.7" cy="305.0" r="3.05"/><circle cx="481.7" cy="303.3" r="3.05"/><circle cx="481.8" cy="302.7" r="3.05"/><circle cx="481.8" cy="301.0" r="3.05"/><circle cx="481.8" cy="302.4" r="3.05"/><circle cx="481.9" cy="299.2" r="3.05"/><circle cx="481.9" cy="296.0" r="3.05"/><circle cx="482.0" cy="295.8" r="3.05"/><circle cx="482.0" cy="297.3" r="3.05"/><circle cx="482.0" cy="296.2" r="3.05"/><circle cx="482.1" cy="294.0" r="3.05"/><circle cx="482.1" cy="293.8" r="3.05"/><circle cx="482.2" cy="294.5" r="3.05"/><circle cx="482.2" cy="294.4" r="3.05"/><circle cx="482.2" cy="295.6" r="3.05"/><circle cx="482.3" cy="297.7" r="3.05"/><circle cx="482.3" cy="297.4" r="3.05"/><circle cx="482.4" cy="300.2" r="3.05"/><circle cx="482.4" cy="299.5" r="3.05"/></g>
<g class="c" fill="#b08815"><circle cx="484.1" cy="296.5" r="3.05"/><circle cx="484.1" cy="294.5" r="3.05"/><circle cx="484.2" cy="295.5" r="3.05"/><circle cx="484.2" cy="296.8" r="3.05"/><circle cx="484.3" cy="295.4" r="3.05"/><circle cx="484.3" cy="287.4" r="3.05"/><circle cx="484.3" cy="290.6" r="3.05"/><circle cx="484.4" cy="287.5" r="3.05"/><circle cx="484.4" cy="290.5" r="3.05"/><circle cx="484.5" cy="289.0" r="3.05"/><circle cx="484.5" cy="286.4" r="3.05"/><circle cx="484.6" cy="293.9" r="3.05"/><circle cx="484.6" cy="288.3" r="3.05"/><circle cx="484.6" cy="297.1" r="3.05"/><circle cx="484.7" cy="291.0" r="3.05"/><circle cx="484.7" cy="292.3" r="3.05"/><circle cx="484.8" cy="299.0" r="3.05"/><circle cx="484.8" cy="293.4" r="3.05"/><circle cx="484.8" cy="294.8" r="3.05"/><circle cx="484.9" cy="301.4" r="3.05"/><circle cx="484.9" cy="298.3" r="3.05"/><circle cx="485.0" cy="300.9" r="3.05"/><circle cx="485.0" cy="297.3" r="3.05"/><circle cx="485.0" cy="306.9" r="3.05"/><circle cx="485.1" cy="305.8" r="3.05"/><circle cx="485.1" cy="305.3" r="3.05"/><circle cx="485.2" cy="307.4" r="3.05"/><circle cx="485.2" cy="305.2" r="3.05"/><circle cx="485.2" cy="306.5" r="3.05"/><circle cx="485.3" cy="304.5" r="3.05"/><circle cx="485.3" cy="311.2" r="3.05"/><circle cx="485.4" cy="314.7" r="3.05"/><circle cx="485.4" cy="314.8" r="3.05"/><circle cx="485.5" cy="315.0" r="3.05"/><circle cx="485.5" cy="315.0" r="3.05"/><circle cx="485.5" cy="311.5" r="3.05"/><circle cx="485.6" cy="309.4" r="3.05"/><circle cx="485.6" cy="313.5" r="3.05"/><circle cx="485.7" cy="311.0" r="3.05"/><circle cx="485.7" cy="312.1" r="3.05"/></g>
<g fill="#969696"><circle cx="337.5" cy="318.3" r="2.92"/></g>
<g fill="#46464c"><circle cx="350.5" cy="290.0" r="2.92"/><circle cx="350.5" cy="288.1" r="2.92"/><circle cx="350.5" cy="286.2" r="2.92"/><circle cx="350.5" cy="284.3" r="2.92"/><circle cx="350.5" cy="282.4" r="2.92"/><circle cx="350.5" cy="280.5" r="2.92"/><circle cx="350.5" cy="278.6" r="2.92"/></g>
<g fill="#e6e6fa"><circle cx="351.5" cy="280.4" r="2.92"/></g>
<g fill="#00e600"><circle cx="379.2" cy="285.4" r="2.92"/></g>
<g fill="#32cd32"><circle cx="384.5" cy="286.4" r="2.92"/></g>
<g fill="#3cb371"><circle cx="398.4" cy="281.4" r="2.92"/></g>
<g fill="#191970"><circle cx="410.5" cy="290.0" r="2.92"/><circle cx="410.5" cy="288.1" r="2.92"/><circle cx="410.5" cy="286.2" r="2.92"/><circle cx="410.5" cy="284.3" r="2.92"/><circle cx="410.5" cy="282.4" r="2.92"/><circle cx="410.5" cy="280.5" r="2.92"/><circle cx="410.5" cy="278.6" r="2.92"/></g>
<g fill="#d2b48c"><circle cx="410.1" cy="291.5" r="2.92"/></g>
<g fill="#46402a"><circle cx="410.1" cy="293.0" r="2.92"/></g>
<g fill="#ffe4b5"><circle cx="410.4" cy="298.3" r="2.92"/></g>
<g fill="#8c4605"><circle cx="410.6" cy="321.3" r="2.92"/></g>
<g fill="#e6780a"><circle cx="410.6" cy="320.2" r="2.92"/><circle cx="410.6" cy="318.7" r="2.92"/><circle cx="410.6" cy="317.2" r="2.92"/><circle cx="410.6" cy="315.7" r="2.92"/><circle cx="410.6" cy="314.2" r="2.92"/></g>
<g fill="#5a2d00"><circle cx="410.6" cy="312.4" r="2.92"/><circle cx="410.6" cy="310.8" r="2.92"/></g>
<g fill="#0c0c3c"><circle cx="410.5" cy="309.0" r="2.92"/><circle cx="410.5" cy="307.0" r="2.92"/><circle cx="410.5" cy="305.0" r="2.92"/></g>
<g fill="#141e32"><circle cx="417.3" cy="311.5" r="2.92"/><circle cx="417.3" cy="313.0" r="2.92"/><circle cx="417.3" cy="314.5" r="2.92"/><circle cx="417.3" cy="316.0" r="2.92"/></g>
<g fill="#ff7f50"><circle cx="417.4" cy="291.6" r="2.92"/></g>
<g fill="#500808"><circle cx="419.6" cy="294.5" r="2.92"/></g>
<g fill="#0000cd"><circle cx="391.4" cy="318.3" r="2.92"/></g>
<g fill="#48d1cc"><circle cx="403.4" cy="314.3" r="2.92"/></g>
<g fill="#7cfc00"><circle cx="353.5" cy="318.3" r="2.92"/></g>
<g fill="#16242e"><circle cx="372.5" cy="317.0" r="2.92"/></g>
<g fill="#87cefa"><circle cx="372.5" cy="316.6" r="2.92"/><circle cx="372.5" cy="315.0" r="2.92"/><circle cx="372.5" cy="313.4" r="2.92"/><circle cx="372.5" cy="311.8" r="2.92"/></g>
<g fill="#1a2a38"><circle cx="372.5" cy="310.2" r="2.92"/><circle cx="372.5" cy="308.5" r="2.92"/><circle cx="372.5" cy="306.7" r="2.92"/><circle cx="372.5" cy="305.0" r="2.92"/></g>
<g fill="#6a0a0a"><circle cx="469.6" cy="291.0" r="2.92"/><circle cx="469.6" cy="289.2" r="2.92"/><circle cx="469.6" cy="287.4" r="2.92"/><circle cx="469.6" cy="285.6" r="2.92"/></g>
<circle cx="485.0" cy="315.0" r="2.92" fill="#e6b41e"/><circle cx="485.0" cy="313.0" r="2.92" fill="#e6b41e"/><circle cx="485.0" cy="310.9" r="2.92" fill="#8a6a10"/><circle cx="485.0" cy="308.9" r="2.92" fill="#e6b41e"/><circle cx="485.0" cy="306.8" r="2.92" fill="#e6b41e"/><circle cx="485.0" cy="304.8" r="2.92" fill="#e6b41e"/><circle cx="485.0" cy="302.8" r="2.92" fill="#6a5008"/><circle cx="485.0" cy="300.7" r="2.92" fill="#e6b41e"/><circle cx="485.0" cy="298.7" r="2.92" fill="#e6b41e"/><circle cx="485.0" cy="296.6" r="2.92" fill="#8a6a10"/><circle cx="485.0" cy="294.6" r="2.92" fill="#e6b41e"/><circle cx="485.0" cy="292.5" r="2.92" fill="#e6b41e"/><circle cx="485.0" cy="290.5" r="2.92" fill="#e6b41e"/>
<g fill="#aaaaaa"><circle cx="485.4" cy="287.5" r="2.92"/></g>
<g class="s"><circle cx="339.3" cy="284.7" r=".9" fill="#8cdc14"/><circle cx="337.5" cy="288.2" r=".9" fill="#8cdc14"/><circle cx="345.6" cy="293.8" r=".9" fill="#9400d3"/><circle cx="354.0" cy="293.1" r=".9" fill="#add8e6"/><circle cx="366.9" cy="292.7" r=".9" fill="#ffb6c1"/><circle cx="387.3" cy="292.4" r=".9" fill="#0000ff"/><circle cx="392.2" cy="290.3" r=".9" fill="#9370db"/><circle cx="396.8" cy="290.3" r=".9" fill="#9370db"/><circle cx="404.1" cy="292.0" r=".9" fill="#e61ea0"/><circle cx="417.8" cy="307.5" r=".9" fill="#dc143c"/><circle cx="417.8" cy="310.3" r=".9" fill="#6495ed"/><circle cx="432.1" cy="292.7" r=".9" fill="#dcd26e"/><circle cx="390.1" cy="311.0" r=".9" fill="#da70d6"/><circle cx="343.0" cy="314.7" r=".9" fill="#f06464"/><circle cx="348.0" cy="312.2" r=".9" fill="#e6e6fa"/><circle cx="347.3" cy="317.5" r=".9" fill="#f0dc82"/><circle cx="365.5" cy="311.2" r=".9" fill="#f5f5f5"/><circle cx="446.5" cy="291.6" r=".9" fill="#ffa07a"/><circle cx="450.7" cy="292.4" r=".9" fill="#7b68ee"/><circle cx="455.3" cy="289.2" r=".9" fill="#00dce6"/><circle cx="439.5" cy="313.5" r=".9" fill="#ff8c00"/><circle cx="444.1" cy="311.7" r=".9" fill="#dc1414"/><circle cx="458.1" cy="314.9" r=".9" fill="#c81edc"/><circle cx="463.7" cy="313.5" r=".9" fill="#00bfff"/><circle cx="472.0" cy="308.2" r=".9" fill="#32cd32"/><circle cx="476.8" cy="309.3" r=".9" fill="#ff00ff"/><circle cx="479.5" cy="291.4" r=".9" fill="#e6b41e"/><circle cx="470.4" cy="294.5" r=".9" fill="#dc1414"/><circle cx="340.9" cy="290.3" r=".9" fill="#ff69b4"/><circle cx="340.3" cy="288.9" r=".9" fill="#ff69b4"/><circle cx="459.9" cy="282.6" r=".9" fill="#ff1493"/><circle cx="460.5" cy="284.2" r=".9" fill="#ff1493"/><circle cx="464.9" cy="287.1" r=".9" fill="#a0a0a0"/><circle cx="464.5" cy="288.5" r=".9" fill="#a0a0a0"/><circle cx="417.2" cy="290.0" r=".9" fill="#ff7f50"/><circle cx="418.4" cy="290.6" r=".9" fill="#ff7f50"/></g>
<g class="c" fill="#6a0041"><circle cx="540.9" cy="303.9" r="3.05"/><circle cx="540.9" cy="301.4" r="3.05"/><circle cx="541.0" cy="299.3" r="3.05"/><circle cx="541.0" cy="297.1" r="3.05"/><circle cx="541.1" cy="297.1" r="3.05"/><circle cx="541.1" cy="299.3" r="3.05"/><circle cx="541.1" cy="301.3" r="3.05"/><circle cx="541.2" cy="298.3" r="3.05"/><circle cx="541.2" cy="290.9" r="3.05"/><circle cx="541.3" cy="293.9" r="3.05"/><circle cx="541.3" cy="292.4" r="3.05"/><circle cx="541.4" cy="295.1" r="3.05"/><circle cx="541.4" cy="293.9" r="3.05"/><circle cx="541.4" cy="296.9" r="3.05"/><circle cx="541.5" cy="294.5" r="3.05"/><circle cx="541.5" cy="304.7" r="3.05"/><circle cx="541.6" cy="299.8" r="3.05"/><circle cx="541.6" cy="304.7" r="3.05"/><circle cx="541.6" cy="303.3" r="3.05"/><circle cx="541.7" cy="306.9" r="3.05"/><circle cx="541.7" cy="304.8" r="3.05"/><circle cx="541.8" cy="308.3" r="3.05"/><circle cx="541.8" cy="313.1" r="3.05"/><circle cx="541.8" cy="313.8" r="3.05"/><circle cx="541.9" cy="309.0" r="3.05"/><circle cx="541.9" cy="317.1" r="3.05"/><circle cx="542.0" cy="313.6" r="3.05"/><circle cx="542.0" cy="316.5" r="3.05"/><circle cx="542.0" cy="315.6" r="3.05"/><circle cx="542.1" cy="311.1" r="3.05"/><circle cx="542.1" cy="310.5" r="3.05"/><circle cx="542.2" cy="309.1" r="3.05"/><circle cx="542.2" cy="309.2" r="3.05"/><circle cx="542.3" cy="309.0" r="3.05"/><circle cx="542.3" cy="308.6" r="3.05"/><circle cx="542.3" cy="304.5" r="3.05"/><circle cx="542.4" cy="307.1" r="3.05"/><circle cx="542.4" cy="298.2" r="3.05"/><circle cx="542.5" cy="303.5" r="3.05"/><circle cx="542.5" cy="296.9" r="3.05"/></g>
<g class="c" fill="#46002a"><circle cx="543.3" cy="299.4" r="3.05"/><circle cx="543.3" cy="298.1" r="3.05"/><circle cx="543.3" cy="297.3" r="3.05"/><circle cx="543.4" cy="298.0" r="3.05"/><circle cx="543.4" cy="294.9" r="3.05"/><circle cx="543.5" cy="294.3" r="3.05"/><circle cx="543.5" cy="293.9" r="3.05"/><circle cx="543.5" cy="295.6" r="3.05"/><circle cx="543.6" cy="295.4" r="3.05"/><circle cx="543.6" cy="292.3" r="3.05"/><circle cx="543.7" cy="293.6" r="3.05"/><circle cx="543.7" cy="296.1" r="3.05"/><circle cx="543.7" cy="299.0" r="3.05"/><circle cx="543.8" cy="300.3" r="3.05"/><circle cx="543.8" cy="298.4" r="3.05"/><circle cx="543.9" cy="305.0" r="3.05"/><circle cx="543.9" cy="300.4" r="3.05"/><circle cx="544.0" cy="305.1" r="3.05"/><circle cx="544.0" cy="306.1" r="3.05"/><circle cx="544.0" cy="307.5" r="3.05"/><circle cx="544.1" cy="305.1" r="3.05"/><circle cx="544.1" cy="306.9" r="3.05"/><circle cx="544.2" cy="303.0" r="3.05"/><circle cx="544.2" cy="303.2" r="3.05"/><circle cx="544.2" cy="307.0" r="3.05"/><circle cx="544.3" cy="311.1" r="3.05"/><circle cx="544.3" cy="312.9" r="3.05"/><circle cx="544.4" cy="311.0" r="3.05"/><circle cx="544.4" cy="314.7" r="3.05"/><circle cx="544.4" cy="314.6" r="3.05"/><circle cx="544.5" cy="316.9" r="3.05"/><circle cx="544.5" cy="311.3" r="3.05"/><circle cx="544.6" cy="314.2" r="3.05"/><circle cx="544.6" cy="314.5" r="3.05"/><circle cx="544.6" cy="313.5" r="3.05"/><circle cx="544.7" cy="316.9" r="3.05"/><circle cx="544.7" cy="311.8" r="3.05"/><circle cx="544.8" cy="311.0" r="3.05"/><circle cx="544.8" cy="311.2" r="3.05"/><circle cx="544.9" cy="313.2" r="3.05"/></g>
<g class="c" fill="#232323"><circle cx="545.8" cy="287.7" r="3.05"/><circle cx="545.8" cy="286.4" r="3.05"/><circle cx="545.9" cy="291.3" r="3.05"/><circle cx="545.9" cy="286.4" r="3.05"/><circle cx="546.0" cy="286.4" r="3.05"/><circle cx="546.0" cy="291.6" r="3.05"/><circle cx="546.0" cy="292.3" r="3.05"/><circle cx="546.1" cy="291.3" r="3.05"/><circle cx="546.1" cy="298.1" r="3.05"/><circle cx="546.2" cy="299.2" r="3.05"/><circle cx="546.2" cy="299.1" r="3.05"/><circle cx="546.3" cy="298.1" r="3.05"/><circle cx="546.3" cy="299.2" r="3.05"/><circle cx="546.3" cy="297.9" r="3.05"/><circle cx="546.4" cy="305.7" r="3.05"/><circle cx="546.4" cy="307.3" r="3.05"/><circle cx="546.5" cy="305.4" r="3.05"/><circle cx="546.5" cy="309.5" r="3.05"/><circle cx="546.5" cy="313.3" r="3.05"/><circle cx="546.6" cy="309.7" r="3.05"/><circle cx="546.6" cy="308.0" r="3.05"/><circle cx="546.7" cy="312.5" r="3.05"/><circle cx="546.7" cy="308.2" r="3.05"/><circle cx="546.7" cy="306.5" r="3.05"/><circle cx="546.8" cy="307.8" r="3.05"/><circle cx="546.8" cy="304.3" r="3.05"/><circle cx="546.9" cy="305.7" r="3.05"/><circle cx="546.9" cy="302.8" r="3.05"/><circle cx="546.9" cy="303.0" r="3.05"/><circle cx="547.0" cy="298.7" r="3.05"/><circle cx="547.0" cy="291.1" r="3.05"/><circle cx="547.1" cy="298.7" r="3.05"/><circle cx="547.1" cy="289.1" r="3.05"/><circle cx="547.2" cy="294.8" r="3.05"/><circle cx="547.2" cy="291.2" r="3.05"/><circle cx="547.2" cy="286.4" r="3.05"/><circle cx="547.3" cy="287.5" r="3.05"/><circle cx="547.3" cy="289.3" r="3.05"/><circle cx="547.4" cy="286.4" r="3.05"/><circle cx="547.4" cy="290.3" r="3.05"/></g>
<g class="c" fill="#002a41"><circle cx="548.0" cy="301.6" r="3.05"/><circle cx="548.0" cy="303.2" r="3.05"/><circle cx="548.0" cy="304.6" r="3.05"/><circle cx="548.1" cy="305.7" r="3.05"/><circle cx="548.1" cy="303.5" r="3.05"/><circle cx="548.2" cy="309.3" r="3.05"/><circle cx="548.2" cy="307.4" r="3.05"/><circle cx="548.3" cy="305.7" r="3.05"/><circle cx="548.3" cy="312.5" r="3.05"/><circle cx="548.3" cy="310.4" r="3.05"/><circle cx="548.4" cy="311.0" r="3.05"/><circle cx="548.4" cy="309.9" r="3.05"/><circle cx="548.5" cy="307.7" r="3.05"/><circle cx="548.5" cy="308.5" r="3.05"/><circle cx="548.5" cy="305.9" r="3.05"/><circle cx="548.6" cy="304.7" r="3.05"/><circle cx="548.6" cy="302.3" r="3.05"/><circle cx="548.7" cy="302.3" r="3.05"/><circle cx="548.7" cy="299.7" r="3.05"/><circle cx="548.7" cy="300.4" r="3.05"/><circle cx="548.8" cy="301.5" r="3.05"/><circle cx="548.8" cy="299.7" r="3.05"/><circle cx="548.9" cy="297.5" r="3.05"/><circle cx="548.9" cy="294.4" r="3.05"/><circle cx="548.9" cy="296.3" r="3.05"/><circle cx="549.0" cy="297.3" r="3.05"/><circle cx="549.0" cy="300.5" r="3.05"/><circle cx="549.1" cy="294.4" r="3.05"/><circle cx="549.1" cy="299.3" r="3.05"/><circle cx="549.2" cy="299.9" r="3.05"/><circle cx="549.2" cy="303.6" r="3.05"/><circle cx="549.2" cy="301.0" r="3.05"/><circle cx="549.3" cy="303.4" r="3.05"/><circle cx="549.3" cy="309.3" r="3.05"/><circle cx="549.4" cy="308.3" r="3.05"/><circle cx="549.4" cy="304.3" r="3.05"/><circle cx="549.4" cy="308.9" r="3.05"/><circle cx="549.5" cy="312.5" r="3.05"/><circle cx="549.5" cy="310.2" r="3.05"/><circle cx="549.6" cy="312.5" r="3.05"/></g>
<g class="c" fill="#3e0000"><circle cx="550.3" cy="313.9" r="3.05"/><circle cx="550.4" cy="310.2" r="3.05"/><circle cx="550.4" cy="312.5" r="3.05"/><circle cx="550.4" cy="308.1" r="3.05"/><circle cx="550.5" cy="309.0" r="3.05"/><circle cx="550.5" cy="307.5" r="3.05"/><circle cx="550.6" cy="304.2" r="3.05"/><circle cx="550.6" cy="306.3" r="3.05"/><circle cx="550.6" cy="304.0" r="3.05"/><circle cx="550.7" cy="298.8" r="3.05"/><circle cx="550.7" cy="301.3" r="3.05"/><circle cx="550.8" cy="300.4" r="3.05"/><circle cx="550.8" cy="299.4" r="3.05"/><circle cx="550.9" cy="298.3" r="3.05"/><circle cx="550.9" cy="297.8" r="3.05"/><circle cx="550.9" cy="294.4" r="3.05"/><circle cx="551.0" cy="299.0" r="3.05"/><circle cx="551.0" cy="296.5" r="3.05"/><circle cx="551.1" cy="295.9" r="3.05"/><circle cx="551.1" cy="294.4" r="3.05"/><circle cx="551.1" cy="295.4" r="3.05"/><circle cx="551.2" cy="295.7" r="3.05"/><circle cx="551.2" cy="295.0" r="3.05"/><circle cx="551.3" cy="295.2" r="3.05"/><circle cx="551.3" cy="299.1" r="3.05"/><circle cx="551.3" cy="301.8" r="3.05"/><circle cx="551.4" cy="301.3" r="3.05"/><circle cx="551.4" cy="304.8" r="3.05"/><circle cx="551.5" cy="300.1" r="3.05"/><circle cx="551.5" cy="303.1" r="3.05"/><circle cx="551.6" cy="303.4" r="3.05"/><circle cx="551.6" cy="307.8" r="3.05"/><circle cx="551.6" cy="309.7" r="3.05"/><circle cx="551.7" cy="306.4" r="3.05"/><circle cx="551.7" cy="309.7" r="3.05"/><circle cx="551.8" cy="308.8" r="3.05"/><circle cx="551.8" cy="308.2" r="3.05"/><circle cx="551.8" cy="310.9" r="3.05"/><circle cx="551.9" cy="310.0" r="3.05"/><circle cx="551.9" cy="313.9" r="3.05"/></g>
<g class="c" fill="#093509"><circle cx="552.7" cy="306.6" r="3.05"/><circle cx="552.7" cy="300.8" r="3.05"/><circle cx="552.8" cy="306.1" r="3.05"/><circle cx="552.8" cy="308.5" r="3.05"/><circle cx="552.8" cy="310.4" r="3.05"/><circle cx="552.9" cy="306.2" r="3.05"/><circle cx="552.9" cy="310.3" r="3.05"/><circle cx="553.0" cy="310.2" r="3.05"/><circle cx="553.0" cy="310.0" r="3.05"/><circle cx="553.0" cy="310.5" r="3.05"/><circle cx="553.1" cy="312.7" r="3.05"/><circle cx="553.1" cy="313.0" r="3.05"/><circle cx="553.2" cy="313.0" r="3.05"/><circle cx="553.2" cy="311.4" r="3.05"/><circle cx="553.2" cy="309.1" r="3.05"/><circle cx="553.3" cy="313.0" r="3.05"/><circle cx="553.3" cy="312.3" r="3.05"/><circle cx="553.4" cy="308.2" r="3.05"/><circle cx="553.4" cy="308.5" r="3.05"/><circle cx="553.5" cy="309.3" r="3.05"/><circle cx="553.5" cy="303.9" r="3.05"/><circle cx="553.5" cy="307.2" r="3.05"/><circle cx="553.6" cy="309.9" r="3.05"/><circle cx="553.6" cy="305.4" r="3.05"/><circle cx="553.7" cy="302.9" r="3.05"/><circle cx="553.7" cy="307.2" r="3.05"/><circle cx="553.7" cy="302.7" r="3.05"/><circle cx="553.8" cy="302.4" r="3.05"/><circle cx="553.8" cy="300.5" r="3.05"/><circle cx="553.9" cy="300.8" r="3.05"/><circle cx="553.9" cy="296.6" r="3.05"/><circle cx="553.9" cy="296.7" r="3.05"/><circle cx="554.0" cy="295.7" r="3.05"/><circle cx="554.0" cy="299.3" r="3.05"/><circle cx="554.1" cy="296.7" r="3.05"/><circle cx="554.1" cy="298.3" r="3.05"/><circle cx="554.2" cy="294.4" r="3.05"/><circle cx="554.2" cy="294.4" r="3.05"/><circle cx="554.2" cy="297.4" r="3.05"/><circle cx="554.3" cy="294.4" r="3.05"/></g>
<g class="c" fill="#093509"><circle cx="555.0" cy="300.5" r="3.05"/><circle cx="555.1" cy="301.0" r="3.05"/><circle cx="555.1" cy="299.4" r="3.05"/><circle cx="555.2" cy="298.9" r="3.05"/><circle cx="555.2" cy="297.8" r="3.05"/><circle cx="555.2" cy="299.9" r="3.05"/><circle cx="555.3" cy="299.4" r="3.05"/><circle cx="555.3" cy="298.0" r="3.05"/><circle cx="555.4" cy="297.8" r="3.05"/><circle cx="555.4" cy="299.6" r="3.05"/><circle cx="555.4" cy="299.8" r="3.05"/><circle cx="555.5" cy="299.9" r="3.05"/><circle cx="555.5" cy="299.0" r="3.05"/><circle cx="555.6" cy="300.9" r="3.05"/><circle cx="555.6" cy="300.6" r="3.05"/><circle cx="555.6" cy="302.4" r="3.05"/><circle cx="555.7" cy="302.7" r="3.05"/><circle cx="555.7" cy="303.0" r="3.05"/><circle cx="555.8" cy="302.5" r="3.05"/><circle cx="555.8" cy="305.1" r="3.05"/><circle cx="555.9" cy="304.7" r="3.05"/><circle cx="555.9" cy="305.7" r="3.05"/><circle cx="555.9" cy="305.7" r="3.05"/><circle cx="556.0" cy="306.0" r="3.05"/><circle cx="556.0" cy="306.1" r="3.05"/><circle cx="556.1" cy="305.0" r="3.05"/><circle cx="556.1" cy="304.8" r="3.05"/><circle cx="556.1" cy="306.1" r="3.05"/><circle cx="556.2" cy="308.2" r="3.05"/><circle cx="556.2" cy="308.6" r="3.05"/><circle cx="556.3" cy="308.6" r="3.05"/><circle cx="556.3" cy="308.4" r="3.05"/><circle cx="556.3" cy="308.6" r="3.05"/><circle cx="556.4" cy="306.9" r="3.05"/><circle cx="556.4" cy="305.1" r="3.05"/><circle cx="556.5" cy="304.8" r="3.05"/><circle cx="556.5" cy="305.7" r="3.05"/><circle cx="556.5" cy="306.3" r="3.05"/><circle cx="556.6" cy="305.8" r="3.05"/><circle cx="556.6" cy="304.4" r="3.05"/></g>
<g fill="#ffd700"><circle cx="559.0" cy="310.5" r="2.92"/></g>
<g class="c" fill="#46004f"><circle cx="556.5" cy="302.1" r="3.05"/><circle cx="556.5" cy="299.2" r="3.05"/><circle cx="556.6" cy="300.3" r="3.05"/><circle cx="556.6" cy="303.2" r="3.05"/><circle cx="556.7" cy="307.8" r="3.05"/><circle cx="556.7" cy="302.7" r="3.05"/><circle cx="556.7" cy="303.4" r="3.05"/><circle cx="556.8" cy="307.4" r="3.05"/><circle cx="556.8" cy="308.5" r="3.05"/><circle cx="556.9" cy="307.3" r="3.05"/><circle cx="556.9" cy="307.7" r="3.05"/><circle cx="557.0" cy="307.7" r="3.05"/><circle cx="557.0" cy="302.7" r="3.05"/><circle cx="557.0" cy="305.0" r="3.05"/><circle cx="557.1" cy="305.3" r="3.05"/><circle cx="557.1" cy="304.9" r="3.05"/><circle cx="557.2" cy="304.5" r="3.05"/><circle cx="557.2" cy="301.3" r="3.05"/><circle cx="557.2" cy="297.9" r="3.05"/><circle cx="557.3" cy="302.1" r="3.05"/><circle cx="557.3" cy="300.2" r="3.05"/><circle cx="557.4" cy="296.7" r="3.05"/><circle cx="557.4" cy="298.8" r="3.05"/><circle cx="557.4" cy="297.9" r="3.05"/><circle cx="557.5" cy="294.9" r="3.05"/><circle cx="557.5" cy="289.9" r="3.05"/><circle cx="557.6" cy="292.5" r="3.05"/><circle cx="557.6" cy="291.0" r="3.05"/><circle cx="557.6" cy="290.0" r="3.05"/><circle cx="557.7" cy="290.5" r="3.05"/><circle cx="557.7" cy="289.6" r="3.05"/><circle cx="557.8" cy="291.1" r="3.05"/><circle cx="557.8" cy="294.8" r="3.05"/><circle cx="557.9" cy="290.0" r="3.05"/><circle cx="557.9" cy="295.0" r="3.05"/><circle cx="557.9" cy="293.0" r="3.05"/><circle cx="558.0" cy="295.9" r="3.05"/><circle cx="558.0" cy="295.6" r="3.05"/><circle cx="558.1" cy="299.1" r="3.05"/><circle cx="558.1" cy="296.3" r="3.05"/></g>
<g class="c" fill="#3e2e00"><circle cx="559.7" cy="295.1" r="3.05"/><circle cx="559.8" cy="292.4" r="3.05"/><circle cx="559.8" cy="293.3" r="3.05"/><circle cx="559.9" cy="299.0" r="3.05"/><circle cx="559.9" cy="298.5" r="3.05"/><circle cx="559.9" cy="301.8" r="3.05"/><circle cx="560.0" cy="298.4" r="3.05"/><circle cx="560.0" cy="301.7" r="3.05"/><circle cx="560.1" cy="303.5" r="3.05"/><circle cx="560.1" cy="306.5" r="3.05"/><circle cx="560.2" cy="304.7" r="3.05"/><circle cx="560.2" cy="305.2" r="3.05"/><circle cx="560.2" cy="308.3" r="3.05"/><circle cx="560.3" cy="308.0" r="3.05"/><circle cx="560.3" cy="308.1" r="3.05"/><circle cx="560.4" cy="309.7" r="3.05"/><circle cx="560.4" cy="304.5" r="3.05"/><circle cx="560.4" cy="304.9" r="3.05"/><circle cx="560.5" cy="307.8" r="3.05"/><circle cx="560.5" cy="303.5" r="3.05"/><circle cx="560.6" cy="302.6" r="3.05"/><circle cx="560.6" cy="302.6" r="3.05"/><circle cx="560.6" cy="302.8" r="3.05"/><circle cx="560.7" cy="300.6" r="3.05"/><circle cx="560.7" cy="296.9" r="3.05"/><circle cx="560.8" cy="296.5" r="3.05"/><circle cx="560.8" cy="298.0" r="3.05"/><circle cx="560.8" cy="294.9" r="3.05"/><circle cx="560.9" cy="292.9" r="3.05"/><circle cx="560.9" cy="294.3" r="3.05"/><circle cx="561.0" cy="295.1" r="3.05"/><circle cx="561.0" cy="297.9" r="3.05"/><circle cx="561.1" cy="293.6" r="3.05"/><circle cx="561.1" cy="295.4" r="3.05"/><circle cx="561.1" cy="296.6" r="3.05"/><circle cx="561.2" cy="299.5" r="3.05"/><circle cx="561.2" cy="299.2" r="3.05"/><circle cx="561.3" cy="303.0" r="3.05"/><circle cx="561.3" cy="297.8" r="3.05"/><circle cx="561.3" cy="305.1" r="3.05"/></g>
<g fill="#ffd700"><circle cx="561.8" cy="311.0" r="2.92"/></g>
<g class="c" fill="#333333"><circle cx="562.1" cy="299.1" r="3.05"/><circle cx="562.1" cy="299.6" r="3.05"/><circle cx="562.2" cy="297.2" r="3.05"/><circle cx="562.2" cy="297.5" r="3.05"/><circle cx="562.3" cy="294.6" r="3.05"/><circle cx="562.3" cy="293.6" r="3.05"/><circle cx="562.3" cy="294.3" r="3.05"/><circle cx="562.4" cy="294.6" r="3.05"/><circle cx="562.4" cy="293.4" r="3.05"/><circle cx="562.5" cy="292.4" r="3.05"/><circle cx="562.5" cy="292.4" r="3.05"/><circle cx="562.5" cy="292.4" r="3.05"/><circle cx="562.6" cy="297.3" r="3.05"/><circle cx="562.6" cy="296.1" r="3.05"/><circle cx="562.7" cy="295.1" r="3.05"/><circle cx="562.7" cy="299.0" r="3.05"/><circle cx="562.8" cy="298.8" r="3.05"/><circle cx="562.8" cy="298.0" r="3.05"/><circle cx="562.8" cy="298.5" r="3.05"/><circle cx="562.9" cy="302.1" r="3.05"/><circle cx="562.9" cy="301.6" r="3.05"/><circle cx="563.0" cy="304.5" r="3.05"/><circle cx="563.0" cy="303.2" r="3.05"/><circle cx="563.0" cy="302.5" r="3.05"/><circle cx="563.1" cy="303.3" r="3.05"/><circle cx="563.1" cy="303.9" r="3.05"/><circle cx="563.2" cy="306.2" r="3.05"/><circle cx="563.2" cy="307.0" r="3.05"/><circle cx="563.2" cy="308.3" r="3.05"/><circle cx="563.3" cy="308.8" r="3.05"/><circle cx="563.3" cy="306.9" r="3.05"/><circle cx="563.4" cy="307.5" r="3.05"/><circle cx="563.4" cy="305.5" r="3.05"/><circle cx="563.4" cy="307.0" r="3.05"/><circle cx="563.5" cy="303.4" r="3.05"/><circle cx="563.5" cy="303.7" r="3.05"/><circle cx="563.6" cy="302.5" r="3.05"/><circle cx="563.6" cy="302.1" r="3.05"/><circle cx="563.7" cy="301.9" r="3.05"/><circle cx="563.7" cy="303.9" r="3.05"/></g>
<g class="c" fill="#2c3e09"><circle cx="564.5" cy="291.5" r="3.05"/><circle cx="564.5" cy="293.6" r="3.05"/><circle cx="564.5" cy="290.3" r="3.05"/><circle cx="564.6" cy="291.8" r="3.05"/><circle cx="564.6" cy="285.2" r="3.05"/><circle cx="564.7" cy="286.7" r="3.05"/><circle cx="564.7" cy="285.1" r="3.05"/><circle cx="564.7" cy="285.5" r="3.05"/><circle cx="564.8" cy="289.6" r="3.05"/><circle cx="564.8" cy="286.0" r="3.05"/><circle cx="564.9" cy="291.6" r="3.05"/><circle cx="564.9" cy="286.9" r="3.05"/><circle cx="564.9" cy="293.2" r="3.05"/><circle cx="565.0" cy="287.5" r="3.05"/><circle cx="565.0" cy="290.3" r="3.05"/><circle cx="565.1" cy="295.4" r="3.05"/><circle cx="565.1" cy="294.0" r="3.05"/><circle cx="565.1" cy="295.5" r="3.05"/><circle cx="565.2" cy="296.2" r="3.05"/><circle cx="565.2" cy="297.6" r="3.05"/><circle cx="565.3" cy="297.9" r="3.05"/><circle cx="565.3" cy="297.1" r="3.05"/><circle cx="565.4" cy="299.7" r="3.05"/><circle cx="565.4" cy="301.5" r="3.05"/><circle cx="565.4" cy="300.4" r="3.05"/><circle cx="565.5" cy="304.4" r="3.05"/><circle cx="565.5" cy="307.6" r="3.05"/><circle cx="565.6" cy="301.8" r="3.05"/><circle cx="565.6" cy="305.2" r="3.05"/><circle cx="565.6" cy="306.8" r="3.05"/><circle cx="565.7" cy="306.9" r="3.05"/><circle cx="565.7" cy="306.0" r="3.05"/><circle cx="565.8" cy="303.2" r="3.05"/><circle cx="565.8" cy="303.7" r="3.05"/><circle cx="565.8" cy="302.8" r="3.05"/><circle cx="565.9" cy="301.6" r="3.05"/><circle cx="565.9" cy="304.1" r="3.05"/><circle cx="566.0" cy="300.0" r="3.05"/><circle cx="566.0" cy="295.5" r="3.05"/><circle cx="566.1" cy="294.3" r="3.05"/></g>
<g class="c" fill="#2c3e09"><circle cx="566.6" cy="311.1" r="3.05"/><circle cx="566.6" cy="306.8" r="3.05"/><circle cx="566.7" cy="302.9" r="3.05"/><circle cx="566.7" cy="302.1" r="3.05"/><circle cx="566.8" cy="304.4" r="3.05"/><circle cx="566.8" cy="302.2" r="3.05"/><circle cx="566.8" cy="299.5" r="3.05"/><circle cx="566.9" cy="295.1" r="3.05"/><circle cx="566.9" cy="289.1" r="3.05"/><circle cx="567.0" cy="294.6" r="3.05"/><circle cx="567.0" cy="295.1" r="3.05"/><circle cx="567.1" cy="292.5" r="3.05"/><circle cx="567.1" cy="290.1" r="3.05"/><circle cx="567.1" cy="285.2" r="3.05"/><circle cx="567.2" cy="283.6" r="3.05"/><circle cx="567.2" cy="280.4" r="3.05"/><circle cx="567.3" cy="286.6" r="3.05"/><circle cx="567.3" cy="283.3" r="3.05"/><circle cx="567.3" cy="293.4" r="3.05"/><circle cx="567.4" cy="290.7" r="3.05"/><circle cx="567.4" cy="288.8" r="3.05"/><circle cx="567.5" cy="291.8" r="3.05"/><circle cx="567.5" cy="288.2" r="3.05"/><circle cx="567.5" cy="293.1" r="3.05"/><circle cx="567.6" cy="296.5" r="3.05"/><circle cx="567.6" cy="307.9" r="3.05"/><circle cx="567.7" cy="298.6" r="3.05"/><circle cx="567.7" cy="306.4" r="3.05"/><circle cx="567.7" cy="305.4" r="3.05"/><circle cx="567.8" cy="306.0" r="3.05"/><circle cx="567.8" cy="311.1" r="3.05"/><circle cx="567.9" cy="304.0" r="3.05"/><circle cx="567.9" cy="316.0" r="3.05"/><circle cx="568.0" cy="316.0" r="3.05"/><circle cx="568.0" cy="316.0" r="3.05"/><circle cx="568.0" cy="313.3" r="3.05"/><circle cx="568.1" cy="312.1" r="3.05"/><circle cx="568.1" cy="312.0" r="3.05"/><circle cx="568.2" cy="306.1" r="3.05"/><circle cx="568.2" cy="306.3" r="3.05"/></g>
<g class="c" fill="#3e1235"><circle cx="569.2" cy="314.0" r="3.05"/><circle cx="569.2" cy="313.5" r="3.05"/><circle cx="569.2" cy="315.5" r="3.05"/><circle cx="569.3" cy="314.8" r="3.05"/><circle cx="569.3" cy="309.9" r="3.05"/><circle cx="569.4" cy="309.4" r="3.05"/><circle cx="569.4" cy="314.8" r="3.05"/><circle cx="569.4" cy="310.4" r="3.05"/><circle cx="569.5" cy="306.0" r="3.05"/><circle cx="569.5" cy="305.6" r="3.05"/><circle cx="569.6" cy="306.6" r="3.05"/><circle cx="569.6" cy="308.1" r="3.05"/><circle cx="569.7" cy="307.3" r="3.05"/><circle cx="569.7" cy="302.1" r="3.05"/><circle cx="569.7" cy="301.1" r="3.05"/><circle cx="569.8" cy="304.5" r="3.05"/><circle cx="569.8" cy="297.5" r="3.05"/><circle cx="569.9" cy="301.5" r="3.05"/><circle cx="569.9" cy="297.8" r="3.05"/><circle cx="569.9" cy="296.2" r="3.05"/><circle cx="570.0" cy="297.5" r="3.05"/><circle cx="570.0" cy="296.5" r="3.05"/><circle cx="570.1" cy="295.0" r="3.05"/><circle cx="570.1" cy="294.6" r="3.05"/><circle cx="570.1" cy="299.0" r="3.05"/><circle cx="570.2" cy="301.1" r="3.05"/><circle cx="570.2" cy="304.0" r="3.05"/><circle cx="570.3" cy="297.1" r="3.05"/><circle cx="570.3" cy="306.2" r="3.05"/><circle cx="570.3" cy="305.9" r="3.05"/><circle cx="570.4" cy="308.8" r="3.05"/><circle cx="570.4" cy="308.6" r="3.05"/><circle cx="570.5" cy="308.5" r="3.05"/><circle cx="570.5" cy="310.1" r="3.05"/><circle cx="570.6" cy="311.2" r="3.05"/><circle cx="570.6" cy="310.2" r="3.05"/><circle cx="570.6" cy="312.4" r="3.05"/><circle cx="570.7" cy="314.1" r="3.05"/><circle cx="570.7" cy="314.0" r="3.05"/><circle cx="570.8" cy="311.9" r="3.05"/></g>
<g class="c" fill="#230e35"><circle cx="571.5" cy="305.5" r="3.05"/><circle cx="571.6" cy="305.1" r="3.05"/><circle cx="571.6" cy="302.4" r="3.05"/><circle cx="571.6" cy="305.5" r="3.05"/><circle cx="571.7" cy="301.7" r="3.05"/><circle cx="571.7" cy="305.2" r="3.05"/><circle cx="571.8" cy="302.6" r="3.05"/><circle cx="571.8" cy="300.8" r="3.05"/><circle cx="571.8" cy="297.8" r="3.05"/><circle cx="571.9" cy="299.0" r="3.05"/><circle cx="571.9" cy="300.8" r="3.05"/><circle cx="572.0" cy="300.0" r="3.05"/><circle cx="572.0" cy="298.0" r="3.05"/><circle cx="572.0" cy="295.1" r="3.05"/><circle cx="572.1" cy="295.9" r="3.05"/><circle cx="572.1" cy="295.3" r="3.05"/><circle cx="572.2" cy="295.4" r="3.05"/><circle cx="572.2" cy="294.0" r="3.05"/><circle cx="572.3" cy="294.3" r="3.05"/><circle cx="572.3" cy="293.7" r="3.05"/><circle cx="572.3" cy="294.6" r="3.05"/><circle cx="572.4" cy="297.7" r="3.05"/><circle cx="572.4" cy="295.1" r="3.05"/><circle cx="572.5" cy="298.5" r="3.05"/><circle cx="572.5" cy="300.9" r="3.05"/><circle cx="572.5" cy="299.7" r="3.05"/><circle cx="572.6" cy="298.0" r="3.05"/><circle cx="572.6" cy="301.8" r="3.05"/><circle cx="572.7" cy="298.9" r="3.05"/><circle cx="572.7" cy="302.1" r="3.05"/><circle cx="572.7" cy="302.0" r="3.05"/><circle cx="572.8" cy="304.6" r="3.05"/><circle cx="572.8" cy="305.2" r="3.05"/><circle cx="572.9" cy="304.8" r="3.05"/><circle cx="572.9" cy="305.5" r="3.05"/><circle cx="573.0" cy="305.5" r="3.05"/><circle cx="573.0" cy="303.8" r="3.05"/><circle cx="573.0" cy="302.5" r="3.05"/><circle cx="573.1" cy="305.5" r="3.05"/><circle cx="573.1" cy="301.7" r="3.05"/></g>
<g class="c" fill="#333525"><circle cx="573.9" cy="299.9" r="3.05"/><circle cx="573.9" cy="299.0" r="3.05"/><circle cx="574.0" cy="299.8" r="3.05"/><circle cx="574.0" cy="296.5" r="3.05"/><circle cx="574.0" cy="293.8" r="3.05"/><circle cx="574.1" cy="293.7" r="3.05"/><circle cx="574.1" cy="294.3" r="3.05"/><circle cx="574.2" cy="293.8" r="3.05"/><circle cx="574.2" cy="293.6" r="3.05"/><circle cx="574.2" cy="291.2" r="3.05"/><circle cx="574.3" cy="292.7" r="3.05"/><circle cx="574.3" cy="293.0" r="3.05"/><circle cx="574.4" cy="296.4" r="3.05"/><circle cx="574.4" cy="294.6" r="3.05"/><circle cx="574.4" cy="295.9" r="3.05"/><circle cx="574.5" cy="297.5" r="3.05"/><circle cx="574.5" cy="299.5" r="3.05"/><circle cx="574.6" cy="297.1" r="3.05"/><circle cx="574.6" cy="298.7" r="3.05"/><circle cx="574.6" cy="300.0" r="3.05"/><circle cx="574.7" cy="298.0" r="3.05"/><circle cx="574.7" cy="304.4" r="3.05"/><circle cx="574.8" cy="305.0" r="3.05"/><circle cx="574.8" cy="304.3" r="3.05"/><circle cx="574.9" cy="307.6" r="3.05"/><circle cx="574.9" cy="307.6" r="3.05"/><circle cx="574.9" cy="307.6" r="3.05"/><circle cx="575.0" cy="307.6" r="3.05"/><circle cx="575.0" cy="307.6" r="3.05"/><circle cx="575.1" cy="303.0" r="3.05"/><circle cx="575.1" cy="306.7" r="3.05"/><circle cx="575.1" cy="303.9" r="3.05"/><circle cx="575.2" cy="300.4" r="3.05"/><circle cx="575.2" cy="301.5" r="3.05"/><circle cx="575.3" cy="301.6" r="3.05"/><circle cx="575.3" cy="301.0" r="3.05"/><circle cx="575.3" cy="298.8" r="3.05"/><circle cx="575.4" cy="296.7" r="3.05"/><circle cx="575.4" cy="297.8" r="3.05"/><circle cx="575.5" cy="294.4" r="3.05"/></g>
<g class="c" fill="#333525"><circle cx="576.2" cy="296.1" r="3.05"/><circle cx="576.3" cy="292.1" r="3.05"/><circle cx="576.3" cy="293.0" r="3.05"/><circle cx="576.3" cy="293.4" r="3.05"/><circle cx="576.4" cy="291.3" r="3.05"/><circle cx="576.4" cy="293.6" r="3.05"/><circle cx="576.5" cy="293.2" r="3.05"/><circle cx="576.5" cy="293.6" r="3.05"/><circle cx="576.6" cy="295.6" r="3.05"/><circle cx="576.6" cy="295.4" r="3.05"/><circle cx="576.6" cy="296.8" r="3.05"/><circle cx="576.7" cy="299.2" r="3.05"/><circle cx="576.7" cy="297.5" r="3.05"/><circle cx="576.8" cy="301.1" r="3.05"/><circle cx="576.8" cy="298.4" r="3.05"/><circle cx="576.8" cy="300.7" r="3.05"/><circle cx="576.9" cy="299.2" r="3.05"/><circle cx="576.9" cy="302.0" r="3.05"/><circle cx="577.0" cy="306.2" r="3.05"/><circle cx="577.0" cy="305.2" r="3.05"/><circle cx="577.0" cy="307.5" r="3.05"/><circle cx="577.1" cy="304.1" r="3.05"/><circle cx="577.1" cy="305.7" r="3.05"/><circle cx="577.2" cy="307.6" r="3.05"/><circle cx="577.2" cy="307.5" r="3.05"/><circle cx="577.3" cy="306.6" r="3.05"/><circle cx="577.3" cy="301.8" r="3.05"/><circle cx="577.3" cy="304.3" r="3.05"/><circle cx="577.4" cy="302.5" r="3.05"/><circle cx="577.4" cy="301.9" r="3.05"/><circle cx="577.5" cy="301.6" r="3.05"/><circle cx="577.5" cy="299.5" r="3.05"/><circle cx="577.5" cy="296.4" r="3.05"/><circle cx="577.6" cy="296.5" r="3.05"/><circle cx="577.6" cy="295.0" r="3.05"/><circle cx="577.7" cy="294.3" r="3.05"/><circle cx="577.7" cy="295.3" r="3.05"/><circle cx="577.7" cy="296.7" r="3.05"/><circle cx="577.8" cy="292.6" r="3.05"/><circle cx="577.8" cy="291.6" r="3.05"/></g>
<g fill="#e6e6fa"><circle cx="578.3" cy="312.5" r="2.92"/></g>
<g fill="#7cfc00"><circle cx="579.8" cy="284.5" r="2.92"/></g>
<g fill="#7cfc00"><circle cx="579.3" cy="287.5" r="2.92"/></g>
<g class="c" fill="#1a4100"><circle cx="578.6" cy="287.0" r="3.05"/><circle cx="578.6" cy="292.4" r="3.05"/><circle cx="578.7" cy="289.4" r="3.05"/><circle cx="578.7" cy="295.6" r="3.05"/><circle cx="578.7" cy="293.9" r="3.05"/><circle cx="578.8" cy="299.3" r="3.05"/><circle cx="578.8" cy="296.3" r="3.05"/><circle cx="578.9" cy="301.4" r="3.05"/><circle cx="578.9" cy="302.9" r="3.05"/><circle cx="578.9" cy="303.0" r="3.05"/><circle cx="579.0" cy="309.1" r="3.05"/><circle cx="579.0" cy="306.7" r="3.05"/><circle cx="579.1" cy="305.4" r="3.05"/><circle cx="579.1" cy="310.1" r="3.05"/><circle cx="579.2" cy="307.3" r="3.05"/><circle cx="579.2" cy="306.6" r="3.05"/><circle cx="579.2" cy="306.5" r="3.05"/><circle cx="579.3" cy="305.5" r="3.05"/><circle cx="579.3" cy="308.1" r="3.05"/><circle cx="579.4" cy="297.3" r="3.05"/><circle cx="579.4" cy="299.8" r="3.05"/><circle cx="579.4" cy="302.0" r="3.05"/><circle cx="579.5" cy="297.0" r="3.05"/><circle cx="579.5" cy="296.8" r="3.05"/><circle cx="579.6" cy="298.5" r="3.05"/><circle cx="579.6" cy="289.6" r="3.05"/><circle cx="579.6" cy="291.5" r="3.05"/><circle cx="579.7" cy="292.0" r="3.05"/><circle cx="579.7" cy="286.8" r="3.05"/><circle cx="579.8" cy="282.5" r="3.05"/><circle cx="579.8" cy="282.7" r="3.05"/><circle cx="579.9" cy="284.4" r="3.05"/><circle cx="579.9" cy="283.2" r="3.05"/><circle cx="579.9" cy="289.1" r="3.05"/><circle cx="580.0" cy="289.2" r="3.05"/><circle cx="580.0" cy="283.1" r="3.05"/><circle cx="580.1" cy="291.5" r="3.05"/><circle cx="580.1" cy="292.6" r="3.05"/><circle cx="580.1" cy="296.1" r="3.05"/><circle cx="580.2" cy="292.8" r="3.05"/></g>
<g class="c" fill="#254f00"><circle cx="580.9" cy="294.7" r="3.05"/><circle cx="581.0" cy="291.6" r="3.05"/><circle cx="581.0" cy="289.3" r="3.05"/><circle cx="581.1" cy="296.0" r="3.05"/><circle cx="581.1" cy="285.6" r="3.05"/><circle cx="581.1" cy="287.7" r="3.05"/><circle cx="581.2" cy="286.6" r="3.05"/><circle cx="581.2" cy="283.8" r="3.05"/><circle cx="581.3" cy="283.5" r="3.05"/><circle cx="581.3" cy="284.1" r="3.05"/><circle cx="581.3" cy="290.6" r="3.05"/><circle cx="581.4" cy="285.1" r="3.05"/><circle cx="581.4" cy="285.0" r="3.05"/><circle cx="581.5" cy="287.9" r="3.05"/><circle cx="581.5" cy="291.3" r="3.05"/><circle cx="581.6" cy="287.6" r="3.05"/><circle cx="581.6" cy="289.9" r="3.05"/><circle cx="581.6" cy="287.3" r="3.05"/><circle cx="581.7" cy="295.2" r="3.05"/><circle cx="581.7" cy="296.3" r="3.05"/><circle cx="581.8" cy="299.7" r="3.05"/><circle cx="581.8" cy="293.4" r="3.05"/><circle cx="581.8" cy="303.8" r="3.05"/><circle cx="581.9" cy="301.4" r="3.05"/><circle cx="581.9" cy="299.4" r="3.05"/><circle cx="582.0" cy="300.2" r="3.05"/><circle cx="582.0" cy="301.6" r="3.05"/><circle cx="582.0" cy="300.2" r="3.05"/><circle cx="582.1" cy="306.8" r="3.05"/><circle cx="582.1" cy="304.2" r="3.05"/><circle cx="582.2" cy="305.0" r="3.05"/><circle cx="582.2" cy="309.6" r="3.05"/><circle cx="582.2" cy="309.6" r="3.05"/><circle cx="582.3" cy="308.8" r="3.05"/><circle cx="582.3" cy="310.9" r="3.05"/><circle cx="582.4" cy="309.5" r="3.05"/><circle cx="582.4" cy="311.8" r="3.05"/><circle cx="582.5" cy="311.4" r="3.05"/><circle cx="582.5" cy="305.5" r="3.05"/><circle cx="582.5" cy="306.2" r="3.05"/></g>
<g fill="#7cfc00"><circle cx="582.6" cy="312.6" r="2.92"/></g>
<g class="c" fill="#254f00"><circle cx="583.3" cy="294.8" r="3.05"/><circle cx="583.3" cy="289.6" r="3.05"/><circle cx="583.4" cy="288.8" r="3.05"/><circle cx="583.4" cy="287.2" r="3.05"/><circle cx="583.5" cy="287.0" r="3.05"/><circle cx="583.5" cy="285.0" r="3.05"/><circle cx="583.5" cy="290.7" r="3.05"/><circle cx="583.6" cy="289.9" r="3.05"/><circle cx="583.6" cy="288.4" r="3.05"/><circle cx="583.7" cy="289.8" r="3.05"/><circle cx="583.7" cy="294.4" r="3.05"/><circle cx="583.7" cy="296.2" r="3.05"/><circle cx="583.8" cy="290.9" r="3.05"/><circle cx="583.8" cy="292.6" r="3.05"/><circle cx="583.9" cy="302.3" r="3.05"/><circle cx="583.9" cy="300.9" r="3.05"/><circle cx="583.9" cy="309.9" r="3.05"/><circle cx="584.0" cy="299.6" r="3.05"/><circle cx="584.0" cy="304.4" r="3.05"/><circle cx="584.1" cy="304.9" r="3.05"/><circle cx="584.1" cy="309.4" r="3.05"/><circle cx="584.2" cy="312.5" r="3.05"/><circle cx="584.2" cy="312.5" r="3.05"/><circle cx="584.2" cy="309.4" r="3.05"/><circle cx="584.3" cy="312.5" r="3.05"/><circle cx="584.3" cy="306.8" r="3.05"/><circle cx="584.4" cy="309.5" r="3.05"/><circle cx="584.4" cy="307.8" r="3.05"/><circle cx="584.4" cy="307.6" r="3.05"/><circle cx="584.5" cy="302.4" r="3.05"/><circle cx="584.5" cy="306.7" r="3.05"/><circle cx="584.6" cy="301.5" r="3.05"/><circle cx="584.6" cy="300.3" r="3.05"/><circle cx="584.6" cy="298.2" r="3.05"/><circle cx="584.7" cy="294.7" r="3.05"/><circle cx="584.7" cy="298.1" r="3.05"/><circle cx="584.8" cy="295.6" r="3.05"/><circle cx="584.8" cy="294.6" r="3.05"/><circle cx="584.8" cy="296.9" r="3.05"/><circle cx="584.9" cy="288.2" r="3.05"/></g>
<g class="c" fill="#462325"><circle cx="585.6" cy="304.3" r="3.05"/><circle cx="585.7" cy="299.1" r="3.05"/><circle cx="585.7" cy="303.7" r="3.05"/><circle cx="585.8" cy="301.1" r="3.05"/><circle cx="585.8" cy="307.8" r="3.05"/><circle cx="585.9" cy="308.9" r="3.05"/><circle cx="585.9" cy="312.5" r="3.05"/><circle cx="585.9" cy="312.5" r="3.05"/><circle cx="586.0" cy="310.3" r="3.05"/><circle cx="586.0" cy="312.5" r="3.05"/><circle cx="586.1" cy="309.4" r="3.05"/><circle cx="586.1" cy="302.5" r="3.05"/><circle cx="586.1" cy="302.7" r="3.05"/><circle cx="586.2" cy="304.3" r="3.05"/><circle cx="586.2" cy="307.0" r="3.05"/><circle cx="586.3" cy="299.8" r="3.05"/><circle cx="586.3" cy="298.5" r="3.05"/><circle cx="586.3" cy="298.3" r="3.05"/><circle cx="586.4" cy="298.5" r="3.05"/><circle cx="586.4" cy="294.4" r="3.05"/><circle cx="586.5" cy="294.1" r="3.05"/><circle cx="586.5" cy="290.5" r="3.05"/><circle cx="586.5" cy="288.7" r="3.05"/><circle cx="586.6" cy="286.5" r="3.05"/><circle cx="586.6" cy="289.5" r="3.05"/><circle cx="586.7" cy="284.3" r="3.05"/><circle cx="586.7" cy="286.2" r="3.05"/><circle cx="586.8" cy="284.4" r="3.05"/><circle cx="586.8" cy="284.6" r="3.05"/><circle cx="586.8" cy="281.4" r="3.05"/><circle cx="586.9" cy="281.4" r="3.05"/><circle cx="586.9" cy="281.8" r="3.05"/><circle cx="587.0" cy="286.4" r="3.05"/><circle cx="587.0" cy="290.7" r="3.05"/><circle cx="587.0" cy="297.5" r="3.05"/><circle cx="587.1" cy="295.9" r="3.05"/><circle cx="587.1" cy="296.8" r="3.05"/><circle cx="587.2" cy="295.2" r="3.05"/><circle cx="587.2" cy="294.4" r="3.05"/><circle cx="587.2" cy="298.6" r="3.05"/></g>
<g fill="#fffff0"><circle cx="588.0" cy="312.5" r="2.92"/></g>
<g fill="#dc7864"><circle cx="588.0" cy="314.2" r="2.92"/></g>
<g class="c" fill="#233523"><circle cx="588.0" cy="304.4" r="3.05"/><circle cx="588.0" cy="300.0" r="3.05"/><circle cx="588.1" cy="300.1" r="3.05"/><circle cx="588.1" cy="299.7" r="3.05"/><circle cx="588.2" cy="297.1" r="3.05"/><circle cx="588.2" cy="297.4" r="3.05"/><circle cx="588.2" cy="296.8" r="3.05"/><circle cx="588.3" cy="292.0" r="3.05"/><circle cx="588.3" cy="292.9" r="3.05"/><circle cx="588.4" cy="288.8" r="3.05"/><circle cx="588.4" cy="289.7" r="3.05"/><circle cx="588.5" cy="291.5" r="3.05"/><circle cx="588.5" cy="288.2" r="3.05"/><circle cx="588.5" cy="293.0" r="3.05"/><circle cx="588.6" cy="291.4" r="3.05"/><circle cx="588.6" cy="293.3" r="3.05"/><circle cx="588.7" cy="292.9" r="3.05"/><circle cx="588.7" cy="295.6" r="3.05"/><circle cx="588.7" cy="297.2" r="3.05"/><circle cx="588.8" cy="296.4" r="3.05"/><circle cx="588.8" cy="296.3" r="3.05"/><circle cx="588.9" cy="297.4" r="3.05"/><circle cx="588.9" cy="303.6" r="3.05"/><circle cx="588.9" cy="300.5" r="3.05"/><circle cx="589.0" cy="301.1" r="3.05"/><circle cx="589.0" cy="301.7" r="3.05"/><circle cx="589.1" cy="300.9" r="3.05"/><circle cx="589.1" cy="304.5" r="3.05"/><circle cx="589.1" cy="307.3" r="3.05"/><circle cx="589.2" cy="306.9" r="3.05"/><circle cx="589.2" cy="307.5" r="3.05"/><circle cx="589.3" cy="309.0" r="3.05"/><circle cx="589.3" cy="307.6" r="3.05"/><circle cx="589.4" cy="304.6" r="3.05"/><circle cx="589.4" cy="304.9" r="3.05"/><circle cx="589.4" cy="301.2" r="3.05"/><circle cx="589.5" cy="303.7" r="3.05"/><circle cx="589.5" cy="298.8" r="3.05"/><circle cx="589.6" cy="299.0" r="3.05"/><circle cx="589.6" cy="298.8" r="3.05"/></g>
<g class="c" fill="#381519"><circle cx="590.4" cy="307.3" r="3.05"/><circle cx="590.4" cy="305.1" r="3.05"/><circle cx="590.4" cy="300.2" r="3.05"/><circle cx="590.5" cy="303.0" r="3.05"/><circle cx="590.5" cy="301.5" r="3.05"/><circle cx="590.6" cy="302.7" r="3.05"/><circle cx="590.6" cy="300.3" r="3.05"/><circle cx="590.6" cy="295.3" r="3.05"/><circle cx="590.7" cy="297.0" r="3.05"/><circle cx="590.7" cy="292.6" r="3.05"/><circle cx="590.8" cy="292.1" r="3.05"/><circle cx="590.8" cy="289.9" r="3.05"/><circle cx="590.8" cy="285.8" r="3.05"/><circle cx="590.9" cy="289.6" r="3.05"/><circle cx="590.9" cy="285.0" r="3.05"/><circle cx="591.0" cy="285.1" r="3.05"/><circle cx="591.0" cy="286.8" r="3.05"/><circle cx="591.1" cy="287.3" r="3.05"/><circle cx="591.1" cy="285.0" r="3.05"/><circle cx="591.1" cy="288.3" r="3.05"/><circle cx="591.2" cy="292.5" r="3.05"/><circle cx="591.2" cy="294.8" r="3.05"/><circle cx="591.3" cy="297.2" r="3.05"/><circle cx="591.3" cy="291.1" r="3.05"/><circle cx="591.3" cy="297.4" r="3.05"/><circle cx="591.4" cy="296.7" r="3.05"/><circle cx="591.4" cy="300.8" r="3.05"/><circle cx="591.5" cy="296.8" r="3.05"/><circle cx="591.5" cy="301.5" r="3.05"/><circle cx="591.5" cy="304.7" r="3.05"/><circle cx="591.6" cy="303.1" r="3.05"/><circle cx="591.6" cy="305.0" r="3.05"/><circle cx="591.7" cy="305.0" r="3.05"/><circle cx="591.7" cy="307.3" r="3.05"/><circle cx="591.7" cy="301.9" r="3.05"/><circle cx="591.8" cy="301.5" r="3.05"/><circle cx="591.8" cy="301.4" r="3.05"/><circle cx="591.9" cy="300.1" r="3.05"/><circle cx="591.9" cy="304.0" r="3.05"/><circle cx="592.0" cy="298.7" r="3.05"/></g>
<g class="c" fill="#3e231a"><circle cx="592.7" cy="284.2" r="3.05"/><circle cx="592.8" cy="288.9" r="3.05"/><circle cx="592.8" cy="286.6" r="3.05"/><circle cx="592.8" cy="288.1" r="3.05"/><circle cx="592.9" cy="291.6" r="3.05"/><circle cx="592.9" cy="291.6" r="3.05"/><circle cx="593.0" cy="297.6" r="3.05"/><circle cx="593.0" cy="302.2" r="3.05"/><circle cx="593.0" cy="302.2" r="3.05"/><circle cx="593.1" cy="301.9" r="3.05"/><circle cx="593.1" cy="303.2" r="3.05"/><circle cx="593.2" cy="302.4" r="3.05"/><circle cx="593.2" cy="302.5" r="3.05"/><circle cx="593.2" cy="309.0" r="3.05"/><circle cx="593.3" cy="305.4" r="3.05"/><circle cx="593.3" cy="308.2" r="3.05"/><circle cx="593.4" cy="305.5" r="3.05"/><circle cx="593.4" cy="306.0" r="3.05"/><circle cx="593.4" cy="302.7" r="3.05"/><circle cx="593.5" cy="301.2" r="3.05"/><circle cx="593.5" cy="297.9" r="3.05"/><circle cx="593.6" cy="293.5" r="3.05"/><circle cx="593.6" cy="295.2" r="3.05"/><circle cx="593.7" cy="296.1" r="3.05"/><circle cx="593.7" cy="295.3" r="3.05"/><circle cx="593.7" cy="294.5" r="3.05"/><circle cx="593.8" cy="287.1" r="3.05"/><circle cx="593.8" cy="285.6" r="3.05"/><circle cx="593.9" cy="288.0" r="3.05"/><circle cx="593.9" cy="284.2" r="3.05"/><circle cx="593.9" cy="291.6" r="3.05"/><circle cx="594.0" cy="287.8" r="3.05"/><circle cx="594.0" cy="285.0" r="3.05"/><circle cx="594.1" cy="288.9" r="3.05"/><circle cx="594.1" cy="295.7" r="3.05"/><circle cx="594.1" cy="289.1" r="3.05"/><circle cx="594.2" cy="295.5" r="3.05"/><circle cx="594.2" cy="293.4" r="3.05"/><circle cx="594.3" cy="302.3" r="3.05"/><circle cx="594.3" cy="299.0" r="3.05"/></g>
<g fill="#ffffff"><circle cx="594.0" cy="284.2" r="2.92"/></g>
<g class="c" fill="#3e231a"><circle cx="595.1" cy="290.1" r="3.05"/><circle cx="595.1" cy="290.2" r="3.05"/><circle cx="595.1" cy="287.8" r="3.05"/><circle cx="595.2" cy="289.8" r="3.05"/><circle cx="595.2" cy="287.6" r="3.05"/><circle cx="595.3" cy="287.5" r="3.05"/><circle cx="595.3" cy="290.6" r="3.05"/><circle cx="595.4" cy="289.6" r="3.05"/><circle cx="595.4" cy="287.8" r="3.05"/><circle cx="595.4" cy="293.0" r="3.05"/><circle cx="595.5" cy="290.8" r="3.05"/><circle cx="595.5" cy="292.6" r="3.05"/><circle cx="595.6" cy="292.7" r="3.05"/><circle cx="595.6" cy="295.3" r="3.05"/><circle cx="595.6" cy="295.0" r="3.05"/><circle cx="595.7" cy="294.0" r="3.05"/><circle cx="595.7" cy="296.7" r="3.05"/><circle cx="595.8" cy="295.4" r="3.05"/><circle cx="595.8" cy="297.1" r="3.05"/><circle cx="595.8" cy="300.6" r="3.05"/><circle cx="595.9" cy="296.3" r="3.05"/><circle cx="595.9" cy="297.1" r="3.05"/><circle cx="596.0" cy="299.0" r="3.05"/><circle cx="596.0" cy="299.6" r="3.05"/><circle cx="596.0" cy="303.6" r="3.05"/><circle cx="596.1" cy="299.0" r="3.05"/><circle cx="596.1" cy="306.5" r="3.05"/><circle cx="596.2" cy="306.4" r="3.05"/><circle cx="596.2" cy="303.3" r="3.05"/><circle cx="596.3" cy="305.2" r="3.05"/><circle cx="596.3" cy="305.0" r="3.05"/><circle cx="596.3" cy="306.5" r="3.05"/><circle cx="596.4" cy="306.5" r="3.05"/><circle cx="596.4" cy="306.5" r="3.05"/><circle cx="596.5" cy="305.8" r="3.05"/><circle cx="596.5" cy="306.5" r="3.05"/><circle cx="596.5" cy="302.6" r="3.05"/><circle cx="596.6" cy="303.5" r="3.05"/><circle cx="596.6" cy="301.1" r="3.05"/><circle cx="596.7" cy="300.8" r="3.05"/></g>
<g class="c" fill="#35251c"><circle cx="596.9" cy="302.8" r="3.05"/><circle cx="596.9" cy="302.0" r="3.05"/><circle cx="596.9" cy="302.0" r="3.05"/><circle cx="597.0" cy="304.7" r="3.05"/><circle cx="597.0" cy="306.7" r="3.05"/><circle cx="597.1" cy="309.2" r="3.05"/><circle cx="597.1" cy="306.8" r="3.05"/><circle cx="597.1" cy="313.2" r="3.05"/><circle cx="597.2" cy="309.4" r="3.05"/><circle cx="597.2" cy="308.7" r="3.05"/><circle cx="597.3" cy="310.0" r="3.05"/><circle cx="597.3" cy="311.0" r="3.05"/><circle cx="597.3" cy="307.3" r="3.05"/><circle cx="597.4" cy="303.7" r="3.05"/><circle cx="597.4" cy="302.4" r="3.05"/><circle cx="597.5" cy="305.7" r="3.05"/><circle cx="597.5" cy="296.3" r="3.05"/><circle cx="597.5" cy="302.2" r="3.05"/><circle cx="597.6" cy="293.7" r="3.05"/><circle cx="597.6" cy="294.5" r="3.05"/><circle cx="597.7" cy="294.9" r="3.05"/><circle cx="597.7" cy="292.7" r="3.05"/><circle cx="597.8" cy="296.3" r="3.05"/><circle cx="597.8" cy="291.7" r="3.05"/><circle cx="597.8" cy="288.7" r="3.05"/><circle cx="597.9" cy="290.0" r="3.05"/><circle cx="597.9" cy="286.0" r="3.05"/><circle cx="598.0" cy="285.6" r="3.05"/><circle cx="598.0" cy="291.3" r="3.05"/><circle cx="598.0" cy="293.7" r="3.05"/><circle cx="598.1" cy="294.6" r="3.05"/><circle cx="598.1" cy="289.5" r="3.05"/><circle cx="598.2" cy="299.3" r="3.05"/><circle cx="598.2" cy="294.5" r="3.05"/><circle cx="598.2" cy="299.1" r="3.05"/><circle cx="598.3" cy="301.8" r="3.05"/><circle cx="598.3" cy="306.4" r="3.05"/><circle cx="598.4" cy="297.1" r="3.05"/><circle cx="598.4" cy="300.2" r="3.05"/><circle cx="598.4" cy="307.6" r="3.05"/></g>
<g class="c" fill="#0b3535"><circle cx="599.8" cy="287.6" r="3.05"/><circle cx="599.8" cy="287.6" r="3.05"/><circle cx="599.9" cy="288.5" r="3.05"/><circle cx="599.9" cy="290.7" r="3.05"/><circle cx="599.9" cy="292.3" r="3.05"/><circle cx="600.0" cy="294.5" r="3.05"/><circle cx="600.0" cy="293.4" r="3.05"/><circle cx="600.1" cy="293.1" r="3.05"/><circle cx="600.1" cy="295.3" r="3.05"/><circle cx="600.1" cy="292.6" r="3.05"/><circle cx="600.2" cy="295.8" r="3.05"/><circle cx="600.2" cy="303.4" r="3.05"/><circle cx="600.3" cy="298.8" r="3.05"/><circle cx="600.3" cy="301.2" r="3.05"/><circle cx="600.3" cy="306.4" r="3.05"/><circle cx="600.4" cy="305.7" r="3.05"/><circle cx="600.4" cy="304.8" r="3.05"/><circle cx="600.5" cy="307.1" r="3.05"/><circle cx="600.5" cy="306.1" r="3.05"/><circle cx="600.6" cy="305.8" r="3.05"/><circle cx="600.6" cy="309.2" r="3.05"/><circle cx="600.6" cy="309.0" r="3.05"/><circle cx="600.7" cy="309.2" r="3.05"/><circle cx="600.7" cy="306.0" r="3.05"/><circle cx="600.8" cy="304.7" r="3.05"/><circle cx="600.8" cy="305.2" r="3.05"/><circle cx="600.8" cy="303.0" r="3.05"/><circle cx="600.9" cy="301.7" r="3.05"/><circle cx="600.9" cy="299.4" r="3.05"/><circle cx="601.0" cy="300.7" r="3.05"/><circle cx="601.0" cy="299.8" r="3.05"/><circle cx="601.0" cy="302.0" r="3.05"/><circle cx="601.1" cy="297.0" r="3.05"/><circle cx="601.1" cy="292.2" r="3.05"/><circle cx="601.2" cy="295.9" r="3.05"/><circle cx="601.2" cy="298.7" r="3.05"/><circle cx="601.3" cy="291.9" r="3.05"/><circle cx="601.3" cy="290.0" r="3.05"/><circle cx="601.3" cy="290.3" r="3.05"/><circle cx="601.4" cy="287.6" r="3.05"/></g>
<g class="c" fill="#0b3535"><circle cx="602.1" cy="301.6" r="3.05"/><circle cx="602.2" cy="305.4" r="3.05"/><circle cx="602.2" cy="309.7" r="3.05"/><circle cx="602.3" cy="309.7" r="3.05"/><circle cx="602.3" cy="309.7" r="3.05"/><circle cx="602.3" cy="307.2" r="3.05"/><circle cx="602.4" cy="304.3" r="3.05"/><circle cx="602.4" cy="303.5" r="3.05"/><circle cx="602.5" cy="304.8" r="3.05"/><circle cx="602.5" cy="300.1" r="3.05"/><circle cx="602.5" cy="300.8" r="3.05"/><circle cx="602.6" cy="300.6" r="3.05"/><circle cx="602.6" cy="295.1" r="3.05"/><circle cx="602.7" cy="294.4" r="3.05"/><circle cx="602.7" cy="295.3" r="3.05"/><circle cx="602.7" cy="292.9" r="3.05"/><circle cx="602.8" cy="291.2" r="3.05"/><circle cx="602.8" cy="288.9" r="3.05"/><circle cx="602.9" cy="288.6" r="3.05"/><circle cx="602.9" cy="291.4" r="3.05"/><circle cx="603.0" cy="291.7" r="3.05"/><circle cx="603.0" cy="287.3" r="3.05"/><circle cx="603.0" cy="291.6" r="3.05"/><circle cx="603.1" cy="293.1" r="3.05"/><circle cx="603.1" cy="294.4" r="3.05"/><circle cx="603.2" cy="292.7" r="3.05"/><circle cx="603.2" cy="296.8" r="3.05"/><circle cx="603.2" cy="298.8" r="3.05"/><circle cx="603.3" cy="298.4" r="3.05"/><circle cx="603.3" cy="301.9" r="3.05"/><circle cx="603.4" cy="297.3" r="3.05"/><circle cx="603.4" cy="300.7" r="3.05"/><circle cx="603.4" cy="305.7" r="3.05"/><circle cx="603.5" cy="307.7" r="3.05"/><circle cx="603.5" cy="307.9" r="3.05"/><circle cx="603.6" cy="308.6" r="3.05"/><circle cx="603.6" cy="308.8" r="3.05"/><circle cx="603.6" cy="309.4" r="3.05"/><circle cx="603.7" cy="307.6" r="3.05"/><circle cx="603.7" cy="304.0" r="3.05"/></g>
<g class="c" fill="#1a2830"><circle cx="604.5" cy="301.3" r="3.05"/><circle cx="604.5" cy="300.8" r="3.05"/><circle cx="604.6" cy="305.6" r="3.05"/><circle cx="604.6" cy="306.2" r="3.05"/><circle cx="604.6" cy="301.3" r="3.05"/><circle cx="604.7" cy="308.1" r="3.05"/><circle cx="604.7" cy="308.1" r="3.05"/><circle cx="604.8" cy="308.1" r="3.05"/><circle cx="604.8" cy="304.8" r="3.05"/><circle cx="604.9" cy="302.9" r="3.05"/><circle cx="604.9" cy="305.4" r="3.05"/><circle cx="604.9" cy="304.2" r="3.05"/><circle cx="605.0" cy="301.1" r="3.05"/><circle cx="605.0" cy="297.5" r="3.05"/><circle cx="605.1" cy="295.5" r="3.05"/><circle cx="605.1" cy="298.0" r="3.05"/><circle cx="605.1" cy="294.6" r="3.05"/><circle cx="605.2" cy="293.7" r="3.05"/><circle cx="605.2" cy="294.7" r="3.05"/><circle cx="605.3" cy="294.7" r="3.05"/><circle cx="605.3" cy="287.6" r="3.05"/><circle cx="605.3" cy="288.9" r="3.05"/><circle cx="605.4" cy="291.7" r="3.05"/><circle cx="605.4" cy="287.8" r="3.05"/><circle cx="605.5" cy="287.8" r="3.05"/><circle cx="605.5" cy="291.0" r="3.05"/><circle cx="605.6" cy="288.6" r="3.05"/><circle cx="605.6" cy="289.6" r="3.05"/><circle cx="605.6" cy="293.3" r="3.05"/><circle cx="605.7" cy="297.6" r="3.05"/><circle cx="605.7" cy="297.7" r="3.05"/><circle cx="605.8" cy="296.9" r="3.05"/><circle cx="605.8" cy="300.1" r="3.05"/><circle cx="605.8" cy="298.4" r="3.05"/><circle cx="605.9" cy="298.1" r="3.05"/><circle cx="605.9" cy="298.3" r="3.05"/><circle cx="606.0" cy="303.4" r="3.05"/><circle cx="606.0" cy="305.9" r="3.05"/><circle cx="606.0" cy="306.0" r="3.05"/><circle cx="606.1" cy="306.4" r="3.05"/></g>
<g class="c" fill="#17232a"><circle cx="606.8" cy="310.5" r="3.05"/><circle cx="606.9" cy="303.5" r="3.05"/><circle cx="606.9" cy="304.6" r="3.05"/><circle cx="607.0" cy="302.0" r="3.05"/><circle cx="607.0" cy="303.1" r="3.05"/><circle cx="607.0" cy="299.4" r="3.05"/><circle cx="607.1" cy="300.4" r="3.05"/><circle cx="607.1" cy="296.0" r="3.05"/><circle cx="607.2" cy="292.6" r="3.05"/><circle cx="607.2" cy="290.9" r="3.05"/><circle cx="607.3" cy="292.4" r="3.05"/><circle cx="607.3" cy="286.8" r="3.05"/><circle cx="607.3" cy="289.9" r="3.05"/><circle cx="607.4" cy="287.0" r="3.05"/><circle cx="607.4" cy="286.7" r="3.05"/><circle cx="607.5" cy="288.5" r="3.05"/><circle cx="607.5" cy="292.1" r="3.05"/><circle cx="607.5" cy="298.8" r="3.05"/><circle cx="607.6" cy="297.8" r="3.05"/><circle cx="607.6" cy="297.4" r="3.05"/><circle cx="607.7" cy="296.5" r="3.05"/><circle cx="607.7" cy="305.7" r="3.05"/><circle cx="607.7" cy="301.4" r="3.05"/><circle cx="607.8" cy="303.8" r="3.05"/><circle cx="607.8" cy="304.3" r="3.05"/><circle cx="607.9" cy="310.6" r="3.05"/><circle cx="607.9" cy="309.1" r="3.05"/><circle cx="607.9" cy="309.1" r="3.05"/><circle cx="608.0" cy="313.9" r="3.05"/><circle cx="608.0" cy="310.9" r="3.05"/><circle cx="608.1" cy="309.9" r="3.05"/><circle cx="608.1" cy="310.6" r="3.05"/><circle cx="608.2" cy="301.7" r="3.05"/><circle cx="608.2" cy="311.0" r="3.05"/><circle cx="608.2" cy="311.5" r="3.05"/><circle cx="608.3" cy="301.6" r="3.05"/><circle cx="608.3" cy="302.6" r="3.05"/><circle cx="608.4" cy="297.1" r="3.05"/><circle cx="608.4" cy="300.2" r="3.05"/><circle cx="608.4" cy="298.7" r="3.05"/></g>
<g class="c" fill="#17232a"><circle cx="609.2" cy="294.5" r="3.05"/><circle cx="609.2" cy="293.9" r="3.05"/><circle cx="609.3" cy="291.8" r="3.05"/><circle cx="609.3" cy="293.7" r="3.05"/><circle cx="609.4" cy="297.3" r="3.05"/><circle cx="609.4" cy="295.5" r="3.05"/><circle cx="609.4" cy="297.1" r="3.05"/><circle cx="609.5" cy="292.9" r="3.05"/><circle cx="609.5" cy="298.0" r="3.05"/><circle cx="609.6" cy="296.9" r="3.05"/><circle cx="609.6" cy="300.2" r="3.05"/><circle cx="609.6" cy="300.7" r="3.05"/><circle cx="609.7" cy="300.9" r="3.05"/><circle cx="609.7" cy="297.2" r="3.05"/><circle cx="609.8" cy="301.7" r="3.05"/><circle cx="609.8" cy="301.4" r="3.05"/><circle cx="609.9" cy="304.1" r="3.05"/><circle cx="609.9" cy="304.2" r="3.05"/><circle cx="609.9" cy="307.1" r="3.05"/><circle cx="610.0" cy="302.9" r="3.05"/><circle cx="610.0" cy="305.5" r="3.05"/><circle cx="610.1" cy="307.7" r="3.05"/><circle cx="610.1" cy="309.4" r="3.05"/><circle cx="610.1" cy="308.9" r="3.05"/><circle cx="610.2" cy="310.5" r="3.05"/><circle cx="610.2" cy="311.6" r="3.05"/><circle cx="610.3" cy="311.6" r="3.05"/><circle cx="610.3" cy="309.8" r="3.05"/><circle cx="610.3" cy="309.5" r="3.05"/><circle cx="610.4" cy="304.6" r="3.05"/><circle cx="610.4" cy="302.1" r="3.05"/><circle cx="610.5" cy="303.5" r="3.05"/><circle cx="610.5" cy="306.1" r="3.05"/><circle cx="610.5" cy="300.0" r="3.05"/><circle cx="610.6" cy="304.4" r="3.05"/><circle cx="610.6" cy="302.5" r="3.05"/><circle cx="610.7" cy="301.8" r="3.05"/><circle cx="610.7" cy="299.4" r="3.05"/><circle cx="610.8" cy="299.1" r="3.05"/><circle cx="610.8" cy="300.6" r="3.05"/></g>
<g class="c" fill="#003e00"><circle cx="611.6" cy="312.8" r="3.05"/><circle cx="611.6" cy="310.9" r="3.05"/><circle cx="611.6" cy="307.6" r="3.05"/><circle cx="611.7" cy="308.9" r="3.05"/><circle cx="611.7" cy="305.2" r="3.05"/><circle cx="611.8" cy="302.5" r="3.05"/><circle cx="611.8" cy="306.1" r="3.05"/><circle cx="611.8" cy="301.3" r="3.05"/><circle cx="611.9" cy="296.6" r="3.05"/><circle cx="611.9" cy="298.1" r="3.05"/><circle cx="612.0" cy="302.3" r="3.05"/><circle cx="612.0" cy="296.4" r="3.05"/><circle cx="612.0" cy="292.2" r="3.05"/><circle cx="612.1" cy="290.4" r="3.05"/><circle cx="612.1" cy="293.7" r="3.05"/><circle cx="612.2" cy="291.5" r="3.05"/><circle cx="612.2" cy="292.2" r="3.05"/><circle cx="612.2" cy="292.8" r="3.05"/><circle cx="612.3" cy="295.8" r="3.05"/><circle cx="612.3" cy="299.7" r="3.05"/><circle cx="612.4" cy="298.8" r="3.05"/><circle cx="612.4" cy="298.9" r="3.05"/><circle cx="612.5" cy="297.7" r="3.05"/><circle cx="612.5" cy="303.3" r="3.05"/><circle cx="612.5" cy="307.3" r="3.05"/><circle cx="612.6" cy="306.7" r="3.05"/><circle cx="612.6" cy="304.0" r="3.05"/><circle cx="612.7" cy="308.7" r="3.05"/><circle cx="612.7" cy="312.7" r="3.05"/><circle cx="612.7" cy="309.9" r="3.05"/><circle cx="612.8" cy="313.1" r="3.05"/><circle cx="612.8" cy="313.1" r="3.05"/><circle cx="612.9" cy="313.1" r="3.05"/><circle cx="612.9" cy="305.2" r="3.05"/><circle cx="612.9" cy="303.4" r="3.05"/><circle cx="613.0" cy="306.6" r="3.05"/><circle cx="613.0" cy="305.8" r="3.05"/><circle cx="613.1" cy="301.9" r="3.05"/><circle cx="613.1" cy="301.2" r="3.05"/><circle cx="613.2" cy="298.8" r="3.05"/></g>
<g fill="#000064"><circle cx="617.0" cy="319.8" r="2.92"/></g>
<g class="c" fill="#093309"><circle cx="613.9" cy="304.7" r="3.05"/><circle cx="613.9" cy="304.8" r="3.05"/><circle cx="614.0" cy="305.5" r="3.05"/><circle cx="614.0" cy="304.4" r="3.05"/><circle cx="614.1" cy="306.9" r="3.05"/><circle cx="614.1" cy="301.6" r="3.05"/><circle cx="614.2" cy="301.7" r="3.05"/><circle cx="614.2" cy="300.5" r="3.05"/><circle cx="614.2" cy="299.2" r="3.05"/><circle cx="614.3" cy="300.5" r="3.05"/><circle cx="614.3" cy="296.6" r="3.05"/><circle cx="614.4" cy="295.5" r="3.05"/><circle cx="614.4" cy="293.8" r="3.05"/><circle cx="614.4" cy="292.6" r="3.05"/><circle cx="614.5" cy="293.4" r="3.05"/><circle cx="614.5" cy="296.7" r="3.05"/><circle cx="614.6" cy="295.8" r="3.05"/><circle cx="614.6" cy="297.1" r="3.05"/><circle cx="614.6" cy="298.0" r="3.05"/><circle cx="614.7" cy="300.8" r="3.05"/><circle cx="614.7" cy="299.4" r="3.05"/><circle cx="614.8" cy="303.5" r="3.05"/><circle cx="614.8" cy="301.5" r="3.05"/><circle cx="614.8" cy="305.3" r="3.05"/><circle cx="614.9" cy="309.0" r="3.05"/><circle cx="614.9" cy="306.6" r="3.05"/><circle cx="615.0" cy="307.1" r="3.05"/><circle cx="615.0" cy="306.0" r="3.05"/><circle cx="615.1" cy="311.1" r="3.05"/><circle cx="615.1" cy="310.7" r="3.05"/><circle cx="615.1" cy="313.6" r="3.05"/><circle cx="615.2" cy="311.7" r="3.05"/><circle cx="615.2" cy="313.6" r="3.05"/><circle cx="615.3" cy="313.6" r="3.05"/><circle cx="615.3" cy="311.6" r="3.05"/><circle cx="615.3" cy="308.9" r="3.05"/><circle cx="615.4" cy="305.8" r="3.05"/><circle cx="615.4" cy="307.3" r="3.05"/><circle cx="615.5" cy="307.5" r="3.05"/><circle cx="615.5" cy="306.2" r="3.05"/></g>
<g class="c" fill="#7b0000"><circle cx="616.7" cy="280.8" r="3.05"/><circle cx="616.7" cy="291.8" r="3.05"/><circle cx="616.8" cy="287.9" r="3.05"/><circle cx="616.8" cy="293.5" r="3.05"/><circle cx="616.9" cy="285.1" r="3.05"/><circle cx="616.9" cy="296.9" r="3.05"/><circle cx="616.9" cy="296.1" r="3.05"/><circle cx="617.0" cy="296.6" r="3.05"/><circle cx="617.0" cy="299.4" r="3.05"/><circle cx="617.1" cy="300.3" r="3.05"/><circle cx="617.1" cy="306.0" r="3.05"/><circle cx="617.2" cy="304.1" r="3.05"/><circle cx="617.2" cy="297.6" r="3.05"/><circle cx="617.2" cy="299.1" r="3.05"/><circle cx="617.3" cy="311.4" r="3.05"/><circle cx="617.3" cy="307.6" r="3.05"/><circle cx="617.4" cy="311.9" r="3.05"/><circle cx="617.4" cy="310.0" r="3.05"/><circle cx="617.4" cy="309.1" r="3.05"/><circle cx="617.5" cy="308.6" r="3.05"/><circle cx="617.5" cy="309.1" r="3.05"/><circle cx="617.6" cy="307.1" r="3.05"/><circle cx="617.6" cy="302.9" r="3.05"/><circle cx="617.6" cy="305.0" r="3.05"/><circle cx="617.7" cy="303.7" r="3.05"/><circle cx="617.7" cy="297.2" r="3.05"/><circle cx="617.8" cy="295.0" r="3.05"/><circle cx="617.8" cy="290.7" r="3.05"/><circle cx="617.8" cy="294.4" r="3.05"/><circle cx="617.9" cy="293.8" r="3.05"/><circle cx="617.9" cy="290.0" r="3.05"/><circle cx="618.0" cy="288.7" r="3.05"/><circle cx="618.0" cy="288.6" r="3.05"/><circle cx="618.1" cy="287.5" r="3.05"/><circle cx="618.1" cy="287.6" r="3.05"/><circle cx="618.1" cy="286.9" r="3.05"/><circle cx="618.2" cy="284.0" r="3.05"/><circle cx="618.2" cy="284.6" r="3.05"/><circle cx="618.3" cy="279.6" r="3.05"/><circle cx="618.3" cy="283.3" r="3.05"/></g>
<g class="c" fill="#350000"><circle cx="618.6" cy="307.2" r="3.05"/><circle cx="618.7" cy="310.1" r="3.05"/><circle cx="618.7" cy="308.0" r="3.05"/><circle cx="618.7" cy="305.6" r="3.05"/><circle cx="618.8" cy="306.9" r="3.05"/><circle cx="618.8" cy="301.9" r="3.05"/><circle cx="618.9" cy="302.3" r="3.05"/><circle cx="618.9" cy="303.3" r="3.05"/><circle cx="618.9" cy="300.0" r="3.05"/><circle cx="619.0" cy="297.6" r="3.05"/><circle cx="619.0" cy="299.7" r="3.05"/><circle cx="619.1" cy="300.5" r="3.05"/><circle cx="619.1" cy="294.1" r="3.05"/><circle cx="619.1" cy="296.0" r="3.05"/><circle cx="619.2" cy="294.1" r="3.05"/><circle cx="619.2" cy="294.1" r="3.05"/><circle cx="619.3" cy="294.1" r="3.05"/><circle cx="619.3" cy="301.0" r="3.05"/><circle cx="619.4" cy="296.2" r="3.05"/><circle cx="619.4" cy="298.4" r="3.05"/><circle cx="619.4" cy="298.1" r="3.05"/><circle cx="619.5" cy="298.5" r="3.05"/><circle cx="619.5" cy="300.5" r="3.05"/><circle cx="619.6" cy="302.6" r="3.05"/><circle cx="619.6" cy="306.3" r="3.05"/><circle cx="619.6" cy="304.7" r="3.05"/><circle cx="619.7" cy="308.0" r="3.05"/><circle cx="619.7" cy="304.3" r="3.05"/><circle cx="619.8" cy="307.3" r="3.05"/><circle cx="619.8" cy="307.3" r="3.05"/><circle cx="619.8" cy="306.3" r="3.05"/><circle cx="619.9" cy="312.1" r="3.05"/><circle cx="619.9" cy="310.6" r="3.05"/><circle cx="620.0" cy="312.1" r="3.05"/><circle cx="620.0" cy="309.8" r="3.05"/><circle cx="620.1" cy="309.1" r="3.05"/><circle cx="620.1" cy="307.3" r="3.05"/><circle cx="620.1" cy="310.0" r="3.05"/><circle cx="620.2" cy="306.5" r="3.05"/><circle cx="620.2" cy="306.0" r="3.05"/></g>
<g class="c" fill="#3e3500"><circle cx="621.0" cy="298.5" r="3.05"/><circle cx="621.0" cy="298.3" r="3.05"/><circle cx="621.1" cy="300.3" r="3.05"/><circle cx="621.1" cy="302.3" r="3.05"/><circle cx="621.1" cy="304.4" r="3.05"/><circle cx="621.2" cy="301.8" r="3.05"/><circle cx="621.2" cy="306.5" r="3.05"/><circle cx="621.3" cy="303.2" r="3.05"/><circle cx="621.3" cy="306.0" r="3.05"/><circle cx="621.3" cy="307.8" r="3.05"/><circle cx="621.4" cy="308.9" r="3.05"/><circle cx="621.4" cy="304.1" r="3.05"/><circle cx="621.5" cy="308.5" r="3.05"/><circle cx="621.5" cy="311.3" r="3.05"/><circle cx="621.5" cy="314.8" r="3.05"/><circle cx="621.6" cy="312.2" r="3.05"/><circle cx="621.6" cy="315.6" r="3.05"/><circle cx="621.7" cy="311.4" r="3.05"/><circle cx="621.7" cy="314.5" r="3.05"/><circle cx="621.7" cy="314.4" r="3.05"/><circle cx="621.8" cy="312.2" r="3.05"/><circle cx="621.8" cy="311.7" r="3.05"/><circle cx="621.9" cy="312.1" r="3.05"/><circle cx="621.9" cy="307.3" r="3.05"/><circle cx="622.0" cy="309.3" r="3.05"/><circle cx="622.0" cy="309.3" r="3.05"/><circle cx="622.0" cy="305.4" r="3.05"/><circle cx="622.1" cy="299.8" r="3.05"/><circle cx="622.1" cy="301.2" r="3.05"/><circle cx="622.2" cy="300.9" r="3.05"/><circle cx="622.2" cy="299.4" r="3.05"/><circle cx="622.2" cy="301.6" r="3.05"/><circle cx="622.3" cy="297.9" r="3.05"/><circle cx="622.3" cy="304.0" r="3.05"/><circle cx="622.4" cy="298.8" r="3.05"/><circle cx="622.4" cy="293.6" r="3.05"/><circle cx="622.4" cy="294.8" r="3.05"/><circle cx="622.5" cy="297.7" r="3.05"/><circle cx="622.5" cy="294.9" r="3.05"/><circle cx="622.6" cy="293.4" r="3.05"/></g>
<g class="c" fill="#3e3500"><circle cx="623.3" cy="302.2" r="3.05"/><circle cx="623.4" cy="301.4" r="3.05"/><circle cx="623.4" cy="302.6" r="3.05"/><circle cx="623.4" cy="305.2" r="3.05"/><circle cx="623.5" cy="304.9" r="3.05"/><circle cx="623.5" cy="304.8" r="3.05"/><circle cx="623.6" cy="306.2" r="3.05"/><circle cx="623.6" cy="307.9" r="3.05"/><circle cx="623.7" cy="307.9" r="3.05"/><circle cx="623.7" cy="307.9" r="3.05"/><circle cx="623.7" cy="307.8" r="3.05"/><circle cx="623.8" cy="304.3" r="3.05"/><circle cx="623.8" cy="306.1" r="3.05"/><circle cx="623.9" cy="304.5" r="3.05"/><circle cx="623.9" cy="305.5" r="3.05"/><circle cx="623.9" cy="302.9" r="3.05"/><circle cx="624.0" cy="303.7" r="3.05"/><circle cx="624.0" cy="300.8" r="3.05"/><circle cx="624.1" cy="302.9" r="3.05"/><circle cx="624.1" cy="299.9" r="3.05"/><circle cx="624.1" cy="300.2" r="3.05"/><circle cx="624.2" cy="300.3" r="3.05"/><circle cx="624.2" cy="298.3" r="3.05"/><circle cx="624.3" cy="298.1" r="3.05"/><circle cx="624.3" cy="298.9" r="3.05"/><circle cx="624.4" cy="299.2" r="3.05"/><circle cx="624.4" cy="293.4" r="3.05"/><circle cx="624.4" cy="294.0" r="3.05"/><circle cx="624.5" cy="295.5" r="3.05"/><circle cx="624.5" cy="295.2" r="3.05"/><circle cx="624.6" cy="293.4" r="3.05"/><circle cx="624.6" cy="294.5" r="3.05"/><circle cx="624.6" cy="294.8" r="3.05"/><circle cx="624.7" cy="299.0" r="3.05"/><circle cx="624.7" cy="296.2" r="3.05"/><circle cx="624.8" cy="295.5" r="3.05"/><circle cx="624.8" cy="295.7" r="3.05"/><circle cx="624.8" cy="296.8" r="3.05"/><circle cx="624.9" cy="301.2" r="3.05"/><circle cx="624.9" cy="299.5" r="3.05"/></g>
<g fill="#e60000"><circle cx="625.3" cy="309.5" r="2.92"/></g>
<g class="c" fill="#463c00"><circle cx="625.7" cy="308.5" r="3.05"/><circle cx="625.7" cy="306.3" r="3.05"/><circle cx="625.8" cy="305.5" r="3.05"/><circle cx="625.8" cy="305.9" r="3.05"/><circle cx="625.8" cy="304.5" r="3.05"/><circle cx="625.9" cy="302.0" r="3.05"/><circle cx="625.9" cy="302.2" r="3.05"/><circle cx="626.0" cy="305.8" r="3.05"/><circle cx="626.0" cy="305.7" r="3.05"/><circle cx="626.0" cy="299.6" r="3.05"/><circle cx="626.1" cy="301.0" r="3.05"/><circle cx="626.1" cy="299.5" r="3.05"/><circle cx="626.2" cy="297.3" r="3.05"/><circle cx="626.2" cy="299.3" r="3.05"/><circle cx="626.3" cy="297.2" r="3.05"/><circle cx="626.3" cy="299.5" r="3.05"/><circle cx="626.3" cy="296.6" r="3.05"/><circle cx="626.4" cy="294.4" r="3.05"/><circle cx="626.4" cy="290.4" r="3.05"/><circle cx="626.5" cy="293.3" r="3.05"/><circle cx="626.5" cy="294.2" r="3.05"/><circle cx="626.5" cy="290.7" r="3.05"/><circle cx="626.6" cy="292.7" r="3.05"/><circle cx="626.6" cy="291.6" r="3.05"/><circle cx="626.7" cy="290.4" r="3.05"/><circle cx="626.7" cy="291.5" r="3.05"/><circle cx="626.7" cy="293.2" r="3.05"/><circle cx="626.8" cy="294.7" r="3.05"/><circle cx="626.8" cy="294.4" r="3.05"/><circle cx="626.9" cy="294.9" r="3.05"/><circle cx="626.9" cy="295.1" r="3.05"/><circle cx="627.0" cy="295.9" r="3.05"/><circle cx="627.0" cy="297.2" r="3.05"/><circle cx="627.0" cy="296.1" r="3.05"/><circle cx="627.1" cy="299.9" r="3.05"/><circle cx="627.1" cy="298.9" r="3.05"/><circle cx="627.2" cy="301.2" r="3.05"/><circle cx="627.2" cy="300.1" r="3.05"/><circle cx="627.2" cy="302.5" r="3.05"/><circle cx="627.3" cy="302.8" r="3.05"/></g>
<g class="c" fill="#003e46"><circle cx="628.0" cy="290.8" r="3.05"/><circle cx="628.1" cy="288.4" r="3.05"/><circle cx="628.1" cy="292.0" r="3.05"/><circle cx="628.2" cy="295.8" r="3.05"/><circle cx="628.2" cy="296.3" r="3.05"/><circle cx="628.2" cy="294.2" r="3.05"/><circle cx="628.3" cy="297.8" r="3.05"/><circle cx="628.3" cy="300.0" r="3.05"/><circle cx="628.4" cy="296.9" r="3.05"/><circle cx="628.4" cy="301.6" r="3.05"/><circle cx="628.4" cy="302.8" r="3.05"/><circle cx="628.5" cy="304.9" r="3.05"/><circle cx="628.5" cy="305.2" r="3.05"/><circle cx="628.6" cy="302.2" r="3.05"/><circle cx="628.6" cy="302.9" r="3.05"/><circle cx="628.7" cy="309.4" r="3.05"/><circle cx="628.7" cy="308.4" r="3.05"/><circle cx="628.7" cy="309.4" r="3.05"/><circle cx="628.8" cy="309.4" r="3.05"/><circle cx="628.8" cy="305.7" r="3.05"/><circle cx="628.9" cy="301.9" r="3.05"/><circle cx="628.9" cy="305.9" r="3.05"/><circle cx="628.9" cy="301.8" r="3.05"/><circle cx="629.0" cy="301.7" r="3.05"/><circle cx="629.0" cy="300.4" r="3.05"/><circle cx="629.1" cy="300.1" r="3.05"/><circle cx="629.1" cy="299.0" r="3.05"/><circle cx="629.1" cy="292.7" r="3.05"/><circle cx="629.2" cy="291.5" r="3.05"/><circle cx="629.2" cy="293.5" r="3.05"/><circle cx="629.3" cy="292.0" r="3.05"/><circle cx="629.3" cy="292.4" r="3.05"/><circle cx="629.3" cy="289.2" r="3.05"/><circle cx="629.4" cy="288.4" r="3.05"/><circle cx="629.4" cy="293.9" r="3.05"/><circle cx="629.5" cy="293.8" r="3.05"/><circle cx="629.5" cy="294.6" r="3.05"/><circle cx="629.6" cy="295.6" r="3.05"/><circle cx="629.6" cy="293.0" r="3.05"/><circle cx="629.6" cy="295.7" r="3.05"/></g>
<g class="c" fill="#4f2c00"><circle cx="630.4" cy="309.3" r="3.05"/><circle cx="630.4" cy="308.2" r="3.05"/><circle cx="630.5" cy="305.1" r="3.05"/><circle cx="630.5" cy="303.5" r="3.05"/><circle cx="630.6" cy="304.2" r="3.05"/><circle cx="630.6" cy="302.6" r="3.05"/><circle cx="630.6" cy="300.9" r="3.05"/><circle cx="630.7" cy="295.8" r="3.05"/><circle cx="630.7" cy="293.5" r="3.05"/><circle cx="630.8" cy="300.5" r="3.05"/><circle cx="630.8" cy="292.9" r="3.05"/><circle cx="630.8" cy="292.2" r="3.05"/><circle cx="630.9" cy="287.4" r="3.05"/><circle cx="630.9" cy="288.3" r="3.05"/><circle cx="631.0" cy="287.1" r="3.05"/><circle cx="631.0" cy="289.2" r="3.05"/><circle cx="631.0" cy="285.9" r="3.05"/><circle cx="631.1" cy="285.9" r="3.05"/><circle cx="631.1" cy="287.7" r="3.05"/><circle cx="631.2" cy="288.9" r="3.05"/><circle cx="631.2" cy="289.7" r="3.05"/><circle cx="631.3" cy="291.9" r="3.05"/><circle cx="631.3" cy="290.7" r="3.05"/><circle cx="631.3" cy="296.3" r="3.05"/><circle cx="631.4" cy="299.9" r="3.05"/><circle cx="631.4" cy="298.9" r="3.05"/><circle cx="631.5" cy="298.7" r="3.05"/><circle cx="631.5" cy="304.3" r="3.05"/><circle cx="631.5" cy="303.9" r="3.05"/><circle cx="631.6" cy="301.8" r="3.05"/><circle cx="631.6" cy="304.2" r="3.05"/><circle cx="631.7" cy="305.6" r="3.05"/><circle cx="631.7" cy="308.3" r="3.05"/><circle cx="631.7" cy="309.3" r="3.05"/><circle cx="631.8" cy="305.8" r="3.05"/><circle cx="631.8" cy="305.6" r="3.05"/><circle cx="631.9" cy="304.8" r="3.05"/><circle cx="631.9" cy="300.4" r="3.05"/><circle cx="631.9" cy="300.7" r="3.05"/><circle cx="632.0" cy="301.8" r="3.05"/></g>
<g class="c" fill="#2c004f"><circle cx="632.7" cy="306.6" r="3.05"/><circle cx="632.8" cy="303.5" r="3.05"/><circle cx="632.8" cy="302.2" r="3.05"/><circle cx="632.9" cy="301.3" r="3.05"/><circle cx="632.9" cy="300.1" r="3.05"/><circle cx="633.0" cy="301.9" r="3.05"/><circle cx="633.0" cy="301.4" r="3.05"/><circle cx="633.0" cy="301.3" r="3.05"/><circle cx="633.1" cy="300.3" r="3.05"/><circle cx="633.1" cy="297.7" r="3.05"/><circle cx="633.2" cy="298.5" r="3.05"/><circle cx="633.2" cy="298.2" r="3.05"/><circle cx="633.2" cy="298.2" r="3.05"/><circle cx="633.3" cy="298.4" r="3.05"/><circle cx="633.3" cy="298.7" r="3.05"/><circle cx="633.4" cy="296.9" r="3.05"/><circle cx="633.4" cy="295.1" r="3.05"/><circle cx="633.4" cy="295.1" r="3.05"/><circle cx="633.5" cy="295.1" r="3.05"/><circle cx="633.5" cy="295.1" r="3.05"/><circle cx="633.6" cy="295.1" r="3.05"/><circle cx="633.6" cy="296.7" r="3.05"/><circle cx="633.6" cy="296.6" r="3.05"/><circle cx="633.7" cy="298.6" r="3.05"/><circle cx="633.7" cy="299.1" r="3.05"/><circle cx="633.8" cy="297.8" r="3.05"/><circle cx="633.8" cy="299.8" r="3.05"/><circle cx="633.9" cy="299.2" r="3.05"/><circle cx="633.9" cy="300.2" r="3.05"/><circle cx="633.9" cy="301.7" r="3.05"/><circle cx="634.0" cy="299.3" r="3.05"/><circle cx="634.0" cy="301.0" r="3.05"/><circle cx="634.1" cy="303.3" r="3.05"/><circle cx="634.1" cy="301.2" r="3.05"/><circle cx="634.1" cy="302.7" r="3.05"/><circle cx="634.2" cy="303.1" r="3.05"/><circle cx="634.2" cy="302.9" r="3.05"/><circle cx="634.3" cy="302.4" r="3.05"/><circle cx="634.3" cy="303.6" r="3.05"/><circle cx="634.3" cy="303.7" r="3.05"/></g>
<g class="c" fill="#350909"><circle cx="635.6" cy="310.1" r="3.05"/><circle cx="635.6" cy="308.1" r="3.05"/><circle cx="635.7" cy="308.7" r="3.05"/><circle cx="635.7" cy="303.9" r="3.05"/><circle cx="635.8" cy="305.7" r="3.05"/><circle cx="635.8" cy="305.5" r="3.05"/><circle cx="635.8" cy="305.2" r="3.05"/><circle cx="635.9" cy="298.5" r="3.05"/><circle cx="635.9" cy="296.8" r="3.05"/><circle cx="636.0" cy="294.9" r="3.05"/><circle cx="636.0" cy="298.5" r="3.05"/><circle cx="636.1" cy="296.5" r="3.05"/><circle cx="636.1" cy="294.7" r="3.05"/><circle cx="636.1" cy="293.0" r="3.05"/><circle cx="636.2" cy="297.0" r="3.05"/><circle cx="636.2" cy="298.9" r="3.05"/><circle cx="636.3" cy="296.9" r="3.05"/><circle cx="636.3" cy="298.0" r="3.05"/><circle cx="636.3" cy="301.8" r="3.05"/><circle cx="636.4" cy="301.7" r="3.05"/><circle cx="636.4" cy="304.7" r="3.05"/><circle cx="636.5" cy="302.4" r="3.05"/><circle cx="636.5" cy="305.2" r="3.05"/><circle cx="636.5" cy="305.1" r="3.05"/><circle cx="636.6" cy="305.9" r="3.05"/><circle cx="636.6" cy="307.7" r="3.05"/><circle cx="636.7" cy="308.9" r="3.05"/><circle cx="636.7" cy="311.7" r="3.05"/><circle cx="636.7" cy="311.4" r="3.05"/><circle cx="636.8" cy="313.2" r="3.05"/><circle cx="636.8" cy="310.3" r="3.05"/><circle cx="636.9" cy="308.2" r="3.05"/><circle cx="636.9" cy="312.2" r="3.05"/><circle cx="637.0" cy="306.2" r="3.05"/><circle cx="637.0" cy="310.5" r="3.05"/><circle cx="637.0" cy="307.5" r="3.05"/><circle cx="637.1" cy="299.8" r="3.05"/><circle cx="637.1" cy="301.9" r="3.05"/><circle cx="637.2" cy="301.0" r="3.05"/><circle cx="637.2" cy="300.7" r="3.05"/></g>
<g class="c" fill="#234100"><circle cx="637.5" cy="306.2" r="3.05"/><circle cx="637.5" cy="307.4" r="3.05"/><circle cx="637.5" cy="305.4" r="3.05"/><circle cx="637.6" cy="303.4" r="3.05"/><circle cx="637.6" cy="303.8" r="3.05"/><circle cx="637.7" cy="304.6" r="3.05"/><circle cx="637.7" cy="302.0" r="3.05"/><circle cx="637.7" cy="300.3" r="3.05"/><circle cx="637.8" cy="301.3" r="3.05"/><circle cx="637.8" cy="300.9" r="3.05"/><circle cx="637.9" cy="298.3" r="3.05"/><circle cx="637.9" cy="297.3" r="3.05"/><circle cx="637.9" cy="296.3" r="3.05"/><circle cx="638.0" cy="299.6" r="3.05"/><circle cx="638.0" cy="294.8" r="3.05"/><circle cx="638.1" cy="296.5" r="3.05"/><circle cx="638.1" cy="293.3" r="3.05"/><circle cx="638.2" cy="294.9" r="3.05"/><circle cx="638.2" cy="293.3" r="3.05"/><circle cx="638.2" cy="296.4" r="3.05"/><circle cx="638.3" cy="297.1" r="3.05"/><circle cx="638.3" cy="297.5" r="3.05"/><circle cx="638.4" cy="298.3" r="3.05"/><circle cx="638.4" cy="297.9" r="3.05"/><circle cx="638.4" cy="298.6" r="3.05"/><circle cx="638.5" cy="301.8" r="3.05"/><circle cx="638.5" cy="301.6" r="3.05"/><circle cx="638.6" cy="303.2" r="3.05"/><circle cx="638.6" cy="304.0" r="3.05"/><circle cx="638.6" cy="304.4" r="3.05"/><circle cx="638.7" cy="305.0" r="3.05"/><circle cx="638.7" cy="307.4" r="3.05"/><circle cx="638.8" cy="305.5" r="3.05"/><circle cx="638.8" cy="305.4" r="3.05"/><circle cx="638.8" cy="304.8" r="3.05"/><circle cx="638.9" cy="302.7" r="3.05"/><circle cx="638.9" cy="302.1" r="3.05"/><circle cx="639.0" cy="303.7" r="3.05"/><circle cx="639.0" cy="302.9" r="3.05"/><circle cx="639.1" cy="300.9" r="3.05"/></g>
<g fill="#7cfc00"><circle cx="639.5" cy="308.5" r="2.92"/></g>
<g fill="#ff8c00"><circle cx="641.3" cy="291.5" r="2.92"/></g>
<g class="c" fill="#234100"><circle cx="639.8" cy="299.9" r="3.05"/><circle cx="639.9" cy="297.8" r="3.05"/><circle cx="639.9" cy="300.1" r="3.05"/><circle cx="639.9" cy="296.1" r="3.05"/><circle cx="640.0" cy="295.1" r="3.05"/><circle cx="640.0" cy="295.9" r="3.05"/><circle cx="640.1" cy="295.0" r="3.05"/><circle cx="640.1" cy="296.0" r="3.05"/><circle cx="640.1" cy="295.0" r="3.05"/><circle cx="640.2" cy="296.4" r="3.05"/><circle cx="640.2" cy="295.0" r="3.05"/><circle cx="640.3" cy="297.4" r="3.05"/><circle cx="640.3" cy="299.4" r="3.05"/><circle cx="640.3" cy="298.2" r="3.05"/><circle cx="640.4" cy="299.5" r="3.05"/><circle cx="640.4" cy="301.1" r="3.05"/><circle cx="640.5" cy="298.9" r="3.05"/><circle cx="640.5" cy="299.2" r="3.05"/><circle cx="640.5" cy="301.5" r="3.05"/><circle cx="640.6" cy="302.4" r="3.05"/><circle cx="640.6" cy="302.2" r="3.05"/><circle cx="640.7" cy="301.9" r="3.05"/><circle cx="640.7" cy="305.3" r="3.05"/><circle cx="640.8" cy="302.8" r="3.05"/><circle cx="640.8" cy="304.5" r="3.05"/><circle cx="640.8" cy="305.4" r="3.05"/><circle cx="640.9" cy="306.9" r="3.05"/><circle cx="640.9" cy="306.0" r="3.05"/><circle cx="641.0" cy="306.1" r="3.05"/><circle cx="641.0" cy="308.3" r="3.05"/><circle cx="641.0" cy="307.2" r="3.05"/><circle cx="641.1" cy="308.3" r="3.05"/><circle cx="641.1" cy="307.0" r="3.05"/><circle cx="641.2" cy="306.0" r="3.05"/><circle cx="641.2" cy="306.0" r="3.05"/><circle cx="641.2" cy="305.1" r="3.05"/><circle cx="641.3" cy="305.3" r="3.05"/><circle cx="641.3" cy="301.0" r="3.05"/><circle cx="641.4" cy="303.7" r="3.05"/><circle cx="641.4" cy="303.3" r="3.05"/></g>
<g class="c" fill="#462309"><circle cx="642.2" cy="296.0" r="3.05"/><circle cx="642.2" cy="294.4" r="3.05"/><circle cx="642.2" cy="296.5" r="3.05"/><circle cx="642.3" cy="292.9" r="3.05"/><circle cx="642.3" cy="291.6" r="3.05"/><circle cx="642.4" cy="293.4" r="3.05"/><circle cx="642.4" cy="290.5" r="3.05"/><circle cx="642.5" cy="290.5" r="3.05"/><circle cx="642.5" cy="293.0" r="3.05"/><circle cx="642.5" cy="290.5" r="3.05"/><circle cx="642.6" cy="291.9" r="3.05"/><circle cx="642.6" cy="292.8" r="3.05"/><circle cx="642.7" cy="293.7" r="3.05"/><circle cx="642.7" cy="291.6" r="3.05"/><circle cx="642.7" cy="294.2" r="3.05"/><circle cx="642.8" cy="294.7" r="3.05"/><circle cx="642.8" cy="299.0" r="3.05"/><circle cx="642.9" cy="298.2" r="3.05"/><circle cx="642.9" cy="296.0" r="3.05"/><circle cx="642.9" cy="299.3" r="3.05"/><circle cx="643.0" cy="299.6" r="3.05"/><circle cx="643.0" cy="299.0" r="3.05"/><circle cx="643.1" cy="299.4" r="3.05"/><circle cx="643.1" cy="300.0" r="3.05"/><circle cx="643.1" cy="298.6" r="3.05"/><circle cx="643.2" cy="300.8" r="3.05"/><circle cx="643.2" cy="304.0" r="3.05"/><circle cx="643.3" cy="305.4" r="3.05"/><circle cx="643.3" cy="306.7" r="3.05"/><circle cx="643.4" cy="303.8" r="3.05"/><circle cx="643.4" cy="306.1" r="3.05"/><circle cx="643.4" cy="301.9" r="3.05"/><circle cx="643.5" cy="305.9" r="3.05"/><circle cx="643.5" cy="304.7" r="3.05"/><circle cx="643.6" cy="306.9" r="3.05"/><circle cx="643.6" cy="302.8" r="3.05"/><circle cx="643.6" cy="303.1" r="3.05"/><circle cx="643.7" cy="302.4" r="3.05"/><circle cx="643.7" cy="304.1" r="3.05"/><circle cx="643.8" cy="304.2" r="3.05"/></g>
<g class="c" fill="#4f250b"><circle cx="644.9" cy="299.5" r="3.05"/><circle cx="644.9" cy="298.9" r="3.05"/><circle cx="644.9" cy="299.3" r="3.05"/><circle cx="645.0" cy="305.5" r="3.05"/><circle cx="645.0" cy="304.6" r="3.05"/><circle cx="645.1" cy="301.9" r="3.05"/><circle cx="645.1" cy="307.0" r="3.05"/><circle cx="645.1" cy="308.6" r="3.05"/><circle cx="645.2" cy="306.0" r="3.05"/><circle cx="645.2" cy="308.2" r="3.05"/><circle cx="645.3" cy="309.7" r="3.05"/><circle cx="645.3" cy="307.3" r="3.05"/><circle cx="645.3" cy="316.6" r="3.05"/><circle cx="645.4" cy="316.2" r="3.05"/><circle cx="645.4" cy="317.1" r="3.05"/><circle cx="645.5" cy="312.9" r="3.05"/><circle cx="645.5" cy="312.8" r="3.05"/><circle cx="645.5" cy="312.7" r="3.05"/><circle cx="645.6" cy="311.6" r="3.05"/><circle cx="645.6" cy="308.4" r="3.05"/><circle cx="645.7" cy="303.4" r="3.05"/><circle cx="645.7" cy="309.7" r="3.05"/><circle cx="645.8" cy="304.7" r="3.05"/><circle cx="645.8" cy="304.3" r="3.05"/><circle cx="645.8" cy="303.3" r="3.05"/><circle cx="645.9" cy="301.1" r="3.05"/><circle cx="645.9" cy="297.0" r="3.05"/><circle cx="646.0" cy="295.5" r="3.05"/><circle cx="646.0" cy="294.2" r="3.05"/><circle cx="646.0" cy="292.2" r="3.05"/><circle cx="646.1" cy="297.0" r="3.05"/><circle cx="646.1" cy="294.3" r="3.05"/><circle cx="646.2" cy="299.4" r="3.05"/><circle cx="646.2" cy="297.5" r="3.05"/><circle cx="646.2" cy="303.4" r="3.05"/><circle cx="646.3" cy="302.1" r="3.05"/><circle cx="646.3" cy="311.0" r="3.05"/><circle cx="646.4" cy="307.1" r="3.05"/><circle cx="646.4" cy="309.5" r="3.05"/><circle cx="646.4" cy="307.7" r="3.05"/></g>
<g class="c" fill="#122341"><circle cx="646.9" cy="304.7" r="3.05"/><circle cx="646.9" cy="305.0" r="3.05"/><circle cx="647.0" cy="309.3" r="3.05"/><circle cx="647.0" cy="308.1" r="3.05"/><circle cx="647.0" cy="311.1" r="3.05"/><circle cx="647.1" cy="311.9" r="3.05"/><circle cx="647.1" cy="312.5" r="3.05"/><circle cx="647.2" cy="313.2" r="3.05"/><circle cx="647.2" cy="310.2" r="3.05"/><circle cx="647.2" cy="307.6" r="3.05"/><circle cx="647.3" cy="309.9" r="3.05"/><circle cx="647.3" cy="306.8" r="3.05"/><circle cx="647.4" cy="302.5" r="3.05"/><circle cx="647.4" cy="303.5" r="3.05"/><circle cx="647.4" cy="303.3" r="3.05"/><circle cx="647.5" cy="302.3" r="3.05"/><circle cx="647.5" cy="300.6" r="3.05"/><circle cx="647.6" cy="298.8" r="3.05"/><circle cx="647.6" cy="298.1" r="3.05"/><circle cx="647.7" cy="294.0" r="3.05"/><circle cx="647.7" cy="291.7" r="3.05"/><circle cx="647.7" cy="293.5" r="3.05"/><circle cx="647.8" cy="291.0" r="3.05"/><circle cx="647.8" cy="293.1" r="3.05"/><circle cx="647.9" cy="296.2" r="3.05"/><circle cx="647.9" cy="298.4" r="3.05"/><circle cx="647.9" cy="300.6" r="3.05"/><circle cx="648.0" cy="297.7" r="3.05"/><circle cx="648.0" cy="300.0" r="3.05"/><circle cx="648.1" cy="303.7" r="3.05"/><circle cx="648.1" cy="300.6" r="3.05"/><circle cx="648.1" cy="302.5" r="3.05"/><circle cx="648.2" cy="308.4" r="3.05"/><circle cx="648.2" cy="307.1" r="3.05"/><circle cx="648.3" cy="307.9" r="3.05"/><circle cx="648.3" cy="313.5" r="3.05"/><circle cx="648.4" cy="314.4" r="3.05"/><circle cx="648.4" cy="314.9" r="3.05"/><circle cx="648.4" cy="312.8" r="3.05"/><circle cx="648.5" cy="311.4" r="3.05"/></g>
<g class="c" fill="#003835"><circle cx="649.2" cy="298.3" r="3.05"/><circle cx="649.3" cy="304.5" r="3.05"/><circle cx="649.3" cy="306.6" r="3.05"/><circle cx="649.4" cy="305.6" r="3.05"/><circle cx="649.4" cy="305.3" r="3.05"/><circle cx="649.4" cy="314.5" r="3.05"/><circle cx="649.5" cy="308.8" r="3.05"/><circle cx="649.5" cy="314.5" r="3.05"/><circle cx="649.6" cy="308.9" r="3.05"/><circle cx="649.6" cy="314.4" r="3.05"/><circle cx="649.6" cy="313.3" r="3.05"/><circle cx="649.7" cy="314.5" r="3.05"/><circle cx="649.7" cy="314.5" r="3.05"/><circle cx="649.8" cy="312.3" r="3.05"/><circle cx="649.8" cy="306.5" r="3.05"/><circle cx="649.8" cy="305.7" r="3.05"/><circle cx="649.9" cy="304.6" r="3.05"/><circle cx="649.9" cy="303.9" r="3.05"/><circle cx="650.0" cy="304.4" r="3.05"/><circle cx="650.0" cy="300.8" r="3.05"/><circle cx="650.1" cy="300.8" r="3.05"/><circle cx="650.1" cy="303.5" r="3.05"/><circle cx="650.1" cy="302.2" r="3.05"/><circle cx="650.2" cy="293.4" r="3.05"/><circle cx="650.2" cy="294.2" r="3.05"/><circle cx="650.3" cy="294.3" r="3.05"/><circle cx="650.3" cy="296.9" r="3.05"/><circle cx="650.3" cy="291.1" r="3.05"/><circle cx="650.4" cy="295.8" r="3.05"/><circle cx="650.4" cy="292.9" r="3.05"/><circle cx="650.5" cy="296.6" r="3.05"/><circle cx="650.5" cy="292.6" r="3.05"/><circle cx="650.5" cy="295.1" r="3.05"/><circle cx="650.6" cy="299.4" r="3.05"/><circle cx="650.6" cy="299.6" r="3.05"/><circle cx="650.7" cy="295.2" r="3.05"/><circle cx="650.7" cy="300.1" r="3.05"/><circle cx="650.7" cy="302.4" r="3.05"/><circle cx="650.8" cy="304.6" r="3.05"/><circle cx="650.8" cy="303.0" r="3.05"/></g>
<g class="c" fill="#003835"><circle cx="651.6" cy="296.6" r="3.05"/><circle cx="651.6" cy="293.7" r="3.05"/><circle cx="651.7" cy="300.7" r="3.05"/><circle cx="651.7" cy="301.3" r="3.05"/><circle cx="651.7" cy="302.5" r="3.05"/><circle cx="651.8" cy="300.6" r="3.05"/><circle cx="651.8" cy="300.2" r="3.05"/><circle cx="651.9" cy="302.3" r="3.05"/><circle cx="651.9" cy="303.3" r="3.05"/><circle cx="652.0" cy="304.7" r="3.05"/><circle cx="652.0" cy="307.7" r="3.05"/><circle cx="652.0" cy="304.5" r="3.05"/><circle cx="652.1" cy="306.3" r="3.05"/><circle cx="652.1" cy="309.5" r="3.05"/><circle cx="652.2" cy="310.9" r="3.05"/><circle cx="652.2" cy="314.4" r="3.05"/><circle cx="652.2" cy="311.7" r="3.05"/><circle cx="652.3" cy="309.7" r="3.05"/><circle cx="652.3" cy="310.1" r="3.05"/><circle cx="652.4" cy="311.5" r="3.05"/><circle cx="652.4" cy="314.1" r="3.05"/><circle cx="652.4" cy="315.0" r="3.05"/><circle cx="652.5" cy="314.2" r="3.05"/><circle cx="652.5" cy="312.3" r="3.05"/><circle cx="652.6" cy="312.3" r="3.05"/><circle cx="652.6" cy="311.7" r="3.05"/><circle cx="652.7" cy="312.3" r="3.05"/><circle cx="652.7" cy="310.3" r="3.05"/><circle cx="652.7" cy="307.7" r="3.05"/><circle cx="652.8" cy="306.1" r="3.05"/><circle cx="652.8" cy="310.8" r="3.05"/><circle cx="652.9" cy="306.6" r="3.05"/><circle cx="652.9" cy="305.6" r="3.05"/><circle cx="652.9" cy="305.1" r="3.05"/><circle cx="653.0" cy="306.7" r="3.05"/><circle cx="653.0" cy="302.8" r="3.05"/><circle cx="653.1" cy="303.0" r="3.05"/><circle cx="653.1" cy="301.3" r="3.05"/><circle cx="653.1" cy="302.2" r="3.05"/><circle cx="653.2" cy="298.0" r="3.05"/></g>
<g class="c" fill="#463000"><circle cx="654.6" cy="304.9" r="3.05"/><circle cx="654.6" cy="302.5" r="3.05"/><circle cx="654.7" cy="303.2" r="3.05"/><circle cx="654.7" cy="293.6" r="3.05"/><circle cx="654.8" cy="292.5" r="3.05"/><circle cx="654.8" cy="297.1" r="3.05"/><circle cx="654.8" cy="292.3" r="3.05"/><circle cx="654.9" cy="290.3" r="3.05"/><circle cx="654.9" cy="287.3" r="3.05"/><circle cx="655.0" cy="293.5" r="3.05"/><circle cx="655.0" cy="283.6" r="3.05"/><circle cx="655.1" cy="286.3" r="3.05"/><circle cx="655.1" cy="282.5" r="3.05"/><circle cx="655.1" cy="282.5" r="3.05"/><circle cx="655.2" cy="290.4" r="3.05"/><circle cx="655.2" cy="292.6" r="3.05"/><circle cx="655.3" cy="284.7" r="3.05"/><circle cx="655.3" cy="284.6" r="3.05"/><circle cx="655.3" cy="294.2" r="3.05"/><circle cx="655.4" cy="287.9" r="3.05"/><circle cx="655.4" cy="286.5" r="3.05"/><circle cx="655.5" cy="294.6" r="3.05"/><circle cx="655.5" cy="291.5" r="3.05"/><circle cx="655.5" cy="291.8" r="3.05"/><circle cx="655.6" cy="301.3" r="3.05"/><circle cx="655.6" cy="297.0" r="3.05"/><circle cx="655.7" cy="297.3" r="3.05"/><circle cx="655.7" cy="302.7" r="3.05"/><circle cx="655.7" cy="302.9" r="3.05"/><circle cx="655.8" cy="308.5" r="3.05"/><circle cx="655.8" cy="306.7" r="3.05"/><circle cx="655.9" cy="312.9" r="3.05"/><circle cx="655.9" cy="312.8" r="3.05"/><circle cx="656.0" cy="314.7" r="3.05"/><circle cx="656.0" cy="314.7" r="3.05"/><circle cx="656.0" cy="313.8" r="3.05"/><circle cx="656.1" cy="314.7" r="3.05"/><circle cx="656.1" cy="313.0" r="3.05"/><circle cx="656.2" cy="306.6" r="3.05"/><circle cx="656.2" cy="306.4" r="3.05"/></g>
<g class="c" fill="#3e2c00"><circle cx="657.1" cy="312.0" r="3.05"/><circle cx="657.1" cy="314.4" r="3.05"/><circle cx="657.1" cy="311.2" r="3.05"/><circle cx="657.2" cy="308.4" r="3.05"/><circle cx="657.2" cy="305.4" r="3.05"/><circle cx="657.3" cy="299.0" r="3.05"/><circle cx="657.3" cy="304.8" r="3.05"/><circle cx="657.3" cy="298.5" r="3.05"/><circle cx="657.4" cy="300.0" r="3.05"/><circle cx="657.4" cy="300.4" r="3.05"/><circle cx="657.5" cy="300.9" r="3.05"/><circle cx="657.5" cy="297.8" r="3.05"/><circle cx="657.5" cy="298.7" r="3.05"/><circle cx="657.6" cy="287.2" r="3.05"/><circle cx="657.6" cy="292.4" r="3.05"/><circle cx="657.7" cy="293.5" r="3.05"/><circle cx="657.7" cy="287.9" r="3.05"/><circle cx="657.7" cy="283.9" r="3.05"/><circle cx="657.8" cy="286.3" r="3.05"/><circle cx="657.8" cy="285.0" r="3.05"/><circle cx="657.9" cy="286.4" r="3.05"/><circle cx="657.9" cy="293.8" r="3.05"/><circle cx="658.0" cy="291.5" r="3.05"/><circle cx="658.0" cy="290.2" r="3.05"/><circle cx="658.0" cy="293.5" r="3.05"/><circle cx="658.1" cy="304.0" r="3.05"/><circle cx="658.1" cy="296.5" r="3.05"/><circle cx="658.2" cy="303.4" r="3.05"/><circle cx="658.2" cy="303.6" r="3.05"/><circle cx="658.2" cy="308.6" r="3.05"/><circle cx="658.3" cy="305.7" r="3.05"/><circle cx="658.3" cy="305.2" r="3.05"/><circle cx="658.4" cy="308.1" r="3.05"/><circle cx="658.4" cy="308.6" r="3.05"/><circle cx="658.4" cy="318.1" r="3.05"/><circle cx="658.5" cy="316.2" r="3.05"/><circle cx="658.5" cy="316.4" r="3.05"/><circle cx="658.6" cy="318.1" r="3.05"/><circle cx="658.6" cy="317.4" r="3.05"/><circle cx="658.6" cy="312.8" r="3.05"/></g>
<g class="c" fill="#3e2c00"><circle cx="658.7" cy="294.5" r="3.05"/><circle cx="658.7" cy="299.2" r="3.05"/><circle cx="658.7" cy="298.5" r="3.05"/><circle cx="658.8" cy="300.7" r="3.05"/><circle cx="658.8" cy="302.4" r="3.05"/><circle cx="658.9" cy="300.0" r="3.05"/><circle cx="658.9" cy="303.2" r="3.05"/><circle cx="658.9" cy="307.5" r="3.05"/><circle cx="659.0" cy="307.7" r="3.05"/><circle cx="659.0" cy="308.7" r="3.05"/><circle cx="659.1" cy="307.5" r="3.05"/><circle cx="659.1" cy="308.6" r="3.05"/><circle cx="659.1" cy="308.7" r="3.05"/><circle cx="659.2" cy="311.4" r="3.05"/><circle cx="659.2" cy="313.3" r="3.05"/><circle cx="659.3" cy="311.3" r="3.05"/><circle cx="659.3" cy="317.7" r="3.05"/><circle cx="659.3" cy="315.5" r="3.05"/><circle cx="659.4" cy="317.4" r="3.05"/><circle cx="659.4" cy="316.9" r="3.05"/><circle cx="659.5" cy="312.8" r="3.05"/><circle cx="659.5" cy="308.4" r="3.05"/><circle cx="659.6" cy="313.8" r="3.05"/><circle cx="659.6" cy="311.1" r="3.05"/><circle cx="659.6" cy="308.2" r="3.05"/><circle cx="659.7" cy="310.2" r="3.05"/><circle cx="659.7" cy="308.4" r="3.05"/><circle cx="659.8" cy="302.5" r="3.05"/><circle cx="659.8" cy="303.4" r="3.05"/><circle cx="659.8" cy="298.0" r="3.05"/><circle cx="659.9" cy="300.3" r="3.05"/><circle cx="659.9" cy="303.0" r="3.05"/><circle cx="660.0" cy="296.2" r="3.05"/><circle cx="660.0" cy="298.9" r="3.05"/><circle cx="660.0" cy="292.8" r="3.05"/><circle cx="660.1" cy="293.6" r="3.05"/><circle cx="660.1" cy="295.3" r="3.05"/><circle cx="660.2" cy="298.1" r="3.05"/><circle cx="660.2" cy="296.4" r="3.05"/><circle cx="660.3" cy="298.4" r="3.05"/></g>
<g class="c" fill="#002c17"><circle cx="661.0" cy="291.6" r="3.05"/><circle cx="661.0" cy="292.4" r="3.05"/><circle cx="661.1" cy="292.1" r="3.05"/><circle cx="661.1" cy="292.1" r="3.05"/><circle cx="661.2" cy="291.7" r="3.05"/><circle cx="661.2" cy="293.1" r="3.05"/><circle cx="661.3" cy="293.4" r="3.05"/><circle cx="661.3" cy="295.0" r="3.05"/><circle cx="661.3" cy="295.5" r="3.05"/><circle cx="661.4" cy="296.5" r="3.05"/><circle cx="661.4" cy="296.5" r="3.05"/><circle cx="661.5" cy="295.0" r="3.05"/><circle cx="661.5" cy="298.6" r="3.05"/><circle cx="661.5" cy="293.8" r="3.05"/><circle cx="661.6" cy="298.0" r="3.05"/><circle cx="661.6" cy="298.8" r="3.05"/><circle cx="661.7" cy="298.2" r="3.05"/><circle cx="661.7" cy="301.9" r="3.05"/><circle cx="661.7" cy="298.6" r="3.05"/><circle cx="661.8" cy="299.0" r="3.05"/><circle cx="661.8" cy="300.4" r="3.05"/><circle cx="661.9" cy="302.1" r="3.05"/><circle cx="661.9" cy="303.1" r="3.05"/><circle cx="661.9" cy="302.8" r="3.05"/><circle cx="662.0" cy="304.0" r="3.05"/><circle cx="662.0" cy="302.8" r="3.05"/><circle cx="662.1" cy="303.4" r="3.05"/><circle cx="662.1" cy="305.1" r="3.05"/><circle cx="662.2" cy="303.1" r="3.05"/><circle cx="662.2" cy="304.6" r="3.05"/><circle cx="662.2" cy="303.3" r="3.05"/><circle cx="662.3" cy="304.2" r="3.05"/><circle cx="662.3" cy="301.4" r="3.05"/><circle cx="662.4" cy="301.5" r="3.05"/><circle cx="662.4" cy="300.9" r="3.05"/><circle cx="662.4" cy="300.6" r="3.05"/><circle cx="662.5" cy="299.3" r="3.05"/><circle cx="662.5" cy="299.7" r="3.05"/><circle cx="662.6" cy="297.8" r="3.05"/><circle cx="662.6" cy="299.7" r="3.05"/></g>
<g fill="#bebe5a"><circle cx="664.8" cy="293.3" r="2.92"/></g>
<g class="c" fill="#2c2c12"><circle cx="663.4" cy="302.3" r="3.05"/><circle cx="663.4" cy="301.8" r="3.05"/><circle cx="663.4" cy="304.5" r="3.05"/><circle cx="663.5" cy="305.1" r="3.05"/><circle cx="663.5" cy="305.4" r="3.05"/><circle cx="663.6" cy="305.7" r="3.05"/><circle cx="663.6" cy="307.6" r="3.05"/><circle cx="663.6" cy="305.6" r="3.05"/><circle cx="663.7" cy="305.1" r="3.05"/><circle cx="663.7" cy="305.2" r="3.05"/><circle cx="663.8" cy="305.0" r="3.05"/><circle cx="663.8" cy="304.2" r="3.05"/><circle cx="663.9" cy="301.4" r="3.05"/><circle cx="663.9" cy="303.2" r="3.05"/><circle cx="663.9" cy="298.9" r="3.05"/><circle cx="664.0" cy="299.4" r="3.05"/><circle cx="664.0" cy="300.7" r="3.05"/><circle cx="664.1" cy="301.4" r="3.05"/><circle cx="664.1" cy="297.3" r="3.05"/><circle cx="664.1" cy="295.7" r="3.05"/><circle cx="664.2" cy="294.8" r="3.05"/><circle cx="664.2" cy="292.8" r="3.05"/><circle cx="664.3" cy="293.4" r="3.05"/><circle cx="664.3" cy="292.8" r="3.05"/><circle cx="664.3" cy="292.8" r="3.05"/><circle cx="664.4" cy="296.4" r="3.05"/><circle cx="664.4" cy="294.4" r="3.05"/><circle cx="664.5" cy="298.8" r="3.05"/><circle cx="664.5" cy="298.5" r="3.05"/><circle cx="664.5" cy="299.1" r="3.05"/><circle cx="664.6" cy="298.2" r="3.05"/><circle cx="664.6" cy="299.1" r="3.05"/><circle cx="664.7" cy="297.9" r="3.05"/><circle cx="664.7" cy="302.0" r="3.05"/><circle cx="664.8" cy="302.1" r="3.05"/><circle cx="664.8" cy="303.9" r="3.05"/><circle cx="664.8" cy="303.2" r="3.05"/><circle cx="664.9" cy="305.8" r="3.05"/><circle cx="664.9" cy="303.8" r="3.05"/><circle cx="665.0" cy="303.7" r="3.05"/></g>
<g class="c" fill="#350046"><circle cx="665.7" cy="297.3" r="3.05"/><circle cx="665.8" cy="299.3" r="3.05"/><circle cx="665.8" cy="300.7" r="3.05"/><circle cx="665.8" cy="298.1" r="3.05"/><circle cx="665.9" cy="298.1" r="3.05"/><circle cx="665.9" cy="297.2" r="3.05"/><circle cx="666.0" cy="299.2" r="3.05"/><circle cx="666.0" cy="297.0" r="3.05"/><circle cx="666.0" cy="293.3" r="3.05"/><circle cx="666.1" cy="293.6" r="3.05"/><circle cx="666.1" cy="292.5" r="3.05"/><circle cx="666.2" cy="292.5" r="3.05"/><circle cx="666.2" cy="292.5" r="3.05"/><circle cx="666.2" cy="295.4" r="3.05"/><circle cx="666.3" cy="294.8" r="3.05"/><circle cx="666.3" cy="296.5" r="3.05"/><circle cx="666.4" cy="296.2" r="3.05"/><circle cx="666.4" cy="296.6" r="3.05"/><circle cx="666.5" cy="298.1" r="3.05"/><circle cx="666.5" cy="298.7" r="3.05"/><circle cx="666.5" cy="302.1" r="3.05"/><circle cx="666.6" cy="302.8" r="3.05"/><circle cx="666.6" cy="301.7" r="3.05"/><circle cx="666.7" cy="302.8" r="3.05"/><circle cx="666.7" cy="300.2" r="3.05"/><circle cx="666.7" cy="303.4" r="3.05"/><circle cx="666.8" cy="306.0" r="3.05"/><circle cx="666.8" cy="304.2" r="3.05"/><circle cx="666.9" cy="306.0" r="3.05"/><circle cx="666.9" cy="306.0" r="3.05"/><circle cx="666.9" cy="303.9" r="3.05"/><circle cx="667.0" cy="303.4" r="3.05"/><circle cx="667.0" cy="302.2" r="3.05"/><circle cx="667.1" cy="303.1" r="3.05"/><circle cx="667.1" cy="301.3" r="3.05"/><circle cx="667.2" cy="302.4" r="3.05"/><circle cx="667.2" cy="301.2" r="3.05"/><circle cx="667.2" cy="298.8" r="3.05"/><circle cx="667.3" cy="301.4" r="3.05"/><circle cx="667.3" cy="296.8" r="3.05"/></g>
<g class="c" fill="#35461c"><circle cx="668.1" cy="292.5" r="3.05"/><circle cx="668.1" cy="295.8" r="3.05"/><circle cx="668.2" cy="292.7" r="3.05"/><circle cx="668.2" cy="293.9" r="3.05"/><circle cx="668.2" cy="295.8" r="3.05"/><circle cx="668.3" cy="297.4" r="3.05"/><circle cx="668.3" cy="299.5" r="3.05"/><circle cx="668.4" cy="298.4" r="3.05"/><circle cx="668.4" cy="303.0" r="3.05"/><circle cx="668.4" cy="300.6" r="3.05"/><circle cx="668.5" cy="302.0" r="3.05"/><circle cx="668.5" cy="303.3" r="3.05"/><circle cx="668.6" cy="306.0" r="3.05"/><circle cx="668.6" cy="305.5" r="3.05"/><circle cx="668.6" cy="305.9" r="3.05"/><circle cx="668.7" cy="305.9" r="3.05"/><circle cx="668.7" cy="307.6" r="3.05"/><circle cx="668.8" cy="307.3" r="3.05"/><circle cx="668.8" cy="305.2" r="3.05"/><circle cx="668.8" cy="304.8" r="3.05"/><circle cx="668.9" cy="301.0" r="3.05"/><circle cx="668.9" cy="302.2" r="3.05"/><circle cx="669.0" cy="304.1" r="3.05"/><circle cx="669.0" cy="303.6" r="3.05"/><circle cx="669.1" cy="300.3" r="3.05"/><circle cx="669.1" cy="296.0" r="3.05"/><circle cx="669.1" cy="301.6" r="3.05"/><circle cx="669.2" cy="297.5" r="3.05"/><circle cx="669.2" cy="301.0" r="3.05"/><circle cx="669.3" cy="295.3" r="3.05"/><circle cx="669.3" cy="296.7" r="3.05"/><circle cx="669.3" cy="293.2" r="3.05"/><circle cx="669.4" cy="295.5" r="3.05"/><circle cx="669.4" cy="294.3" r="3.05"/><circle cx="669.5" cy="290.9" r="3.05"/><circle cx="669.5" cy="293.3" r="3.05"/><circle cx="669.5" cy="296.7" r="3.05"/><circle cx="669.6" cy="292.6" r="3.05"/><circle cx="669.6" cy="291.9" r="3.05"/><circle cx="669.7" cy="295.2" r="3.05"/></g>
<g fill="#6b8e23"><circle cx="669.5" cy="291.0" r="2.92"/></g>
<g class="c" fill="#4f2c00"><circle cx="670.4" cy="303.5" r="3.05"/><circle cx="670.5" cy="305.2" r="3.05"/><circle cx="670.5" cy="305.5" r="3.05"/><circle cx="670.5" cy="303.2" r="3.05"/><circle cx="670.6" cy="304.7" r="3.05"/><circle cx="670.6" cy="301.5" r="3.05"/><circle cx="670.7" cy="302.3" r="3.05"/><circle cx="670.7" cy="303.0" r="3.05"/><circle cx="670.8" cy="300.9" r="3.05"/><circle cx="670.8" cy="300.9" r="3.05"/><circle cx="670.8" cy="301.4" r="3.05"/><circle cx="670.9" cy="302.0" r="3.05"/><circle cx="670.9" cy="301.1" r="3.05"/><circle cx="671.0" cy="299.4" r="3.05"/><circle cx="671.0" cy="297.9" r="3.05"/><circle cx="671.0" cy="295.8" r="3.05"/><circle cx="671.1" cy="299.5" r="3.05"/><circle cx="671.1" cy="299.1" r="3.05"/><circle cx="671.2" cy="293.2" r="3.05"/><circle cx="671.2" cy="296.7" r="3.05"/><circle cx="671.2" cy="294.9" r="3.05"/><circle cx="671.3" cy="295.3" r="3.05"/><circle cx="671.3" cy="294.2" r="3.05"/><circle cx="671.4" cy="293.0" r="3.05"/><circle cx="671.4" cy="292.7" r="3.05"/><circle cx="671.5" cy="292.1" r="3.05"/><circle cx="671.5" cy="293.2" r="3.05"/><circle cx="671.5" cy="291.6" r="3.05"/><circle cx="671.6" cy="292.1" r="3.05"/><circle cx="671.6" cy="294.2" r="3.05"/><circle cx="671.7" cy="294.8" r="3.05"/><circle cx="671.7" cy="295.0" r="3.05"/><circle cx="671.7" cy="295.4" r="3.05"/><circle cx="671.8" cy="297.5" r="3.05"/><circle cx="671.8" cy="297.6" r="3.05"/><circle cx="671.9" cy="297.0" r="3.05"/><circle cx="671.9" cy="296.9" r="3.05"/><circle cx="671.9" cy="298.7" r="3.05"/><circle cx="672.0" cy="295.8" r="3.05"/><circle cx="672.0" cy="298.2" r="3.05"/></g>
<g class="c" fill="#2c0054"><circle cx="672.8" cy="294.2" r="3.05"/><circle cx="672.8" cy="294.1" r="3.05"/><circle cx="672.9" cy="292.2" r="3.05"/><circle cx="672.9" cy="294.5" r="3.05"/><circle cx="672.9" cy="293.6" r="3.05"/><circle cx="673.0" cy="294.4" r="3.05"/><circle cx="673.0" cy="295.5" r="3.05"/><circle cx="673.1" cy="293.9" r="3.05"/><circle cx="673.1" cy="294.1" r="3.05"/><circle cx="673.1" cy="294.7" r="3.05"/><circle cx="673.2" cy="296.6" r="3.05"/><circle cx="673.2" cy="298.6" r="3.05"/><circle cx="673.3" cy="296.2" r="3.05"/><circle cx="673.3" cy="297.7" r="3.05"/><circle cx="673.4" cy="297.1" r="3.05"/><circle cx="673.4" cy="302.7" r="3.05"/><circle cx="673.4" cy="301.6" r="3.05"/><circle cx="673.5" cy="301.5" r="3.05"/><circle cx="673.5" cy="300.0" r="3.05"/><circle cx="673.6" cy="301.0" r="3.05"/><circle cx="673.6" cy="302.2" r="3.05"/><circle cx="673.6" cy="303.9" r="3.05"/><circle cx="673.7" cy="302.7" r="3.05"/><circle cx="673.7" cy="304.9" r="3.05"/><circle cx="673.8" cy="307.3" r="3.05"/><circle cx="673.8" cy="306.6" r="3.05"/><circle cx="673.8" cy="307.3" r="3.05"/><circle cx="673.9" cy="303.7" r="3.05"/><circle cx="673.9" cy="305.7" r="3.05"/><circle cx="674.0" cy="305.2" r="3.05"/><circle cx="674.0" cy="303.7" r="3.05"/><circle cx="674.1" cy="302.1" r="3.05"/><circle cx="674.1" cy="303.3" r="3.05"/><circle cx="674.1" cy="301.2" r="3.05"/><circle cx="674.2" cy="301.2" r="3.05"/><circle cx="674.2" cy="299.0" r="3.05"/><circle cx="674.3" cy="300.5" r="3.05"/><circle cx="674.3" cy="301.3" r="3.05"/><circle cx="674.3" cy="298.1" r="3.05"/><circle cx="674.4" cy="299.1" r="3.05"/></g>
<g class="c" fill="#350009"><circle cx="675.1" cy="299.5" r="3.05"/><circle cx="675.2" cy="301.5" r="3.05"/><circle cx="675.2" cy="304.0" r="3.05"/><circle cx="675.3" cy="307.6" r="3.05"/><circle cx="675.3" cy="305.7" r="3.05"/><circle cx="675.3" cy="304.6" r="3.05"/><circle cx="675.4" cy="307.6" r="3.05"/><circle cx="675.4" cy="307.6" r="3.05"/><circle cx="675.5" cy="305.5" r="3.05"/><circle cx="675.5" cy="301.9" r="3.05"/><circle cx="675.5" cy="300.9" r="3.05"/><circle cx="675.6" cy="300.7" r="3.05"/><circle cx="675.6" cy="305.2" r="3.05"/><circle cx="675.7" cy="302.2" r="3.05"/><circle cx="675.7" cy="299.2" r="3.05"/><circle cx="675.8" cy="301.9" r="3.05"/><circle cx="675.8" cy="301.6" r="3.05"/><circle cx="675.8" cy="296.6" r="3.05"/><circle cx="675.9" cy="298.1" r="3.05"/><circle cx="675.9" cy="293.5" r="3.05"/><circle cx="676.0" cy="296.2" r="3.05"/><circle cx="676.0" cy="297.9" r="3.05"/><circle cx="676.0" cy="291.2" r="3.05"/><circle cx="676.1" cy="293.0" r="3.05"/><circle cx="676.1" cy="290.8" r="3.05"/><circle cx="676.2" cy="291.0" r="3.05"/><circle cx="676.2" cy="290.4" r="3.05"/><circle cx="676.2" cy="289.1" r="3.05"/><circle cx="676.3" cy="291.3" r="3.05"/><circle cx="676.3" cy="291.5" r="3.05"/><circle cx="676.4" cy="293.3" r="3.05"/><circle cx="676.4" cy="294.2" r="3.05"/><circle cx="676.4" cy="295.2" r="3.05"/><circle cx="676.5" cy="292.9" r="3.05"/><circle cx="676.5" cy="295.7" r="3.05"/><circle cx="676.6" cy="295.2" r="3.05"/><circle cx="676.6" cy="295.2" r="3.05"/><circle cx="676.7" cy="301.1" r="3.05"/><circle cx="676.7" cy="299.0" r="3.05"/><circle cx="676.7" cy="299.4" r="3.05"/></g>
<g class="c" fill="#352323"><circle cx="677.5" cy="300.0" r="3.05"/><circle cx="677.5" cy="298.2" r="3.05"/><circle cx="677.6" cy="299.1" r="3.05"/><circle cx="677.6" cy="300.4" r="3.05"/><circle cx="677.7" cy="301.1" r="3.05"/><circle cx="677.7" cy="304.0" r="3.05"/><circle cx="677.7" cy="304.2" r="3.05"/><circle cx="677.8" cy="304.2" r="3.05"/><circle cx="677.8" cy="304.7" r="3.05"/><circle cx="677.9" cy="305.8" r="3.05"/><circle cx="677.9" cy="309.1" r="3.05"/><circle cx="677.9" cy="307.5" r="3.05"/><circle cx="678.0" cy="309.1" r="3.05"/><circle cx="678.0" cy="305.9" r="3.05"/><circle cx="678.1" cy="307.9" r="3.05"/><circle cx="678.1" cy="307.5" r="3.05"/><circle cx="678.1" cy="307.5" r="3.05"/><circle cx="678.2" cy="305.1" r="3.05"/><circle cx="678.2" cy="304.6" r="3.05"/><circle cx="678.3" cy="303.2" r="3.05"/><circle cx="678.3" cy="303.4" r="3.05"/><circle cx="678.4" cy="304.1" r="3.05"/><circle cx="678.4" cy="300.2" r="3.05"/><circle cx="678.4" cy="297.7" r="3.05"/><circle cx="678.5" cy="299.0" r="3.05"/><circle cx="678.5" cy="296.9" r="3.05"/><circle cx="678.6" cy="297.2" r="3.05"/><circle cx="678.6" cy="296.4" r="3.05"/><circle cx="678.6" cy="294.5" r="3.05"/><circle cx="678.7" cy="293.0" r="3.05"/><circle cx="678.7" cy="294.1" r="3.05"/><circle cx="678.8" cy="293.0" r="3.05"/><circle cx="678.8" cy="295.9" r="3.05"/><circle cx="678.8" cy="295.0" r="3.05"/><circle cx="678.9" cy="298.0" r="3.05"/><circle cx="678.9" cy="298.4" r="3.05"/><circle cx="679.0" cy="298.9" r="3.05"/><circle cx="679.0" cy="298.2" r="3.05"/><circle cx="679.0" cy="301.2" r="3.05"/><circle cx="679.1" cy="300.9" r="3.05"/></g>
<g fill="#8fbc8f"><circle cx="682.0" cy="289.0" r="2.92"/><circle cx="682.0" cy="292.0" r="2.92"/></g>
<g class="c" fill="#1a2c1a"><circle cx="679.8" cy="302.5" r="3.05"/><circle cx="679.9" cy="302.5" r="3.05"/><circle cx="679.9" cy="299.8" r="3.05"/><circle cx="680.0" cy="298.1" r="3.05"/><circle cx="680.0" cy="301.0" r="3.05"/><circle cx="680.1" cy="295.8" r="3.05"/><circle cx="680.1" cy="292.2" r="3.05"/><circle cx="680.1" cy="294.7" r="3.05"/><circle cx="680.2" cy="294.2" r="3.05"/><circle cx="680.2" cy="290.5" r="3.05"/><circle cx="680.3" cy="289.1" r="3.05"/><circle cx="680.3" cy="295.0" r="3.05"/><circle cx="680.3" cy="290.1" r="3.05"/><circle cx="680.4" cy="290.9" r="3.05"/><circle cx="680.4" cy="289.1" r="3.05"/><circle cx="680.5" cy="289.1" r="3.05"/><circle cx="680.5" cy="291.7" r="3.05"/><circle cx="680.5" cy="295.8" r="3.05"/><circle cx="680.6" cy="292.5" r="3.05"/><circle cx="680.6" cy="291.2" r="3.05"/><circle cx="680.7" cy="295.4" r="3.05"/><circle cx="680.7" cy="296.2" r="3.05"/><circle cx="680.7" cy="297.7" r="3.05"/><circle cx="680.8" cy="296.5" r="3.05"/><circle cx="680.8" cy="298.9" r="3.05"/><circle cx="680.9" cy="299.4" r="3.05"/><circle cx="680.9" cy="303.3" r="3.05"/><circle cx="681.0" cy="302.7" r="3.05"/><circle cx="681.0" cy="305.1" r="3.05"/><circle cx="681.0" cy="304.1" r="3.05"/><circle cx="681.1" cy="300.6" r="3.05"/><circle cx="681.1" cy="302.0" r="3.05"/><circle cx="681.2" cy="308.2" r="3.05"/><circle cx="681.2" cy="309.8" r="3.05"/><circle cx="681.2" cy="310.8" r="3.05"/><circle cx="681.3" cy="309.7" r="3.05"/><circle cx="681.3" cy="307.0" r="3.05"/><circle cx="681.4" cy="309.1" r="3.05"/><circle cx="681.4" cy="310.1" r="3.05"/><circle cx="681.4" cy="310.9" r="3.05"/></g>
<g class="c" fill="#230035"><circle cx="683.2" cy="308.5" r="3.05"/><circle cx="683.2" cy="317.1" r="3.05"/><circle cx="683.2" cy="308.6" r="3.05"/><circle cx="683.3" cy="305.9" r="3.05"/><circle cx="683.3" cy="304.5" r="3.05"/><circle cx="683.4" cy="305.6" r="3.05"/><circle cx="683.4" cy="312.5" r="3.05"/><circle cx="683.4" cy="312.1" r="3.05"/><circle cx="683.5" cy="300.9" r="3.05"/><circle cx="683.5" cy="301.2" r="3.05"/><circle cx="683.6" cy="302.3" r="3.05"/><circle cx="683.6" cy="301.8" r="3.05"/><circle cx="683.6" cy="298.3" r="3.05"/><circle cx="683.7" cy="294.2" r="3.05"/><circle cx="683.7" cy="296.2" r="3.05"/><circle cx="683.8" cy="294.3" r="3.05"/><circle cx="683.8" cy="290.3" r="3.05"/><circle cx="683.8" cy="294.3" r="3.05"/><circle cx="683.9" cy="289.7" r="3.05"/><circle cx="683.9" cy="289.7" r="3.05"/><circle cx="684.0" cy="294.5" r="3.05"/><circle cx="684.0" cy="292.7" r="3.05"/><circle cx="684.1" cy="295.1" r="3.05"/><circle cx="684.1" cy="292.8" r="3.05"/><circle cx="684.1" cy="292.5" r="3.05"/><circle cx="684.2" cy="294.5" r="3.05"/><circle cx="684.2" cy="292.3" r="3.05"/><circle cx="684.3" cy="299.0" r="3.05"/><circle cx="684.3" cy="298.9" r="3.05"/><circle cx="684.3" cy="298.5" r="3.05"/><circle cx="684.4" cy="295.6" r="3.05"/><circle cx="684.4" cy="301.3" r="3.05"/><circle cx="684.5" cy="307.0" r="3.05"/><circle cx="684.5" cy="307.7" r="3.05"/><circle cx="684.5" cy="307.3" r="3.05"/><circle cx="684.6" cy="305.2" r="3.05"/><circle cx="684.6" cy="307.6" r="3.05"/><circle cx="684.7" cy="309.9" r="3.05"/><circle cx="684.7" cy="310.1" r="3.05"/><circle cx="684.8" cy="313.5" r="3.05"/></g>
<g class="c" fill="#123535"><circle cx="684.6" cy="299.5" r="3.05"/><circle cx="684.6" cy="308.1" r="3.05"/><circle cx="684.6" cy="303.4" r="3.05"/><circle cx="684.7" cy="303.4" r="3.05"/><circle cx="684.7" cy="300.5" r="3.05"/><circle cx="684.8" cy="299.3" r="3.05"/><circle cx="684.8" cy="295.7" r="3.05"/><circle cx="684.8" cy="294.4" r="3.05"/><circle cx="684.9" cy="297.6" r="3.05"/><circle cx="684.9" cy="291.7" r="3.05"/><circle cx="685.0" cy="290.8" r="3.05"/><circle cx="685.0" cy="292.9" r="3.05"/><circle cx="685.0" cy="290.8" r="3.05"/><circle cx="685.1" cy="285.4" r="3.05"/><circle cx="685.1" cy="286.8" r="3.05"/><circle cx="685.2" cy="285.4" r="3.05"/><circle cx="685.2" cy="289.6" r="3.05"/><circle cx="685.2" cy="291.7" r="3.05"/><circle cx="685.3" cy="292.3" r="3.05"/><circle cx="685.3" cy="294.4" r="3.05"/><circle cx="685.4" cy="296.5" r="3.05"/><circle cx="685.4" cy="289.5" r="3.05"/><circle cx="685.5" cy="296.0" r="3.05"/><circle cx="685.5" cy="300.3" r="3.05"/><circle cx="685.5" cy="300.1" r="3.05"/><circle cx="685.6" cy="300.4" r="3.05"/><circle cx="685.6" cy="304.0" r="3.05"/><circle cx="685.7" cy="311.0" r="3.05"/><circle cx="685.7" cy="307.1" r="3.05"/><circle cx="685.7" cy="307.5" r="3.05"/><circle cx="685.8" cy="309.5" r="3.05"/><circle cx="685.8" cy="309.0" r="3.05"/><circle cx="685.9" cy="315.5" r="3.05"/><circle cx="685.9" cy="312.7" r="3.05"/><circle cx="685.9" cy="316.2" r="3.05"/><circle cx="686.0" cy="316.2" r="3.05"/><circle cx="686.0" cy="313.8" r="3.05"/><circle cx="686.1" cy="313.6" r="3.05"/><circle cx="686.1" cy="308.7" r="3.05"/><circle cx="686.1" cy="302.3" r="3.05"/></g>
<g class="c" fill="#150e28"><circle cx="686.9" cy="304.1" r="3.05"/><circle cx="687.0" cy="308.2" r="3.05"/><circle cx="687.0" cy="305.7" r="3.05"/><circle cx="687.0" cy="305.5" r="3.05"/><circle cx="687.1" cy="305.5" r="3.05"/><circle cx="687.1" cy="302.4" r="3.05"/><circle cx="687.2" cy="300.8" r="3.05"/><circle cx="687.2" cy="301.0" r="3.05"/><circle cx="687.2" cy="298.5" r="3.05"/><circle cx="687.3" cy="303.7" r="3.05"/><circle cx="687.3" cy="295.3" r="3.05"/><circle cx="687.4" cy="292.5" r="3.05"/><circle cx="687.4" cy="291.9" r="3.05"/><circle cx="687.4" cy="296.3" r="3.05"/><circle cx="687.5" cy="291.9" r="3.05"/><circle cx="687.5" cy="292.1" r="3.05"/><circle cx="687.6" cy="290.2" r="3.05"/><circle cx="687.6" cy="290.3" r="3.05"/><circle cx="687.6" cy="289.2" r="3.05"/><circle cx="687.7" cy="291.2" r="3.05"/><circle cx="687.7" cy="290.7" r="3.05"/><circle cx="687.8" cy="295.6" r="3.05"/><circle cx="687.8" cy="295.6" r="3.05"/><circle cx="687.9" cy="292.3" r="3.05"/><circle cx="687.9" cy="294.0" r="3.05"/><circle cx="687.9" cy="298.7" r="3.05"/><circle cx="688.0" cy="301.2" r="3.05"/><circle cx="688.0" cy="301.3" r="3.05"/><circle cx="688.1" cy="300.2" r="3.05"/><circle cx="688.1" cy="304.2" r="3.05"/><circle cx="688.1" cy="297.1" r="3.05"/><circle cx="688.2" cy="302.5" r="3.05"/><circle cx="688.2" cy="302.5" r="3.05"/><circle cx="688.3" cy="303.5" r="3.05"/><circle cx="688.3" cy="308.3" r="3.05"/><circle cx="688.3" cy="308.7" r="3.05"/><circle cx="688.4" cy="309.7" r="3.05"/><circle cx="688.4" cy="309.8" r="3.05"/><circle cx="688.5" cy="312.6" r="3.05"/><circle cx="688.5" cy="313.4" r="3.05"/></g>
<g class="c" fill="#150e28"><circle cx="689.3" cy="294.5" r="3.05"/><circle cx="689.3" cy="291.1" r="3.05"/><circle cx="689.3" cy="292.2" r="3.05"/><circle cx="689.4" cy="293.6" r="3.05"/><circle cx="689.4" cy="290.2" r="3.05"/><circle cx="689.5" cy="297.1" r="3.05"/><circle cx="689.5" cy="297.7" r="3.05"/><circle cx="689.6" cy="296.9" r="3.05"/><circle cx="689.6" cy="296.2" r="3.05"/><circle cx="689.6" cy="301.2" r="3.05"/><circle cx="689.7" cy="294.0" r="3.05"/><circle cx="689.7" cy="300.3" r="3.05"/><circle cx="689.8" cy="305.9" r="3.05"/><circle cx="689.8" cy="305.1" r="3.05"/><circle cx="689.8" cy="312.5" r="3.05"/><circle cx="689.9" cy="306.7" r="3.05"/><circle cx="689.9" cy="306.7" r="3.05"/><circle cx="690.0" cy="310.8" r="3.05"/><circle cx="690.0" cy="314.3" r="3.05"/><circle cx="690.0" cy="314.3" r="3.05"/><circle cx="690.1" cy="308.6" r="3.05"/><circle cx="690.1" cy="311.5" r="3.05"/><circle cx="690.2" cy="312.5" r="3.05"/><circle cx="690.2" cy="306.4" r="3.05"/><circle cx="690.2" cy="305.4" r="3.05"/><circle cx="690.3" cy="302.1" r="3.05"/><circle cx="690.3" cy="305.2" r="3.05"/><circle cx="690.4" cy="303.8" r="3.05"/><circle cx="690.4" cy="301.7" r="3.05"/><circle cx="690.5" cy="299.4" r="3.05"/><circle cx="690.5" cy="299.6" r="3.05"/><circle cx="690.5" cy="295.4" r="3.05"/><circle cx="690.6" cy="295.9" r="3.05"/><circle cx="690.6" cy="294.6" r="3.05"/><circle cx="690.7" cy="294.1" r="3.05"/><circle cx="690.7" cy="292.0" r="3.05"/><circle cx="690.7" cy="292.6" r="3.05"/><circle cx="690.8" cy="295.5" r="3.05"/><circle cx="690.8" cy="291.8" r="3.05"/><circle cx="690.9" cy="292.8" r="3.05"/></g>
<g class="c" fill="#7200a9"><circle cx="691.6" cy="289.6" r="3.05"/><circle cx="691.7" cy="289.1" r="3.05"/><circle cx="691.7" cy="291.9" r="3.05"/><circle cx="691.7" cy="289.2" r="3.05"/><circle cx="691.8" cy="295.4" r="3.05"/><circle cx="691.8" cy="291.3" r="3.05"/><circle cx="691.9" cy="295.3" r="3.05"/><circle cx="691.9" cy="294.7" r="3.05"/><circle cx="691.9" cy="292.4" r="3.05"/><circle cx="692.0" cy="293.6" r="3.05"/><circle cx="692.0" cy="295.8" r="3.05"/><circle cx="692.1" cy="296.7" r="3.05"/><circle cx="692.1" cy="296.5" r="3.05"/><circle cx="692.2" cy="297.7" r="3.05"/><circle cx="692.2" cy="298.5" r="3.05"/><circle cx="692.2" cy="297.5" r="3.05"/><circle cx="692.3" cy="299.6" r="3.05"/><circle cx="692.3" cy="301.7" r="3.05"/><circle cx="692.4" cy="300.0" r="3.05"/><circle cx="692.4" cy="300.2" r="3.05"/><circle cx="692.4" cy="301.7" r="3.05"/><circle cx="692.5" cy="301.7" r="3.05"/><circle cx="692.5" cy="301.4" r="3.05"/><circle cx="692.6" cy="298.7" r="3.05"/><circle cx="692.6" cy="298.7" r="3.05"/><circle cx="692.6" cy="298.5" r="3.05"/><circle cx="692.7" cy="297.3" r="3.05"/><circle cx="692.7" cy="297.4" r="3.05"/><circle cx="692.8" cy="297.6" r="3.05"/><circle cx="692.8" cy="296.3" r="3.05"/><circle cx="692.9" cy="295.0" r="3.05"/><circle cx="692.9" cy="294.1" r="3.05"/><circle cx="692.9" cy="296.0" r="3.05"/><circle cx="693.0" cy="291.6" r="3.05"/><circle cx="693.0" cy="295.0" r="3.05"/><circle cx="693.1" cy="292.7" r="3.05"/><circle cx="693.1" cy="291.3" r="3.05"/><circle cx="693.1" cy="289.7" r="3.05"/><circle cx="693.2" cy="292.2" r="3.05"/><circle cx="693.2" cy="290.8" r="3.05"/></g>
<g fill="#500030"><circle cx="542.3" cy="317.1" r="2.92"/></g>
<g fill="#ff1493"><circle cx="542.3" cy="316.0" r="2.92"/><circle cx="542.3" cy="314.4" r="2.92"/><circle cx="542.3" cy="312.8" r="2.92"/><circle cx="542.3" cy="311.2" r="2.92"/></g>
<g fill="#0a2a3c"><circle cx="542.5" cy="309.4" r="2.92"/><circle cx="542.5" cy="307.8" r="2.92"/></g>
<g fill="#1e961e"><circle cx="552.9" cy="313.9" r="2.92"/></g>
<g fill="#0a3c0a"><circle cx="552.5" cy="311.6" r="2.92"/></g>
<g fill="#adff2f"><circle cx="567.4" cy="283.2" r="2.92"/><circle cx="567.4" cy="280.4" r="2.92"/></g>
<g fill="#50143c"><circle cx="568.2" cy="310.5" r="2.92"/><circle cx="568.2" cy="311.9" r="2.92"/><circle cx="568.2" cy="313.2" r="2.92"/><circle cx="568.2" cy="314.6" r="2.92"/><circle cx="568.2" cy="316.0" r="2.92"/></g>
<g fill="#ff69b4"><circle cx="569.8" cy="309.6" r="2.92"/></g>
<g fill="#46143c"><circle cx="567.6" cy="308.0" r="2.92"/><circle cx="567.6" cy="306.5" r="2.92"/></g>
<g fill="#f08080"><circle cx="588.4" cy="286.4" r="2.92"/></g>
<g fill="#50282a"><circle cx="586.2" cy="288.6" r="2.92"/></g>
<g fill="#ffa07a"><circle cx="598.4" cy="285.4" r="2.92"/></g>
<g fill="#960000"><circle cx="617.5" cy="297.0" r="2.92"/><circle cx="617.5" cy="295.1" r="2.92"/><circle cx="617.5" cy="293.1" r="2.92"/><circle cx="617.5" cy="291.2" r="2.92"/><circle cx="617.5" cy="289.3" r="2.92"/><circle cx="617.5" cy="287.3" r="2.92"/><circle cx="617.5" cy="285.4" r="2.92"/><circle cx="617.5" cy="283.5" r="2.92"/><circle cx="617.5" cy="281.5" r="2.92"/><circle cx="617.5" cy="279.6" r="2.92"/></g>
<g fill="#66cdaa"><circle cx="617.4" cy="303.0" r="2.92"/></g>
<g fill="#1e463c"><circle cx="617.4" cy="304.5" r="2.92"/></g>
<g fill="#66cdaa"><circle cx="617.4" cy="306.4" r="2.92"/></g>
<g fill="#ff8c00"><circle cx="630.3" cy="285.5" r="2.92"/></g>
<g fill="#b0c4de"><circle cx="607.0" cy="314.5" r="2.92"/></g>
<g fill="#0a3c0a"><circle cx="621.0" cy="316.0" r="2.92"/></g>
<g fill="#008000"><circle cx="621.5" cy="313.5" r="2.92"/></g>
<g fill="#c8960a"><circle cx="656.3" cy="282.5" r="2.92"/></g>
<g fill="#1e4a4a"><circle cx="685.4" cy="287.5" r="2.92"/><circle cx="685.4" cy="285.6" r="2.92"/></g>
<g fill="#9400d3"><circle cx="692.3" cy="314.0" r="2.92"/><circle cx="692.3" cy="312.0" r="2.92"/><circle cx="692.3" cy="309.9" r="2.92"/><circle cx="692.3" cy="307.9" r="2.92"/><circle cx="692.3" cy="305.8" r="2.92"/><circle cx="692.3" cy="303.8" r="2.92"/><circle cx="692.3" cy="301.8" r="2.92"/><circle cx="692.3" cy="299.7" r="2.92"/><circle cx="692.3" cy="297.7" r="2.92"/><circle cx="692.3" cy="295.6" r="2.92"/><circle cx="692.3" cy="293.6" r="2.92"/><circle cx="692.3" cy="291.5" r="2.92"/><circle cx="692.3" cy="289.5" r="2.92"/></g>
<g fill="#a000dc"><circle cx="692.4" cy="291.0" r="2.92"/></g>
<g fill="#ff1493"><circle cx="692.4" cy="302.5" r="2.92"/></g>
<g fill="#282828"><circle cx="658.0" cy="308.0" r="2.92"/><circle cx="658.0" cy="309.7" r="2.92"/><circle cx="658.0" cy="311.3" r="2.92"/><circle cx="658.0" cy="313.0" r="2.92"/><circle cx="658.0" cy="314.7" r="2.92"/><circle cx="658.0" cy="316.3" r="2.92"/><circle cx="658.0" cy="318.0" r="2.92"/></g>
<g fill="#c8c8c8"><circle cx="658.7" cy="318.5" r="2.92"/></g>
<g fill="#18142e"><circle cx="684.0" cy="310.5" r="2.92"/><circle cx="684.0" cy="312.1" r="2.92"/><circle cx="684.0" cy="313.8" r="2.92"/><circle cx="684.0" cy="315.5" r="2.92"/><circle cx="684.0" cy="317.1" r="2.92"/></g>
<g class="s"><circle cx="558.5" cy="310.4" r=".9" fill="#ffd700"/><circle cx="561.3" cy="311.4" r=".9" fill="#ffd700"/><circle cx="578.0" cy="313.1" r=".9" fill="#e6e6fa"/><circle cx="582.3" cy="312.8" r=".9" fill="#7cfc00"/><circle cx="621.5" cy="292.0" r=".9" fill="#00c8dc"/><circle cx="625.5" cy="310.1" r=".9" fill="#e60000"/><circle cx="639.8" cy="308.9" r=".9" fill="#7cfc00"/><circle cx="640.5" cy="291.0" r=".9" fill="#ff8c00"/><circle cx="664.0" cy="292.7" r=".9" fill="#bebe5a"/><circle cx="669.3" cy="290.3" r=".9" fill="#6b8e23"/><circle cx="681.2" cy="288.5" r=".9" fill="#8fbc8f"/><circle cx="681.2" cy="291.3" r=".9" fill="#8fbc8f"/><circle cx="672.5" cy="294.5" r=".9" fill="#a01010"/><circle cx="673.8" cy="307.5" r=".9" fill="#a01010"/><circle cx="540.5" cy="295.0" r=".9" fill="#ff1493"/><circle cx="572.3" cy="290.3" r=".9" fill="#fa8072"/><circle cx="588.2" cy="291.3" r=".9" fill="#fffff0"/><circle cx="579.6" cy="283.8" r=".9" fill="#7cfc00"/><circle cx="578.6" cy="287.6" r=".9" fill="#7cfc00"/><circle cx="580.5" cy="286.0" r=".9" fill="#7cfc00"/></g>
</g>
<rect x="100.5" y="60.5" width="620" height="480" fill="none" stroke="#000" stroke-width="1.39"/>
<path d="M166.50 540.5v-6M166.50 60.5v6M260.50 540.5v-6M260.50 60.5v6M354.50 540.5v-6M354.50 60.5v6M448.50 540.5v-6M448.50 60.5v6M541.50 540.5v-6M541.50 60.5v6M635.50 540.5v-6M635.50 60.5v6M100.5 485.50h6M720.5 485.50h-6M100.5 423.50h6M720.5 423.50h-6M100.5 362.50h6M720.5 362.50h-6M100.5 300.50h6M720.5 300.50h-6M100.5 238.50h6M720.5 238.50h-6M100.5 177.50h6M720.5 177.50h-6M100.5 115.50h6M720.5 115.50h-6" stroke="#000" stroke-width=".7" fill="none"/>
<text class="tk" x="165.90" y="555" text-anchor="middle">20000</text>
<text class="tk" x="259.90" y="555" text-anchor="middle">25000</text>
<text class="tk" x="353.90" y="555" text-anchor="middle">30000</text>
<text class="tk" x="447.90" y="555" text-anchor="middle">35000</text>
<text class="tk" x="540.90" y="555" text-anchor="middle">40000</text>
<text class="tk" x="634.90" y="555" text-anchor="middle">45000</text>
<text class="tk" x="93" y="488.90" text-anchor="end">−150</text>
<text class="tk" x="93" y="426.90" text-anchor="end">−100</text>
<text class="tk" x="93" y="365.90" text-anchor="end">−50</text>
<text class="tk" x="93" y="303.90" text-anchor="end">0</text>
<text class="tk" x="93" y="241.90" text-anchor="end">50</text>
<text class="tk" x="93" y="180.90" text-anchor="end">100</text>
<text class="tk" x="93" y="118.90" text-anchor="end">150</text>
<text class="lb" x="409.5" y="573.5" text-anchor="middle">Frequency (MHz)</text>
<text class="lb" transform="translate(51,300) rotate(-90)" text-anchor="middle">Gain Phase (deg)</text>
<text class="tt" x="410.5" y="52.6" text-anchor="middle" xml:space="preserve">B table: testBPcal.b      Antenna='ea18'</text>
</svg>
</body></html>
